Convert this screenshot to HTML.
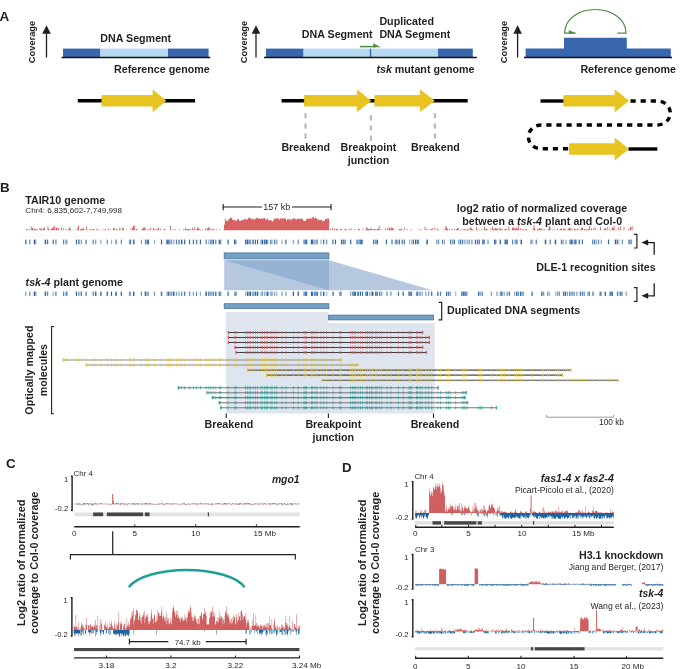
<!DOCTYPE html>
<html><head><meta charset="utf-8"><title>Figure</title>
<style>html,body{margin:0;padding:0;background:#fff;width:685px;height:669px;overflow:hidden}svg{display:block;will-change:transform}</style>
</head><body>
<svg width="685" height="669" viewBox="0 0 685 669" font-family='"Liberation Sans", sans-serif'>
<text x="-0.6" y="20.8" font-size="13.5" font-weight="bold" font-style="normal" text-anchor="start" fill="#231f20" >A</text>
<text x="0" y="191.6" font-size="13.4" font-weight="bold" font-style="normal" text-anchor="start" fill="#231f20" >B</text>
<text x="6" y="467.5" font-size="13.4" font-weight="bold" font-style="normal" text-anchor="start" fill="#231f20" >C</text>
<text x="342" y="471.6" font-size="13.3" font-weight="bold" font-style="normal" text-anchor="start" fill="#231f20" >D</text>
<line x1="46.5" y1="57.5" x2="46.5" y2="32" stroke="#231f20" stroke-width="1.3" />
<polygon points="46.5,25.2 42.2,33.8 50.8,33.8" fill="#231f20" />
<text transform="translate(35.1 42) rotate(-90)" font-size="9.3" font-weight="bold" text-anchor="middle" fill="#231f20">Coverage</text>
<line x1="256" y1="57.5" x2="256" y2="32" stroke="#231f20" stroke-width="1.3" />
<polygon points="256,25.2 251.7,33.8 260.3,33.8" fill="#231f20" />
<text transform="translate(247 42) rotate(-90)" font-size="9.3" font-weight="bold" text-anchor="middle" fill="#231f20">Coverage</text>
<line x1="517.6" y1="57.5" x2="517.6" y2="32" stroke="#231f20" stroke-width="1.3" />
<polygon points="517.6,25.2 513.3,33.8 521.9,33.8" fill="#231f20" />
<text transform="translate(506.8 42) rotate(-90)" font-size="9.3" font-weight="bold" text-anchor="middle" fill="#231f20">Coverage</text>
<rect x="63" y="48.6" width="37.4" height="8.6" fill="#3867ad" />
<rect x="100.4" y="48.6" width="67.6" height="8.6" fill="#b7d8f1" />
<rect x="168" y="48.6" width="40.6" height="8.6" fill="#3867ad" />
<line x1="61.5" y1="57.5" x2="210.2" y2="57.5" stroke="#111" stroke-width="1.3" />
<text x="100.3" y="42.2" font-size="10.7" font-weight="bold" font-style="normal" text-anchor="start" fill="#231f20" >DNA Segment</text>
<text x="114" y="73.2" font-size="10.7" font-weight="bold" font-style="normal" text-anchor="start" fill="#231f20" >Reference genome</text>
<rect x="265.9" y="48.6" width="37.7" height="8.6" fill="#3867ad" />
<rect x="303.6" y="48.6" width="134.3" height="8.6" fill="#b7d8f1" />
<rect x="437.9" y="48.6" width="34.9" height="8.6" fill="#3867ad" />
<rect x="369.9" y="48.6" width="1.3" height="8.6" fill="#3867ad" />
<line x1="264" y1="57.5" x2="476.8" y2="57.5" stroke="#111" stroke-width="1.3" />
<text x="301.8" y="38" font-size="10.7" font-weight="bold" font-style="normal" text-anchor="start" fill="#231f20" >DNA Segment</text>
<text x="379.4" y="24.5" font-size="10.7" font-weight="bold" font-style="normal" text-anchor="start" fill="#231f20" >Duplicated</text>
<text x="379.4" y="38" font-size="10.7" font-weight="bold" font-style="normal" text-anchor="start" fill="#231f20" >DNA Segment</text>
<text x="376.4" y="72.8" font-size="10.7" font-weight="bold" fill="#231f20"><tspan font-style="italic">tsk</tspan> mutant genome</text>
<line x1="360" y1="46.6" x2="376" y2="46.6" stroke="#4f8a3f" stroke-width="1.5" />
<polygon points="373.2,43.3 380.8,47.3 373.2,47.3" fill="#4f8a3f" />
<path d="M525.6 57.2 V48.5 H564 V37.7 H626.8 V48.5 H670.8 V57.2 Z" fill="#3867ad" stroke="none" stroke-width="1" />
<line x1="524" y1="57.5" x2="672" y2="57.5" stroke="#111" stroke-width="1.3" />
<text x="580.4" y="72.8" font-size="10.7" font-weight="bold" font-style="normal" text-anchor="start" fill="#231f20" >Reference genome</text>
<path d="M575.5 33.2 H564.6 C564.6 18 580 9.5 595.3 9.5 C610.6 9.5 626 18 626 33.2 H617.3" fill="none" stroke="#4f8a3f" stroke-width="1.2" />
<polygon points="568.8,30 576.2,33.6 568.8,33.6" fill="#4f8a3f" />
<line x1="77.8" y1="100.8" x2="195" y2="100.8" stroke="#000" stroke-width="3.4" />
<polygon points="101.9,95.5 153,95.5 153,90.1 165.8,100.8 153,111.5 153,106.1 101.9,106.1" fill="#e9c31f" stroke="#e9c31f" stroke-width="0.8" stroke-linejoin="round"/>
<line x1="281.6" y1="100.8" x2="467.7" y2="100.8" stroke="#000" stroke-width="3.4" />
<polygon points="304.3,95.5 357.4,95.5 357.4,90.1 370.8,100.8 357.4,111.5 357.4,106.1 304.3,106.1" fill="#e9c31f" stroke="#e9c31f" stroke-width="0.8" stroke-linejoin="round"/>
<polygon points="374.8,95.5 420.2,95.5 420.2,90.1 434.3,100.8 420.2,111.5 420.2,106.1 374.8,106.1" fill="#e9c31f" stroke="#e9c31f" stroke-width="0.8" stroke-linejoin="round"/>
<rect x="304.4" y="113.1" width="2.2" height="5.2" fill="#b9b9b9" />
<rect x="304.4" y="123.4" width="2.2" height="5.2" fill="#b9b9b9" />
<rect x="304.4" y="133.4" width="2.2" height="5.2" fill="#b9b9b9" />
<rect x="369.8" y="115.3" width="2.2" height="5.2" fill="#b9b9b9" />
<rect x="369.8" y="125.3" width="2.2" height="5.2" fill="#b9b9b9" />
<rect x="369.8" y="135.6" width="2.2" height="5.2" fill="#b9b9b9" />
<rect x="433.8" y="113.1" width="2.2" height="5.2" fill="#b9b9b9" />
<rect x="433.8" y="123.4" width="2.2" height="5.2" fill="#b9b9b9" />
<rect x="433.8" y="133.4" width="2.2" height="5.2" fill="#b9b9b9" />
<text x="281.4" y="150.8" font-size="10.7" font-weight="bold" font-style="normal" text-anchor="start" fill="#231f20" >Breakend</text>
<text x="340.6" y="150.8" font-size="10.7" font-weight="bold" font-style="normal" text-anchor="start" fill="#231f20" >Breakpoint</text>
<text x="347.7" y="163.5" font-size="10.7" font-weight="bold" font-style="normal" text-anchor="start" fill="#231f20" >junction</text>
<text x="411" y="150.8" font-size="10.7" font-weight="bold" font-style="normal" text-anchor="start" fill="#231f20" >Breakend</text>
<line x1="540.5" y1="101" x2="564" y2="101" stroke="#000" stroke-width="3.4" />
<polygon points="563.8,95.5 615.1,95.5 615.1,90.1 628.6,100.8 615.1,111.5 615.1,106.1 563.8,106.1" fill="#e9c31f" stroke="#e9c31f" stroke-width="0.8" stroke-linejoin="round"/>
<path d="M627.5 101 H657.5 A12.8 12 0 0 1 657.5 125 H541 A12.6 11.9 0 0 0 541 148.8 H569.5" fill="none" stroke="#000" stroke-width="3.4" stroke-dasharray="5.2 4.9" stroke-dashoffset="-3"/>
<polygon points="569.4,143.7 615,143.7 615,138.3 628.6,149 615,159.7 615,154.3 569.4,154.3" fill="#e9c31f" stroke="#e9c31f" stroke-width="0.8" stroke-linejoin="round"/>
<line x1="628.5" y1="149" x2="657.3" y2="149" stroke="#000" stroke-width="3.4" />
<text x="25.2" y="204" font-size="10.7" font-weight="bold" font-style="normal" text-anchor="start" fill="#231f20" >TAIR10 genome</text>
<text x="25.3" y="212.5" font-size="8.1" font-weight="normal" font-style="normal" text-anchor="start" fill="#231f20" >Chr4: 6,835,602-7,749,998</text>
<line x1="222.7" y1="207" x2="262" y2="207" stroke="#231f20" stroke-width="1.1" />
<line x1="292" y1="207" x2="331.5" y2="207" stroke="#231f20" stroke-width="1.1" />
<line x1="223.2" y1="204" x2="223.2" y2="210.3" stroke="#231f20" stroke-width="1.1" />
<line x1="331" y1="204" x2="331" y2="210.3" stroke="#231f20" stroke-width="1.1" />
<text x="276.8" y="210.2" font-size="9" font-weight="normal" font-style="normal" text-anchor="middle" fill="#231f20" >157 kb</text>
<text x="542" y="211.8" font-size="10.7" font-weight="bold" font-style="normal" text-anchor="middle" fill="#231f20" >log2 ratio of normalized coverage</text>
<text x="542.2" y="224.8" font-size="10.7" font-weight="bold" text-anchor="middle" fill="#231f20">between a <tspan font-style="italic">tsk-4</tspan> plant and Col-0</text>
<path d="M25 230.2 L25 230.2 L25.9 230.2 L25.9 229.29 L26.8 229.29 L26.8 229.01 L27.7 229.01 L27.7 230.2 L28.6 230.2 L28.6 230.2 L29.5 230.2 L29.5 228.39 L30.4 228.39 L30.4 230.2 L31.3 230.2 L31.3 226.26 L32.2 226.26 L32.2 228.04 L33.1 228.04 L33.1 229.53 L34 229.53 L34 228.75 L34.9 228.75 L34.9 228.88 L35.8 228.88 L35.8 229.63 L36.7 229.63 L36.7 229.05 L37.6 229.05 L37.6 230.2 L38.5 230.2 L38.5 230.2 L39.4 230.2 L39.4 228.04 L40.3 228.04 L40.3 228.73 L41.2 228.73 L41.2 228.69 L42.1 228.69 L42.1 230.2 L43 230.2 L43 228.09 L43.9 228.09 L43.9 227.39 L44.8 227.39 L44.8 230.2 L45.7 230.2 L45.7 230.2 L46.6 230.2 L46.6 230.2 L47.5 230.2 L47.5 226.33 L48.4 226.33 L48.4 229.37 L49.3 229.37 L49.3 229.28 L50.2 229.28 L50.2 230.2 L51.1 230.2 L51.1 229.06 L52 229.06 L52 227.71 L52.9 227.71 L52.9 227.43 L53.8 227.43 L53.8 225.86 L54.7 225.86 L54.7 230.2 L55.6 230.2 L55.6 227.26 L56.5 227.26 L56.5 227.89 L57.4 227.89 L57.4 229.47 L58.3 229.47 L58.3 227.88 L59.2 227.88 L59.2 230.2 L60.1 230.2 L60.1 230.2 L61 230.2 L61 227.22 L61.9 227.22 L61.9 230.2 L62.8 230.2 L62.8 228.14 L63.7 228.14 L63.7 230.2 L64.6 230.2 L64.6 230.2 L65.5 230.2 L65.5 228.74 L66.4 228.74 L66.4 230.2 L67.3 230.2 L67.3 229.65 L68.2 229.65 L68.2 229.34 L69.1 229.34 L69.1 227.23 L70 227.23 L70 228.6 L70.9 228.6 L70.9 230.2 L71.8 230.2 L71.8 230.2 L72.7 230.2 L72.7 229.67 L73.6 229.67 L73.6 230.2 L74.5 230.2 L74.5 230.2 L75.4 230.2 L75.4 229.53 L76.3 229.53 L76.3 230.2 L77.2 230.2 L77.2 228.3 L78.1 228.3 L78.1 225.41 L79 225.41 L79 230.2 L79.9 230.2 L79.9 229.13 L80.8 229.13 L80.8 229.04 L81.7 229.04 L81.7 229.02 L82.6 229.02 L82.6 227.99 L83.5 227.99 L83.5 228.91 L84.4 228.91 L84.4 230.2 L85.3 230.2 L85.3 230.2 L86.2 230.2 L86.2 226.16 L87.1 226.16 L87.1 229.69 L88 229.69 L88 230.2 L88.9 230.2 L88.9 229.68 L89.8 229.68 L89.8 229 L90.7 229 L90.7 230.2 L91.6 230.2 L91.6 229.19 L92.5 229.19 L92.5 229.31 L93.4 229.31 L93.4 228.89 L94.3 228.89 L94.3 230.2 L95.2 230.2 L95.2 230.2 L96.1 230.2 L96.1 228.64 L97 228.64 L97 230.2 L97.9 230.2 L97.9 229.05 L98.8 229.05 L98.8 230.2 L99.7 230.2 L99.7 230.2 L100.6 230.2 L100.6 230.2 L101.5 230.2 L101.5 230.2 L102.4 230.2 L102.4 229.37 L103.3 229.37 L103.3 230.2 L104.2 230.2 L104.2 229.67 L105.1 229.67 L105.1 228.89 L106 228.89 L106 230.2 L106.9 230.2 L106.9 230.2 L107.8 230.2 L107.8 228.42 L108.7 228.42 L108.7 230.2 L109.6 230.2 L109.6 228.93 L110.5 228.93 L110.5 230.2 L111.4 230.2 L111.4 230.2 L112.3 230.2 L112.3 230.2 L113.2 230.2 L113.2 228.1 L114.1 228.1 L114.1 228.53 L115 228.53 L115 230.2 L115.9 230.2 L115.9 228.73 L116.8 228.73 L116.8 229.45 L117.7 229.45 L117.7 230.2 L118.6 230.2 L118.6 229.49 L119.5 229.49 L119.5 227.46 L120.4 227.46 L120.4 230.2 L121.3 230.2 L121.3 230.2 L122.2 230.2 L122.2 227.77 L123.1 227.77 L123.1 228.25 L124 228.25 L124 230.2 L124.9 230.2 L124.9 230.2 L125.8 230.2 L125.8 229.4 L126.7 229.4 L126.7 230.2 L127.6 230.2 L127.6 230.2 L128.5 230.2 L128.5 230.2 L129.4 230.2 L129.4 230.2 L130.3 230.2 L130.3 228.55 L131.2 228.55 L131.2 230.2 L132.1 230.2 L132.1 227.39 L133 227.39 L133 226.33 L133.9 226.33 L133.9 225.35 L134.8 225.35 L134.8 230.2 L135.7 230.2 L135.7 228.78 L136.6 228.78 L136.6 229.13 L137.5 229.13 L137.5 230.2 L138.4 230.2 L138.4 230.2 L139.3 230.2 L139.3 230.2 L140.2 230.2 L140.2 230.2 L141.1 230.2 L141.1 229.38 L142 229.38 L142 228.73 L142.9 228.73 L142.9 227.69 L143.8 227.69 L143.8 227.37 L144.7 227.37 L144.7 227.88 L145.6 227.88 L145.6 230.2 L146.5 230.2 L146.5 229.51 L147.4 229.51 L147.4 230.2 L148.3 230.2 L148.3 229.12 L149.2 229.12 L149.2 230.2 L150.1 230.2 L150.1 227.82 L151 227.82 L151 230.2 L151.9 230.2 L151.9 230.2 L152.8 230.2 L152.8 228.04 L153.7 228.04 L153.7 229.31 L154.6 229.31 L154.6 230.2 L155.5 230.2 L155.5 228.8 L156.4 228.8 L156.4 230.2 L157.3 230.2 L157.3 228.69 L158.2 228.69 L158.2 227.48 L159.1 227.48 L159.1 230.2 L160 230.2 L160 228.75 L160.9 228.75 L160.9 230.2 L161.8 230.2 L161.8 230.2 L162.7 230.2 L162.7 230.2 L163.6 230.2 L163.6 229.23 L164.5 229.23 L164.5 228.85 L165.4 228.85 L165.4 230.2 L166.3 230.2 L166.3 230.2 L167.2 230.2 L167.2 230.2 L168.1 230.2 L168.1 230.2 L169 230.2 L169 230.2 L169.9 230.2 L169.9 225.49 L170.8 225.49 L170.8 230.2 L171.7 230.2 L171.7 229.35 L172.6 229.35 L172.6 230.2 L173.5 230.2 L173.5 230.2 L174.4 230.2 L174.4 229.05 L175.3 229.05 L175.3 230.2 L176.2 230.2 L176.2 230.2 L177.1 230.2 L177.1 230.2 L178 230.2 L178 230.2 L178.9 230.2 L178.9 228.91 L179.8 228.91 L179.8 230.2 L180.7 230.2 L180.7 230.2 L181.6 230.2 L181.6 230.2 L182.5 230.2 L182.5 230.2 L183.4 230.2 L183.4 228.84 L184.3 228.84 L184.3 230.2 L185.2 230.2 L185.2 227.8 L186.1 227.8 L186.1 229.29 L187 229.29 L187 228.93 L187.9 228.93 L187.9 228.94 L188.8 228.94 L188.8 229.43 L189.7 229.43 L189.7 228.94 L190.6 228.94 L190.6 230.2 L191.5 230.2 L191.5 229.23 L192.4 229.23 L192.4 227.3 L193.3 227.3 L193.3 230.2 L194.2 230.2 L194.2 227.53 L195.1 227.53 L195.1 230.2 L196 230.2 L196 229.56 L196.9 229.56 L196.9 227.74 L197.8 227.74 L197.8 227.53 L198.7 227.53 L198.7 228.89 L199.6 228.89 L199.6 229.59 L200.5 229.59 L200.5 229.69 L201.4 229.69 L201.4 230.2 L202.3 230.2 L202.3 229.65 L203.2 229.65 L203.2 230.2 L204.1 230.2 L204.1 230.2 L205 230.2 L205 228.51 L205.9 228.51 L205.9 230.2 L206.8 230.2 L206.8 228.61 L207.7 228.61 L207.7 227.72 L208.6 227.72 L208.6 227.28 L209.5 227.28 L209.5 228.82 L210.4 228.82 L210.4 230.2 L211.3 230.2 L211.3 229.14 L212.2 229.14 L212.2 229.58 L213.1 229.58 L213.1 228.67 L214 228.67 L214 230.2 L214.9 230.2 L214.9 230.2 L215.8 230.2 L215.8 228.79 L216.7 228.79 L216.7 230.2 L217.6 230.2 L217.6 230.2 L218.5 230.2 L218.5 230.2 L219.4 230.2 L219.4 228.87 L220.3 228.87 L220.3 230.2 L221.2 230.2 L221.2 230.2 L222.1 230.2 L222.1 230.2 L223 230.2 L223 230.2 L223.9 230.2 L223.9 224.66 L224.8 224.66 L224.8 218.81 L225.7 218.81 L225.7 221.17 L226.6 221.17 L226.6 220.23 L227.5 220.23 L227.5 220.9 L228.4 220.9 L228.4 219.3 L229.3 219.3 L229.3 218.38 L230.2 218.38 L230.2 217.41 L231.1 217.41 L231.1 217.91 L232 217.91 L232 219.59 L232.9 219.59 L232.9 220.28 L233.8 220.28 L233.8 219.79 L234.7 219.79 L234.7 220.57 L235.6 220.57 L235.6 221.33 L236.5 221.33 L236.5 220.08 L237.4 220.08 L237.4 219.25 L238.3 219.25 L238.3 219.09 L239.2 219.09 L239.2 220.94 L240.1 220.94 L240.1 221.03 L241 221.03 L241 220.24 L241.9 220.24 L241.9 219.77 L242.8 219.77 L242.8 219.94 L243.7 219.94 L243.7 219.55 L244.6 219.55 L244.6 218.67 L245.5 218.67 L245.5 219.38 L246.4 219.38 L246.4 219.54 L247.3 219.54 L247.3 219.09 L248.2 219.09 L248.2 217.64 L249.1 217.64 L249.1 217.4 L250 217.4 L250 218.17 L250.9 218.17 L250.9 218.67 L251.8 218.67 L251.8 219.6 L252.7 219.6 L252.7 218.57 L253.6 218.57 L253.6 219.59 L254.5 219.59 L254.5 219.34 L255.4 219.34 L255.4 218.51 L256.3 218.51 L256.3 217.63 L257.2 217.63 L257.2 217.95 L258.1 217.95 L258.1 218.69 L259 218.69 L259 218.37 L259.9 218.37 L259.9 219.04 L260.8 219.04 L260.8 218.35 L261.7 218.35 L261.7 218.45 L262.6 218.45 L262.6 219.08 L263.5 219.08 L263.5 217.96 L264.4 217.96 L264.4 218.35 L265.3 218.35 L265.3 219.34 L266.2 219.34 L266.2 219.7 L267.1 219.7 L267.1 218.51 L268 218.51 L268 220.03 L268.9 220.03 L268.9 220.48 L269.8 220.48 L269.8 220.16 L270.7 220.16 L270.7 219.94 L271.6 219.94 L271.6 221.19 L272.5 221.19 L272.5 221.39 L273.4 221.39 L273.4 219.52 L274.3 219.52 L274.3 218.27 L275.2 218.27 L275.2 218.73 L276.1 218.73 L276.1 218.67 L277 218.67 L277 218.09 L277.9 218.09 L277.9 218.64 L278.8 218.64 L278.8 220 L279.7 220 L279.7 217.85 L280.6 217.85 L280.6 218.67 L281.5 218.67 L281.5 218.69 L282.4 218.69 L282.4 218.17 L283.3 218.17 L283.3 218.45 L284.2 218.45 L284.2 218.02 L285.1 218.02 L285.1 218.82 L286 218.82 L286 220.48 L286.9 220.48 L286.9 219.27 L287.8 219.27 L287.8 219.48 L288.7 219.48 L288.7 218.7 L289.6 218.7 L289.6 219.31 L290.5 219.31 L290.5 220.37 L291.4 220.37 L291.4 219.08 L292.3 219.08 L292.3 218.64 L293.2 218.64 L293.2 218.5 L294.1 218.5 L294.1 218.25 L295 218.25 L295 219.1 L295.9 219.1 L295.9 219.7 L296.8 219.7 L296.8 218.43 L297.7 218.43 L297.7 218.63 L298.6 218.63 L298.6 218.79 L299.5 218.79 L299.5 219.27 L300.4 219.27 L300.4 218.27 L301.3 218.27 L301.3 219.08 L302.2 219.08 L302.2 218.92 L303.1 218.92 L303.1 220.76 L304 220.76 L304 221.09 L304.9 221.09 L304.9 221.03 L305.8 221.03 L305.8 219.44 L306.7 219.44 L306.7 218.67 L307.6 218.67 L307.6 218.24 L308.5 218.24 L308.5 218.68 L309.4 218.68 L309.4 219.1 L310.3 219.1 L310.3 217.52 L311.2 217.52 L311.2 219.28 L312.1 219.28 L312.1 217.37 L313 217.37 L313 216.74 L313.9 216.74 L313.9 218.63 L314.8 218.63 L314.8 217.62 L315.7 217.62 L315.7 218.06 L316.6 218.06 L316.6 219.09 L317.5 219.09 L317.5 219.55 L318.4 219.55 L318.4 220.4 L319.3 220.4 L319.3 219.52 L320.2 219.52 L320.2 219.88 L321.1 219.88 L321.1 219.39 L322 219.39 L322 221.4 L322.9 221.4 L322.9 220.87 L323.8 220.87 L323.8 221.01 L324.7 221.01 L324.7 219.35 L325.6 219.35 L325.6 218.46 L326.5 218.46 L326.5 219.43 L327.4 219.43 L327.4 218.06 L328.3 218.06 L328.3 218.85 L329.2 218.85 L329.2 230.2 L330.1 230.2 L330.1 229.01 L331 229.01 L331 230.2 L331.9 230.2 L331.9 227.75 L332.8 227.75 L332.8 230.2 L333.7 230.2 L333.7 228.57 L334.6 228.57 L334.6 230.2 L335.5 230.2 L335.5 229.04 L336.4 229.04 L336.4 228.99 L337.3 228.99 L337.3 229.36 L338.2 229.36 L338.2 230.2 L339.1 230.2 L339.1 230.2 L340 230.2 L340 228.87 L340.9 228.87 L340.9 228.89 L341.8 228.89 L341.8 230.2 L342.7 230.2 L342.7 230.2 L343.6 230.2 L343.6 230.2 L344.5 230.2 L344.5 228.73 L345.4 228.73 L345.4 229.43 L346.3 229.43 L346.3 229.31 L347.2 229.31 L347.2 230.2 L348.1 230.2 L348.1 230.2 L349 230.2 L349 228.85 L349.9 228.85 L349.9 230.2 L350.8 230.2 L350.8 228.62 L351.7 228.62 L351.7 230.2 L352.6 230.2 L352.6 230.2 L353.5 230.2 L353.5 230.2 L354.4 230.2 L354.4 228.9 L355.3 228.9 L355.3 230.2 L356.2 230.2 L356.2 230.2 L357.1 230.2 L357.1 230.2 L358 230.2 L358 228.8 L358.9 228.8 L358.9 229.05 L359.8 229.05 L359.8 230.2 L360.7 230.2 L360.7 230.2 L361.6 230.2 L361.6 230.2 L362.5 230.2 L362.5 229.07 L363.4 229.07 L363.4 230.2 L364.3 230.2 L364.3 230.2 L365.2 230.2 L365.2 229.67 L366.1 229.67 L366.1 227.37 L367 227.37 L367 228.19 L367.9 228.19 L367.9 229.06 L368.8 229.06 L368.8 228.63 L369.7 228.63 L369.7 229.37 L370.6 229.37 L370.6 228.03 L371.5 228.03 L371.5 228.9 L372.4 228.9 L372.4 230.2 L373.3 230.2 L373.3 228.97 L374.2 228.97 L374.2 229.12 L375.1 229.12 L375.1 229.49 L376 229.49 L376 229.66 L376.9 229.66 L376.9 228.99 L377.8 228.99 L377.8 229.08 L378.7 229.08 L378.7 225.42 L379.6 225.42 L379.6 230.2 L380.5 230.2 L380.5 229.01 L381.4 229.01 L381.4 230.2 L382.3 230.2 L382.3 230.2 L383.2 230.2 L383.2 230.2 L384.1 230.2 L384.1 230.2 L385 230.2 L385 228.68 L385.9 228.68 L385.9 230.2 L386.8 230.2 L386.8 227.69 L387.7 227.69 L387.7 230.2 L388.6 230.2 L388.6 227.84 L389.5 227.84 L389.5 227.65 L390.4 227.65 L390.4 229.32 L391.3 229.32 L391.3 227.31 L392.2 227.31 L392.2 228.1 L393.1 228.1 L393.1 229.17 L394 229.17 L394 230.2 L394.9 230.2 L394.9 230.2 L395.8 230.2 L395.8 230.2 L396.7 230.2 L396.7 230.2 L397.6 230.2 L397.6 230.2 L398.5 230.2 L398.5 228.93 L399.4 228.93 L399.4 229.24 L400.3 229.24 L400.3 229.36 L401.2 229.36 L401.2 228.87 L402.1 228.87 L402.1 230.2 L403 230.2 L403 230.2 L403.9 230.2 L403.9 227.65 L404.8 227.65 L404.8 230.2 L405.7 230.2 L405.7 230.2 L406.6 230.2 L406.6 229.04 L407.5 229.04 L407.5 230.2 L408.4 230.2 L408.4 230.2 L409.3 230.2 L409.3 230.2 L410.2 230.2 L410.2 229.54 L411.1 229.54 L411.1 229.49 L412 229.49 L412 230.2 L412.9 230.2 L412.9 230.2 L413.8 230.2 L413.8 230.2 L414.7 230.2 L414.7 230.2 L415.6 230.2 L415.6 230.2 L416.5 230.2 L416.5 230.2 L417.4 230.2 L417.4 230.2 L418.3 230.2 L418.3 229.63 L419.2 229.63 L419.2 230.2 L420.1 230.2 L420.1 229.25 L421 229.25 L421 229.64 L421.9 229.64 L421.9 230.2 L422.8 230.2 L422.8 230.2 L423.7 230.2 L423.7 230.2 L424.6 230.2 L424.6 226.76 L425.5 226.76 L425.5 230.2 L426.4 230.2 L426.4 229.52 L427.3 229.52 L427.3 229.32 L428.2 229.32 L428.2 230.2 L429.1 230.2 L429.1 230.2 L430 230.2 L430 229.4 L430.9 229.4 L430.9 229.19 L431.8 229.19 L431.8 228.32 L432.7 228.32 L432.7 230.2 L433.6 230.2 L433.6 230.2 L434.5 230.2 L434.5 227.79 L435.4 227.79 L435.4 230.2 L436.3 230.2 L436.3 230.2 L437.2 230.2 L437.2 228.63 L438.1 228.63 L438.1 229.7 L439 229.7 L439 230.2 L439.9 230.2 L439.9 230.2 L440.8 230.2 L440.8 230.2 L441.7 230.2 L441.7 230.2 L442.6 230.2 L442.6 230.2 L443.5 230.2 L443.5 228.71 L444.4 228.71 L444.4 230.2 L445.3 230.2 L445.3 226.25 L446.2 226.25 L446.2 227.33 L447.1 227.33 L447.1 228.75 L448 228.75 L448 230.2 L448.9 230.2 L448.9 228.66 L449.8 228.66 L449.8 230.2 L450.7 230.2 L450.7 230.2 L451.6 230.2 L451.6 228.62 L452.5 228.62 L452.5 230.2 L453.4 230.2 L453.4 230.2 L454.3 230.2 L454.3 228.68 L455.2 228.68 L455.2 230.2 L456.1 230.2 L456.1 228.89 L457 228.89 L457 227.91 L457.9 227.91 L457.9 228.22 L458.8 228.22 L458.8 230.2 L459.7 230.2 L459.7 230.2 L460.6 230.2 L460.6 229.17 L461.5 229.17 L461.5 230.2 L462.4 230.2 L462.4 230.2 L463.3 230.2 L463.3 229.03 L464.2 229.03 L464.2 229.27 L465.1 229.27 L465.1 229.53 L466 229.53 L466 229.67 L466.9 229.67 L466.9 228.87 L467.8 228.87 L467.8 229.59 L468.7 229.59 L468.7 230.2 L469.6 230.2 L469.6 227.77 L470.5 227.77 L470.5 227.4 L471.4 227.4 L471.4 228.71 L472.3 228.71 L472.3 229.33 L473.2 229.33 L473.2 230.2 L474.1 230.2 L474.1 230.2 L475 230.2 L475 230.2 L475.9 230.2 L475.9 226.99 L476.8 226.99 L476.8 229.58 L477.7 229.58 L477.7 230.2 L478.6 230.2 L478.6 229.44 L479.5 229.44 L479.5 230.2 L480.4 230.2 L480.4 230.2 L481.3 230.2 L481.3 229.06 L482.2 229.06 L482.2 230.2 L483.1 230.2 L483.1 230.2 L484 230.2 L484 226.76 L484.9 226.76 L484.9 229.24 L485.8 229.24 L485.8 229.04 L486.7 229.04 L486.7 229.11 L487.6 229.11 L487.6 230.2 L488.5 230.2 L488.5 230.2 L489.4 230.2 L489.4 230.2 L490.3 230.2 L490.3 228.62 L491.2 228.62 L491.2 230.2 L492.1 230.2 L492.1 226.8 L493 226.8 L493 228.66 L493.9 228.66 L493.9 229.45 L494.8 229.45 L494.8 227.82 L495.7 227.82 L495.7 228.86 L496.6 228.86 L496.6 228.25 L497.5 228.25 L497.5 229.21 L498.4 229.21 L498.4 230.2 L499.3 230.2 L499.3 227.85 L500.2 227.85 L500.2 228.47 L501.1 228.47 L501.1 229.19 L502 229.19 L502 229.62 L502.9 229.62 L502.9 230.2 L503.8 230.2 L503.8 229.62 L504.7 229.62 L504.7 228.89 L505.6 228.89 L505.6 228.99 L506.5 228.99 L506.5 229.46 L507.4 229.46 L507.4 230.2 L508.3 230.2 L508.3 226.53 L509.2 226.53 L509.2 229.61 L510.1 229.61 L510.1 230.2 L511 230.2 L511 230.2 L511.9 230.2 L511.9 227.64 L512.8 227.64 L512.8 227.22 L513.7 227.22 L513.7 228.68 L514.6 228.68 L514.6 229.24 L515.5 229.24 L515.5 227.36 L516.4 227.36 L516.4 228.03 L517.3 228.03 L517.3 229.25 L518.2 229.25 L518.2 225.36 L519.1 225.36 L519.1 230.2 L520 230.2 L520 228.5 L520.9 228.5 L520.9 230.2 L521.8 230.2 L521.8 229.38 L522.7 229.38 L522.7 229 L523.6 229 L523.6 230.2 L524.5 230.2 L524.5 229.4 L525.4 229.4 L525.4 229.32 L526.3 229.32 L526.3 228.88 L527.2 228.88 L527.2 230.2 L528.1 230.2 L528.1 230.2 L529 230.2 L529 230.2 L529.9 230.2 L529.9 230.2 L530.8 230.2 L530.8 230.2 L531.7 230.2 L531.7 230.2 L532.6 230.2 L532.6 228.93 L533.5 228.93 L533.5 225.24 L534.4 225.24 L534.4 228.2 L535.3 228.2 L535.3 230.2 L536.2 230.2 L536.2 230.2 L537.1 230.2 L537.1 229.12 L538 229.12 L538 229.3 L538.9 229.3 L538.9 228.34 L539.8 228.34 L539.8 228.72 L540.7 228.72 L540.7 228.32 L541.6 228.32 L541.6 230.2 L542.5 230.2 L542.5 228.78 L543.4 228.78 L543.4 230.2 L544.3 230.2 L544.3 229.11 L545.2 229.11 L545.2 230.2 L546.1 230.2 L546.1 230.2 L547 230.2 L547 230.2 L547.9 230.2 L547.9 229.19 L548.8 229.19 L548.8 225.63 L549.7 225.63 L549.7 227.13 L550.6 227.13 L550.6 230.2 L551.5 230.2 L551.5 230.2 L552.4 230.2 L552.4 229.33 L553.3 229.33 L553.3 230.2 L554.2 230.2 L554.2 229.6 L555.1 229.6 L555.1 230.2 L556 230.2 L556 230.2 L556.9 230.2 L556.9 228.13 L557.8 228.13 L557.8 230.2 L558.7 230.2 L558.7 230.2 L559.6 230.2 L559.6 229.01 L560.5 229.01 L560.5 228.7 L561.4 228.7 L561.4 228.4 L562.3 228.4 L562.3 230.2 L563.2 230.2 L563.2 228.83 L564.1 228.83 L564.1 228.79 L565 228.79 L565 229.39 L565.9 229.39 L565.9 230.2 L566.8 230.2 L566.8 230.2 L567.7 230.2 L567.7 228.71 L568.6 228.71 L568.6 228.05 L569.5 228.05 L569.5 228.68 L570.4 228.68 L570.4 227.84 L571.3 227.84 L571.3 230.2 L572.2 230.2 L572.2 229.51 L573.1 229.51 L573.1 230.2 L574 230.2 L574 228.61 L574.9 228.61 L574.9 229.25 L575.8 229.25 L575.8 230.2 L576.7 230.2 L576.7 228.82 L577.6 228.82 L577.6 228.64 L578.5 228.64 L578.5 230.2 L579.4 230.2 L579.4 230.2 L580.3 230.2 L580.3 229.25 L581.2 229.25 L581.2 227.48 L582.1 227.48 L582.1 227.82 L583 227.82 L583 230.2 L583.9 230.2 L583.9 229.1 L584.8 229.1 L584.8 229.39 L585.7 229.39 L585.7 228.7 L586.6 228.7 L586.6 230.2 L587.5 230.2 L587.5 229.29 L588.4 229.29 L588.4 228.71 L589.3 228.71 L589.3 225.91 L590.2 225.91 L590.2 230.2 L591.1 230.2 L591.1 228.51 L592 228.51 L592 230.2 L592.9 230.2 L592.9 228.29 L593.8 228.29 L593.8 230.2 L594.7 230.2 L594.7 227.29 L595.6 227.29 L595.6 230.2 L596.5 230.2 L596.5 230.2 L597.4 230.2 L597.4 230.2 L598.3 230.2 L598.3 230.2 L599.2 230.2 L599.2 230.2 L600.1 230.2 L600.1 227.04 L601 227.04 L601 230.2 L601.9 230.2 L601.9 230.2 L602.8 230.2 L602.8 230.2 L603.7 230.2 L603.7 228.88 L604.6 228.88 L604.6 227.79 L605.5 227.79 L605.5 228.79 L606.4 228.79 L606.4 230.2 L607.3 230.2 L607.3 227.06 L608.2 227.06 L608.2 230.2 L609.1 230.2 L609.1 229.41 L610 229.41 L610 229.65 L610.9 229.65 L610.9 230.2 L611.8 230.2 L611.8 226.91 L612.7 226.91 L612.7 228.52 L613.6 228.52 L613.6 225.85 L614.5 225.85 L614.5 229.54 L615.4 229.54 L615.4 230.2 L616.3 230.2 L616.3 229.51 L617.2 229.51 L617.2 230.2 L618.1 230.2 L618.1 227.4 L619 227.4 L619 230.2 L619.9 230.2 L619.9 226.13 L620.8 226.13 L620.8 230.2 L621.7 230.2 L621.7 230.2 L622.6 230.2 L622.6 230.2 L623.5 230.2 L623.5 226.64 L624.4 226.64 L624.4 230.2 L625.3 230.2 L625.3 230.2 L626.2 230.2 L626.2 230.2 L627.1 230.2 L627.1 230.2 L628 230.2 L628 228.68 L628.9 228.68 L628.9 230.2 L629.8 230.2 L629.8 227.2 L630.7 227.2 L630.7 226.71 L631.6 226.71 L631.6 230.2 L632.5 230.2 L632.5 226.23 L633.4 226.23 L633 230.2 Z" fill="#d86262" stroke="none" stroke-width="1" />
<rect x="25.05" y="239.6" width="1.5" height="4.7" fill="#2a66a3" opacity="0.8"/>
<rect x="29.2" y="239.6" width="1.2" height="4.7" fill="#2a66a3" opacity="0.8"/>
<rect x="33.75" y="239.6" width="1.5" height="4.7" fill="#2a66a3" opacity="1"/>
<rect x="35.2" y="239.6" width="1.2" height="4.7" fill="#2a66a3" opacity="0.5"/>
<rect x="44.65" y="239.6" width="1.5" height="4.7" fill="#2a66a3" opacity="1"/>
<rect x="47" y="239.6" width="1.2" height="4.7" fill="#2a66a3" opacity="0.9"/>
<rect x="52.65" y="239.6" width="1.1" height="4.7" fill="#2a66a3" opacity="1"/>
<rect x="55.15" y="239.6" width="1.5" height="4.7" fill="#2a66a3" opacity="0.65"/>
<rect x="63" y="239.6" width="1.2" height="4.7" fill="#2a66a3" opacity="0.8"/>
<rect x="65.35" y="239.6" width="1.1" height="4.7" fill="#2a66a3" opacity="0.65"/>
<rect x="66.35" y="239.6" width="1.1" height="4.7" fill="#2a66a3" opacity="0.65"/>
<rect x="75.85" y="239.6" width="1.1" height="4.7" fill="#2a66a3" opacity="1"/>
<rect x="78.3" y="239.6" width="1.2" height="4.7" fill="#2a66a3" opacity="1"/>
<rect x="80.75" y="239.6" width="1.1" height="4.7" fill="#2a66a3" opacity="0.65"/>
<rect x="85.45" y="239.6" width="1.3" height="4.7" fill="#2a66a3" opacity="0.8"/>
<rect x="92.6" y="239.6" width="1.2" height="4.7" fill="#2a66a3" opacity="0.8"/>
<rect x="95.1" y="239.6" width="1.2" height="4.7" fill="#2a66a3" opacity="0.65"/>
<rect x="100.25" y="239.6" width="1.3" height="4.7" fill="#2a66a3" opacity="0.5"/>
<rect x="106.75" y="239.6" width="1.1" height="4.7" fill="#2a66a3" opacity="0.8"/>
<rect x="110.95" y="239.6" width="1.1" height="4.7" fill="#2a66a3" opacity="0.5"/>
<rect x="115.45" y="239.6" width="1.3" height="4.7" fill="#2a66a3" opacity="0.8"/>
<rect x="120.75" y="239.6" width="1.1" height="4.7" fill="#2a66a3" opacity="0.8"/>
<rect x="128.85" y="239.6" width="1.3" height="4.7" fill="#2a66a3" opacity="0.5"/>
<rect x="129.9" y="239.6" width="1.2" height="4.7" fill="#2a66a3" opacity="0.9"/>
<rect x="132.85" y="239.6" width="1.3" height="4.7" fill="#2a66a3" opacity="0.65"/>
<rect x="133.35" y="239.6" width="1.1" height="4.7" fill="#2a66a3" opacity="1"/>
<rect x="140.85" y="239.6" width="1.1" height="4.7" fill="#2a66a3" opacity="0.65"/>
<rect x="144.85" y="239.6" width="1.1" height="4.7" fill="#2a66a3" opacity="0.8"/>
<rect x="146.45" y="239.6" width="1.5" height="4.7" fill="#2a66a3" opacity="0.9"/>
<rect x="147.85" y="239.6" width="1.1" height="4.7" fill="#2a66a3" opacity="1"/>
<rect x="153.95" y="239.6" width="1.1" height="4.7" fill="#2a66a3" opacity="0.5"/>
<rect x="160.9" y="239.6" width="1.2" height="4.7" fill="#2a66a3" opacity="1"/>
<rect x="166.35" y="239.6" width="1.5" height="4.7" fill="#2a66a3" opacity="1"/>
<rect x="167.75" y="239.6" width="1.5" height="4.7" fill="#2a66a3" opacity="0.8"/>
<rect x="169.45" y="239.6" width="1.1" height="4.7" fill="#2a66a3" opacity="0.8"/>
<rect x="171.1" y="239.6" width="1.2" height="4.7" fill="#2a66a3" opacity="0.65"/>
<rect x="173.15" y="239.6" width="1.3" height="4.7" fill="#2a66a3" opacity="0.5"/>
<rect x="175.85" y="239.6" width="1.1" height="4.7" fill="#2a66a3" opacity="0.9"/>
<rect x="178.35" y="239.6" width="1.3" height="4.7" fill="#2a66a3" opacity="0.9"/>
<rect x="180.95" y="239.6" width="1.5" height="4.7" fill="#2a66a3" opacity="1"/>
<rect x="184.1" y="239.6" width="1.2" height="4.7" fill="#2a66a3" opacity="1"/>
<rect x="189.05" y="239.6" width="1.1" height="4.7" fill="#2a66a3" opacity="1"/>
<rect x="192.85" y="239.6" width="1.1" height="4.7" fill="#2a66a3" opacity="1"/>
<rect x="195.85" y="239.6" width="1.5" height="4.7" fill="#2a66a3" opacity="0.8"/>
<rect x="199.8" y="239.6" width="1.2" height="4.7" fill="#2a66a3" opacity="1"/>
<rect x="205.6" y="239.6" width="1.2" height="4.7" fill="#2a66a3" opacity="0.8"/>
<rect x="208.2" y="239.6" width="1.2" height="4.7" fill="#2a66a3" opacity="0.5"/>
<rect x="210.15" y="239.6" width="1.5" height="4.7" fill="#2a66a3" opacity="0.8"/>
<rect x="212.45" y="239.6" width="1.5" height="4.7" fill="#2a66a3" opacity="1"/>
<rect x="215.2" y="239.6" width="1.2" height="4.7" fill="#2a66a3" opacity="0.8"/>
<rect x="218.65" y="239.6" width="1.3" height="4.7" fill="#2a66a3" opacity="1"/>
<rect x="220.05" y="239.6" width="1.3" height="4.7" fill="#2a66a3" opacity="0.65"/>
<rect x="227.5" y="239.6" width="1.2" height="4.7" fill="#2a66a3" opacity="1"/>
<rect x="234.05" y="239.6" width="1.5" height="4.7" fill="#2a66a3" opacity="1"/>
<rect x="235.45" y="239.6" width="1.1" height="4.7" fill="#2a66a3" opacity="0.65"/>
<rect x="245" y="239.6" width="1.2" height="4.7" fill="#2a66a3" opacity="1"/>
<rect x="246.65" y="239.6" width="1.5" height="4.7" fill="#2a66a3" opacity="1"/>
<rect x="248.55" y="239.6" width="1.1" height="4.7" fill="#2a66a3" opacity="0.9"/>
<rect x="249.85" y="239.6" width="1.3" height="4.7" fill="#2a66a3" opacity="0.65"/>
<rect x="252.35" y="239.6" width="1.5" height="4.7" fill="#2a66a3" opacity="0.9"/>
<rect x="254.85" y="239.6" width="1.1" height="4.7" fill="#2a66a3" opacity="1"/>
<rect x="256.9" y="239.6" width="1.2" height="4.7" fill="#2a66a3" opacity="1"/>
<rect x="260.4" y="239.6" width="1.2" height="4.7" fill="#2a66a3" opacity="0.65"/>
<rect x="261.75" y="239.6" width="1.3" height="4.7" fill="#2a66a3" opacity="1"/>
<rect x="263.75" y="239.6" width="1.5" height="4.7" fill="#2a66a3" opacity="0.9"/>
<rect x="265.55" y="239.6" width="1.5" height="4.7" fill="#2a66a3" opacity="1"/>
<rect x="267.1" y="239.6" width="1.2" height="4.7" fill="#2a66a3" opacity="0.65"/>
<rect x="270.1" y="239.6" width="1.2" height="4.7" fill="#2a66a3" opacity="0.8"/>
<rect x="271.5" y="239.6" width="1.2" height="4.7" fill="#2a66a3" opacity="0.5"/>
<rect x="274.1" y="239.6" width="1.2" height="4.7" fill="#2a66a3" opacity="0.9"/>
<rect x="276.2" y="239.6" width="1.2" height="4.7" fill="#2a66a3" opacity="0.65"/>
<rect x="281.4" y="239.6" width="1.2" height="4.7" fill="#2a66a3" opacity="0.5"/>
<rect x="285.3" y="239.6" width="1.2" height="4.7" fill="#2a66a3" opacity="1"/>
<rect x="292.65" y="239.6" width="1.5" height="4.7" fill="#2a66a3" opacity="0.5"/>
<rect x="297.65" y="239.6" width="1.1" height="4.7" fill="#2a66a3" opacity="0.8"/>
<rect x="303.45" y="239.6" width="1.1" height="4.7" fill="#2a66a3" opacity="0.8"/>
<rect x="304.65" y="239.6" width="1.1" height="4.7" fill="#2a66a3" opacity="1"/>
<rect x="305.95" y="239.6" width="1.3" height="4.7" fill="#2a66a3" opacity="1"/>
<rect x="310.75" y="239.6" width="1.5" height="4.7" fill="#2a66a3" opacity="1"/>
<rect x="311.95" y="239.6" width="1.5" height="4.7" fill="#2a66a3" opacity="0.9"/>
<rect x="314.25" y="239.6" width="1.5" height="4.7" fill="#2a66a3" opacity="0.65"/>
<rect x="316.5" y="239.6" width="1.2" height="4.7" fill="#2a66a3" opacity="0.9"/>
<rect x="320.35" y="239.6" width="1.1" height="4.7" fill="#2a66a3" opacity="0.5"/>
<rect x="323.1" y="239.6" width="1.2" height="4.7" fill="#2a66a3" opacity="1"/>
<rect x="326.15" y="239.6" width="1.1" height="4.7" fill="#2a66a3" opacity="0.8"/>
<rect x="332.3" y="239.6" width="1.2" height="4.7" fill="#2a66a3" opacity="0.9"/>
<rect x="334.95" y="239.6" width="1.1" height="4.7" fill="#2a66a3" opacity="1"/>
<rect x="340.95" y="239.6" width="1.3" height="4.7" fill="#2a66a3" opacity="1"/>
<rect x="342.65" y="239.6" width="1.5" height="4.7" fill="#2a66a3" opacity="0.8"/>
<rect x="344.55" y="239.6" width="1.1" height="4.7" fill="#2a66a3" opacity="1"/>
<rect x="350.1" y="239.6" width="1.2" height="4.7" fill="#2a66a3" opacity="1"/>
<rect x="356.35" y="239.6" width="1.3" height="4.7" fill="#2a66a3" opacity="0.9"/>
<rect x="358.2" y="239.6" width="1.2" height="4.7" fill="#2a66a3" opacity="0.65"/>
<rect x="359.55" y="239.6" width="1.3" height="4.7" fill="#2a66a3" opacity="1"/>
<rect x="361.15" y="239.6" width="1.5" height="4.7" fill="#2a66a3" opacity="1"/>
<rect x="373.1" y="239.6" width="1.2" height="4.7" fill="#2a66a3" opacity="0.9"/>
<rect x="374.85" y="239.6" width="1.1" height="4.7" fill="#2a66a3" opacity="0.65"/>
<rect x="376.45" y="239.6" width="1.5" height="4.7" fill="#2a66a3" opacity="1"/>
<rect x="385.75" y="239.6" width="1.3" height="4.7" fill="#2a66a3" opacity="0.9"/>
<rect x="391.45" y="239.6" width="1.1" height="4.7" fill="#2a66a3" opacity="1"/>
<rect x="394.65" y="239.6" width="1.1" height="4.7" fill="#2a66a3" opacity="0.65"/>
<rect x="395.85" y="239.6" width="1.1" height="4.7" fill="#2a66a3" opacity="0.8"/>
<rect x="397.05" y="239.6" width="1.3" height="4.7" fill="#2a66a3" opacity="0.5"/>
<rect x="398.8" y="239.6" width="1.2" height="4.7" fill="#2a66a3" opacity="0.9"/>
<rect x="401.65" y="239.6" width="1.1" height="4.7" fill="#2a66a3" opacity="1"/>
<rect x="403.65" y="239.6" width="1.3" height="4.7" fill="#2a66a3" opacity="0.8"/>
<rect x="409.05" y="239.6" width="1.1" height="4.7" fill="#2a66a3" opacity="0.5"/>
<rect x="411.1" y="239.6" width="1.2" height="4.7" fill="#2a66a3" opacity="0.5"/>
<rect x="412.75" y="239.6" width="1.3" height="4.7" fill="#2a66a3" opacity="0.9"/>
<rect x="414.95" y="239.6" width="1.5" height="4.7" fill="#2a66a3" opacity="1"/>
<rect x="417.25" y="239.6" width="1.5" height="4.7" fill="#2a66a3" opacity="1"/>
<rect x="426.35" y="239.6" width="1.5" height="4.7" fill="#2a66a3" opacity="1"/>
<rect x="436.15" y="239.6" width="1.1" height="4.7" fill="#2a66a3" opacity="0.65"/>
<rect x="437.75" y="239.6" width="1.5" height="4.7" fill="#2a66a3" opacity="0.65"/>
<rect x="441.95" y="239.6" width="1.1" height="4.7" fill="#2a66a3" opacity="0.8"/>
<rect x="443.75" y="239.6" width="1.1" height="4.7" fill="#2a66a3" opacity="0.65"/>
<rect x="450.15" y="239.6" width="1.1" height="4.7" fill="#2a66a3" opacity="1"/>
<rect x="451.95" y="239.6" width="1.1" height="4.7" fill="#2a66a3" opacity="0.5"/>
<rect x="453.45" y="239.6" width="1.5" height="4.7" fill="#2a66a3" opacity="0.9"/>
<rect x="457.95" y="239.6" width="1.3" height="4.7" fill="#2a66a3" opacity="0.5"/>
<rect x="459.65" y="239.6" width="1.5" height="4.7" fill="#2a66a3" opacity="0.8"/>
<rect x="461.75" y="239.6" width="1.5" height="4.7" fill="#2a66a3" opacity="0.8"/>
<rect x="464.25" y="239.6" width="1.1" height="4.7" fill="#2a66a3" opacity="0.65"/>
<rect x="466.45" y="239.6" width="1.1" height="4.7" fill="#2a66a3" opacity="0.65"/>
<rect x="468.55" y="239.6" width="1.1" height="4.7" fill="#2a66a3" opacity="0.9"/>
<rect x="471.35" y="239.6" width="1.1" height="4.7" fill="#2a66a3" opacity="0.8"/>
<rect x="474.85" y="239.6" width="1.1" height="4.7" fill="#2a66a3" opacity="1"/>
<rect x="476.75" y="239.6" width="1.5" height="4.7" fill="#2a66a3" opacity="0.8"/>
<rect x="478.75" y="239.6" width="1.1" height="4.7" fill="#2a66a3" opacity="0.9"/>
<rect x="482.15" y="239.6" width="1.3" height="4.7" fill="#2a66a3" opacity="0.9"/>
<rect x="483.6" y="239.6" width="1.2" height="4.7" fill="#2a66a3" opacity="1"/>
<rect x="487.4" y="239.6" width="1.2" height="4.7" fill="#2a66a3" opacity="0.65"/>
<rect x="493.95" y="239.6" width="1.5" height="4.7" fill="#2a66a3" opacity="0.9"/>
<rect x="495.3" y="239.6" width="1.2" height="4.7" fill="#2a66a3" opacity="0.8"/>
<rect x="499.55" y="239.6" width="1.5" height="4.7" fill="#2a66a3" opacity="0.9"/>
<rect x="504.05" y="239.6" width="1.3" height="4.7" fill="#2a66a3" opacity="0.5"/>
<rect x="505.15" y="239.6" width="1.5" height="4.7" fill="#2a66a3" opacity="1"/>
<rect x="506.7" y="239.6" width="1.2" height="4.7" fill="#2a66a3" opacity="1"/>
<rect x="512" y="239.6" width="1.2" height="4.7" fill="#2a66a3" opacity="0.8"/>
<rect x="514.55" y="239.6" width="1.3" height="4.7" fill="#2a66a3" opacity="0.65"/>
<rect x="516.3" y="239.6" width="1.2" height="4.7" fill="#2a66a3" opacity="1"/>
<rect x="520.55" y="239.6" width="1.5" height="4.7" fill="#2a66a3" opacity="1"/>
<rect x="530.45" y="239.6" width="1.1" height="4.7" fill="#2a66a3" opacity="0.9"/>
<rect x="532.15" y="239.6" width="1.1" height="4.7" fill="#2a66a3" opacity="0.5"/>
<rect x="535.6" y="239.6" width="1.2" height="4.7" fill="#2a66a3" opacity="0.9"/>
<rect x="544.75" y="239.6" width="1.5" height="4.7" fill="#2a66a3" opacity="1"/>
<rect x="549.55" y="239.6" width="1.3" height="4.7" fill="#2a66a3" opacity="0.8"/>
<rect x="554.75" y="239.6" width="1.5" height="4.7" fill="#2a66a3" opacity="1"/>
<rect x="560.85" y="239.6" width="1.5" height="4.7" fill="#2a66a3" opacity="0.8"/>
<rect x="562.75" y="239.6" width="1.3" height="4.7" fill="#2a66a3" opacity="0.5"/>
<rect x="565.25" y="239.6" width="1.5" height="4.7" fill="#2a66a3" opacity="0.5"/>
<rect x="569.45" y="239.6" width="1.1" height="4.7" fill="#2a66a3" opacity="0.9"/>
<rect x="570.55" y="239.6" width="1.3" height="4.7" fill="#2a66a3" opacity="1"/>
<rect x="571.65" y="239.6" width="1.1" height="4.7" fill="#2a66a3" opacity="0.65"/>
<rect x="572.35" y="239.6" width="1.3" height="4.7" fill="#2a66a3" opacity="0.5"/>
<rect x="574.15" y="239.6" width="1.3" height="4.7" fill="#2a66a3" opacity="0.65"/>
<rect x="574.75" y="239.6" width="1.1" height="4.7" fill="#2a66a3" opacity="0.9"/>
<rect x="575.9" y="239.6" width="1.2" height="4.7" fill="#2a66a3" opacity="0.5"/>
<rect x="578.55" y="239.6" width="1.5" height="4.7" fill="#2a66a3" opacity="0.8"/>
<rect x="581.75" y="239.6" width="1.1" height="4.7" fill="#2a66a3" opacity="1"/>
<rect x="592.2" y="239.6" width="1.2" height="4.7" fill="#2a66a3" opacity="0.9"/>
<rect x="594.25" y="239.6" width="1.1" height="4.7" fill="#2a66a3" opacity="1"/>
<rect x="596.05" y="239.6" width="1.1" height="4.7" fill="#2a66a3" opacity="0.5"/>
<rect x="598.05" y="239.6" width="1.1" height="4.7" fill="#2a66a3" opacity="0.8"/>
<rect x="600.65" y="239.6" width="1.3" height="4.7" fill="#2a66a3" opacity="0.5"/>
<rect x="607.9" y="239.6" width="1.2" height="4.7" fill="#2a66a3" opacity="1"/>
<rect x="614.75" y="239.6" width="1.5" height="4.7" fill="#2a66a3" opacity="1"/>
<rect x="616.7" y="239.6" width="1.2" height="4.7" fill="#2a66a3" opacity="0.9"/>
<rect x="618.45" y="239.6" width="1.1" height="4.7" fill="#2a66a3" opacity="0.5"/>
<rect x="621.75" y="239.6" width="1.1" height="4.7" fill="#2a66a3" opacity="0.8"/>
<rect x="628.4" y="239.6" width="1.2" height="4.7" fill="#2a66a3" opacity="1"/>
<rect x="630.35" y="239.6" width="1.3" height="4.7" fill="#2a66a3" opacity="0.9"/>
<rect x="25.2" y="291.6" width="1.2" height="4.3" fill="#2a66a3" opacity="0.65"/>
<rect x="29.2" y="291.6" width="1.2" height="4.3" fill="#2a66a3" opacity="0.8"/>
<rect x="33.75" y="291.6" width="1.5" height="4.3" fill="#2a66a3" opacity="1"/>
<rect x="35.05" y="291.6" width="1.5" height="4.3" fill="#2a66a3" opacity="0.5"/>
<rect x="44.65" y="291.6" width="1.5" height="4.3" fill="#2a66a3" opacity="1"/>
<rect x="47" y="291.6" width="1.2" height="4.3" fill="#2a66a3" opacity="0.8"/>
<rect x="52.65" y="291.6" width="1.1" height="4.3" fill="#2a66a3" opacity="0.5"/>
<rect x="55.25" y="291.6" width="1.3" height="4.3" fill="#2a66a3" opacity="0.8"/>
<rect x="62.95" y="291.6" width="1.3" height="4.3" fill="#2a66a3" opacity="0.8"/>
<rect x="65.3" y="291.6" width="1.2" height="4.3" fill="#2a66a3" opacity="0.5"/>
<rect x="66.35" y="291.6" width="1.1" height="4.3" fill="#2a66a3" opacity="1"/>
<rect x="75.8" y="291.6" width="1.2" height="4.3" fill="#2a66a3" opacity="1"/>
<rect x="78.35" y="291.6" width="1.1" height="4.3" fill="#2a66a3" opacity="0.8"/>
<rect x="80.65" y="291.6" width="1.3" height="4.3" fill="#2a66a3" opacity="0.9"/>
<rect x="85.55" y="291.6" width="1.1" height="4.3" fill="#2a66a3" opacity="0.9"/>
<rect x="92.65" y="291.6" width="1.1" height="4.3" fill="#2a66a3" opacity="0.9"/>
<rect x="94.95" y="291.6" width="1.5" height="4.3" fill="#2a66a3" opacity="1"/>
<rect x="100.15" y="291.6" width="1.5" height="4.3" fill="#2a66a3" opacity="0.9"/>
<rect x="106.55" y="291.6" width="1.5" height="4.3" fill="#2a66a3" opacity="0.9"/>
<rect x="110.9" y="291.6" width="1.2" height="4.3" fill="#2a66a3" opacity="1"/>
<rect x="115.35" y="291.6" width="1.5" height="4.3" fill="#2a66a3" opacity="1"/>
<rect x="120.7" y="291.6" width="1.2" height="4.3" fill="#2a66a3" opacity="1"/>
<rect x="128.85" y="291.6" width="1.3" height="4.3" fill="#2a66a3" opacity="0.65"/>
<rect x="129.9" y="291.6" width="1.2" height="4.3" fill="#2a66a3" opacity="0.5"/>
<rect x="132.9" y="291.6" width="1.2" height="4.3" fill="#2a66a3" opacity="0.8"/>
<rect x="133.15" y="291.6" width="1.5" height="4.3" fill="#2a66a3" opacity="0.65"/>
<rect x="140.85" y="291.6" width="1.1" height="4.3" fill="#2a66a3" opacity="0.8"/>
<rect x="144.65" y="291.6" width="1.5" height="4.3" fill="#2a66a3" opacity="1"/>
<rect x="146.55" y="291.6" width="1.3" height="4.3" fill="#2a66a3" opacity="0.65"/>
<rect x="147.8" y="291.6" width="1.2" height="4.3" fill="#2a66a3" opacity="0.5"/>
<rect x="153.85" y="291.6" width="1.3" height="4.3" fill="#2a66a3" opacity="0.65"/>
<rect x="160.75" y="291.6" width="1.5" height="4.3" fill="#2a66a3" opacity="0.9"/>
<rect x="166.5" y="291.6" width="1.2" height="4.3" fill="#2a66a3" opacity="0.65"/>
<rect x="167.9" y="291.6" width="1.2" height="4.3" fill="#2a66a3" opacity="0.9"/>
<rect x="169.35" y="291.6" width="1.3" height="4.3" fill="#2a66a3" opacity="0.65"/>
<rect x="170.95" y="291.6" width="1.5" height="4.3" fill="#2a66a3" opacity="0.65"/>
<rect x="173.05" y="291.6" width="1.5" height="4.3" fill="#2a66a3" opacity="1"/>
<rect x="175.85" y="291.6" width="1.1" height="4.3" fill="#2a66a3" opacity="0.65"/>
<rect x="178.45" y="291.6" width="1.1" height="4.3" fill="#2a66a3" opacity="0.65"/>
<rect x="180.95" y="291.6" width="1.5" height="4.3" fill="#2a66a3" opacity="0.65"/>
<rect x="184.15" y="291.6" width="1.1" height="4.3" fill="#2a66a3" opacity="1"/>
<rect x="188.85" y="291.6" width="1.5" height="4.3" fill="#2a66a3" opacity="0.65"/>
<rect x="192.85" y="291.6" width="1.1" height="4.3" fill="#2a66a3" opacity="0.65"/>
<rect x="196.05" y="291.6" width="1.1" height="4.3" fill="#2a66a3" opacity="0.8"/>
<rect x="199.8" y="291.6" width="1.2" height="4.3" fill="#2a66a3" opacity="0.5"/>
<rect x="205.45" y="291.6" width="1.5" height="4.3" fill="#2a66a3" opacity="1"/>
<rect x="208.05" y="291.6" width="1.5" height="4.3" fill="#2a66a3" opacity="0.8"/>
<rect x="210.3" y="291.6" width="1.2" height="4.3" fill="#2a66a3" opacity="0.9"/>
<rect x="212.45" y="291.6" width="1.5" height="4.3" fill="#2a66a3" opacity="0.8"/>
<rect x="215.15" y="291.6" width="1.3" height="4.3" fill="#2a66a3" opacity="1"/>
<rect x="218.55" y="291.6" width="1.5" height="4.3" fill="#2a66a3" opacity="0.8"/>
<rect x="220.05" y="291.6" width="1.3" height="4.3" fill="#2a66a3" opacity="0.65"/>
<rect x="227.5" y="291.6" width="1.2" height="4.3" fill="#2a66a3" opacity="1"/>
<rect x="234.25" y="291.6" width="1.1" height="4.3" fill="#2a66a3" opacity="0.8"/>
<rect x="235.4" y="291.6" width="1.2" height="4.3" fill="#2a66a3" opacity="0.9"/>
<rect x="245.05" y="291.6" width="1.1" height="4.3" fill="#2a66a3" opacity="0.5"/>
<rect x="246.8" y="291.6" width="1.2" height="4.3" fill="#2a66a3" opacity="1"/>
<rect x="248.5" y="291.6" width="1.2" height="4.3" fill="#2a66a3" opacity="1"/>
<rect x="249.85" y="291.6" width="1.3" height="4.3" fill="#2a66a3" opacity="1"/>
<rect x="252.45" y="291.6" width="1.3" height="4.3" fill="#2a66a3" opacity="0.9"/>
<rect x="254.65" y="291.6" width="1.5" height="4.3" fill="#2a66a3" opacity="1"/>
<rect x="256.75" y="291.6" width="1.5" height="4.3" fill="#2a66a3" opacity="1"/>
<rect x="260.45" y="291.6" width="1.1" height="4.3" fill="#2a66a3" opacity="0.5"/>
<rect x="261.75" y="291.6" width="1.3" height="4.3" fill="#2a66a3" opacity="0.65"/>
<rect x="263.9" y="291.6" width="1.2" height="4.3" fill="#2a66a3" opacity="0.5"/>
<rect x="265.55" y="291.6" width="1.5" height="4.3" fill="#2a66a3" opacity="0.5"/>
<rect x="266.95" y="291.6" width="1.5" height="4.3" fill="#2a66a3" opacity="1"/>
<rect x="269.95" y="291.6" width="1.5" height="4.3" fill="#2a66a3" opacity="0.5"/>
<rect x="271.5" y="291.6" width="1.2" height="4.3" fill="#2a66a3" opacity="0.65"/>
<rect x="274.1" y="291.6" width="1.2" height="4.3" fill="#2a66a3" opacity="0.65"/>
<rect x="276.2" y="291.6" width="1.2" height="4.3" fill="#2a66a3" opacity="0.5"/>
<rect x="281.4" y="291.6" width="1.2" height="4.3" fill="#2a66a3" opacity="0.65"/>
<rect x="285.3" y="291.6" width="1.2" height="4.3" fill="#2a66a3" opacity="0.65"/>
<rect x="292.75" y="291.6" width="1.3" height="4.3" fill="#2a66a3" opacity="1"/>
<rect x="297.55" y="291.6" width="1.3" height="4.3" fill="#2a66a3" opacity="1"/>
<rect x="303.35" y="291.6" width="1.3" height="4.3" fill="#2a66a3" opacity="0.65"/>
<rect x="304.6" y="291.6" width="1.2" height="4.3" fill="#2a66a3" opacity="1"/>
<rect x="306.05" y="291.6" width="1.1" height="4.3" fill="#2a66a3" opacity="1"/>
<rect x="310.9" y="291.6" width="1.2" height="4.3" fill="#2a66a3" opacity="1"/>
<rect x="312.15" y="291.6" width="1.1" height="4.3" fill="#2a66a3" opacity="1"/>
<rect x="314.25" y="291.6" width="1.5" height="4.3" fill="#2a66a3" opacity="0.9"/>
<rect x="316.35" y="291.6" width="1.5" height="4.3" fill="#2a66a3" opacity="1"/>
<rect x="320.3" y="291.6" width="1.2" height="4.3" fill="#2a66a3" opacity="0.8"/>
<rect x="322.95" y="291.6" width="1.5" height="4.3" fill="#2a66a3" opacity="1"/>
<rect x="326.15" y="291.6" width="1.1" height="4.3" fill="#2a66a3" opacity="0.5"/>
<rect x="332.5" y="291.6" width="1.2" height="4.3" fill="#2a66a3" opacity="1"/>
<rect x="339.15" y="291.6" width="1.3" height="4.3" fill="#2a66a3" opacity="0.65"/>
<rect x="340.45" y="291.6" width="1.1" height="4.3" fill="#2a66a3" opacity="0.9"/>
<rect x="349.95" y="291.6" width="1.3" height="4.3" fill="#2a66a3" opacity="0.5"/>
<rect x="351.8" y="291.6" width="1.2" height="4.3" fill="#2a66a3" opacity="0.65"/>
<rect x="353.35" y="291.6" width="1.5" height="4.3" fill="#2a66a3" opacity="1"/>
<rect x="354.95" y="291.6" width="1.1" height="4.3" fill="#2a66a3" opacity="1"/>
<rect x="357.35" y="291.6" width="1.5" height="4.3" fill="#2a66a3" opacity="1"/>
<rect x="359.8" y="291.6" width="1.2" height="4.3" fill="#2a66a3" opacity="1"/>
<rect x="361.95" y="291.6" width="1.1" height="4.3" fill="#2a66a3" opacity="1"/>
<rect x="365.4" y="291.6" width="1.2" height="4.3" fill="#2a66a3" opacity="1"/>
<rect x="366.75" y="291.6" width="1.3" height="4.3" fill="#2a66a3" opacity="1"/>
<rect x="368.95" y="291.6" width="1.1" height="4.3" fill="#2a66a3" opacity="0.5"/>
<rect x="370.75" y="291.6" width="1.1" height="4.3" fill="#2a66a3" opacity="0.65"/>
<rect x="371.95" y="291.6" width="1.5" height="4.3" fill="#2a66a3" opacity="1"/>
<rect x="375.15" y="291.6" width="1.1" height="4.3" fill="#2a66a3" opacity="1"/>
<rect x="376.35" y="291.6" width="1.5" height="4.3" fill="#2a66a3" opacity="0.9"/>
<rect x="378.95" y="291.6" width="1.5" height="4.3" fill="#2a66a3" opacity="0.8"/>
<rect x="381.15" y="291.6" width="1.3" height="4.3" fill="#2a66a3" opacity="0.65"/>
<rect x="386.4" y="291.6" width="1.2" height="4.3" fill="#2a66a3" opacity="0.8"/>
<rect x="390.25" y="291.6" width="1.3" height="4.3" fill="#2a66a3" opacity="0.65"/>
<rect x="397.85" y="291.6" width="1.1" height="4.3" fill="#2a66a3" opacity="1"/>
<rect x="402.6" y="291.6" width="1.2" height="4.3" fill="#2a66a3" opacity="1"/>
<rect x="408.25" y="291.6" width="1.5" height="4.3" fill="#2a66a3" opacity="0.8"/>
<rect x="409.55" y="291.6" width="1.3" height="4.3" fill="#2a66a3" opacity="0.9"/>
<rect x="411" y="291.6" width="1.2" height="4.3" fill="#2a66a3" opacity="0.8"/>
<rect x="415.9" y="291.6" width="1.2" height="4.3" fill="#2a66a3" opacity="0.65"/>
<rect x="417.15" y="291.6" width="1.1" height="4.3" fill="#2a66a3" opacity="1"/>
<rect x="419.45" y="291.6" width="1.1" height="4.3" fill="#2a66a3" opacity="0.9"/>
<rect x="421.35" y="291.6" width="1.5" height="4.3" fill="#2a66a3" opacity="0.5"/>
<rect x="425.3" y="291.6" width="1.2" height="4.3" fill="#2a66a3" opacity="0.65"/>
<rect x="428.05" y="291.6" width="1.3" height="4.3" fill="#2a66a3" opacity="0.65"/>
<rect x="431.05" y="291.6" width="1.3" height="4.3" fill="#2a66a3" opacity="0.9"/>
<rect x="437.3" y="291.6" width="1.2" height="4.3" fill="#2a66a3" opacity="1"/>
<rect x="439.9" y="291.6" width="1.2" height="4.3" fill="#2a66a3" opacity="0.8"/>
<rect x="445.95" y="291.6" width="1.3" height="4.3" fill="#2a66a3" opacity="0.9"/>
<rect x="447.8" y="291.6" width="1.2" height="4.3" fill="#2a66a3" opacity="0.8"/>
<rect x="449.5" y="291.6" width="1.2" height="4.3" fill="#2a66a3" opacity="0.8"/>
<rect x="455.1" y="291.6" width="1.2" height="4.3" fill="#2a66a3" opacity="0.5"/>
<rect x="461.35" y="291.6" width="1.3" height="4.3" fill="#2a66a3" opacity="1"/>
<rect x="463.05" y="291.6" width="1.5" height="4.3" fill="#2a66a3" opacity="0.9"/>
<rect x="464.65" y="291.6" width="1.1" height="4.3" fill="#2a66a3" opacity="1"/>
<rect x="466.35" y="291.6" width="1.1" height="4.3" fill="#2a66a3" opacity="0.9"/>
<rect x="478.05" y="291.6" width="1.3" height="4.3" fill="#2a66a3" opacity="1"/>
<rect x="479.75" y="291.6" width="1.3" height="4.3" fill="#2a66a3" opacity="0.5"/>
<rect x="481.6" y="291.6" width="1.2" height="4.3" fill="#2a66a3" opacity="0.9"/>
<rect x="490.65" y="291.6" width="1.5" height="4.3" fill="#2a66a3" opacity="0.5"/>
<rect x="496.4" y="291.6" width="1.2" height="4.3" fill="#2a66a3" opacity="0.65"/>
<rect x="499.65" y="291.6" width="1.1" height="4.3" fill="#2a66a3" opacity="0.65"/>
<rect x="500.65" y="291.6" width="1.5" height="4.3" fill="#2a66a3" opacity="0.8"/>
<rect x="502.1" y="291.6" width="1.2" height="4.3" fill="#2a66a3" opacity="0.5"/>
<rect x="503.85" y="291.6" width="1.1" height="4.3" fill="#2a66a3" opacity="0.5"/>
<rect x="506.65" y="291.6" width="1.1" height="4.3" fill="#2a66a3" opacity="0.8"/>
<rect x="508.75" y="291.6" width="1.1" height="4.3" fill="#2a66a3" opacity="1"/>
<rect x="514" y="291.6" width="1.2" height="4.3" fill="#2a66a3" opacity="0.5"/>
<rect x="515.95" y="291.6" width="1.5" height="4.3" fill="#2a66a3" opacity="0.9"/>
<rect x="517.85" y="291.6" width="1.1" height="4.3" fill="#2a66a3" opacity="0.8"/>
<rect x="519.95" y="291.6" width="1.5" height="4.3" fill="#2a66a3" opacity="1"/>
<rect x="522.45" y="291.6" width="1.1" height="4.3" fill="#2a66a3" opacity="1"/>
<rect x="531.45" y="291.6" width="1.3" height="4.3" fill="#2a66a3" opacity="0.9"/>
<rect x="541.05" y="291.6" width="1.3" height="4.3" fill="#2a66a3" opacity="0.9"/>
<rect x="542.75" y="291.6" width="1.5" height="4.3" fill="#2a66a3" opacity="0.65"/>
<rect x="546.95" y="291.6" width="1.1" height="4.3" fill="#2a66a3" opacity="0.65"/>
<rect x="548.55" y="291.6" width="1.5" height="4.3" fill="#2a66a3" opacity="0.5"/>
<rect x="555.15" y="291.6" width="1.1" height="4.3" fill="#2a66a3" opacity="0.5"/>
<rect x="556.95" y="291.6" width="1.1" height="4.3" fill="#2a66a3" opacity="0.65"/>
<rect x="558.6" y="291.6" width="1.2" height="4.3" fill="#2a66a3" opacity="0.8"/>
<rect x="562.85" y="291.6" width="1.5" height="4.3" fill="#2a66a3" opacity="0.8"/>
<rect x="564.65" y="291.6" width="1.5" height="4.3" fill="#2a66a3" opacity="1"/>
<rect x="566.95" y="291.6" width="1.1" height="4.3" fill="#2a66a3" opacity="0.65"/>
<rect x="569.05" y="291.6" width="1.5" height="4.3" fill="#2a66a3" opacity="0.8"/>
<rect x="571.35" y="291.6" width="1.3" height="4.3" fill="#2a66a3" opacity="0.8"/>
<rect x="573.35" y="291.6" width="1.5" height="4.3" fill="#2a66a3" opacity="0.65"/>
<rect x="576.25" y="291.6" width="1.3" height="4.3" fill="#2a66a3" opacity="0.65"/>
<rect x="579.75" y="291.6" width="1.3" height="4.3" fill="#2a66a3" opacity="0.9"/>
<rect x="581.85" y="291.6" width="1.3" height="4.3" fill="#2a66a3" opacity="0.8"/>
<rect x="583.65" y="291.6" width="1.3" height="4.3" fill="#2a66a3" opacity="0.65"/>
<rect x="587.15" y="291.6" width="1.3" height="4.3" fill="#2a66a3" opacity="0.5"/>
<rect x="588.65" y="291.6" width="1.1" height="4.3" fill="#2a66a3" opacity="1"/>
<rect x="592.45" y="291.6" width="1.1" height="4.3" fill="#2a66a3" opacity="1"/>
<rect x="599.1" y="291.6" width="1.2" height="4.3" fill="#2a66a3" opacity="0.5"/>
<rect x="600.15" y="291.6" width="1.5" height="4.3" fill="#2a66a3" opacity="0.8"/>
<rect x="604.65" y="291.6" width="1.3" height="4.3" fill="#2a66a3" opacity="1"/>
<rect x="608.95" y="291.6" width="1.5" height="4.3" fill="#2a66a3" opacity="0.5"/>
<rect x="610.25" y="291.6" width="1.3" height="4.3" fill="#2a66a3" opacity="1"/>
<rect x="611.7" y="291.6" width="1.2" height="4.3" fill="#2a66a3" opacity="1"/>
<rect x="616.85" y="291.6" width="1.5" height="4.3" fill="#2a66a3" opacity="0.8"/>
<rect x="619.6" y="291.6" width="1.2" height="4.3" fill="#2a66a3" opacity="0.9"/>
<rect x="621.35" y="291.6" width="1.1" height="4.3" fill="#2a66a3" opacity="1"/>
<rect x="625.55" y="291.6" width="1.5" height="4.3" fill="#2a66a3" opacity="0.5"/>
<path d="M634 234.3 H636.9 V248 H634" fill="none" stroke="#231f20" stroke-width="1.2" />
<path d="M634 287.7 H636.9 V301.3 H634" fill="none" stroke="#231f20" stroke-width="1.2" />
<path d="M654.2 254.8 V242.6 H646" fill="none" stroke="#231f20" stroke-width="1.3" />
<polygon points="641.4,242.6 648.2,239.6 648.2,245.6" fill="#231f20" />
<path d="M654.2 283.3 V295.8 H646" fill="none" stroke="#231f20" stroke-width="1.3" />
<polygon points="641.4,295.8 648.2,292.8 648.2,298.8" fill="#231f20" />
<text x="655.6" y="270.8" font-size="10.7" font-weight="bold" font-style="normal" text-anchor="end" fill="#231f20" >DLE-1 recognition sites</text>
<text x="25.6" y="285.6" font-size="10.7" font-weight="bold" fill="#231f20"><tspan font-style="italic">tsk-4</tspan> plant genome</text>
<rect x="224.2" y="252.9" width="104.7" height="6" fill="#74a0c7" stroke="#4f7298" stroke-width="0.8"/>
<polygon points="224.2,260.2 329,260.2 329,290.2 224.2,290.2" fill="#b5c8df" />
<polygon points="329,260.2 432.5,290.2 329,290.2" fill="#b5c8df" />
<polygon points="224.2,260.2 329,260.2 329,290.2" fill="#96b3d3" />
<polygon points="225.8,312 328.3,312 328.3,323 434.6,323 434.6,413.6 225.8,413.6" fill="#dee5ef" />
<rect x="224.2" y="303.7" width="104.7" height="4.9" fill="#74a0c7" stroke="#4f7298" stroke-width="0.8"/>
<rect x="328.6" y="315.1" width="105" height="4.8" fill="#74a0c7" stroke="#4f7298" stroke-width="0.8"/>
<path d="M438.6 302.3 H441.7 V319.8 H438.6" fill="none" stroke="#231f20" stroke-width="1.2" />
<text x="447" y="313.9" font-size="10.7" font-weight="bold" font-style="normal" text-anchor="start" fill="#231f20" >Duplicated DNA segments</text>
<text transform="translate(32.8 370.1) rotate(-90)" font-size="10.7" font-weight="bold" text-anchor="middle" fill="#231f20">Optically mapped</text>
<text transform="translate(47.4 370.1) rotate(-90)" font-size="10.7" font-weight="bold" text-anchor="middle" fill="#231f20">molecules</text>
<path d="M54 326.5 H51.6 V413.7 H54" fill="none" stroke="#231f20" stroke-width="1.1" />
<line x1="228.5" y1="332.5" x2="422.9" y2="332.5" stroke="#3d3d3d" stroke-width="1.05" />
<rect x="227.6" y="330.95" width="1" height="3.1" fill="#d05f60" opacity="0.72"/>
<rect x="234.3" y="330.95" width="1" height="3.1" fill="#d05f60" opacity="0.72"/>
<rect x="235.5" y="330.95" width="1" height="3.1" fill="#d05f60" opacity="0.72"/>
<rect x="245.1" y="330.95" width="1" height="3.1" fill="#d05f60" opacity="0.72"/>
<rect x="246.9" y="330.95" width="1" height="3.1" fill="#d05f60" opacity="0.72"/>
<rect x="248.6" y="330.95" width="1" height="3.1" fill="#d05f60" opacity="0.72"/>
<rect x="250" y="330.95" width="1" height="3.1" fill="#d05f60" opacity="0.72"/>
<rect x="252.6" y="330.95" width="1" height="3.1" fill="#d05f60" opacity="0.72"/>
<rect x="254.9" y="330.95" width="1" height="3.1" fill="#d05f60" opacity="0.72"/>
<rect x="257" y="330.95" width="1" height="3.1" fill="#d05f60" opacity="0.72"/>
<rect x="260.5" y="330.95" width="1" height="3.1" fill="#d05f60" opacity="0.72"/>
<rect x="261.9" y="330.95" width="1" height="3.1" fill="#d05f60" opacity="0.72"/>
<rect x="264" y="330.95" width="1" height="3.1" fill="#d05f60" opacity="0.72"/>
<rect x="265.8" y="330.95" width="1" height="3.1" fill="#d05f60" opacity="0.72"/>
<rect x="267.2" y="330.95" width="1" height="3.1" fill="#d05f60" opacity="0.72"/>
<rect x="270.2" y="330.95" width="1" height="3.1" fill="#d05f60" opacity="0.72"/>
<rect x="271.6" y="330.95" width="1" height="3.1" fill="#d05f60" opacity="0.72"/>
<rect x="274.2" y="330.95" width="1" height="3.1" fill="#d05f60" opacity="0.72"/>
<rect x="276.3" y="330.95" width="1" height="3.1" fill="#d05f60" opacity="0.72"/>
<rect x="281.5" y="330.95" width="1" height="3.1" fill="#d05f60" opacity="0.72"/>
<rect x="285.4" y="330.95" width="1" height="3.1" fill="#d05f60" opacity="0.72"/>
<rect x="292.9" y="330.95" width="1" height="3.1" fill="#d05f60" opacity="0.72"/>
<rect x="297.7" y="330.95" width="1" height="3.1" fill="#d05f60" opacity="0.72"/>
<rect x="303.5" y="330.95" width="1" height="3.1" fill="#d05f60" opacity="0.72"/>
<rect x="304.7" y="330.95" width="1" height="3.1" fill="#d05f60" opacity="0.72"/>
<rect x="306.1" y="330.95" width="1" height="3.1" fill="#d05f60" opacity="0.72"/>
<rect x="311" y="330.95" width="1" height="3.1" fill="#d05f60" opacity="0.72"/>
<rect x="312.2" y="330.95" width="1" height="3.1" fill="#d05f60" opacity="0.72"/>
<rect x="314.5" y="330.95" width="1" height="3.1" fill="#d05f60" opacity="0.72"/>
<rect x="316.6" y="330.95" width="1" height="3.1" fill="#d05f60" opacity="0.72"/>
<rect x="320.4" y="330.95" width="1" height="3.1" fill="#d05f60" opacity="0.72"/>
<rect x="323.2" y="330.95" width="1" height="3.1" fill="#d05f60" opacity="0.72"/>
<rect x="326.2" y="330.95" width="1" height="3.1" fill="#d05f60" opacity="0.72"/>
<rect x="332.6" y="330.95" width="1" height="3.1" fill="#d05f60" opacity="0.72"/>
<rect x="339.3" y="330.95" width="1" height="3.1" fill="#d05f60" opacity="0.72"/>
<rect x="340.5" y="330.95" width="1" height="3.1" fill="#d05f60" opacity="0.72"/>
<rect x="350.1" y="330.95" width="1" height="3.1" fill="#d05f60" opacity="0.72"/>
<rect x="351.9" y="330.95" width="1" height="3.1" fill="#d05f60" opacity="0.72"/>
<rect x="353.6" y="330.95" width="1" height="3.1" fill="#d05f60" opacity="0.72"/>
<rect x="355" y="330.95" width="1" height="3.1" fill="#d05f60" opacity="0.72"/>
<rect x="357.6" y="330.95" width="1" height="3.1" fill="#d05f60" opacity="0.72"/>
<rect x="359.9" y="330.95" width="1" height="3.1" fill="#d05f60" opacity="0.72"/>
<rect x="362" y="330.95" width="1" height="3.1" fill="#d05f60" opacity="0.72"/>
<rect x="365.5" y="330.95" width="1" height="3.1" fill="#d05f60" opacity="0.72"/>
<rect x="366.9" y="330.95" width="1" height="3.1" fill="#d05f60" opacity="0.72"/>
<rect x="369" y="330.95" width="1" height="3.1" fill="#d05f60" opacity="0.72"/>
<rect x="370.8" y="330.95" width="1" height="3.1" fill="#d05f60" opacity="0.72"/>
<rect x="372.2" y="330.95" width="1" height="3.1" fill="#d05f60" opacity="0.72"/>
<rect x="375.2" y="330.95" width="1" height="3.1" fill="#d05f60" opacity="0.72"/>
<rect x="376.6" y="330.95" width="1" height="3.1" fill="#d05f60" opacity="0.72"/>
<rect x="379.2" y="330.95" width="1" height="3.1" fill="#d05f60" opacity="0.72"/>
<rect x="381.3" y="330.95" width="1" height="3.1" fill="#d05f60" opacity="0.72"/>
<rect x="386.5" y="330.95" width="1" height="3.1" fill="#d05f60" opacity="0.72"/>
<rect x="390.4" y="330.95" width="1" height="3.1" fill="#d05f60" opacity="0.72"/>
<rect x="397.9" y="330.95" width="1" height="3.1" fill="#d05f60" opacity="0.72"/>
<rect x="402.7" y="330.95" width="1" height="3.1" fill="#d05f60" opacity="0.72"/>
<rect x="408.5" y="330.95" width="1" height="3.1" fill="#d05f60" opacity="0.72"/>
<rect x="409.7" y="330.95" width="1" height="3.1" fill="#d05f60" opacity="0.72"/>
<rect x="411.1" y="330.95" width="1" height="3.1" fill="#d05f60" opacity="0.72"/>
<rect x="416" y="330.95" width="1" height="3.1" fill="#d05f60" opacity="0.72"/>
<rect x="417.2" y="330.95" width="1" height="3.1" fill="#d05f60" opacity="0.72"/>
<rect x="419.5" y="330.95" width="1" height="3.1" fill="#d05f60" opacity="0.72"/>
<rect x="421.6" y="330.95" width="1" height="3.1" fill="#d05f60" opacity="0.72"/>
<rect x="228" y="330.9" width="1" height="3.2" fill="#d05f60" />
<rect x="422.4" y="330.9" width="1" height="3.2" fill="#d05f60" />
<line x1="228.5" y1="337.4" x2="429.5" y2="337.4" stroke="#3d3d3d" stroke-width="1.05" />
<rect x="227.6" y="335.85" width="1" height="3.1" fill="#d05f60" opacity="0.72"/>
<rect x="234.3" y="335.85" width="1" height="3.1" fill="#d05f60" opacity="0.72"/>
<rect x="235.5" y="335.85" width="1" height="3.1" fill="#d05f60" opacity="0.72"/>
<rect x="245.1" y="335.85" width="1" height="3.1" fill="#d05f60" opacity="0.72"/>
<rect x="246.9" y="335.85" width="1" height="3.1" fill="#d05f60" opacity="0.72"/>
<rect x="248.6" y="335.85" width="1" height="3.1" fill="#d05f60" opacity="0.72"/>
<rect x="250" y="335.85" width="1" height="3.1" fill="#d05f60" opacity="0.72"/>
<rect x="252.6" y="335.85" width="1" height="3.1" fill="#d05f60" opacity="0.72"/>
<rect x="254.9" y="335.85" width="1" height="3.1" fill="#d05f60" opacity="0.72"/>
<rect x="257" y="335.85" width="1" height="3.1" fill="#d05f60" opacity="0.72"/>
<rect x="260.5" y="335.85" width="1" height="3.1" fill="#d05f60" opacity="0.72"/>
<rect x="261.9" y="335.85" width="1" height="3.1" fill="#d05f60" opacity="0.72"/>
<rect x="264" y="335.85" width="1" height="3.1" fill="#d05f60" opacity="0.72"/>
<rect x="265.8" y="335.85" width="1" height="3.1" fill="#d05f60" opacity="0.72"/>
<rect x="267.2" y="335.85" width="1" height="3.1" fill="#d05f60" opacity="0.72"/>
<rect x="270.2" y="335.85" width="1" height="3.1" fill="#d05f60" opacity="0.72"/>
<rect x="271.6" y="335.85" width="1" height="3.1" fill="#d05f60" opacity="0.72"/>
<rect x="274.2" y="335.85" width="1" height="3.1" fill="#d05f60" opacity="0.72"/>
<rect x="276.3" y="335.85" width="1" height="3.1" fill="#d05f60" opacity="0.72"/>
<rect x="281.5" y="335.85" width="1" height="3.1" fill="#d05f60" opacity="0.72"/>
<rect x="285.4" y="335.85" width="1" height="3.1" fill="#d05f60" opacity="0.72"/>
<rect x="292.9" y="335.85" width="1" height="3.1" fill="#d05f60" opacity="0.72"/>
<rect x="297.7" y="335.85" width="1" height="3.1" fill="#d05f60" opacity="0.72"/>
<rect x="303.5" y="335.85" width="1" height="3.1" fill="#d05f60" opacity="0.72"/>
<rect x="304.7" y="335.85" width="1" height="3.1" fill="#d05f60" opacity="0.72"/>
<rect x="306.1" y="335.85" width="1" height="3.1" fill="#d05f60" opacity="0.72"/>
<rect x="311" y="335.85" width="1" height="3.1" fill="#d05f60" opacity="0.72"/>
<rect x="312.2" y="335.85" width="1" height="3.1" fill="#d05f60" opacity="0.72"/>
<rect x="314.5" y="335.85" width="1" height="3.1" fill="#d05f60" opacity="0.72"/>
<rect x="316.6" y="335.85" width="1" height="3.1" fill="#d05f60" opacity="0.72"/>
<rect x="320.4" y="335.85" width="1" height="3.1" fill="#d05f60" opacity="0.72"/>
<rect x="323.2" y="335.85" width="1" height="3.1" fill="#d05f60" opacity="0.72"/>
<rect x="326.2" y="335.85" width="1" height="3.1" fill="#d05f60" opacity="0.72"/>
<rect x="332.6" y="335.85" width="1" height="3.1" fill="#d05f60" opacity="0.72"/>
<rect x="339.3" y="335.85" width="1" height="3.1" fill="#d05f60" opacity="0.72"/>
<rect x="340.5" y="335.85" width="1" height="3.1" fill="#d05f60" opacity="0.72"/>
<rect x="350.1" y="335.85" width="1" height="3.1" fill="#d05f60" opacity="0.72"/>
<rect x="351.9" y="335.85" width="1" height="3.1" fill="#d05f60" opacity="0.72"/>
<rect x="353.6" y="335.85" width="1" height="3.1" fill="#d05f60" opacity="0.72"/>
<rect x="355" y="335.85" width="1" height="3.1" fill="#d05f60" opacity="0.72"/>
<rect x="357.6" y="335.85" width="1" height="3.1" fill="#d05f60" opacity="0.72"/>
<rect x="359.9" y="335.85" width="1" height="3.1" fill="#d05f60" opacity="0.72"/>
<rect x="362" y="335.85" width="1" height="3.1" fill="#d05f60" opacity="0.72"/>
<rect x="365.5" y="335.85" width="1" height="3.1" fill="#d05f60" opacity="0.72"/>
<rect x="366.9" y="335.85" width="1" height="3.1" fill="#d05f60" opacity="0.72"/>
<rect x="369" y="335.85" width="1" height="3.1" fill="#d05f60" opacity="0.72"/>
<rect x="370.8" y="335.85" width="1" height="3.1" fill="#d05f60" opacity="0.72"/>
<rect x="372.2" y="335.85" width="1" height="3.1" fill="#d05f60" opacity="0.72"/>
<rect x="375.2" y="335.85" width="1" height="3.1" fill="#d05f60" opacity="0.72"/>
<rect x="376.6" y="335.85" width="1" height="3.1" fill="#d05f60" opacity="0.72"/>
<rect x="379.2" y="335.85" width="1" height="3.1" fill="#d05f60" opacity="0.72"/>
<rect x="381.3" y="335.85" width="1" height="3.1" fill="#d05f60" opacity="0.72"/>
<rect x="386.5" y="335.85" width="1" height="3.1" fill="#d05f60" opacity="0.72"/>
<rect x="390.4" y="335.85" width="1" height="3.1" fill="#d05f60" opacity="0.72"/>
<rect x="397.9" y="335.85" width="1" height="3.1" fill="#d05f60" opacity="0.72"/>
<rect x="402.7" y="335.85" width="1" height="3.1" fill="#d05f60" opacity="0.72"/>
<rect x="408.5" y="335.85" width="1" height="3.1" fill="#d05f60" opacity="0.72"/>
<rect x="409.7" y="335.85" width="1" height="3.1" fill="#d05f60" opacity="0.72"/>
<rect x="411.1" y="335.85" width="1" height="3.1" fill="#d05f60" opacity="0.72"/>
<rect x="416" y="335.85" width="1" height="3.1" fill="#d05f60" opacity="0.72"/>
<rect x="417.2" y="335.85" width="1" height="3.1" fill="#d05f60" opacity="0.72"/>
<rect x="419.5" y="335.85" width="1" height="3.1" fill="#d05f60" opacity="0.72"/>
<rect x="421.6" y="335.85" width="1" height="3.1" fill="#d05f60" opacity="0.72"/>
<rect x="425.4" y="335.85" width="1" height="3.1" fill="#d05f60" opacity="0.72"/>
<rect x="428.2" y="335.85" width="1" height="3.1" fill="#d05f60" opacity="0.72"/>
<rect x="228" y="335.8" width="1" height="3.2" fill="#d05f60" />
<rect x="429" y="335.8" width="1" height="3.2" fill="#d05f60" />
<line x1="228.5" y1="342.4" x2="429.5" y2="342.4" stroke="#3d3d3d" stroke-width="1.05" />
<rect x="227.6" y="340.85" width="1" height="3.1" fill="#d05f60" opacity="0.72"/>
<rect x="234.3" y="340.85" width="1" height="3.1" fill="#d05f60" opacity="0.72"/>
<rect x="235.5" y="340.85" width="1" height="3.1" fill="#d05f60" opacity="0.72"/>
<rect x="245.1" y="340.85" width="1" height="3.1" fill="#d05f60" opacity="0.72"/>
<rect x="246.9" y="340.85" width="1" height="3.1" fill="#d05f60" opacity="0.72"/>
<rect x="248.6" y="340.85" width="1" height="3.1" fill="#d05f60" opacity="0.72"/>
<rect x="250" y="340.85" width="1" height="3.1" fill="#d05f60" opacity="0.72"/>
<rect x="252.6" y="340.85" width="1" height="3.1" fill="#d05f60" opacity="0.72"/>
<rect x="254.9" y="340.85" width="1" height="3.1" fill="#d05f60" opacity="0.72"/>
<rect x="257" y="340.85" width="1" height="3.1" fill="#d05f60" opacity="0.72"/>
<rect x="260.5" y="340.85" width="1" height="3.1" fill="#d05f60" opacity="0.72"/>
<rect x="261.9" y="340.85" width="1" height="3.1" fill="#d05f60" opacity="0.72"/>
<rect x="264" y="340.85" width="1" height="3.1" fill="#d05f60" opacity="0.72"/>
<rect x="265.8" y="340.85" width="1" height="3.1" fill="#d05f60" opacity="0.72"/>
<rect x="267.2" y="340.85" width="1" height="3.1" fill="#d05f60" opacity="0.72"/>
<rect x="270.2" y="340.85" width="1" height="3.1" fill="#d05f60" opacity="0.72"/>
<rect x="271.6" y="340.85" width="1" height="3.1" fill="#d05f60" opacity="0.72"/>
<rect x="274.2" y="340.85" width="1" height="3.1" fill="#d05f60" opacity="0.72"/>
<rect x="276.3" y="340.85" width="1" height="3.1" fill="#d05f60" opacity="0.72"/>
<rect x="281.5" y="340.85" width="1" height="3.1" fill="#d05f60" opacity="0.72"/>
<rect x="285.4" y="340.85" width="1" height="3.1" fill="#d05f60" opacity="0.72"/>
<rect x="292.9" y="340.85" width="1" height="3.1" fill="#d05f60" opacity="0.72"/>
<rect x="297.7" y="340.85" width="1" height="3.1" fill="#d05f60" opacity="0.72"/>
<rect x="303.5" y="340.85" width="1" height="3.1" fill="#d05f60" opacity="0.72"/>
<rect x="304.7" y="340.85" width="1" height="3.1" fill="#d05f60" opacity="0.72"/>
<rect x="306.1" y="340.85" width="1" height="3.1" fill="#d05f60" opacity="0.72"/>
<rect x="311" y="340.85" width="1" height="3.1" fill="#d05f60" opacity="0.72"/>
<rect x="312.2" y="340.85" width="1" height="3.1" fill="#d05f60" opacity="0.72"/>
<rect x="314.5" y="340.85" width="1" height="3.1" fill="#d05f60" opacity="0.72"/>
<rect x="316.6" y="340.85" width="1" height="3.1" fill="#d05f60" opacity="0.72"/>
<rect x="320.4" y="340.85" width="1" height="3.1" fill="#d05f60" opacity="0.72"/>
<rect x="323.2" y="340.85" width="1" height="3.1" fill="#d05f60" opacity="0.72"/>
<rect x="326.2" y="340.85" width="1" height="3.1" fill="#d05f60" opacity="0.72"/>
<rect x="332.6" y="340.85" width="1" height="3.1" fill="#d05f60" opacity="0.72"/>
<rect x="339.3" y="340.85" width="1" height="3.1" fill="#d05f60" opacity="0.72"/>
<rect x="340.5" y="340.85" width="1" height="3.1" fill="#d05f60" opacity="0.72"/>
<rect x="350.1" y="340.85" width="1" height="3.1" fill="#d05f60" opacity="0.72"/>
<rect x="351.9" y="340.85" width="1" height="3.1" fill="#d05f60" opacity="0.72"/>
<rect x="353.6" y="340.85" width="1" height="3.1" fill="#d05f60" opacity="0.72"/>
<rect x="355" y="340.85" width="1" height="3.1" fill="#d05f60" opacity="0.72"/>
<rect x="357.6" y="340.85" width="1" height="3.1" fill="#d05f60" opacity="0.72"/>
<rect x="359.9" y="340.85" width="1" height="3.1" fill="#d05f60" opacity="0.72"/>
<rect x="362" y="340.85" width="1" height="3.1" fill="#d05f60" opacity="0.72"/>
<rect x="365.5" y="340.85" width="1" height="3.1" fill="#d05f60" opacity="0.72"/>
<rect x="366.9" y="340.85" width="1" height="3.1" fill="#d05f60" opacity="0.72"/>
<rect x="369" y="340.85" width="1" height="3.1" fill="#d05f60" opacity="0.72"/>
<rect x="370.8" y="340.85" width="1" height="3.1" fill="#d05f60" opacity="0.72"/>
<rect x="372.2" y="340.85" width="1" height="3.1" fill="#d05f60" opacity="0.72"/>
<rect x="375.2" y="340.85" width="1" height="3.1" fill="#d05f60" opacity="0.72"/>
<rect x="376.6" y="340.85" width="1" height="3.1" fill="#d05f60" opacity="0.72"/>
<rect x="379.2" y="340.85" width="1" height="3.1" fill="#d05f60" opacity="0.72"/>
<rect x="381.3" y="340.85" width="1" height="3.1" fill="#d05f60" opacity="0.72"/>
<rect x="386.5" y="340.85" width="1" height="3.1" fill="#d05f60" opacity="0.72"/>
<rect x="390.4" y="340.85" width="1" height="3.1" fill="#d05f60" opacity="0.72"/>
<rect x="397.9" y="340.85" width="1" height="3.1" fill="#d05f60" opacity="0.72"/>
<rect x="402.7" y="340.85" width="1" height="3.1" fill="#d05f60" opacity="0.72"/>
<rect x="408.5" y="340.85" width="1" height="3.1" fill="#d05f60" opacity="0.72"/>
<rect x="409.7" y="340.85" width="1" height="3.1" fill="#d05f60" opacity="0.72"/>
<rect x="411.1" y="340.85" width="1" height="3.1" fill="#d05f60" opacity="0.72"/>
<rect x="416" y="340.85" width="1" height="3.1" fill="#d05f60" opacity="0.72"/>
<rect x="417.2" y="340.85" width="1" height="3.1" fill="#d05f60" opacity="0.72"/>
<rect x="419.5" y="340.85" width="1" height="3.1" fill="#d05f60" opacity="0.72"/>
<rect x="421.6" y="340.85" width="1" height="3.1" fill="#d05f60" opacity="0.72"/>
<rect x="425.4" y="340.85" width="1" height="3.1" fill="#d05f60" opacity="0.72"/>
<rect x="428.2" y="340.85" width="1" height="3.1" fill="#d05f60" opacity="0.72"/>
<rect x="228" y="340.8" width="1" height="3.2" fill="#d05f60" />
<rect x="429" y="340.8" width="1" height="3.2" fill="#d05f60" />
<line x1="235" y1="347.4" x2="422.9" y2="347.4" stroke="#3d3d3d" stroke-width="1.05" />
<rect x="234.3" y="345.85" width="1" height="3.1" fill="#d05f60" opacity="0.72"/>
<rect x="235.5" y="345.85" width="1" height="3.1" fill="#d05f60" opacity="0.72"/>
<rect x="245.1" y="345.85" width="1" height="3.1" fill="#d05f60" opacity="0.72"/>
<rect x="246.9" y="345.85" width="1" height="3.1" fill="#d05f60" opacity="0.72"/>
<rect x="248.6" y="345.85" width="1" height="3.1" fill="#d05f60" opacity="0.72"/>
<rect x="250" y="345.85" width="1" height="3.1" fill="#d05f60" opacity="0.72"/>
<rect x="252.6" y="345.85" width="1" height="3.1" fill="#d05f60" opacity="0.72"/>
<rect x="254.9" y="345.85" width="1" height="3.1" fill="#d05f60" opacity="0.72"/>
<rect x="257" y="345.85" width="1" height="3.1" fill="#d05f60" opacity="0.72"/>
<rect x="260.5" y="345.85" width="1" height="3.1" fill="#d05f60" opacity="0.72"/>
<rect x="261.9" y="345.85" width="1" height="3.1" fill="#d05f60" opacity="0.72"/>
<rect x="264" y="345.85" width="1" height="3.1" fill="#d05f60" opacity="0.72"/>
<rect x="265.8" y="345.85" width="1" height="3.1" fill="#d05f60" opacity="0.72"/>
<rect x="267.2" y="345.85" width="1" height="3.1" fill="#d05f60" opacity="0.72"/>
<rect x="270.2" y="345.85" width="1" height="3.1" fill="#d05f60" opacity="0.72"/>
<rect x="271.6" y="345.85" width="1" height="3.1" fill="#d05f60" opacity="0.72"/>
<rect x="274.2" y="345.85" width="1" height="3.1" fill="#d05f60" opacity="0.72"/>
<rect x="276.3" y="345.85" width="1" height="3.1" fill="#d05f60" opacity="0.72"/>
<rect x="281.5" y="345.85" width="1" height="3.1" fill="#d05f60" opacity="0.72"/>
<rect x="285.4" y="345.85" width="1" height="3.1" fill="#d05f60" opacity="0.72"/>
<rect x="292.9" y="345.85" width="1" height="3.1" fill="#d05f60" opacity="0.72"/>
<rect x="297.7" y="345.85" width="1" height="3.1" fill="#d05f60" opacity="0.72"/>
<rect x="303.5" y="345.85" width="1" height="3.1" fill="#d05f60" opacity="0.72"/>
<rect x="304.7" y="345.85" width="1" height="3.1" fill="#d05f60" opacity="0.72"/>
<rect x="306.1" y="345.85" width="1" height="3.1" fill="#d05f60" opacity="0.72"/>
<rect x="311" y="345.85" width="1" height="3.1" fill="#d05f60" opacity="0.72"/>
<rect x="312.2" y="345.85" width="1" height="3.1" fill="#d05f60" opacity="0.72"/>
<rect x="314.5" y="345.85" width="1" height="3.1" fill="#d05f60" opacity="0.72"/>
<rect x="316.6" y="345.85" width="1" height="3.1" fill="#d05f60" opacity="0.72"/>
<rect x="320.4" y="345.85" width="1" height="3.1" fill="#d05f60" opacity="0.72"/>
<rect x="323.2" y="345.85" width="1" height="3.1" fill="#d05f60" opacity="0.72"/>
<rect x="326.2" y="345.85" width="1" height="3.1" fill="#d05f60" opacity="0.72"/>
<rect x="332.6" y="345.85" width="1" height="3.1" fill="#d05f60" opacity="0.72"/>
<rect x="339.3" y="345.85" width="1" height="3.1" fill="#d05f60" opacity="0.72"/>
<rect x="340.5" y="345.85" width="1" height="3.1" fill="#d05f60" opacity="0.72"/>
<rect x="350.1" y="345.85" width="1" height="3.1" fill="#d05f60" opacity="0.72"/>
<rect x="351.9" y="345.85" width="1" height="3.1" fill="#d05f60" opacity="0.72"/>
<rect x="353.6" y="345.85" width="1" height="3.1" fill="#d05f60" opacity="0.72"/>
<rect x="355" y="345.85" width="1" height="3.1" fill="#d05f60" opacity="0.72"/>
<rect x="357.6" y="345.85" width="1" height="3.1" fill="#d05f60" opacity="0.72"/>
<rect x="359.9" y="345.85" width="1" height="3.1" fill="#d05f60" opacity="0.72"/>
<rect x="362" y="345.85" width="1" height="3.1" fill="#d05f60" opacity="0.72"/>
<rect x="365.5" y="345.85" width="1" height="3.1" fill="#d05f60" opacity="0.72"/>
<rect x="366.9" y="345.85" width="1" height="3.1" fill="#d05f60" opacity="0.72"/>
<rect x="369" y="345.85" width="1" height="3.1" fill="#d05f60" opacity="0.72"/>
<rect x="370.8" y="345.85" width="1" height="3.1" fill="#d05f60" opacity="0.72"/>
<rect x="372.2" y="345.85" width="1" height="3.1" fill="#d05f60" opacity="0.72"/>
<rect x="375.2" y="345.85" width="1" height="3.1" fill="#d05f60" opacity="0.72"/>
<rect x="376.6" y="345.85" width="1" height="3.1" fill="#d05f60" opacity="0.72"/>
<rect x="379.2" y="345.85" width="1" height="3.1" fill="#d05f60" opacity="0.72"/>
<rect x="381.3" y="345.85" width="1" height="3.1" fill="#d05f60" opacity="0.72"/>
<rect x="386.5" y="345.85" width="1" height="3.1" fill="#d05f60" opacity="0.72"/>
<rect x="390.4" y="345.85" width="1" height="3.1" fill="#d05f60" opacity="0.72"/>
<rect x="397.9" y="345.85" width="1" height="3.1" fill="#d05f60" opacity="0.72"/>
<rect x="402.7" y="345.85" width="1" height="3.1" fill="#d05f60" opacity="0.72"/>
<rect x="408.5" y="345.85" width="1" height="3.1" fill="#d05f60" opacity="0.72"/>
<rect x="409.7" y="345.85" width="1" height="3.1" fill="#d05f60" opacity="0.72"/>
<rect x="411.1" y="345.85" width="1" height="3.1" fill="#d05f60" opacity="0.72"/>
<rect x="416" y="345.85" width="1" height="3.1" fill="#d05f60" opacity="0.72"/>
<rect x="417.2" y="345.85" width="1" height="3.1" fill="#d05f60" opacity="0.72"/>
<rect x="419.5" y="345.85" width="1" height="3.1" fill="#d05f60" opacity="0.72"/>
<rect x="421.6" y="345.85" width="1" height="3.1" fill="#d05f60" opacity="0.72"/>
<rect x="234.5" y="345.8" width="1" height="3.2" fill="#d05f60" />
<rect x="422.4" y="345.8" width="1" height="3.2" fill="#d05f60" />
<line x1="236" y1="352.5" x2="426.6" y2="352.5" stroke="#3d3d3d" stroke-width="1.05" />
<rect x="235.5" y="350.95" width="1" height="3.1" fill="#d05f60" opacity="0.72"/>
<rect x="245.1" y="350.95" width="1" height="3.1" fill="#d05f60" opacity="0.72"/>
<rect x="246.9" y="350.95" width="1" height="3.1" fill="#d05f60" opacity="0.72"/>
<rect x="248.6" y="350.95" width="1" height="3.1" fill="#d05f60" opacity="0.72"/>
<rect x="250" y="350.95" width="1" height="3.1" fill="#d05f60" opacity="0.72"/>
<rect x="252.6" y="350.95" width="1" height="3.1" fill="#d05f60" opacity="0.72"/>
<rect x="254.9" y="350.95" width="1" height="3.1" fill="#d05f60" opacity="0.72"/>
<rect x="257" y="350.95" width="1" height="3.1" fill="#d05f60" opacity="0.72"/>
<rect x="260.5" y="350.95" width="1" height="3.1" fill="#d05f60" opacity="0.72"/>
<rect x="261.9" y="350.95" width="1" height="3.1" fill="#d05f60" opacity="0.72"/>
<rect x="264" y="350.95" width="1" height="3.1" fill="#d05f60" opacity="0.72"/>
<rect x="265.8" y="350.95" width="1" height="3.1" fill="#d05f60" opacity="0.72"/>
<rect x="267.2" y="350.95" width="1" height="3.1" fill="#d05f60" opacity="0.72"/>
<rect x="270.2" y="350.95" width="1" height="3.1" fill="#d05f60" opacity="0.72"/>
<rect x="271.6" y="350.95" width="1" height="3.1" fill="#d05f60" opacity="0.72"/>
<rect x="274.2" y="350.95" width="1" height="3.1" fill="#d05f60" opacity="0.72"/>
<rect x="276.3" y="350.95" width="1" height="3.1" fill="#d05f60" opacity="0.72"/>
<rect x="281.5" y="350.95" width="1" height="3.1" fill="#d05f60" opacity="0.72"/>
<rect x="285.4" y="350.95" width="1" height="3.1" fill="#d05f60" opacity="0.72"/>
<rect x="292.9" y="350.95" width="1" height="3.1" fill="#d05f60" opacity="0.72"/>
<rect x="297.7" y="350.95" width="1" height="3.1" fill="#d05f60" opacity="0.72"/>
<rect x="303.5" y="350.95" width="1" height="3.1" fill="#d05f60" opacity="0.72"/>
<rect x="304.7" y="350.95" width="1" height="3.1" fill="#d05f60" opacity="0.72"/>
<rect x="306.1" y="350.95" width="1" height="3.1" fill="#d05f60" opacity="0.72"/>
<rect x="311" y="350.95" width="1" height="3.1" fill="#d05f60" opacity="0.72"/>
<rect x="312.2" y="350.95" width="1" height="3.1" fill="#d05f60" opacity="0.72"/>
<rect x="314.5" y="350.95" width="1" height="3.1" fill="#d05f60" opacity="0.72"/>
<rect x="316.6" y="350.95" width="1" height="3.1" fill="#d05f60" opacity="0.72"/>
<rect x="320.4" y="350.95" width="1" height="3.1" fill="#d05f60" opacity="0.72"/>
<rect x="323.2" y="350.95" width="1" height="3.1" fill="#d05f60" opacity="0.72"/>
<rect x="326.2" y="350.95" width="1" height="3.1" fill="#d05f60" opacity="0.72"/>
<rect x="332.6" y="350.95" width="1" height="3.1" fill="#d05f60" opacity="0.72"/>
<rect x="339.3" y="350.95" width="1" height="3.1" fill="#d05f60" opacity="0.72"/>
<rect x="340.5" y="350.95" width="1" height="3.1" fill="#d05f60" opacity="0.72"/>
<rect x="350.1" y="350.95" width="1" height="3.1" fill="#d05f60" opacity="0.72"/>
<rect x="351.9" y="350.95" width="1" height="3.1" fill="#d05f60" opacity="0.72"/>
<rect x="353.6" y="350.95" width="1" height="3.1" fill="#d05f60" opacity="0.72"/>
<rect x="355" y="350.95" width="1" height="3.1" fill="#d05f60" opacity="0.72"/>
<rect x="357.6" y="350.95" width="1" height="3.1" fill="#d05f60" opacity="0.72"/>
<rect x="359.9" y="350.95" width="1" height="3.1" fill="#d05f60" opacity="0.72"/>
<rect x="362" y="350.95" width="1" height="3.1" fill="#d05f60" opacity="0.72"/>
<rect x="365.5" y="350.95" width="1" height="3.1" fill="#d05f60" opacity="0.72"/>
<rect x="366.9" y="350.95" width="1" height="3.1" fill="#d05f60" opacity="0.72"/>
<rect x="369" y="350.95" width="1" height="3.1" fill="#d05f60" opacity="0.72"/>
<rect x="370.8" y="350.95" width="1" height="3.1" fill="#d05f60" opacity="0.72"/>
<rect x="372.2" y="350.95" width="1" height="3.1" fill="#d05f60" opacity="0.72"/>
<rect x="375.2" y="350.95" width="1" height="3.1" fill="#d05f60" opacity="0.72"/>
<rect x="376.6" y="350.95" width="1" height="3.1" fill="#d05f60" opacity="0.72"/>
<rect x="379.2" y="350.95" width="1" height="3.1" fill="#d05f60" opacity="0.72"/>
<rect x="381.3" y="350.95" width="1" height="3.1" fill="#d05f60" opacity="0.72"/>
<rect x="386.5" y="350.95" width="1" height="3.1" fill="#d05f60" opacity="0.72"/>
<rect x="390.4" y="350.95" width="1" height="3.1" fill="#d05f60" opacity="0.72"/>
<rect x="397.9" y="350.95" width="1" height="3.1" fill="#d05f60" opacity="0.72"/>
<rect x="402.7" y="350.95" width="1" height="3.1" fill="#d05f60" opacity="0.72"/>
<rect x="408.5" y="350.95" width="1" height="3.1" fill="#d05f60" opacity="0.72"/>
<rect x="409.7" y="350.95" width="1" height="3.1" fill="#d05f60" opacity="0.72"/>
<rect x="411.1" y="350.95" width="1" height="3.1" fill="#d05f60" opacity="0.72"/>
<rect x="416" y="350.95" width="1" height="3.1" fill="#d05f60" opacity="0.72"/>
<rect x="417.2" y="350.95" width="1" height="3.1" fill="#d05f60" opacity="0.72"/>
<rect x="419.5" y="350.95" width="1" height="3.1" fill="#d05f60" opacity="0.72"/>
<rect x="421.6" y="350.95" width="1" height="3.1" fill="#d05f60" opacity="0.72"/>
<rect x="425.4" y="350.95" width="1" height="3.1" fill="#d05f60" opacity="0.72"/>
<rect x="235.5" y="350.9" width="1" height="3.2" fill="#d05f60" />
<rect x="426.1" y="350.9" width="1" height="3.2" fill="#d05f60" />
<line x1="63.1" y1="359.9" x2="341" y2="359.9" stroke="#8a8a8a" stroke-width="1.05" />
<rect x="63.1" y="358.35" width="1" height="3.1" fill="#e9c31f" opacity="0.72"/>
<rect x="65.4" y="358.35" width="1" height="3.1" fill="#e9c31f" opacity="0.72"/>
<rect x="66.4" y="358.35" width="1" height="3.1" fill="#e9c31f" opacity="0.72"/>
<rect x="75.9" y="358.35" width="1" height="3.1" fill="#e9c31f" opacity="0.72"/>
<rect x="78.4" y="358.35" width="1" height="3.1" fill="#e9c31f" opacity="0.72"/>
<rect x="80.8" y="358.35" width="1" height="3.1" fill="#e9c31f" opacity="0.72"/>
<rect x="85.6" y="358.35" width="1" height="3.1" fill="#e9c31f" opacity="0.72"/>
<rect x="92.7" y="358.35" width="1" height="3.1" fill="#e9c31f" opacity="0.72"/>
<rect x="95.2" y="358.35" width="1" height="3.1" fill="#e9c31f" opacity="0.72"/>
<rect x="100.4" y="358.35" width="1" height="3.1" fill="#e9c31f" opacity="0.72"/>
<rect x="106.8" y="358.35" width="1" height="3.1" fill="#e9c31f" opacity="0.72"/>
<rect x="111" y="358.35" width="1" height="3.1" fill="#e9c31f" opacity="0.72"/>
<rect x="115.6" y="358.35" width="1" height="3.1" fill="#e9c31f" opacity="0.72"/>
<rect x="120.8" y="358.35" width="1" height="3.1" fill="#e9c31f" opacity="0.72"/>
<rect x="129" y="358.35" width="1" height="3.1" fill="#e9c31f" opacity="0.72"/>
<rect x="130" y="358.35" width="1" height="3.1" fill="#e9c31f" opacity="0.72"/>
<rect x="133" y="358.35" width="1" height="3.1" fill="#e9c31f" opacity="0.72"/>
<rect x="133.4" y="358.35" width="1" height="3.1" fill="#e9c31f" opacity="0.72"/>
<rect x="140.9" y="358.35" width="1" height="3.1" fill="#e9c31f" opacity="0.72"/>
<rect x="144.9" y="358.35" width="1" height="3.1" fill="#e9c31f" opacity="0.72"/>
<rect x="146.7" y="358.35" width="1" height="3.1" fill="#e9c31f" opacity="0.72"/>
<rect x="147.9" y="358.35" width="1" height="3.1" fill="#e9c31f" opacity="0.72"/>
<rect x="154" y="358.35" width="1" height="3.1" fill="#e9c31f" opacity="0.72"/>
<rect x="161" y="358.35" width="1" height="3.1" fill="#e9c31f" opacity="0.72"/>
<rect x="166.6" y="358.35" width="1" height="3.1" fill="#e9c31f" opacity="0.72"/>
<rect x="168" y="358.35" width="1" height="3.1" fill="#e9c31f" opacity="0.72"/>
<rect x="169.5" y="358.35" width="1" height="3.1" fill="#e9c31f" opacity="0.72"/>
<rect x="171.2" y="358.35" width="1" height="3.1" fill="#e9c31f" opacity="0.72"/>
<rect x="173.3" y="358.35" width="1" height="3.1" fill="#e9c31f" opacity="0.72"/>
<rect x="175.9" y="358.35" width="1" height="3.1" fill="#e9c31f" opacity="0.72"/>
<rect x="178.5" y="358.35" width="1" height="3.1" fill="#e9c31f" opacity="0.72"/>
<rect x="181.2" y="358.35" width="1" height="3.1" fill="#e9c31f" opacity="0.72"/>
<rect x="184.2" y="358.35" width="1" height="3.1" fill="#e9c31f" opacity="0.72"/>
<rect x="189.1" y="358.35" width="1" height="3.1" fill="#e9c31f" opacity="0.72"/>
<rect x="192.9" y="358.35" width="1" height="3.1" fill="#e9c31f" opacity="0.72"/>
<rect x="196.1" y="358.35" width="1" height="3.1" fill="#e9c31f" opacity="0.72"/>
<rect x="199.9" y="358.35" width="1" height="3.1" fill="#e9c31f" opacity="0.72"/>
<rect x="205.7" y="358.35" width="1" height="3.1" fill="#e9c31f" opacity="0.72"/>
<rect x="208.3" y="358.35" width="1" height="3.1" fill="#e9c31f" opacity="0.72"/>
<rect x="210.4" y="358.35" width="1" height="3.1" fill="#e9c31f" opacity="0.72"/>
<rect x="212.7" y="358.35" width="1" height="3.1" fill="#e9c31f" opacity="0.72"/>
<rect x="215.3" y="358.35" width="1" height="3.1" fill="#e9c31f" opacity="0.72"/>
<rect x="218.8" y="358.35" width="1" height="3.1" fill="#e9c31f" opacity="0.72"/>
<rect x="220.2" y="358.35" width="1" height="3.1" fill="#e9c31f" opacity="0.72"/>
<rect x="227.6" y="358.35" width="1" height="3.1" fill="#e9c31f" opacity="0.72"/>
<rect x="234.3" y="358.35" width="1" height="3.1" fill="#e9c31f" opacity="0.72"/>
<rect x="235.5" y="358.35" width="1" height="3.1" fill="#e9c31f" opacity="0.72"/>
<rect x="245.1" y="358.35" width="1" height="3.1" fill="#e9c31f" opacity="0.72"/>
<rect x="246.9" y="358.35" width="1" height="3.1" fill="#e9c31f" opacity="0.72"/>
<rect x="248.6" y="358.35" width="1" height="3.1" fill="#e9c31f" opacity="0.72"/>
<rect x="250" y="358.35" width="1" height="3.1" fill="#e9c31f" opacity="0.72"/>
<rect x="252.6" y="358.35" width="1" height="3.1" fill="#e9c31f" opacity="0.72"/>
<rect x="254.9" y="358.35" width="1" height="3.1" fill="#e9c31f" opacity="0.72"/>
<rect x="257" y="358.35" width="1" height="3.1" fill="#e9c31f" opacity="0.72"/>
<rect x="260.5" y="358.35" width="1" height="3.1" fill="#e9c31f" opacity="0.72"/>
<rect x="261.9" y="358.35" width="1" height="3.1" fill="#e9c31f" opacity="0.72"/>
<rect x="264" y="358.35" width="1" height="3.1" fill="#e9c31f" opacity="0.72"/>
<rect x="265.8" y="358.35" width="1" height="3.1" fill="#e9c31f" opacity="0.72"/>
<rect x="267.2" y="358.35" width="1" height="3.1" fill="#e9c31f" opacity="0.72"/>
<rect x="270.2" y="358.35" width="1" height="3.1" fill="#e9c31f" opacity="0.72"/>
<rect x="271.6" y="358.35" width="1" height="3.1" fill="#e9c31f" opacity="0.72"/>
<rect x="274.2" y="358.35" width="1" height="3.1" fill="#e9c31f" opacity="0.72"/>
<rect x="276.3" y="358.35" width="1" height="3.1" fill="#e9c31f" opacity="0.72"/>
<rect x="281.5" y="358.35" width="1" height="3.1" fill="#e9c31f" opacity="0.72"/>
<rect x="285.4" y="358.35" width="1" height="3.1" fill="#e9c31f" opacity="0.72"/>
<rect x="292.9" y="358.35" width="1" height="3.1" fill="#e9c31f" opacity="0.72"/>
<rect x="297.7" y="358.35" width="1" height="3.1" fill="#e9c31f" opacity="0.72"/>
<rect x="303.5" y="358.35" width="1" height="3.1" fill="#e9c31f" opacity="0.72"/>
<rect x="304.7" y="358.35" width="1" height="3.1" fill="#e9c31f" opacity="0.72"/>
<rect x="306.1" y="358.35" width="1" height="3.1" fill="#e9c31f" opacity="0.72"/>
<rect x="311" y="358.35" width="1" height="3.1" fill="#e9c31f" opacity="0.72"/>
<rect x="312.2" y="358.35" width="1" height="3.1" fill="#e9c31f" opacity="0.72"/>
<rect x="314.5" y="358.35" width="1" height="3.1" fill="#e9c31f" opacity="0.72"/>
<rect x="316.6" y="358.35" width="1" height="3.1" fill="#e9c31f" opacity="0.72"/>
<rect x="320.4" y="358.35" width="1" height="3.1" fill="#e9c31f" opacity="0.72"/>
<rect x="323.2" y="358.35" width="1" height="3.1" fill="#e9c31f" opacity="0.72"/>
<rect x="326.2" y="358.35" width="1" height="3.1" fill="#e9c31f" opacity="0.72"/>
<rect x="332.6" y="358.35" width="1" height="3.1" fill="#e9c31f" opacity="0.72"/>
<rect x="339.3" y="358.35" width="1" height="3.1" fill="#e9c31f" opacity="0.72"/>
<rect x="340.5" y="358.35" width="1" height="3.1" fill="#e9c31f" opacity="0.72"/>
<rect x="62.6" y="358.3" width="1" height="3.2" fill="#e9c31f" />
<rect x="340.5" y="358.3" width="1" height="3.2" fill="#e9c31f" />
<line x1="86.3" y1="365" x2="357.6" y2="365" stroke="#8a8a8a" stroke-width="1.05" />
<rect x="85.6" y="363.45" width="1" height="3.1" fill="#e9c31f" opacity="0.72"/>
<rect x="92.7" y="363.45" width="1" height="3.1" fill="#e9c31f" opacity="0.72"/>
<rect x="95.2" y="363.45" width="1" height="3.1" fill="#e9c31f" opacity="0.72"/>
<rect x="100.4" y="363.45" width="1" height="3.1" fill="#e9c31f" opacity="0.72"/>
<rect x="106.8" y="363.45" width="1" height="3.1" fill="#e9c31f" opacity="0.72"/>
<rect x="111" y="363.45" width="1" height="3.1" fill="#e9c31f" opacity="0.72"/>
<rect x="115.6" y="363.45" width="1" height="3.1" fill="#e9c31f" opacity="0.72"/>
<rect x="120.8" y="363.45" width="1" height="3.1" fill="#e9c31f" opacity="0.72"/>
<rect x="129" y="363.45" width="1" height="3.1" fill="#e9c31f" opacity="0.72"/>
<rect x="130" y="363.45" width="1" height="3.1" fill="#e9c31f" opacity="0.72"/>
<rect x="133" y="363.45" width="1" height="3.1" fill="#e9c31f" opacity="0.72"/>
<rect x="133.4" y="363.45" width="1" height="3.1" fill="#e9c31f" opacity="0.72"/>
<rect x="140.9" y="363.45" width="1" height="3.1" fill="#e9c31f" opacity="0.72"/>
<rect x="144.9" y="363.45" width="1" height="3.1" fill="#e9c31f" opacity="0.72"/>
<rect x="146.7" y="363.45" width="1" height="3.1" fill="#e9c31f" opacity="0.72"/>
<rect x="147.9" y="363.45" width="1" height="3.1" fill="#e9c31f" opacity="0.72"/>
<rect x="154" y="363.45" width="1" height="3.1" fill="#e9c31f" opacity="0.72"/>
<rect x="161" y="363.45" width="1" height="3.1" fill="#e9c31f" opacity="0.72"/>
<rect x="166.6" y="363.45" width="1" height="3.1" fill="#e9c31f" opacity="0.72"/>
<rect x="168" y="363.45" width="1" height="3.1" fill="#e9c31f" opacity="0.72"/>
<rect x="169.5" y="363.45" width="1" height="3.1" fill="#e9c31f" opacity="0.72"/>
<rect x="171.2" y="363.45" width="1" height="3.1" fill="#e9c31f" opacity="0.72"/>
<rect x="173.3" y="363.45" width="1" height="3.1" fill="#e9c31f" opacity="0.72"/>
<rect x="175.9" y="363.45" width="1" height="3.1" fill="#e9c31f" opacity="0.72"/>
<rect x="178.5" y="363.45" width="1" height="3.1" fill="#e9c31f" opacity="0.72"/>
<rect x="181.2" y="363.45" width="1" height="3.1" fill="#e9c31f" opacity="0.72"/>
<rect x="184.2" y="363.45" width="1" height="3.1" fill="#e9c31f" opacity="0.72"/>
<rect x="189.1" y="363.45" width="1" height="3.1" fill="#e9c31f" opacity="0.72"/>
<rect x="192.9" y="363.45" width="1" height="3.1" fill="#e9c31f" opacity="0.72"/>
<rect x="196.1" y="363.45" width="1" height="3.1" fill="#e9c31f" opacity="0.72"/>
<rect x="199.9" y="363.45" width="1" height="3.1" fill="#e9c31f" opacity="0.72"/>
<rect x="205.7" y="363.45" width="1" height="3.1" fill="#e9c31f" opacity="0.72"/>
<rect x="208.3" y="363.45" width="1" height="3.1" fill="#e9c31f" opacity="0.72"/>
<rect x="210.4" y="363.45" width="1" height="3.1" fill="#e9c31f" opacity="0.72"/>
<rect x="212.7" y="363.45" width="1" height="3.1" fill="#e9c31f" opacity="0.72"/>
<rect x="215.3" y="363.45" width="1" height="3.1" fill="#e9c31f" opacity="0.72"/>
<rect x="218.8" y="363.45" width="1" height="3.1" fill="#e9c31f" opacity="0.72"/>
<rect x="220.2" y="363.45" width="1" height="3.1" fill="#e9c31f" opacity="0.72"/>
<rect x="227.6" y="363.45" width="1" height="3.1" fill="#e9c31f" opacity="0.72"/>
<rect x="234.3" y="363.45" width="1" height="3.1" fill="#e9c31f" opacity="0.72"/>
<rect x="235.5" y="363.45" width="1" height="3.1" fill="#e9c31f" opacity="0.72"/>
<rect x="245.1" y="363.45" width="1" height="3.1" fill="#e9c31f" opacity="0.72"/>
<rect x="246.9" y="363.45" width="1" height="3.1" fill="#e9c31f" opacity="0.72"/>
<rect x="248.6" y="363.45" width="1" height="3.1" fill="#e9c31f" opacity="0.72"/>
<rect x="250" y="363.45" width="1" height="3.1" fill="#e9c31f" opacity="0.72"/>
<rect x="252.6" y="363.45" width="1" height="3.1" fill="#e9c31f" opacity="0.72"/>
<rect x="254.9" y="363.45" width="1" height="3.1" fill="#e9c31f" opacity="0.72"/>
<rect x="257" y="363.45" width="1" height="3.1" fill="#e9c31f" opacity="0.72"/>
<rect x="260.5" y="363.45" width="1" height="3.1" fill="#e9c31f" opacity="0.72"/>
<rect x="261.9" y="363.45" width="1" height="3.1" fill="#e9c31f" opacity="0.72"/>
<rect x="264" y="363.45" width="1" height="3.1" fill="#e9c31f" opacity="0.72"/>
<rect x="265.8" y="363.45" width="1" height="3.1" fill="#e9c31f" opacity="0.72"/>
<rect x="267.2" y="363.45" width="1" height="3.1" fill="#e9c31f" opacity="0.72"/>
<rect x="270.2" y="363.45" width="1" height="3.1" fill="#e9c31f" opacity="0.72"/>
<rect x="271.6" y="363.45" width="1" height="3.1" fill="#e9c31f" opacity="0.72"/>
<rect x="274.2" y="363.45" width="1" height="3.1" fill="#e9c31f" opacity="0.72"/>
<rect x="276.3" y="363.45" width="1" height="3.1" fill="#e9c31f" opacity="0.72"/>
<rect x="281.5" y="363.45" width="1" height="3.1" fill="#e9c31f" opacity="0.72"/>
<rect x="285.4" y="363.45" width="1" height="3.1" fill="#e9c31f" opacity="0.72"/>
<rect x="292.9" y="363.45" width="1" height="3.1" fill="#e9c31f" opacity="0.72"/>
<rect x="297.7" y="363.45" width="1" height="3.1" fill="#e9c31f" opacity="0.72"/>
<rect x="303.5" y="363.45" width="1" height="3.1" fill="#e9c31f" opacity="0.72"/>
<rect x="304.7" y="363.45" width="1" height="3.1" fill="#e9c31f" opacity="0.72"/>
<rect x="306.1" y="363.45" width="1" height="3.1" fill="#e9c31f" opacity="0.72"/>
<rect x="311" y="363.45" width="1" height="3.1" fill="#e9c31f" opacity="0.72"/>
<rect x="312.2" y="363.45" width="1" height="3.1" fill="#e9c31f" opacity="0.72"/>
<rect x="314.5" y="363.45" width="1" height="3.1" fill="#e9c31f" opacity="0.72"/>
<rect x="316.6" y="363.45" width="1" height="3.1" fill="#e9c31f" opacity="0.72"/>
<rect x="320.4" y="363.45" width="1" height="3.1" fill="#e9c31f" opacity="0.72"/>
<rect x="323.2" y="363.45" width="1" height="3.1" fill="#e9c31f" opacity="0.72"/>
<rect x="326.2" y="363.45" width="1" height="3.1" fill="#e9c31f" opacity="0.72"/>
<rect x="332.6" y="363.45" width="1" height="3.1" fill="#e9c31f" opacity="0.72"/>
<rect x="339.3" y="363.45" width="1" height="3.1" fill="#e9c31f" opacity="0.72"/>
<rect x="340.5" y="363.45" width="1" height="3.1" fill="#e9c31f" opacity="0.72"/>
<rect x="350.1" y="363.45" width="1" height="3.1" fill="#e9c31f" opacity="0.72"/>
<rect x="351.9" y="363.45" width="1" height="3.1" fill="#e9c31f" opacity="0.72"/>
<rect x="353.6" y="363.45" width="1" height="3.1" fill="#e9c31f" opacity="0.72"/>
<rect x="355" y="363.45" width="1" height="3.1" fill="#e9c31f" opacity="0.72"/>
<rect x="357.6" y="363.45" width="1" height="3.1" fill="#e9c31f" opacity="0.72"/>
<rect x="85.8" y="363.4" width="1" height="3.2" fill="#e9c31f" />
<rect x="357.1" y="363.4" width="1" height="3.2" fill="#e9c31f" />
<line x1="247.5" y1="370.1" x2="571" y2="370.1" stroke="#4a4a4a" stroke-width="1.05" />
<rect x="246.9" y="368.55" width="1" height="3.1" fill="#e9c31f" opacity="0.72"/>
<rect x="248.6" y="368.55" width="1" height="3.1" fill="#e9c31f" opacity="0.72"/>
<rect x="250" y="368.55" width="1" height="3.1" fill="#e9c31f" opacity="0.72"/>
<rect x="252.6" y="368.55" width="1" height="3.1" fill="#e9c31f" opacity="0.72"/>
<rect x="254.9" y="368.55" width="1" height="3.1" fill="#e9c31f" opacity="0.72"/>
<rect x="257" y="368.55" width="1" height="3.1" fill="#e9c31f" opacity="0.72"/>
<rect x="260.5" y="368.55" width="1" height="3.1" fill="#e9c31f" opacity="0.72"/>
<rect x="261.9" y="368.55" width="1" height="3.1" fill="#e9c31f" opacity="0.72"/>
<rect x="264" y="368.55" width="1" height="3.1" fill="#e9c31f" opacity="0.72"/>
<rect x="265.8" y="368.55" width="1" height="3.1" fill="#e9c31f" opacity="0.72"/>
<rect x="267.2" y="368.55" width="1" height="3.1" fill="#e9c31f" opacity="0.72"/>
<rect x="270.2" y="368.55" width="1" height="3.1" fill="#e9c31f" opacity="0.72"/>
<rect x="271.6" y="368.55" width="1" height="3.1" fill="#e9c31f" opacity="0.72"/>
<rect x="274.2" y="368.55" width="1" height="3.1" fill="#e9c31f" opacity="0.72"/>
<rect x="276.3" y="368.55" width="1" height="3.1" fill="#e9c31f" opacity="0.72"/>
<rect x="281.5" y="368.55" width="1" height="3.1" fill="#e9c31f" opacity="0.72"/>
<rect x="285.4" y="368.55" width="1" height="3.1" fill="#e9c31f" opacity="0.72"/>
<rect x="292.9" y="368.55" width="1" height="3.1" fill="#e9c31f" opacity="0.72"/>
<rect x="297.7" y="368.55" width="1" height="3.1" fill="#e9c31f" opacity="0.72"/>
<rect x="303.5" y="368.55" width="1" height="3.1" fill="#e9c31f" opacity="0.72"/>
<rect x="304.7" y="368.55" width="1" height="3.1" fill="#e9c31f" opacity="0.72"/>
<rect x="306.1" y="368.55" width="1" height="3.1" fill="#e9c31f" opacity="0.72"/>
<rect x="311" y="368.55" width="1" height="3.1" fill="#e9c31f" opacity="0.72"/>
<rect x="312.2" y="368.55" width="1" height="3.1" fill="#e9c31f" opacity="0.72"/>
<rect x="314.5" y="368.55" width="1" height="3.1" fill="#e9c31f" opacity="0.72"/>
<rect x="316.6" y="368.55" width="1" height="3.1" fill="#e9c31f" opacity="0.72"/>
<rect x="320.4" y="368.55" width="1" height="3.1" fill="#e9c31f" opacity="0.72"/>
<rect x="323.2" y="368.55" width="1" height="3.1" fill="#e9c31f" opacity="0.72"/>
<rect x="326.2" y="368.55" width="1" height="3.1" fill="#e9c31f" opacity="0.72"/>
<rect x="332.6" y="368.55" width="1" height="3.1" fill="#e9c31f" opacity="0.72"/>
<rect x="339.3" y="368.55" width="1" height="3.1" fill="#e9c31f" opacity="0.72"/>
<rect x="340.5" y="368.55" width="1" height="3.1" fill="#e9c31f" opacity="0.72"/>
<rect x="350.1" y="368.55" width="1" height="3.1" fill="#e9c31f" opacity="0.72"/>
<rect x="351.9" y="368.55" width="1" height="3.1" fill="#e9c31f" opacity="0.72"/>
<rect x="353.6" y="368.55" width="1" height="3.1" fill="#e9c31f" opacity="0.72"/>
<rect x="355" y="368.55" width="1" height="3.1" fill="#e9c31f" opacity="0.72"/>
<rect x="357.6" y="368.55" width="1" height="3.1" fill="#e9c31f" opacity="0.72"/>
<rect x="359.9" y="368.55" width="1" height="3.1" fill="#e9c31f" opacity="0.72"/>
<rect x="362" y="368.55" width="1" height="3.1" fill="#e9c31f" opacity="0.72"/>
<rect x="365.5" y="368.55" width="1" height="3.1" fill="#e9c31f" opacity="0.72"/>
<rect x="366.9" y="368.55" width="1" height="3.1" fill="#e9c31f" opacity="0.72"/>
<rect x="369" y="368.55" width="1" height="3.1" fill="#e9c31f" opacity="0.72"/>
<rect x="370.8" y="368.55" width="1" height="3.1" fill="#e9c31f" opacity="0.72"/>
<rect x="372.2" y="368.55" width="1" height="3.1" fill="#e9c31f" opacity="0.72"/>
<rect x="375.2" y="368.55" width="1" height="3.1" fill="#e9c31f" opacity="0.72"/>
<rect x="376.6" y="368.55" width="1" height="3.1" fill="#e9c31f" opacity="0.72"/>
<rect x="379.2" y="368.55" width="1" height="3.1" fill="#e9c31f" opacity="0.72"/>
<rect x="381.3" y="368.55" width="1" height="3.1" fill="#e9c31f" opacity="0.72"/>
<rect x="386.5" y="368.55" width="1" height="3.1" fill="#e9c31f" opacity="0.72"/>
<rect x="390.4" y="368.55" width="1" height="3.1" fill="#e9c31f" opacity="0.72"/>
<rect x="397.9" y="368.55" width="1" height="3.1" fill="#e9c31f" opacity="0.72"/>
<rect x="402.7" y="368.55" width="1" height="3.1" fill="#e9c31f" opacity="0.72"/>
<rect x="408.5" y="368.55" width="1" height="3.1" fill="#e9c31f" opacity="0.72"/>
<rect x="409.7" y="368.55" width="1" height="3.1" fill="#e9c31f" opacity="0.72"/>
<rect x="411.1" y="368.55" width="1" height="3.1" fill="#e9c31f" opacity="0.72"/>
<rect x="416" y="368.55" width="1" height="3.1" fill="#e9c31f" opacity="0.72"/>
<rect x="417.2" y="368.55" width="1" height="3.1" fill="#e9c31f" opacity="0.72"/>
<rect x="419.5" y="368.55" width="1" height="3.1" fill="#e9c31f" opacity="0.72"/>
<rect x="421.6" y="368.55" width="1" height="3.1" fill="#e9c31f" opacity="0.72"/>
<rect x="425.4" y="368.55" width="1" height="3.1" fill="#e9c31f" opacity="0.72"/>
<rect x="428.2" y="368.55" width="1" height="3.1" fill="#e9c31f" opacity="0.72"/>
<rect x="431.2" y="368.55" width="1" height="3.1" fill="#e9c31f" opacity="0.72"/>
<rect x="437.4" y="368.55" width="1" height="3.1" fill="#e9c31f" opacity="0.72"/>
<rect x="440" y="368.55" width="1" height="3.1" fill="#e9c31f" opacity="0.72"/>
<rect x="446.1" y="368.55" width="1" height="3.1" fill="#e9c31f" opacity="0.72"/>
<rect x="447.9" y="368.55" width="1" height="3.1" fill="#e9c31f" opacity="0.72"/>
<rect x="449.6" y="368.55" width="1" height="3.1" fill="#e9c31f" opacity="0.72"/>
<rect x="455.2" y="368.55" width="1" height="3.1" fill="#e9c31f" opacity="0.72"/>
<rect x="461.5" y="368.55" width="1" height="3.1" fill="#e9c31f" opacity="0.72"/>
<rect x="463.3" y="368.55" width="1" height="3.1" fill="#e9c31f" opacity="0.72"/>
<rect x="464.7" y="368.55" width="1" height="3.1" fill="#e9c31f" opacity="0.72"/>
<rect x="466.4" y="368.55" width="1" height="3.1" fill="#e9c31f" opacity="0.72"/>
<rect x="478.2" y="368.55" width="1" height="3.1" fill="#e9c31f" opacity="0.72"/>
<rect x="479.9" y="368.55" width="1" height="3.1" fill="#e9c31f" opacity="0.72"/>
<rect x="481.7" y="368.55" width="1" height="3.1" fill="#e9c31f" opacity="0.72"/>
<rect x="490.9" y="368.55" width="1" height="3.1" fill="#e9c31f" opacity="0.72"/>
<rect x="496.5" y="368.55" width="1" height="3.1" fill="#e9c31f" opacity="0.72"/>
<rect x="499.7" y="368.55" width="1" height="3.1" fill="#e9c31f" opacity="0.72"/>
<rect x="500.9" y="368.55" width="1" height="3.1" fill="#e9c31f" opacity="0.72"/>
<rect x="502.2" y="368.55" width="1" height="3.1" fill="#e9c31f" opacity="0.72"/>
<rect x="503.9" y="368.55" width="1" height="3.1" fill="#e9c31f" opacity="0.72"/>
<rect x="506.7" y="368.55" width="1" height="3.1" fill="#e9c31f" opacity="0.72"/>
<rect x="508.8" y="368.55" width="1" height="3.1" fill="#e9c31f" opacity="0.72"/>
<rect x="514.1" y="368.55" width="1" height="3.1" fill="#e9c31f" opacity="0.72"/>
<rect x="516.2" y="368.55" width="1" height="3.1" fill="#e9c31f" opacity="0.72"/>
<rect x="517.9" y="368.55" width="1" height="3.1" fill="#e9c31f" opacity="0.72"/>
<rect x="520.2" y="368.55" width="1" height="3.1" fill="#e9c31f" opacity="0.72"/>
<rect x="522.5" y="368.55" width="1" height="3.1" fill="#e9c31f" opacity="0.72"/>
<rect x="531.6" y="368.55" width="1" height="3.1" fill="#e9c31f" opacity="0.72"/>
<rect x="541.2" y="368.55" width="1" height="3.1" fill="#e9c31f" opacity="0.72"/>
<rect x="543" y="368.55" width="1" height="3.1" fill="#e9c31f" opacity="0.72"/>
<rect x="547" y="368.55" width="1" height="3.1" fill="#e9c31f" opacity="0.72"/>
<rect x="548.8" y="368.55" width="1" height="3.1" fill="#e9c31f" opacity="0.72"/>
<rect x="555.2" y="368.55" width="1" height="3.1" fill="#e9c31f" opacity="0.72"/>
<rect x="557" y="368.55" width="1" height="3.1" fill="#e9c31f" opacity="0.72"/>
<rect x="558.7" y="368.55" width="1" height="3.1" fill="#e9c31f" opacity="0.72"/>
<rect x="563.1" y="368.55" width="1" height="3.1" fill="#e9c31f" opacity="0.72"/>
<rect x="564.9" y="368.55" width="1" height="3.1" fill="#e9c31f" opacity="0.72"/>
<rect x="567" y="368.55" width="1" height="3.1" fill="#e9c31f" opacity="0.72"/>
<rect x="569.3" y="368.55" width="1" height="3.1" fill="#e9c31f" opacity="0.72"/>
<rect x="247" y="368.5" width="1" height="3.2" fill="#e9c31f" />
<rect x="570.5" y="368.5" width="1" height="3.2" fill="#e9c31f" />
<line x1="266.5" y1="375.1" x2="562.5" y2="375.1" stroke="#4a4a4a" stroke-width="1.05" />
<rect x="265.8" y="373.55" width="1" height="3.1" fill="#e9c31f" opacity="0.72"/>
<rect x="267.2" y="373.55" width="1" height="3.1" fill="#e9c31f" opacity="0.72"/>
<rect x="270.2" y="373.55" width="1" height="3.1" fill="#e9c31f" opacity="0.72"/>
<rect x="271.6" y="373.55" width="1" height="3.1" fill="#e9c31f" opacity="0.72"/>
<rect x="274.2" y="373.55" width="1" height="3.1" fill="#e9c31f" opacity="0.72"/>
<rect x="276.3" y="373.55" width="1" height="3.1" fill="#e9c31f" opacity="0.72"/>
<rect x="281.5" y="373.55" width="1" height="3.1" fill="#e9c31f" opacity="0.72"/>
<rect x="285.4" y="373.55" width="1" height="3.1" fill="#e9c31f" opacity="0.72"/>
<rect x="292.9" y="373.55" width="1" height="3.1" fill="#e9c31f" opacity="0.72"/>
<rect x="297.7" y="373.55" width="1" height="3.1" fill="#e9c31f" opacity="0.72"/>
<rect x="303.5" y="373.55" width="1" height="3.1" fill="#e9c31f" opacity="0.72"/>
<rect x="304.7" y="373.55" width="1" height="3.1" fill="#e9c31f" opacity="0.72"/>
<rect x="306.1" y="373.55" width="1" height="3.1" fill="#e9c31f" opacity="0.72"/>
<rect x="311" y="373.55" width="1" height="3.1" fill="#e9c31f" opacity="0.72"/>
<rect x="312.2" y="373.55" width="1" height="3.1" fill="#e9c31f" opacity="0.72"/>
<rect x="314.5" y="373.55" width="1" height="3.1" fill="#e9c31f" opacity="0.72"/>
<rect x="316.6" y="373.55" width="1" height="3.1" fill="#e9c31f" opacity="0.72"/>
<rect x="320.4" y="373.55" width="1" height="3.1" fill="#e9c31f" opacity="0.72"/>
<rect x="323.2" y="373.55" width="1" height="3.1" fill="#e9c31f" opacity="0.72"/>
<rect x="326.2" y="373.55" width="1" height="3.1" fill="#e9c31f" opacity="0.72"/>
<rect x="332.6" y="373.55" width="1" height="3.1" fill="#e9c31f" opacity="0.72"/>
<rect x="339.3" y="373.55" width="1" height="3.1" fill="#e9c31f" opacity="0.72"/>
<rect x="340.5" y="373.55" width="1" height="3.1" fill="#e9c31f" opacity="0.72"/>
<rect x="350.1" y="373.55" width="1" height="3.1" fill="#e9c31f" opacity="0.72"/>
<rect x="351.9" y="373.55" width="1" height="3.1" fill="#e9c31f" opacity="0.72"/>
<rect x="353.6" y="373.55" width="1" height="3.1" fill="#e9c31f" opacity="0.72"/>
<rect x="355" y="373.55" width="1" height="3.1" fill="#e9c31f" opacity="0.72"/>
<rect x="357.6" y="373.55" width="1" height="3.1" fill="#e9c31f" opacity="0.72"/>
<rect x="359.9" y="373.55" width="1" height="3.1" fill="#e9c31f" opacity="0.72"/>
<rect x="362" y="373.55" width="1" height="3.1" fill="#e9c31f" opacity="0.72"/>
<rect x="365.5" y="373.55" width="1" height="3.1" fill="#e9c31f" opacity="0.72"/>
<rect x="366.9" y="373.55" width="1" height="3.1" fill="#e9c31f" opacity="0.72"/>
<rect x="369" y="373.55" width="1" height="3.1" fill="#e9c31f" opacity="0.72"/>
<rect x="370.8" y="373.55" width="1" height="3.1" fill="#e9c31f" opacity="0.72"/>
<rect x="372.2" y="373.55" width="1" height="3.1" fill="#e9c31f" opacity="0.72"/>
<rect x="375.2" y="373.55" width="1" height="3.1" fill="#e9c31f" opacity="0.72"/>
<rect x="376.6" y="373.55" width="1" height="3.1" fill="#e9c31f" opacity="0.72"/>
<rect x="379.2" y="373.55" width="1" height="3.1" fill="#e9c31f" opacity="0.72"/>
<rect x="381.3" y="373.55" width="1" height="3.1" fill="#e9c31f" opacity="0.72"/>
<rect x="386.5" y="373.55" width="1" height="3.1" fill="#e9c31f" opacity="0.72"/>
<rect x="390.4" y="373.55" width="1" height="3.1" fill="#e9c31f" opacity="0.72"/>
<rect x="397.9" y="373.55" width="1" height="3.1" fill="#e9c31f" opacity="0.72"/>
<rect x="402.7" y="373.55" width="1" height="3.1" fill="#e9c31f" opacity="0.72"/>
<rect x="408.5" y="373.55" width="1" height="3.1" fill="#e9c31f" opacity="0.72"/>
<rect x="409.7" y="373.55" width="1" height="3.1" fill="#e9c31f" opacity="0.72"/>
<rect x="411.1" y="373.55" width="1" height="3.1" fill="#e9c31f" opacity="0.72"/>
<rect x="416" y="373.55" width="1" height="3.1" fill="#e9c31f" opacity="0.72"/>
<rect x="417.2" y="373.55" width="1" height="3.1" fill="#e9c31f" opacity="0.72"/>
<rect x="419.5" y="373.55" width="1" height="3.1" fill="#e9c31f" opacity="0.72"/>
<rect x="421.6" y="373.55" width="1" height="3.1" fill="#e9c31f" opacity="0.72"/>
<rect x="425.4" y="373.55" width="1" height="3.1" fill="#e9c31f" opacity="0.72"/>
<rect x="428.2" y="373.55" width="1" height="3.1" fill="#e9c31f" opacity="0.72"/>
<rect x="431.2" y="373.55" width="1" height="3.1" fill="#e9c31f" opacity="0.72"/>
<rect x="437.4" y="373.55" width="1" height="3.1" fill="#e9c31f" opacity="0.72"/>
<rect x="440" y="373.55" width="1" height="3.1" fill="#e9c31f" opacity="0.72"/>
<rect x="446.1" y="373.55" width="1" height="3.1" fill="#e9c31f" opacity="0.72"/>
<rect x="447.9" y="373.55" width="1" height="3.1" fill="#e9c31f" opacity="0.72"/>
<rect x="449.6" y="373.55" width="1" height="3.1" fill="#e9c31f" opacity="0.72"/>
<rect x="455.2" y="373.55" width="1" height="3.1" fill="#e9c31f" opacity="0.72"/>
<rect x="461.5" y="373.55" width="1" height="3.1" fill="#e9c31f" opacity="0.72"/>
<rect x="463.3" y="373.55" width="1" height="3.1" fill="#e9c31f" opacity="0.72"/>
<rect x="464.7" y="373.55" width="1" height="3.1" fill="#e9c31f" opacity="0.72"/>
<rect x="466.4" y="373.55" width="1" height="3.1" fill="#e9c31f" opacity="0.72"/>
<rect x="478.2" y="373.55" width="1" height="3.1" fill="#e9c31f" opacity="0.72"/>
<rect x="479.9" y="373.55" width="1" height="3.1" fill="#e9c31f" opacity="0.72"/>
<rect x="481.7" y="373.55" width="1" height="3.1" fill="#e9c31f" opacity="0.72"/>
<rect x="490.9" y="373.55" width="1" height="3.1" fill="#e9c31f" opacity="0.72"/>
<rect x="496.5" y="373.55" width="1" height="3.1" fill="#e9c31f" opacity="0.72"/>
<rect x="499.7" y="373.55" width="1" height="3.1" fill="#e9c31f" opacity="0.72"/>
<rect x="500.9" y="373.55" width="1" height="3.1" fill="#e9c31f" opacity="0.72"/>
<rect x="502.2" y="373.55" width="1" height="3.1" fill="#e9c31f" opacity="0.72"/>
<rect x="503.9" y="373.55" width="1" height="3.1" fill="#e9c31f" opacity="0.72"/>
<rect x="506.7" y="373.55" width="1" height="3.1" fill="#e9c31f" opacity="0.72"/>
<rect x="508.8" y="373.55" width="1" height="3.1" fill="#e9c31f" opacity="0.72"/>
<rect x="514.1" y="373.55" width="1" height="3.1" fill="#e9c31f" opacity="0.72"/>
<rect x="516.2" y="373.55" width="1" height="3.1" fill="#e9c31f" opacity="0.72"/>
<rect x="517.9" y="373.55" width="1" height="3.1" fill="#e9c31f" opacity="0.72"/>
<rect x="520.2" y="373.55" width="1" height="3.1" fill="#e9c31f" opacity="0.72"/>
<rect x="522.5" y="373.55" width="1" height="3.1" fill="#e9c31f" opacity="0.72"/>
<rect x="531.6" y="373.55" width="1" height="3.1" fill="#e9c31f" opacity="0.72"/>
<rect x="541.2" y="373.55" width="1" height="3.1" fill="#e9c31f" opacity="0.72"/>
<rect x="543" y="373.55" width="1" height="3.1" fill="#e9c31f" opacity="0.72"/>
<rect x="547" y="373.55" width="1" height="3.1" fill="#e9c31f" opacity="0.72"/>
<rect x="548.8" y="373.55" width="1" height="3.1" fill="#e9c31f" opacity="0.72"/>
<rect x="555.2" y="373.55" width="1" height="3.1" fill="#e9c31f" opacity="0.72"/>
<rect x="557" y="373.55" width="1" height="3.1" fill="#e9c31f" opacity="0.72"/>
<rect x="558.7" y="373.55" width="1" height="3.1" fill="#e9c31f" opacity="0.72"/>
<rect x="266" y="373.5" width="1" height="3.2" fill="#e9c31f" />
<rect x="562" y="373.5" width="1" height="3.2" fill="#e9c31f" />
<line x1="322" y1="380.3" x2="618" y2="380.3" stroke="#4a4a4a" stroke-width="1.05" />
<rect x="323.2" y="378.75" width="1" height="3.1" fill="#e9c31f" opacity="0.72"/>
<rect x="326.2" y="378.75" width="1" height="3.1" fill="#e9c31f" opacity="0.72"/>
<rect x="332.6" y="378.75" width="1" height="3.1" fill="#e9c31f" opacity="0.72"/>
<rect x="339.3" y="378.75" width="1" height="3.1" fill="#e9c31f" opacity="0.72"/>
<rect x="340.5" y="378.75" width="1" height="3.1" fill="#e9c31f" opacity="0.72"/>
<rect x="350.1" y="378.75" width="1" height="3.1" fill="#e9c31f" opacity="0.72"/>
<rect x="351.9" y="378.75" width="1" height="3.1" fill="#e9c31f" opacity="0.72"/>
<rect x="353.6" y="378.75" width="1" height="3.1" fill="#e9c31f" opacity="0.72"/>
<rect x="355" y="378.75" width="1" height="3.1" fill="#e9c31f" opacity="0.72"/>
<rect x="357.6" y="378.75" width="1" height="3.1" fill="#e9c31f" opacity="0.72"/>
<rect x="359.9" y="378.75" width="1" height="3.1" fill="#e9c31f" opacity="0.72"/>
<rect x="362" y="378.75" width="1" height="3.1" fill="#e9c31f" opacity="0.72"/>
<rect x="365.5" y="378.75" width="1" height="3.1" fill="#e9c31f" opacity="0.72"/>
<rect x="366.9" y="378.75" width="1" height="3.1" fill="#e9c31f" opacity="0.72"/>
<rect x="369" y="378.75" width="1" height="3.1" fill="#e9c31f" opacity="0.72"/>
<rect x="370.8" y="378.75" width="1" height="3.1" fill="#e9c31f" opacity="0.72"/>
<rect x="372.2" y="378.75" width="1" height="3.1" fill="#e9c31f" opacity="0.72"/>
<rect x="375.2" y="378.75" width="1" height="3.1" fill="#e9c31f" opacity="0.72"/>
<rect x="376.6" y="378.75" width="1" height="3.1" fill="#e9c31f" opacity="0.72"/>
<rect x="379.2" y="378.75" width="1" height="3.1" fill="#e9c31f" opacity="0.72"/>
<rect x="381.3" y="378.75" width="1" height="3.1" fill="#e9c31f" opacity="0.72"/>
<rect x="386.5" y="378.75" width="1" height="3.1" fill="#e9c31f" opacity="0.72"/>
<rect x="390.4" y="378.75" width="1" height="3.1" fill="#e9c31f" opacity="0.72"/>
<rect x="397.9" y="378.75" width="1" height="3.1" fill="#e9c31f" opacity="0.72"/>
<rect x="402.7" y="378.75" width="1" height="3.1" fill="#e9c31f" opacity="0.72"/>
<rect x="408.5" y="378.75" width="1" height="3.1" fill="#e9c31f" opacity="0.72"/>
<rect x="409.7" y="378.75" width="1" height="3.1" fill="#e9c31f" opacity="0.72"/>
<rect x="411.1" y="378.75" width="1" height="3.1" fill="#e9c31f" opacity="0.72"/>
<rect x="416" y="378.75" width="1" height="3.1" fill="#e9c31f" opacity="0.72"/>
<rect x="417.2" y="378.75" width="1" height="3.1" fill="#e9c31f" opacity="0.72"/>
<rect x="419.5" y="378.75" width="1" height="3.1" fill="#e9c31f" opacity="0.72"/>
<rect x="421.6" y="378.75" width="1" height="3.1" fill="#e9c31f" opacity="0.72"/>
<rect x="425.4" y="378.75" width="1" height="3.1" fill="#e9c31f" opacity="0.72"/>
<rect x="428.2" y="378.75" width="1" height="3.1" fill="#e9c31f" opacity="0.72"/>
<rect x="431.2" y="378.75" width="1" height="3.1" fill="#e9c31f" opacity="0.72"/>
<rect x="437.4" y="378.75" width="1" height="3.1" fill="#e9c31f" opacity="0.72"/>
<rect x="440" y="378.75" width="1" height="3.1" fill="#e9c31f" opacity="0.72"/>
<rect x="446.1" y="378.75" width="1" height="3.1" fill="#e9c31f" opacity="0.72"/>
<rect x="447.9" y="378.75" width="1" height="3.1" fill="#e9c31f" opacity="0.72"/>
<rect x="449.6" y="378.75" width="1" height="3.1" fill="#e9c31f" opacity="0.72"/>
<rect x="455.2" y="378.75" width="1" height="3.1" fill="#e9c31f" opacity="0.72"/>
<rect x="461.5" y="378.75" width="1" height="3.1" fill="#e9c31f" opacity="0.72"/>
<rect x="463.3" y="378.75" width="1" height="3.1" fill="#e9c31f" opacity="0.72"/>
<rect x="464.7" y="378.75" width="1" height="3.1" fill="#e9c31f" opacity="0.72"/>
<rect x="466.4" y="378.75" width="1" height="3.1" fill="#e9c31f" opacity="0.72"/>
<rect x="478.2" y="378.75" width="1" height="3.1" fill="#e9c31f" opacity="0.72"/>
<rect x="479.9" y="378.75" width="1" height="3.1" fill="#e9c31f" opacity="0.72"/>
<rect x="481.7" y="378.75" width="1" height="3.1" fill="#e9c31f" opacity="0.72"/>
<rect x="490.9" y="378.75" width="1" height="3.1" fill="#e9c31f" opacity="0.72"/>
<rect x="496.5" y="378.75" width="1" height="3.1" fill="#e9c31f" opacity="0.72"/>
<rect x="499.7" y="378.75" width="1" height="3.1" fill="#e9c31f" opacity="0.72"/>
<rect x="500.9" y="378.75" width="1" height="3.1" fill="#e9c31f" opacity="0.72"/>
<rect x="502.2" y="378.75" width="1" height="3.1" fill="#e9c31f" opacity="0.72"/>
<rect x="503.9" y="378.75" width="1" height="3.1" fill="#e9c31f" opacity="0.72"/>
<rect x="506.7" y="378.75" width="1" height="3.1" fill="#e9c31f" opacity="0.72"/>
<rect x="508.8" y="378.75" width="1" height="3.1" fill="#e9c31f" opacity="0.72"/>
<rect x="514.1" y="378.75" width="1" height="3.1" fill="#e9c31f" opacity="0.72"/>
<rect x="516.2" y="378.75" width="1" height="3.1" fill="#e9c31f" opacity="0.72"/>
<rect x="517.9" y="378.75" width="1" height="3.1" fill="#e9c31f" opacity="0.72"/>
<rect x="520.2" y="378.75" width="1" height="3.1" fill="#e9c31f" opacity="0.72"/>
<rect x="522.5" y="378.75" width="1" height="3.1" fill="#e9c31f" opacity="0.72"/>
<rect x="531.6" y="378.75" width="1" height="3.1" fill="#e9c31f" opacity="0.72"/>
<rect x="541.2" y="378.75" width="1" height="3.1" fill="#e9c31f" opacity="0.72"/>
<rect x="543" y="378.75" width="1" height="3.1" fill="#e9c31f" opacity="0.72"/>
<rect x="547" y="378.75" width="1" height="3.1" fill="#e9c31f" opacity="0.72"/>
<rect x="548.8" y="378.75" width="1" height="3.1" fill="#e9c31f" opacity="0.72"/>
<rect x="555.2" y="378.75" width="1" height="3.1" fill="#e9c31f" opacity="0.72"/>
<rect x="557" y="378.75" width="1" height="3.1" fill="#e9c31f" opacity="0.72"/>
<rect x="558.7" y="378.75" width="1" height="3.1" fill="#e9c31f" opacity="0.72"/>
<rect x="563.1" y="378.75" width="1" height="3.1" fill="#e9c31f" opacity="0.72"/>
<rect x="564.9" y="378.75" width="1" height="3.1" fill="#e9c31f" opacity="0.72"/>
<rect x="567" y="378.75" width="1" height="3.1" fill="#e9c31f" opacity="0.72"/>
<rect x="569.3" y="378.75" width="1" height="3.1" fill="#e9c31f" opacity="0.72"/>
<rect x="571.5" y="378.75" width="1" height="3.1" fill="#e9c31f" opacity="0.72"/>
<rect x="573.6" y="378.75" width="1" height="3.1" fill="#e9c31f" opacity="0.72"/>
<rect x="576.4" y="378.75" width="1" height="3.1" fill="#e9c31f" opacity="0.72"/>
<rect x="579.9" y="378.75" width="1" height="3.1" fill="#e9c31f" opacity="0.72"/>
<rect x="582" y="378.75" width="1" height="3.1" fill="#e9c31f" opacity="0.72"/>
<rect x="583.8" y="378.75" width="1" height="3.1" fill="#e9c31f" opacity="0.72"/>
<rect x="587.3" y="378.75" width="1" height="3.1" fill="#e9c31f" opacity="0.72"/>
<rect x="588.7" y="378.75" width="1" height="3.1" fill="#e9c31f" opacity="0.72"/>
<rect x="592.5" y="378.75" width="1" height="3.1" fill="#e9c31f" opacity="0.72"/>
<rect x="599.2" y="378.75" width="1" height="3.1" fill="#e9c31f" opacity="0.72"/>
<rect x="600.4" y="378.75" width="1" height="3.1" fill="#e9c31f" opacity="0.72"/>
<rect x="604.8" y="378.75" width="1" height="3.1" fill="#e9c31f" opacity="0.72"/>
<rect x="609.2" y="378.75" width="1" height="3.1" fill="#e9c31f" opacity="0.72"/>
<rect x="610.4" y="378.75" width="1" height="3.1" fill="#e9c31f" opacity="0.72"/>
<rect x="611.8" y="378.75" width="1" height="3.1" fill="#e9c31f" opacity="0.72"/>
<rect x="617.1" y="378.75" width="1" height="3.1" fill="#e9c31f" opacity="0.72"/>
<rect x="321.5" y="378.7" width="1" height="3.2" fill="#e9c31f" />
<rect x="617.5" y="378.7" width="1" height="3.2" fill="#e9c31f" />
<line x1="178.2" y1="387.8" x2="438" y2="387.8" stroke="#7a7a7a" stroke-width="1.05" />
<rect x="178.5" y="386.25" width="1" height="3.1" fill="#1e9e95" opacity="0.72"/>
<rect x="181.2" y="386.25" width="1" height="3.1" fill="#1e9e95" opacity="0.72"/>
<rect x="184.2" y="386.25" width="1" height="3.1" fill="#1e9e95" opacity="0.72"/>
<rect x="189.1" y="386.25" width="1" height="3.1" fill="#1e9e95" opacity="0.72"/>
<rect x="192.9" y="386.25" width="1" height="3.1" fill="#1e9e95" opacity="0.72"/>
<rect x="196.1" y="386.25" width="1" height="3.1" fill="#1e9e95" opacity="0.72"/>
<rect x="199.9" y="386.25" width="1" height="3.1" fill="#1e9e95" opacity="0.72"/>
<rect x="205.7" y="386.25" width="1" height="3.1" fill="#1e9e95" opacity="0.72"/>
<rect x="208.3" y="386.25" width="1" height="3.1" fill="#1e9e95" opacity="0.72"/>
<rect x="210.4" y="386.25" width="1" height="3.1" fill="#1e9e95" opacity="0.72"/>
<rect x="212.7" y="386.25" width="1" height="3.1" fill="#1e9e95" opacity="0.72"/>
<rect x="215.3" y="386.25" width="1" height="3.1" fill="#1e9e95" opacity="0.72"/>
<rect x="218.8" y="386.25" width="1" height="3.1" fill="#1e9e95" opacity="0.72"/>
<rect x="220.2" y="386.25" width="1" height="3.1" fill="#1e9e95" opacity="0.72"/>
<rect x="227.6" y="386.25" width="1" height="3.1" fill="#1e9e95" opacity="0.72"/>
<rect x="234.3" y="386.25" width="1" height="3.1" fill="#1e9e95" opacity="0.72"/>
<rect x="235.5" y="386.25" width="1" height="3.1" fill="#1e9e95" opacity="0.72"/>
<rect x="245.1" y="386.25" width="1" height="3.1" fill="#1e9e95" opacity="0.72"/>
<rect x="246.9" y="386.25" width="1" height="3.1" fill="#1e9e95" opacity="0.72"/>
<rect x="248.6" y="386.25" width="1" height="3.1" fill="#1e9e95" opacity="0.72"/>
<rect x="250" y="386.25" width="1" height="3.1" fill="#1e9e95" opacity="0.72"/>
<rect x="252.6" y="386.25" width="1" height="3.1" fill="#1e9e95" opacity="0.72"/>
<rect x="254.9" y="386.25" width="1" height="3.1" fill="#1e9e95" opacity="0.72"/>
<rect x="257" y="386.25" width="1" height="3.1" fill="#1e9e95" opacity="0.72"/>
<rect x="260.5" y="386.25" width="1" height="3.1" fill="#1e9e95" opacity="0.72"/>
<rect x="261.9" y="386.25" width="1" height="3.1" fill="#1e9e95" opacity="0.72"/>
<rect x="264" y="386.25" width="1" height="3.1" fill="#1e9e95" opacity="0.72"/>
<rect x="265.8" y="386.25" width="1" height="3.1" fill="#1e9e95" opacity="0.72"/>
<rect x="267.2" y="386.25" width="1" height="3.1" fill="#1e9e95" opacity="0.72"/>
<rect x="270.2" y="386.25" width="1" height="3.1" fill="#1e9e95" opacity="0.72"/>
<rect x="271.6" y="386.25" width="1" height="3.1" fill="#1e9e95" opacity="0.72"/>
<rect x="274.2" y="386.25" width="1" height="3.1" fill="#1e9e95" opacity="0.72"/>
<rect x="276.3" y="386.25" width="1" height="3.1" fill="#1e9e95" opacity="0.72"/>
<rect x="281.5" y="386.25" width="1" height="3.1" fill="#1e9e95" opacity="0.72"/>
<rect x="285.4" y="386.25" width="1" height="3.1" fill="#1e9e95" opacity="0.72"/>
<rect x="292.9" y="386.25" width="1" height="3.1" fill="#1e9e95" opacity="0.72"/>
<rect x="297.7" y="386.25" width="1" height="3.1" fill="#1e9e95" opacity="0.72"/>
<rect x="303.5" y="386.25" width="1" height="3.1" fill="#1e9e95" opacity="0.72"/>
<rect x="304.7" y="386.25" width="1" height="3.1" fill="#1e9e95" opacity="0.72"/>
<rect x="306.1" y="386.25" width="1" height="3.1" fill="#1e9e95" opacity="0.72"/>
<rect x="311" y="386.25" width="1" height="3.1" fill="#1e9e95" opacity="0.72"/>
<rect x="312.2" y="386.25" width="1" height="3.1" fill="#1e9e95" opacity="0.72"/>
<rect x="314.5" y="386.25" width="1" height="3.1" fill="#1e9e95" opacity="0.72"/>
<rect x="316.6" y="386.25" width="1" height="3.1" fill="#1e9e95" opacity="0.72"/>
<rect x="320.4" y="386.25" width="1" height="3.1" fill="#1e9e95" opacity="0.72"/>
<rect x="323.2" y="386.25" width="1" height="3.1" fill="#1e9e95" opacity="0.72"/>
<rect x="326.2" y="386.25" width="1" height="3.1" fill="#1e9e95" opacity="0.72"/>
<rect x="332.6" y="386.25" width="1" height="3.1" fill="#1e9e95" opacity="0.72"/>
<rect x="339.3" y="386.25" width="1" height="3.1" fill="#1e9e95" opacity="0.72"/>
<rect x="340.5" y="386.25" width="1" height="3.1" fill="#1e9e95" opacity="0.72"/>
<rect x="350.1" y="386.25" width="1" height="3.1" fill="#1e9e95" opacity="0.72"/>
<rect x="351.9" y="386.25" width="1" height="3.1" fill="#1e9e95" opacity="0.72"/>
<rect x="353.6" y="386.25" width="1" height="3.1" fill="#1e9e95" opacity="0.72"/>
<rect x="355" y="386.25" width="1" height="3.1" fill="#1e9e95" opacity="0.72"/>
<rect x="357.6" y="386.25" width="1" height="3.1" fill="#1e9e95" opacity="0.72"/>
<rect x="359.9" y="386.25" width="1" height="3.1" fill="#1e9e95" opacity="0.72"/>
<rect x="362" y="386.25" width="1" height="3.1" fill="#1e9e95" opacity="0.72"/>
<rect x="365.5" y="386.25" width="1" height="3.1" fill="#1e9e95" opacity="0.72"/>
<rect x="366.9" y="386.25" width="1" height="3.1" fill="#1e9e95" opacity="0.72"/>
<rect x="369" y="386.25" width="1" height="3.1" fill="#1e9e95" opacity="0.72"/>
<rect x="370.8" y="386.25" width="1" height="3.1" fill="#1e9e95" opacity="0.72"/>
<rect x="372.2" y="386.25" width="1" height="3.1" fill="#1e9e95" opacity="0.72"/>
<rect x="375.2" y="386.25" width="1" height="3.1" fill="#1e9e95" opacity="0.72"/>
<rect x="376.6" y="386.25" width="1" height="3.1" fill="#1e9e95" opacity="0.72"/>
<rect x="379.2" y="386.25" width="1" height="3.1" fill="#1e9e95" opacity="0.72"/>
<rect x="381.3" y="386.25" width="1" height="3.1" fill="#1e9e95" opacity="0.72"/>
<rect x="386.5" y="386.25" width="1" height="3.1" fill="#1e9e95" opacity="0.72"/>
<rect x="390.4" y="386.25" width="1" height="3.1" fill="#1e9e95" opacity="0.72"/>
<rect x="397.9" y="386.25" width="1" height="3.1" fill="#1e9e95" opacity="0.72"/>
<rect x="402.7" y="386.25" width="1" height="3.1" fill="#1e9e95" opacity="0.72"/>
<rect x="408.5" y="386.25" width="1" height="3.1" fill="#1e9e95" opacity="0.72"/>
<rect x="409.7" y="386.25" width="1" height="3.1" fill="#1e9e95" opacity="0.72"/>
<rect x="411.1" y="386.25" width="1" height="3.1" fill="#1e9e95" opacity="0.72"/>
<rect x="416" y="386.25" width="1" height="3.1" fill="#1e9e95" opacity="0.72"/>
<rect x="417.2" y="386.25" width="1" height="3.1" fill="#1e9e95" opacity="0.72"/>
<rect x="419.5" y="386.25" width="1" height="3.1" fill="#1e9e95" opacity="0.72"/>
<rect x="421.6" y="386.25" width="1" height="3.1" fill="#1e9e95" opacity="0.72"/>
<rect x="425.4" y="386.25" width="1" height="3.1" fill="#1e9e95" opacity="0.72"/>
<rect x="428.2" y="386.25" width="1" height="3.1" fill="#1e9e95" opacity="0.72"/>
<rect x="431.2" y="386.25" width="1" height="3.1" fill="#1e9e95" opacity="0.72"/>
<rect x="437.4" y="386.25" width="1" height="3.1" fill="#1e9e95" opacity="0.72"/>
<rect x="177.7" y="386.2" width="1" height="3.2" fill="#1e9e95" />
<rect x="437.5" y="386.2" width="1" height="3.2" fill="#1e9e95" />
<line x1="206.9" y1="392.7" x2="466.3" y2="392.7" stroke="#7a7a7a" stroke-width="1.05" />
<rect x="208.3" y="391.15" width="1" height="3.1" fill="#1e9e95" opacity="0.72"/>
<rect x="210.4" y="391.15" width="1" height="3.1" fill="#1e9e95" opacity="0.72"/>
<rect x="212.7" y="391.15" width="1" height="3.1" fill="#1e9e95" opacity="0.72"/>
<rect x="215.3" y="391.15" width="1" height="3.1" fill="#1e9e95" opacity="0.72"/>
<rect x="218.8" y="391.15" width="1" height="3.1" fill="#1e9e95" opacity="0.72"/>
<rect x="220.2" y="391.15" width="1" height="3.1" fill="#1e9e95" opacity="0.72"/>
<rect x="227.6" y="391.15" width="1" height="3.1" fill="#1e9e95" opacity="0.72"/>
<rect x="234.3" y="391.15" width="1" height="3.1" fill="#1e9e95" opacity="0.72"/>
<rect x="235.5" y="391.15" width="1" height="3.1" fill="#1e9e95" opacity="0.72"/>
<rect x="245.1" y="391.15" width="1" height="3.1" fill="#1e9e95" opacity="0.72"/>
<rect x="246.9" y="391.15" width="1" height="3.1" fill="#1e9e95" opacity="0.72"/>
<rect x="248.6" y="391.15" width="1" height="3.1" fill="#1e9e95" opacity="0.72"/>
<rect x="250" y="391.15" width="1" height="3.1" fill="#1e9e95" opacity="0.72"/>
<rect x="252.6" y="391.15" width="1" height="3.1" fill="#1e9e95" opacity="0.72"/>
<rect x="254.9" y="391.15" width="1" height="3.1" fill="#1e9e95" opacity="0.72"/>
<rect x="257" y="391.15" width="1" height="3.1" fill="#1e9e95" opacity="0.72"/>
<rect x="260.5" y="391.15" width="1" height="3.1" fill="#1e9e95" opacity="0.72"/>
<rect x="261.9" y="391.15" width="1" height="3.1" fill="#1e9e95" opacity="0.72"/>
<rect x="264" y="391.15" width="1" height="3.1" fill="#1e9e95" opacity="0.72"/>
<rect x="265.8" y="391.15" width="1" height="3.1" fill="#1e9e95" opacity="0.72"/>
<rect x="267.2" y="391.15" width="1" height="3.1" fill="#1e9e95" opacity="0.72"/>
<rect x="270.2" y="391.15" width="1" height="3.1" fill="#1e9e95" opacity="0.72"/>
<rect x="271.6" y="391.15" width="1" height="3.1" fill="#1e9e95" opacity="0.72"/>
<rect x="274.2" y="391.15" width="1" height="3.1" fill="#1e9e95" opacity="0.72"/>
<rect x="276.3" y="391.15" width="1" height="3.1" fill="#1e9e95" opacity="0.72"/>
<rect x="281.5" y="391.15" width="1" height="3.1" fill="#1e9e95" opacity="0.72"/>
<rect x="285.4" y="391.15" width="1" height="3.1" fill="#1e9e95" opacity="0.72"/>
<rect x="292.9" y="391.15" width="1" height="3.1" fill="#1e9e95" opacity="0.72"/>
<rect x="297.7" y="391.15" width="1" height="3.1" fill="#1e9e95" opacity="0.72"/>
<rect x="303.5" y="391.15" width="1" height="3.1" fill="#1e9e95" opacity="0.72"/>
<rect x="304.7" y="391.15" width="1" height="3.1" fill="#1e9e95" opacity="0.72"/>
<rect x="306.1" y="391.15" width="1" height="3.1" fill="#1e9e95" opacity="0.72"/>
<rect x="311" y="391.15" width="1" height="3.1" fill="#1e9e95" opacity="0.72"/>
<rect x="312.2" y="391.15" width="1" height="3.1" fill="#1e9e95" opacity="0.72"/>
<rect x="314.5" y="391.15" width="1" height="3.1" fill="#1e9e95" opacity="0.72"/>
<rect x="316.6" y="391.15" width="1" height="3.1" fill="#1e9e95" opacity="0.72"/>
<rect x="320.4" y="391.15" width="1" height="3.1" fill="#1e9e95" opacity="0.72"/>
<rect x="323.2" y="391.15" width="1" height="3.1" fill="#1e9e95" opacity="0.72"/>
<rect x="326.2" y="391.15" width="1" height="3.1" fill="#1e9e95" opacity="0.72"/>
<rect x="332.6" y="391.15" width="1" height="3.1" fill="#1e9e95" opacity="0.72"/>
<rect x="339.3" y="391.15" width="1" height="3.1" fill="#1e9e95" opacity="0.72"/>
<rect x="340.5" y="391.15" width="1" height="3.1" fill="#1e9e95" opacity="0.72"/>
<rect x="350.1" y="391.15" width="1" height="3.1" fill="#1e9e95" opacity="0.72"/>
<rect x="351.9" y="391.15" width="1" height="3.1" fill="#1e9e95" opacity="0.72"/>
<rect x="353.6" y="391.15" width="1" height="3.1" fill="#1e9e95" opacity="0.72"/>
<rect x="355" y="391.15" width="1" height="3.1" fill="#1e9e95" opacity="0.72"/>
<rect x="357.6" y="391.15" width="1" height="3.1" fill="#1e9e95" opacity="0.72"/>
<rect x="359.9" y="391.15" width="1" height="3.1" fill="#1e9e95" opacity="0.72"/>
<rect x="362" y="391.15" width="1" height="3.1" fill="#1e9e95" opacity="0.72"/>
<rect x="365.5" y="391.15" width="1" height="3.1" fill="#1e9e95" opacity="0.72"/>
<rect x="366.9" y="391.15" width="1" height="3.1" fill="#1e9e95" opacity="0.72"/>
<rect x="369" y="391.15" width="1" height="3.1" fill="#1e9e95" opacity="0.72"/>
<rect x="370.8" y="391.15" width="1" height="3.1" fill="#1e9e95" opacity="0.72"/>
<rect x="372.2" y="391.15" width="1" height="3.1" fill="#1e9e95" opacity="0.72"/>
<rect x="375.2" y="391.15" width="1" height="3.1" fill="#1e9e95" opacity="0.72"/>
<rect x="376.6" y="391.15" width="1" height="3.1" fill="#1e9e95" opacity="0.72"/>
<rect x="379.2" y="391.15" width="1" height="3.1" fill="#1e9e95" opacity="0.72"/>
<rect x="381.3" y="391.15" width="1" height="3.1" fill="#1e9e95" opacity="0.72"/>
<rect x="386.5" y="391.15" width="1" height="3.1" fill="#1e9e95" opacity="0.72"/>
<rect x="390.4" y="391.15" width="1" height="3.1" fill="#1e9e95" opacity="0.72"/>
<rect x="397.9" y="391.15" width="1" height="3.1" fill="#1e9e95" opacity="0.72"/>
<rect x="402.7" y="391.15" width="1" height="3.1" fill="#1e9e95" opacity="0.72"/>
<rect x="408.5" y="391.15" width="1" height="3.1" fill="#1e9e95" opacity="0.72"/>
<rect x="409.7" y="391.15" width="1" height="3.1" fill="#1e9e95" opacity="0.72"/>
<rect x="411.1" y="391.15" width="1" height="3.1" fill="#1e9e95" opacity="0.72"/>
<rect x="416" y="391.15" width="1" height="3.1" fill="#1e9e95" opacity="0.72"/>
<rect x="417.2" y="391.15" width="1" height="3.1" fill="#1e9e95" opacity="0.72"/>
<rect x="419.5" y="391.15" width="1" height="3.1" fill="#1e9e95" opacity="0.72"/>
<rect x="421.6" y="391.15" width="1" height="3.1" fill="#1e9e95" opacity="0.72"/>
<rect x="425.4" y="391.15" width="1" height="3.1" fill="#1e9e95" opacity="0.72"/>
<rect x="428.2" y="391.15" width="1" height="3.1" fill="#1e9e95" opacity="0.72"/>
<rect x="431.2" y="391.15" width="1" height="3.1" fill="#1e9e95" opacity="0.72"/>
<rect x="437.4" y="391.15" width="1" height="3.1" fill="#1e9e95" opacity="0.72"/>
<rect x="440" y="391.15" width="1" height="3.1" fill="#1e9e95" opacity="0.72"/>
<rect x="446.1" y="391.15" width="1" height="3.1" fill="#1e9e95" opacity="0.72"/>
<rect x="447.9" y="391.15" width="1" height="3.1" fill="#1e9e95" opacity="0.72"/>
<rect x="449.6" y="391.15" width="1" height="3.1" fill="#1e9e95" opacity="0.72"/>
<rect x="455.2" y="391.15" width="1" height="3.1" fill="#1e9e95" opacity="0.72"/>
<rect x="461.5" y="391.15" width="1" height="3.1" fill="#1e9e95" opacity="0.72"/>
<rect x="463.3" y="391.15" width="1" height="3.1" fill="#1e9e95" opacity="0.72"/>
<rect x="464.7" y="391.15" width="1" height="3.1" fill="#1e9e95" opacity="0.72"/>
<rect x="206.4" y="391.1" width="1" height="3.2" fill="#1e9e95" />
<rect x="465.8" y="391.1" width="1" height="3.2" fill="#1e9e95" />
<line x1="212.3" y1="397.6" x2="464.8" y2="397.6" stroke="#7a7a7a" stroke-width="1.05" />
<rect x="212.7" y="396.05" width="1" height="3.1" fill="#1e9e95" opacity="0.72"/>
<rect x="215.3" y="396.05" width="1" height="3.1" fill="#1e9e95" opacity="0.72"/>
<rect x="218.8" y="396.05" width="1" height="3.1" fill="#1e9e95" opacity="0.72"/>
<rect x="220.2" y="396.05" width="1" height="3.1" fill="#1e9e95" opacity="0.72"/>
<rect x="227.6" y="396.05" width="1" height="3.1" fill="#1e9e95" opacity="0.72"/>
<rect x="234.3" y="396.05" width="1" height="3.1" fill="#1e9e95" opacity="0.72"/>
<rect x="235.5" y="396.05" width="1" height="3.1" fill="#1e9e95" opacity="0.72"/>
<rect x="245.1" y="396.05" width="1" height="3.1" fill="#1e9e95" opacity="0.72"/>
<rect x="246.9" y="396.05" width="1" height="3.1" fill="#1e9e95" opacity="0.72"/>
<rect x="248.6" y="396.05" width="1" height="3.1" fill="#1e9e95" opacity="0.72"/>
<rect x="250" y="396.05" width="1" height="3.1" fill="#1e9e95" opacity="0.72"/>
<rect x="252.6" y="396.05" width="1" height="3.1" fill="#1e9e95" opacity="0.72"/>
<rect x="254.9" y="396.05" width="1" height="3.1" fill="#1e9e95" opacity="0.72"/>
<rect x="257" y="396.05" width="1" height="3.1" fill="#1e9e95" opacity="0.72"/>
<rect x="260.5" y="396.05" width="1" height="3.1" fill="#1e9e95" opacity="0.72"/>
<rect x="261.9" y="396.05" width="1" height="3.1" fill="#1e9e95" opacity="0.72"/>
<rect x="264" y="396.05" width="1" height="3.1" fill="#1e9e95" opacity="0.72"/>
<rect x="265.8" y="396.05" width="1" height="3.1" fill="#1e9e95" opacity="0.72"/>
<rect x="267.2" y="396.05" width="1" height="3.1" fill="#1e9e95" opacity="0.72"/>
<rect x="270.2" y="396.05" width="1" height="3.1" fill="#1e9e95" opacity="0.72"/>
<rect x="271.6" y="396.05" width="1" height="3.1" fill="#1e9e95" opacity="0.72"/>
<rect x="274.2" y="396.05" width="1" height="3.1" fill="#1e9e95" opacity="0.72"/>
<rect x="276.3" y="396.05" width="1" height="3.1" fill="#1e9e95" opacity="0.72"/>
<rect x="281.5" y="396.05" width="1" height="3.1" fill="#1e9e95" opacity="0.72"/>
<rect x="285.4" y="396.05" width="1" height="3.1" fill="#1e9e95" opacity="0.72"/>
<rect x="292.9" y="396.05" width="1" height="3.1" fill="#1e9e95" opacity="0.72"/>
<rect x="297.7" y="396.05" width="1" height="3.1" fill="#1e9e95" opacity="0.72"/>
<rect x="303.5" y="396.05" width="1" height="3.1" fill="#1e9e95" opacity="0.72"/>
<rect x="304.7" y="396.05" width="1" height="3.1" fill="#1e9e95" opacity="0.72"/>
<rect x="306.1" y="396.05" width="1" height="3.1" fill="#1e9e95" opacity="0.72"/>
<rect x="311" y="396.05" width="1" height="3.1" fill="#1e9e95" opacity="0.72"/>
<rect x="312.2" y="396.05" width="1" height="3.1" fill="#1e9e95" opacity="0.72"/>
<rect x="314.5" y="396.05" width="1" height="3.1" fill="#1e9e95" opacity="0.72"/>
<rect x="316.6" y="396.05" width="1" height="3.1" fill="#1e9e95" opacity="0.72"/>
<rect x="320.4" y="396.05" width="1" height="3.1" fill="#1e9e95" opacity="0.72"/>
<rect x="323.2" y="396.05" width="1" height="3.1" fill="#1e9e95" opacity="0.72"/>
<rect x="326.2" y="396.05" width="1" height="3.1" fill="#1e9e95" opacity="0.72"/>
<rect x="332.6" y="396.05" width="1" height="3.1" fill="#1e9e95" opacity="0.72"/>
<rect x="339.3" y="396.05" width="1" height="3.1" fill="#1e9e95" opacity="0.72"/>
<rect x="340.5" y="396.05" width="1" height="3.1" fill="#1e9e95" opacity="0.72"/>
<rect x="350.1" y="396.05" width="1" height="3.1" fill="#1e9e95" opacity="0.72"/>
<rect x="351.9" y="396.05" width="1" height="3.1" fill="#1e9e95" opacity="0.72"/>
<rect x="353.6" y="396.05" width="1" height="3.1" fill="#1e9e95" opacity="0.72"/>
<rect x="355" y="396.05" width="1" height="3.1" fill="#1e9e95" opacity="0.72"/>
<rect x="357.6" y="396.05" width="1" height="3.1" fill="#1e9e95" opacity="0.72"/>
<rect x="359.9" y="396.05" width="1" height="3.1" fill="#1e9e95" opacity="0.72"/>
<rect x="362" y="396.05" width="1" height="3.1" fill="#1e9e95" opacity="0.72"/>
<rect x="365.5" y="396.05" width="1" height="3.1" fill="#1e9e95" opacity="0.72"/>
<rect x="366.9" y="396.05" width="1" height="3.1" fill="#1e9e95" opacity="0.72"/>
<rect x="369" y="396.05" width="1" height="3.1" fill="#1e9e95" opacity="0.72"/>
<rect x="370.8" y="396.05" width="1" height="3.1" fill="#1e9e95" opacity="0.72"/>
<rect x="372.2" y="396.05" width="1" height="3.1" fill="#1e9e95" opacity="0.72"/>
<rect x="375.2" y="396.05" width="1" height="3.1" fill="#1e9e95" opacity="0.72"/>
<rect x="376.6" y="396.05" width="1" height="3.1" fill="#1e9e95" opacity="0.72"/>
<rect x="379.2" y="396.05" width="1" height="3.1" fill="#1e9e95" opacity="0.72"/>
<rect x="381.3" y="396.05" width="1" height="3.1" fill="#1e9e95" opacity="0.72"/>
<rect x="386.5" y="396.05" width="1" height="3.1" fill="#1e9e95" opacity="0.72"/>
<rect x="390.4" y="396.05" width="1" height="3.1" fill="#1e9e95" opacity="0.72"/>
<rect x="397.9" y="396.05" width="1" height="3.1" fill="#1e9e95" opacity="0.72"/>
<rect x="402.7" y="396.05" width="1" height="3.1" fill="#1e9e95" opacity="0.72"/>
<rect x="408.5" y="396.05" width="1" height="3.1" fill="#1e9e95" opacity="0.72"/>
<rect x="409.7" y="396.05" width="1" height="3.1" fill="#1e9e95" opacity="0.72"/>
<rect x="411.1" y="396.05" width="1" height="3.1" fill="#1e9e95" opacity="0.72"/>
<rect x="416" y="396.05" width="1" height="3.1" fill="#1e9e95" opacity="0.72"/>
<rect x="417.2" y="396.05" width="1" height="3.1" fill="#1e9e95" opacity="0.72"/>
<rect x="419.5" y="396.05" width="1" height="3.1" fill="#1e9e95" opacity="0.72"/>
<rect x="421.6" y="396.05" width="1" height="3.1" fill="#1e9e95" opacity="0.72"/>
<rect x="425.4" y="396.05" width="1" height="3.1" fill="#1e9e95" opacity="0.72"/>
<rect x="428.2" y="396.05" width="1" height="3.1" fill="#1e9e95" opacity="0.72"/>
<rect x="431.2" y="396.05" width="1" height="3.1" fill="#1e9e95" opacity="0.72"/>
<rect x="437.4" y="396.05" width="1" height="3.1" fill="#1e9e95" opacity="0.72"/>
<rect x="440" y="396.05" width="1" height="3.1" fill="#1e9e95" opacity="0.72"/>
<rect x="446.1" y="396.05" width="1" height="3.1" fill="#1e9e95" opacity="0.72"/>
<rect x="447.9" y="396.05" width="1" height="3.1" fill="#1e9e95" opacity="0.72"/>
<rect x="449.6" y="396.05" width="1" height="3.1" fill="#1e9e95" opacity="0.72"/>
<rect x="455.2" y="396.05" width="1" height="3.1" fill="#1e9e95" opacity="0.72"/>
<rect x="461.5" y="396.05" width="1" height="3.1" fill="#1e9e95" opacity="0.72"/>
<rect x="463.3" y="396.05" width="1" height="3.1" fill="#1e9e95" opacity="0.72"/>
<rect x="464.7" y="396.05" width="1" height="3.1" fill="#1e9e95" opacity="0.72"/>
<rect x="211.8" y="396" width="1" height="3.2" fill="#1e9e95" />
<rect x="464.3" y="396" width="1" height="3.2" fill="#1e9e95" />
<line x1="219.3" y1="402.7" x2="467.7" y2="402.7" stroke="#7a7a7a" stroke-width="1.05" />
<rect x="218.8" y="401.15" width="1" height="3.1" fill="#1e9e95" opacity="0.72"/>
<rect x="220.2" y="401.15" width="1" height="3.1" fill="#1e9e95" opacity="0.72"/>
<rect x="227.6" y="401.15" width="1" height="3.1" fill="#1e9e95" opacity="0.72"/>
<rect x="234.3" y="401.15" width="1" height="3.1" fill="#1e9e95" opacity="0.72"/>
<rect x="235.5" y="401.15" width="1" height="3.1" fill="#1e9e95" opacity="0.72"/>
<rect x="245.1" y="401.15" width="1" height="3.1" fill="#1e9e95" opacity="0.72"/>
<rect x="246.9" y="401.15" width="1" height="3.1" fill="#1e9e95" opacity="0.72"/>
<rect x="248.6" y="401.15" width="1" height="3.1" fill="#1e9e95" opacity="0.72"/>
<rect x="250" y="401.15" width="1" height="3.1" fill="#1e9e95" opacity="0.72"/>
<rect x="252.6" y="401.15" width="1" height="3.1" fill="#1e9e95" opacity="0.72"/>
<rect x="254.9" y="401.15" width="1" height="3.1" fill="#1e9e95" opacity="0.72"/>
<rect x="257" y="401.15" width="1" height="3.1" fill="#1e9e95" opacity="0.72"/>
<rect x="260.5" y="401.15" width="1" height="3.1" fill="#1e9e95" opacity="0.72"/>
<rect x="261.9" y="401.15" width="1" height="3.1" fill="#1e9e95" opacity="0.72"/>
<rect x="264" y="401.15" width="1" height="3.1" fill="#1e9e95" opacity="0.72"/>
<rect x="265.8" y="401.15" width="1" height="3.1" fill="#1e9e95" opacity="0.72"/>
<rect x="267.2" y="401.15" width="1" height="3.1" fill="#1e9e95" opacity="0.72"/>
<rect x="270.2" y="401.15" width="1" height="3.1" fill="#1e9e95" opacity="0.72"/>
<rect x="271.6" y="401.15" width="1" height="3.1" fill="#1e9e95" opacity="0.72"/>
<rect x="274.2" y="401.15" width="1" height="3.1" fill="#1e9e95" opacity="0.72"/>
<rect x="276.3" y="401.15" width="1" height="3.1" fill="#1e9e95" opacity="0.72"/>
<rect x="281.5" y="401.15" width="1" height="3.1" fill="#1e9e95" opacity="0.72"/>
<rect x="285.4" y="401.15" width="1" height="3.1" fill="#1e9e95" opacity="0.72"/>
<rect x="292.9" y="401.15" width="1" height="3.1" fill="#1e9e95" opacity="0.72"/>
<rect x="297.7" y="401.15" width="1" height="3.1" fill="#1e9e95" opacity="0.72"/>
<rect x="303.5" y="401.15" width="1" height="3.1" fill="#1e9e95" opacity="0.72"/>
<rect x="304.7" y="401.15" width="1" height="3.1" fill="#1e9e95" opacity="0.72"/>
<rect x="306.1" y="401.15" width="1" height="3.1" fill="#1e9e95" opacity="0.72"/>
<rect x="311" y="401.15" width="1" height="3.1" fill="#1e9e95" opacity="0.72"/>
<rect x="312.2" y="401.15" width="1" height="3.1" fill="#1e9e95" opacity="0.72"/>
<rect x="314.5" y="401.15" width="1" height="3.1" fill="#1e9e95" opacity="0.72"/>
<rect x="316.6" y="401.15" width="1" height="3.1" fill="#1e9e95" opacity="0.72"/>
<rect x="320.4" y="401.15" width="1" height="3.1" fill="#1e9e95" opacity="0.72"/>
<rect x="323.2" y="401.15" width="1" height="3.1" fill="#1e9e95" opacity="0.72"/>
<rect x="326.2" y="401.15" width="1" height="3.1" fill="#1e9e95" opacity="0.72"/>
<rect x="332.6" y="401.15" width="1" height="3.1" fill="#1e9e95" opacity="0.72"/>
<rect x="339.3" y="401.15" width="1" height="3.1" fill="#1e9e95" opacity="0.72"/>
<rect x="340.5" y="401.15" width="1" height="3.1" fill="#1e9e95" opacity="0.72"/>
<rect x="350.1" y="401.15" width="1" height="3.1" fill="#1e9e95" opacity="0.72"/>
<rect x="351.9" y="401.15" width="1" height="3.1" fill="#1e9e95" opacity="0.72"/>
<rect x="353.6" y="401.15" width="1" height="3.1" fill="#1e9e95" opacity="0.72"/>
<rect x="355" y="401.15" width="1" height="3.1" fill="#1e9e95" opacity="0.72"/>
<rect x="357.6" y="401.15" width="1" height="3.1" fill="#1e9e95" opacity="0.72"/>
<rect x="359.9" y="401.15" width="1" height="3.1" fill="#1e9e95" opacity="0.72"/>
<rect x="362" y="401.15" width="1" height="3.1" fill="#1e9e95" opacity="0.72"/>
<rect x="365.5" y="401.15" width="1" height="3.1" fill="#1e9e95" opacity="0.72"/>
<rect x="366.9" y="401.15" width="1" height="3.1" fill="#1e9e95" opacity="0.72"/>
<rect x="369" y="401.15" width="1" height="3.1" fill="#1e9e95" opacity="0.72"/>
<rect x="370.8" y="401.15" width="1" height="3.1" fill="#1e9e95" opacity="0.72"/>
<rect x="372.2" y="401.15" width="1" height="3.1" fill="#1e9e95" opacity="0.72"/>
<rect x="375.2" y="401.15" width="1" height="3.1" fill="#1e9e95" opacity="0.72"/>
<rect x="376.6" y="401.15" width="1" height="3.1" fill="#1e9e95" opacity="0.72"/>
<rect x="379.2" y="401.15" width="1" height="3.1" fill="#1e9e95" opacity="0.72"/>
<rect x="381.3" y="401.15" width="1" height="3.1" fill="#1e9e95" opacity="0.72"/>
<rect x="386.5" y="401.15" width="1" height="3.1" fill="#1e9e95" opacity="0.72"/>
<rect x="390.4" y="401.15" width="1" height="3.1" fill="#1e9e95" opacity="0.72"/>
<rect x="397.9" y="401.15" width="1" height="3.1" fill="#1e9e95" opacity="0.72"/>
<rect x="402.7" y="401.15" width="1" height="3.1" fill="#1e9e95" opacity="0.72"/>
<rect x="408.5" y="401.15" width="1" height="3.1" fill="#1e9e95" opacity="0.72"/>
<rect x="409.7" y="401.15" width="1" height="3.1" fill="#1e9e95" opacity="0.72"/>
<rect x="411.1" y="401.15" width="1" height="3.1" fill="#1e9e95" opacity="0.72"/>
<rect x="416" y="401.15" width="1" height="3.1" fill="#1e9e95" opacity="0.72"/>
<rect x="417.2" y="401.15" width="1" height="3.1" fill="#1e9e95" opacity="0.72"/>
<rect x="419.5" y="401.15" width="1" height="3.1" fill="#1e9e95" opacity="0.72"/>
<rect x="421.6" y="401.15" width="1" height="3.1" fill="#1e9e95" opacity="0.72"/>
<rect x="425.4" y="401.15" width="1" height="3.1" fill="#1e9e95" opacity="0.72"/>
<rect x="428.2" y="401.15" width="1" height="3.1" fill="#1e9e95" opacity="0.72"/>
<rect x="431.2" y="401.15" width="1" height="3.1" fill="#1e9e95" opacity="0.72"/>
<rect x="437.4" y="401.15" width="1" height="3.1" fill="#1e9e95" opacity="0.72"/>
<rect x="440" y="401.15" width="1" height="3.1" fill="#1e9e95" opacity="0.72"/>
<rect x="446.1" y="401.15" width="1" height="3.1" fill="#1e9e95" opacity="0.72"/>
<rect x="447.9" y="401.15" width="1" height="3.1" fill="#1e9e95" opacity="0.72"/>
<rect x="449.6" y="401.15" width="1" height="3.1" fill="#1e9e95" opacity="0.72"/>
<rect x="455.2" y="401.15" width="1" height="3.1" fill="#1e9e95" opacity="0.72"/>
<rect x="461.5" y="401.15" width="1" height="3.1" fill="#1e9e95" opacity="0.72"/>
<rect x="463.3" y="401.15" width="1" height="3.1" fill="#1e9e95" opacity="0.72"/>
<rect x="464.7" y="401.15" width="1" height="3.1" fill="#1e9e95" opacity="0.72"/>
<rect x="466.4" y="401.15" width="1" height="3.1" fill="#1e9e95" opacity="0.72"/>
<rect x="218.8" y="401.1" width="1" height="3.2" fill="#1e9e95" />
<rect x="467.2" y="401.1" width="1" height="3.2" fill="#1e9e95" />
<line x1="221" y1="407.8" x2="496.4" y2="407.8" stroke="#7a7a7a" stroke-width="1.05" />
<rect x="220.2" y="406.25" width="1" height="3.1" fill="#1e9e95" opacity="0.72"/>
<rect x="227.6" y="406.25" width="1" height="3.1" fill="#1e9e95" opacity="0.72"/>
<rect x="234.3" y="406.25" width="1" height="3.1" fill="#1e9e95" opacity="0.72"/>
<rect x="235.5" y="406.25" width="1" height="3.1" fill="#1e9e95" opacity="0.72"/>
<rect x="245.1" y="406.25" width="1" height="3.1" fill="#1e9e95" opacity="0.72"/>
<rect x="246.9" y="406.25" width="1" height="3.1" fill="#1e9e95" opacity="0.72"/>
<rect x="248.6" y="406.25" width="1" height="3.1" fill="#1e9e95" opacity="0.72"/>
<rect x="250" y="406.25" width="1" height="3.1" fill="#1e9e95" opacity="0.72"/>
<rect x="252.6" y="406.25" width="1" height="3.1" fill="#1e9e95" opacity="0.72"/>
<rect x="254.9" y="406.25" width="1" height="3.1" fill="#1e9e95" opacity="0.72"/>
<rect x="257" y="406.25" width="1" height="3.1" fill="#1e9e95" opacity="0.72"/>
<rect x="260.5" y="406.25" width="1" height="3.1" fill="#1e9e95" opacity="0.72"/>
<rect x="261.9" y="406.25" width="1" height="3.1" fill="#1e9e95" opacity="0.72"/>
<rect x="264" y="406.25" width="1" height="3.1" fill="#1e9e95" opacity="0.72"/>
<rect x="265.8" y="406.25" width="1" height="3.1" fill="#1e9e95" opacity="0.72"/>
<rect x="267.2" y="406.25" width="1" height="3.1" fill="#1e9e95" opacity="0.72"/>
<rect x="270.2" y="406.25" width="1" height="3.1" fill="#1e9e95" opacity="0.72"/>
<rect x="271.6" y="406.25" width="1" height="3.1" fill="#1e9e95" opacity="0.72"/>
<rect x="274.2" y="406.25" width="1" height="3.1" fill="#1e9e95" opacity="0.72"/>
<rect x="276.3" y="406.25" width="1" height="3.1" fill="#1e9e95" opacity="0.72"/>
<rect x="281.5" y="406.25" width="1" height="3.1" fill="#1e9e95" opacity="0.72"/>
<rect x="285.4" y="406.25" width="1" height="3.1" fill="#1e9e95" opacity="0.72"/>
<rect x="292.9" y="406.25" width="1" height="3.1" fill="#1e9e95" opacity="0.72"/>
<rect x="297.7" y="406.25" width="1" height="3.1" fill="#1e9e95" opacity="0.72"/>
<rect x="303.5" y="406.25" width="1" height="3.1" fill="#1e9e95" opacity="0.72"/>
<rect x="304.7" y="406.25" width="1" height="3.1" fill="#1e9e95" opacity="0.72"/>
<rect x="306.1" y="406.25" width="1" height="3.1" fill="#1e9e95" opacity="0.72"/>
<rect x="311" y="406.25" width="1" height="3.1" fill="#1e9e95" opacity="0.72"/>
<rect x="312.2" y="406.25" width="1" height="3.1" fill="#1e9e95" opacity="0.72"/>
<rect x="314.5" y="406.25" width="1" height="3.1" fill="#1e9e95" opacity="0.72"/>
<rect x="316.6" y="406.25" width="1" height="3.1" fill="#1e9e95" opacity="0.72"/>
<rect x="320.4" y="406.25" width="1" height="3.1" fill="#1e9e95" opacity="0.72"/>
<rect x="323.2" y="406.25" width="1" height="3.1" fill="#1e9e95" opacity="0.72"/>
<rect x="326.2" y="406.25" width="1" height="3.1" fill="#1e9e95" opacity="0.72"/>
<rect x="332.6" y="406.25" width="1" height="3.1" fill="#1e9e95" opacity="0.72"/>
<rect x="339.3" y="406.25" width="1" height="3.1" fill="#1e9e95" opacity="0.72"/>
<rect x="340.5" y="406.25" width="1" height="3.1" fill="#1e9e95" opacity="0.72"/>
<rect x="350.1" y="406.25" width="1" height="3.1" fill="#1e9e95" opacity="0.72"/>
<rect x="351.9" y="406.25" width="1" height="3.1" fill="#1e9e95" opacity="0.72"/>
<rect x="353.6" y="406.25" width="1" height="3.1" fill="#1e9e95" opacity="0.72"/>
<rect x="355" y="406.25" width="1" height="3.1" fill="#1e9e95" opacity="0.72"/>
<rect x="357.6" y="406.25" width="1" height="3.1" fill="#1e9e95" opacity="0.72"/>
<rect x="359.9" y="406.25" width="1" height="3.1" fill="#1e9e95" opacity="0.72"/>
<rect x="362" y="406.25" width="1" height="3.1" fill="#1e9e95" opacity="0.72"/>
<rect x="365.5" y="406.25" width="1" height="3.1" fill="#1e9e95" opacity="0.72"/>
<rect x="366.9" y="406.25" width="1" height="3.1" fill="#1e9e95" opacity="0.72"/>
<rect x="369" y="406.25" width="1" height="3.1" fill="#1e9e95" opacity="0.72"/>
<rect x="370.8" y="406.25" width="1" height="3.1" fill="#1e9e95" opacity="0.72"/>
<rect x="372.2" y="406.25" width="1" height="3.1" fill="#1e9e95" opacity="0.72"/>
<rect x="375.2" y="406.25" width="1" height="3.1" fill="#1e9e95" opacity="0.72"/>
<rect x="376.6" y="406.25" width="1" height="3.1" fill="#1e9e95" opacity="0.72"/>
<rect x="379.2" y="406.25" width="1" height="3.1" fill="#1e9e95" opacity="0.72"/>
<rect x="381.3" y="406.25" width="1" height="3.1" fill="#1e9e95" opacity="0.72"/>
<rect x="386.5" y="406.25" width="1" height="3.1" fill="#1e9e95" opacity="0.72"/>
<rect x="390.4" y="406.25" width="1" height="3.1" fill="#1e9e95" opacity="0.72"/>
<rect x="397.9" y="406.25" width="1" height="3.1" fill="#1e9e95" opacity="0.72"/>
<rect x="402.7" y="406.25" width="1" height="3.1" fill="#1e9e95" opacity="0.72"/>
<rect x="408.5" y="406.25" width="1" height="3.1" fill="#1e9e95" opacity="0.72"/>
<rect x="409.7" y="406.25" width="1" height="3.1" fill="#1e9e95" opacity="0.72"/>
<rect x="411.1" y="406.25" width="1" height="3.1" fill="#1e9e95" opacity="0.72"/>
<rect x="416" y="406.25" width="1" height="3.1" fill="#1e9e95" opacity="0.72"/>
<rect x="417.2" y="406.25" width="1" height="3.1" fill="#1e9e95" opacity="0.72"/>
<rect x="419.5" y="406.25" width="1" height="3.1" fill="#1e9e95" opacity="0.72"/>
<rect x="421.6" y="406.25" width="1" height="3.1" fill="#1e9e95" opacity="0.72"/>
<rect x="425.4" y="406.25" width="1" height="3.1" fill="#1e9e95" opacity="0.72"/>
<rect x="428.2" y="406.25" width="1" height="3.1" fill="#1e9e95" opacity="0.72"/>
<rect x="431.2" y="406.25" width="1" height="3.1" fill="#1e9e95" opacity="0.72"/>
<rect x="437.4" y="406.25" width="1" height="3.1" fill="#1e9e95" opacity="0.72"/>
<rect x="440" y="406.25" width="1" height="3.1" fill="#1e9e95" opacity="0.72"/>
<rect x="446.1" y="406.25" width="1" height="3.1" fill="#1e9e95" opacity="0.72"/>
<rect x="447.9" y="406.25" width="1" height="3.1" fill="#1e9e95" opacity="0.72"/>
<rect x="449.6" y="406.25" width="1" height="3.1" fill="#1e9e95" opacity="0.72"/>
<rect x="455.2" y="406.25" width="1" height="3.1" fill="#1e9e95" opacity="0.72"/>
<rect x="461.5" y="406.25" width="1" height="3.1" fill="#1e9e95" opacity="0.72"/>
<rect x="463.3" y="406.25" width="1" height="3.1" fill="#1e9e95" opacity="0.72"/>
<rect x="464.7" y="406.25" width="1" height="3.1" fill="#1e9e95" opacity="0.72"/>
<rect x="466.4" y="406.25" width="1" height="3.1" fill="#1e9e95" opacity="0.72"/>
<rect x="478.2" y="406.25" width="1" height="3.1" fill="#1e9e95" opacity="0.72"/>
<rect x="479.9" y="406.25" width="1" height="3.1" fill="#1e9e95" opacity="0.72"/>
<rect x="481.7" y="406.25" width="1" height="3.1" fill="#1e9e95" opacity="0.72"/>
<rect x="490.9" y="406.25" width="1" height="3.1" fill="#1e9e95" opacity="0.72"/>
<rect x="220.5" y="406.2" width="1" height="3.2" fill="#1e9e95" />
<rect x="495.9" y="406.2" width="1" height="3.2" fill="#1e9e95" />
<line x1="226.2" y1="413.6" x2="226.2" y2="418" stroke="#231f20" stroke-width="1.1" />
<line x1="328.4" y1="413.6" x2="328.4" y2="418" stroke="#231f20" stroke-width="1.1" />
<line x1="433.5" y1="413.6" x2="433.5" y2="418" stroke="#231f20" stroke-width="1.1" />
<text x="228.9" y="428" font-size="10.7" font-weight="bold" font-style="normal" text-anchor="middle" fill="#231f20" >Breakend</text>
<text x="333.3" y="428.2" font-size="10.7" font-weight="bold" font-style="normal" text-anchor="middle" fill="#231f20" >Breakpoint</text>
<text x="333.3" y="440.9" font-size="10.7" font-weight="bold" font-style="normal" text-anchor="middle" fill="#231f20" >junction</text>
<text x="435" y="428.2" font-size="10.7" font-weight="bold" font-style="normal" text-anchor="middle" fill="#231f20" >Breakend</text>
<path d="M546.6 415 V417.2 H613.7 V415" fill="none" stroke="#9a9a9a" stroke-width="1" />
<text x="611.5" y="424.8" font-size="8.3" font-weight="normal" font-style="normal" text-anchor="middle" fill="#231f20" >100 kb</text>
<text transform="translate(24.8 562.8) rotate(-90)" font-size="10.9" font-weight="bold" text-anchor="middle" fill="#231f20">Log2 ratio of normalized</text>
<text transform="translate(37.8 562.8) rotate(-90)" font-size="10.9" font-weight="bold" text-anchor="middle" fill="#231f20">coverage to Col-0 coverage</text>
<text transform="translate(365.5 562.8) rotate(-90)" font-size="10.9" font-weight="bold" text-anchor="middle" fill="#231f20">Log2 ratio of normalized</text>
<text transform="translate(378.5 562.8) rotate(-90)" font-size="10.9" font-weight="bold" text-anchor="middle" fill="#231f20">coverage to Col-0 coverage</text>
<path d="M70.9 476.2 H72.1 V510.2 H70.9" fill="none" stroke="#231f20" stroke-width="1.4" />
<text x="68.2" y="481.8" font-size="7.6" font-weight="normal" font-style="normal" text-anchor="end" fill="#231f20" >1</text>
<text x="68.2" y="510.8" font-size="7.6" font-weight="normal" font-style="normal" text-anchor="end" fill="#231f20" >-0.2</text>
<text x="73.6" y="475.9" font-size="7.9" font-weight="normal" font-style="normal" text-anchor="start" fill="#231f20" >Chr 4</text>
<text x="299.6" y="482.8" font-size="10.4" font-weight="bold" font-style="italic" text-anchor="end" fill="#231f20" >mgo1</text>
<path d="M74.2 504.2 L74.2 504.2 L74.75 504.2 L74.75 504.2 L75.3 504.2 L75.3 504.2 L75.85 504.2 L75.85 504.2 L76.4 504.2 L76.4 504.2 L76.95 504.2 L76.95 505 L77.5 505 L77.5 504.2 L78.05 504.2 L78.05 504.2 L78.6 504.2 L78.6 505.08 L79.15 505.08 L79.15 504.64 L79.7 504.64 L79.7 504.2 L80.25 504.2 L80.25 504.2 L80.8 504.2 L80.8 505.44 L81.35 505.44 L81.35 504.2 L81.9 504.2 L81.9 504.56 L82.45 504.56 L82.45 505.15 L83 505.15 L83 504.2 L83.55 504.2 L83.55 504.2 L84.1 504.2 L84.1 505.22 L84.65 505.22 L84.65 504.2 L85.2 504.2 L85.2 504.6 L85.75 504.6 L85.75 504.2 L86.3 504.2 L86.3 504.2 L86.85 504.2 L86.85 504.2 L87.4 504.2 L87.4 504.2 L87.95 504.2 L87.95 505.44 L88.5 505.44 L88.5 504.2 L89.05 504.2 L89.05 504.2 L89.6 504.2 L89.6 504.49 L90.15 504.49 L90.15 504.2 L90.7 504.2 L90.7 504.2 L91.25 504.2 L91.25 505.05 L91.8 505.05 L91.8 505.41 L92.35 505.41 L92.35 505.2 L92.9 505.2 L92.9 504.2 L93.45 504.2 L93.45 505.33 L94 505.33 L94 504.2 L94.55 504.2 L94.55 504.2 L95.1 504.2 L95.1 504.2 L95.65 504.2 L95.65 504.81 L96.2 504.81 L96.2 504.2 L96.75 504.2 L96.75 504.7 L97.3 504.7 L97.3 504.2 L97.85 504.2 L97.85 504.2 L98.4 504.2 L98.4 504.2 L98.95 504.2 L98.95 504.2 L99.5 504.2 L99.5 504.2 L100.05 504.2 L100.05 504.2 L100.6 504.2 L100.6 504.2 L101.15 504.2 L101.15 504.2 L101.7 504.2 L101.7 504.2 L102.25 504.2 L102.25 504.2 L102.8 504.2 L102.8 504.2 L103.35 504.2 L103.35 504.2 L103.9 504.2 L103.9 504.2 L104.45 504.2 L104.45 504.2 L105 504.2 L105 504.2 L105.55 504.2 L105.55 504.2 L106.1 504.2 L106.1 504.2 L106.65 504.2 L106.65 504.2 L107.2 504.2 L107.2 504.2 L107.75 504.2 L107.75 505.26 L108.3 505.26 L108.3 504.2 L108.85 504.2 L108.85 504.2 L109.4 504.2 L109.4 504.2 L109.95 504.2 L109.95 504.2 L110.5 504.2 L110.5 505.15 L111.05 505.15 L111.05 504.46 L111.6 504.46 L111.6 504.44 L112.15 504.44 L112.15 504.2 L112.7 504.2 L112.7 504.2 L113.25 504.2 L113.25 504.2 L113.8 504.2 L113.8 504.2 L114.35 504.2 L114.35 504.85 L114.9 504.85 L114.9 504.2 L115.45 504.2 L115.45 504.2 L116 504.2 L116 504.2 L116.55 504.2 L116.55 504.2 L117.1 504.2 L117.1 504.2 L117.65 504.2 L117.65 504.2 L118.2 504.2 L118.2 504.2 L118.75 504.2 L118.75 504.2 L119.3 504.2 L119.3 504.52 L119.85 504.52 L119.85 505.09 L120.4 505.09 L120.4 504.72 L120.95 504.72 L120.95 504.2 L121.5 504.2 L121.5 504.2 L122.05 504.2 L122.05 504.2 L122.6 504.2 L122.6 504.2 L123.15 504.2 L123.15 505.08 L123.7 505.08 L123.7 504.2 L124.25 504.2 L124.25 504.2 L124.8 504.2 L124.8 504.2 L125.35 504.2 L125.35 505.49 L125.9 505.49 L125.9 504.2 L126.45 504.2 L126.45 504.2 L127 504.2 L127 505.24 L127.55 505.24 L127.55 504.2 L128.1 504.2 L128.1 504.2 L128.65 504.2 L128.65 504.2 L129.2 504.2 L129.2 504.2 L129.75 504.2 L129.75 504.2 L130.3 504.2 L130.3 504.2 L130.85 504.2 L130.85 504.2 L131.4 504.2 L131.4 504.2 L131.95 504.2 L131.95 504.2 L132.5 504.2 L132.5 504.73 L133.05 504.73 L133.05 504.2 L133.6 504.2 L133.6 504.2 L134.15 504.2 L134.15 504.93 L134.7 504.93 L134.7 505.04 L135.25 505.04 L135.25 504.2 L135.8 504.2 L135.8 504.2 L136.35 504.2 L136.35 504.2 L136.9 504.2 L136.9 504.2 L137.45 504.2 L137.45 505.11 L138 505.11 L138 504.72 L138.55 504.72 L138.55 504.2 L139.1 504.2 L139.1 504.52 L139.65 504.52 L139.65 504.2 L140.2 504.2 L140.2 504.2 L140.75 504.2 L140.75 504.2 L141.3 504.2 L141.3 504.2 L141.85 504.2 L141.85 504.2 L142.4 504.2 L142.4 505.09 L142.95 505.09 L142.95 504.2 L143.5 504.2 L143.5 504.2 L144.05 504.2 L144.05 504.2 L144.6 504.2 L144.6 504.81 L145.15 504.81 L145.15 504.2 L145.7 504.2 L145.7 504.54 L146.25 504.54 L146.25 504.2 L146.8 504.2 L146.8 505.2 L147.35 505.2 L147.35 504.2 L147.9 504.2 L147.9 504.2 L148.45 504.2 L148.45 504.2 L149 504.2 L149 504.2 L149.55 504.2 L149.55 504.2 L150.1 504.2 L150.1 505.31 L150.65 505.31 L150.65 504.2 L151.2 504.2 L151.2 504.2 L151.75 504.2 L151.75 504.2 L152.3 504.2 L152.3 504.62 L152.85 504.62 L152.85 504.2 L153.4 504.2 L153.4 504.92 L153.95 504.92 L153.95 504.2 L154.5 504.2 L154.5 504.57 L155.05 504.57 L155.05 504.68 L155.6 504.68 L155.6 504.93 L156.15 504.93 L156.15 504.2 L156.7 504.2 L156.7 504.2 L157.25 504.2 L157.25 504.2 L157.8 504.2 L157.8 505.14 L158.35 505.14 L158.35 504.2 L158.9 504.2 L158.9 504.65 L159.45 504.65 L159.45 504.2 L160 504.2 L160 504.2 L160.55 504.2 L160.55 504.2 L161.1 504.2 L161.1 504.2 L161.65 504.2 L161.65 504.2 L162.2 504.2 L162.2 504.47 L162.75 504.47 L162.75 504.2 L163.3 504.2 L163.3 504.2 L163.85 504.2 L163.85 505.39 L164.4 505.39 L164.4 504.67 L164.95 504.67 L164.95 504.2 L165.5 504.2 L165.5 504.44 L166.05 504.44 L166.05 504.2 L166.6 504.2 L166.6 504.2 L167.15 504.2 L167.15 504.2 L167.7 504.2 L167.7 504.42 L168.25 504.42 L168.25 504.2 L168.8 504.2 L168.8 504.2 L169.35 504.2 L169.35 504.2 L169.9 504.2 L169.9 504.53 L170.45 504.53 L170.45 504.2 L171 504.2 L171 504.67 L171.55 504.67 L171.55 504.47 L172.1 504.47 L172.1 504.2 L172.65 504.2 L172.65 504.2 L173.2 504.2 L173.2 504.2 L173.75 504.2 L173.75 504.2 L174.3 504.2 L174.3 504.2 L174.85 504.2 L174.85 504.2 L175.4 504.2 L175.4 504.2 L175.95 504.2 L175.95 504.2 L176.5 504.2 L176.5 504.2 L177.05 504.2 L177.05 504.69 L177.6 504.69 L177.6 504.2 L178.15 504.2 L178.15 504.54 L178.7 504.54 L178.7 504.2 L179.25 504.2 L179.25 504.87 L179.8 504.87 L179.8 504.2 L180.35 504.2 L180.35 504.2 L180.9 504.2 L180.9 505.18 L181.45 505.18 L181.45 504.2 L182 504.2 L182 504.2 L182.55 504.2 L182.55 504.2 L183.1 504.2 L183.1 504.2 L183.65 504.2 L183.65 504.2 L184.2 504.2 L184.2 504.2 L184.75 504.2 L184.75 505.03 L185.3 505.03 L185.3 504.2 L185.85 504.2 L185.85 505.02 L186.4 505.02 L186.4 504.79 L186.95 504.79 L186.95 504.2 L187.5 504.2 L187.5 504.2 L188.05 504.2 L188.05 504.2 L188.6 504.2 L188.6 504.51 L189.15 504.51 L189.15 505.28 L189.7 505.28 L189.7 504.2 L190.25 504.2 L190.25 504.2 L190.8 504.2 L190.8 504.2 L191.35 504.2 L191.35 504.2 L191.9 504.2 L191.9 504.2 L192.45 504.2 L192.45 504.2 L193 504.2 L193 504.2 L193.55 504.2 L193.55 504.2 L194.1 504.2 L194.1 504.2 L194.65 504.2 L194.65 504.2 L195.2 504.2 L195.2 504.2 L195.75 504.2 L195.75 504.79 L196.3 504.79 L196.3 504.2 L196.85 504.2 L196.85 504.2 L197.4 504.2 L197.4 505.23 L197.95 505.23 L197.95 504.2 L198.5 504.2 L198.5 504.2 L199.05 504.2 L199.05 504.2 L199.6 504.2 L199.6 504.2 L200.15 504.2 L200.15 504.2 L200.7 504.2 L200.7 504.2 L201.25 504.2 L201.25 504.2 L201.8 504.2 L201.8 504.2 L202.35 504.2 L202.35 504.2 L202.9 504.2 L202.9 504.2 L203.45 504.2 L203.45 504.74 L204 504.74 L204 504.2 L204.55 504.2 L204.55 504.2 L205.1 504.2 L205.1 504.2 L205.65 504.2 L205.65 504.2 L206.2 504.2 L206.2 504.2 L206.75 504.2 L206.75 504.2 L207.3 504.2 L207.3 504.2 L207.85 504.2 L207.85 504.43 L208.4 504.43 L208.4 504.61 L208.95 504.61 L208.95 504.2 L209.5 504.2 L209.5 504.93 L210.05 504.93 L210.05 504.2 L210.6 504.2 L210.6 504.2 L211.15 504.2 L211.15 505.17 L211.7 505.17 L211.7 504.57 L212.25 504.57 L212.25 505.23 L212.8 505.23 L212.8 504.2 L213.35 504.2 L213.35 504.2 L213.9 504.2 L213.9 504.2 L214.45 504.2 L214.45 504.51 L215 504.51 L215 504.2 L215.55 504.2 L215.55 504.2 L216.1 504.2 L216.1 504.2 L216.65 504.2 L216.65 504.2 L217.2 504.2 L217.2 504.2 L217.75 504.2 L217.75 504.2 L218.3 504.2 L218.3 504.2 L218.85 504.2 L218.85 504.2 L219.4 504.2 L219.4 504.2 L219.95 504.2 L219.95 504.2 L220.5 504.2 L220.5 504.2 L221.05 504.2 L221.05 504.2 L221.6 504.2 L221.6 504.2 L222.15 504.2 L222.15 505.13 L222.7 505.13 L222.7 504.2 L223.25 504.2 L223.25 504.2 L223.8 504.2 L223.8 504.79 L224.35 504.79 L224.35 504.2 L224.9 504.2 L224.9 504.2 L225.45 504.2 L225.45 504.64 L226 504.64 L226 504.71 L226.55 504.71 L226.55 504.2 L227.1 504.2 L227.1 504.2 L227.65 504.2 L227.65 504.2 L228.2 504.2 L228.2 504.2 L228.75 504.2 L228.75 504.2 L229.3 504.2 L229.3 504.2 L229.85 504.2 L229.85 504.2 L230.4 504.2 L230.4 504.2 L230.95 504.2 L230.95 505.26 L231.5 505.26 L231.5 504.2 L232.05 504.2 L232.05 504.2 L232.6 504.2 L232.6 504.2 L233.15 504.2 L233.15 504.2 L233.7 504.2 L233.7 504.2 L234.25 504.2 L234.25 504.42 L234.8 504.42 L234.8 504.2 L235.35 504.2 L235.35 504.2 L235.9 504.2 L235.9 504.6 L236.45 504.6 L236.45 504.2 L237 504.2 L237 504.97 L237.55 504.97 L237.55 504.52 L238.1 504.52 L238.1 504.2 L238.65 504.2 L238.65 505.03 L239.2 505.03 L239.2 504.93 L239.75 504.93 L239.75 504.2 L240.3 504.2 L240.3 504.2 L240.85 504.2 L240.85 504.82 L241.4 504.82 L241.4 504.2 L241.95 504.2 L241.95 504.2 L242.5 504.2 L242.5 504.2 L243.05 504.2 L243.05 504.2 L243.6 504.2 L243.6 504.2 L244.15 504.2 L244.15 504.89 L244.7 504.89 L244.7 504.2 L245.25 504.2 L245.25 504.2 L245.8 504.2 L245.8 504.2 L246.35 504.2 L246.35 504.2 L246.9 504.2 L246.9 504.2 L247.45 504.2 L247.45 504.2 L248 504.2 L248 504.2 L248.55 504.2 L248.55 504.2 L249.1 504.2 L249.1 504.69 L249.65 504.69 L249.65 504.55 L250.2 504.55 L250.2 504.2 L250.75 504.2 L250.75 504.2 L251.3 504.2 L251.3 505.05 L251.85 505.05 L251.85 504.2 L252.4 504.2 L252.4 505.44 L252.95 505.44 L252.95 504.47 L253.5 504.47 L253.5 504.2 L254.05 504.2 L254.05 505.11 L254.6 505.11 L254.6 504.2 L255.15 504.2 L255.15 504.2 L255.7 504.2 L255.7 504.2 L256.25 504.2 L256.25 504.2 L256.8 504.2 L256.8 504.5 L257.35 504.5 L257.35 504.2 L257.9 504.2 L257.9 504.55 L258.45 504.55 L258.45 504.2 L259 504.2 L259 504.69 L259.55 504.69 L259.55 504.2 L260.1 504.2 L260.1 504.2 L260.65 504.2 L260.65 504.2 L261.2 504.2 L261.2 504.2 L261.75 504.2 L261.75 504.2 L262.3 504.2 L262.3 504.2 L262.85 504.2 L262.85 505.25 L263.4 505.25 L263.4 504.2 L263.95 504.2 L263.95 504.2 L264.5 504.2 L264.5 504.2 L265.05 504.2 L265.05 504.2 L265.6 504.2 L265.6 504.2 L266.15 504.2 L266.15 504.73 L266.7 504.73 L266.7 504.2 L267.25 504.2 L267.25 504.2 L267.8 504.2 L267.8 504.43 L268.35 504.43 L268.35 504.2 L268.9 504.2 L268.9 504.2 L269.45 504.2 L269.45 504.2 L270 504.2 L270 505.49 L270.55 505.49 L270.55 504.2 L271.1 504.2 L271.1 504.2 L271.65 504.2 L271.65 504.2 L272.2 504.2 L272.2 504.2 L272.75 504.2 L272.75 504.2 L273.3 504.2 L273.3 504.2 L273.85 504.2 L273.85 504.2 L274.4 504.2 L274.4 504.2 L274.95 504.2 L274.95 504.2 L275.5 504.2 L275.5 504.2 L276.05 504.2 L276.05 504.2 L276.6 504.2 L276.6 505.5 L277.15 505.5 L277.15 504.2 L277.7 504.2 L277.7 504.2 L278.25 504.2 L278.25 505.04 L278.8 505.04 L278.8 504.2 L279.35 504.2 L279.35 504.2 L279.9 504.2 L279.9 504.2 L280.45 504.2 L280.45 504.2 L281 504.2 L281 504.2 L281.55 504.2 L281.55 504.2 L282.1 504.2 L282.1 505.12 L282.65 505.12 L282.65 505.44 L283.2 505.44 L283.2 504.2 L283.75 504.2 L283.75 504.2 L284.3 504.2 L284.3 504.2 L284.85 504.2 L284.85 504.2 L285.4 504.2 L285.4 504.94 L285.95 504.94 L285.95 504.2 L286.5 504.2 L286.5 504.99 L287.05 504.99 L287.05 504.2 L287.6 504.2 L287.6 505.31 L288.15 505.31 L288.15 504.7 L288.7 504.7 L288.7 504.2 L289.25 504.2 L289.25 504.2 L289.8 504.2 L289.8 504.2 L290.35 504.2 L290.35 504.2 L290.9 504.2 L290.9 504.69 L291.45 504.69 L291.45 505.24 L292 505.24 L292 504.2 L292.55 504.2 L292.55 505.27 L293.1 505.27 L293.1 504.2 L293.65 504.2 L293.65 504.2 L294.2 504.2 L294.2 504.2 L294.75 504.2 L294.75 504.2 L295.3 504.2 L295.3 504.2 L295.85 504.2 L295.85 504.64 L296.4 504.64 L296.4 504.2 L296.95 504.2 L296.95 504.2 L297.5 504.2 L297.5 504.2 L298.05 504.2 L298.05 504.2 L298.6 504.2 L298.6 504.2 L299.15 504.2 L299.15 504.2 L299.7 504.2 L299.7 504.2 Z" fill="#1c65a0" stroke="none" stroke-width="1" />
<path d="M74.2 504.2 L74.2 503.65 L74.75 503.65 L74.75 503.65 L75.3 503.65 L75.3 503.65 L75.85 503.65 L75.85 503.23 L76.4 503.23 L76.4 503.65 L76.95 503.65 L76.95 503.23 L77.5 503.23 L77.5 503.45 L78.05 503.45 L78.05 503.65 L78.6 503.65 L78.6 503.9 L79.15 503.9 L79.15 502.87 L79.7 502.87 L79.7 503.65 L80.25 503.65 L80.25 503.65 L80.8 503.65 L80.8 503.65 L81.35 503.65 L81.35 503.65 L81.9 503.65 L81.9 503.9 L82.45 503.9 L82.45 503.9 L83 503.9 L83 502.91 L83.55 502.91 L83.55 503.22 L84.1 503.22 L84.1 502.77 L84.65 502.77 L84.65 502.94 L85.2 502.94 L85.2 503.64 L85.75 503.64 L85.75 502.97 L86.3 502.97 L86.3 503.65 L86.85 503.65 L86.85 503.18 L87.4 503.18 L87.4 502.98 L87.95 502.98 L87.95 503.9 L88.5 503.9 L88.5 503.1 L89.05 503.1 L89.05 502.82 L89.6 502.82 L89.6 503.9 L90.15 503.9 L90.15 503.65 L90.7 503.65 L90.7 503.61 L91.25 503.61 L91.25 503.28 L91.8 503.28 L91.8 503.9 L92.35 503.9 L92.35 502.9 L92.9 502.9 L92.9 503.65 L93.45 503.65 L93.45 503.9 L94 503.9 L94 502.75 L94.55 502.75 L94.55 503.65 L95.1 503.65 L95.1 502.99 L95.65 502.99 L95.65 503.29 L96.2 503.29 L96.2 503.65 L96.75 503.65 L96.75 503.35 L97.3 503.35 L97.3 503.65 L97.85 503.65 L97.85 503.65 L98.4 503.65 L98.4 503.65 L98.95 503.65 L98.95 503.65 L99.5 503.65 L99.5 503.65 L100.05 503.65 L100.05 502.96 L100.6 502.96 L100.6 502.8 L101.15 502.8 L101.15 503.64 L101.7 503.64 L101.7 503.05 L102.25 503.05 L102.25 503.65 L102.8 503.65 L102.8 503.65 L103.35 503.65 L103.35 503.65 L103.9 503.65 L103.9 503.65 L104.45 503.65 L104.45 503.65 L105 503.65 L105 503.65 L105.55 503.65 L105.55 503.65 L106.1 503.65 L106.1 503.5 L106.65 503.5 L106.65 503.65 L107.2 503.65 L107.2 503.65 L107.75 503.65 L107.75 503.65 L108.3 503.65 L108.3 503.65 L108.85 503.65 L108.85 503.65 L109.4 503.65 L109.4 503.65 L109.95 503.65 L109.95 503.51 L110.5 503.51 L110.5 503.65 L111.05 503.65 L111.05 503.9 L111.6 503.9 L111.6 503.9 L112.15 503.9 L112.15 494 L112.7 494 L112.7 494 L113.25 494 L113.25 500.7 L113.8 500.7 L113.8 503.1 L114.35 503.1 L114.35 503.9 L114.9 503.9 L114.9 503.55 L115.45 503.55 L115.45 503.62 L116 503.62 L116 503.16 L116.55 503.16 L116.55 502.79 L117.1 502.79 L117.1 502.92 L117.65 502.92 L117.65 503.52 L118.2 503.52 L118.2 502.79 L118.75 502.79 L118.75 503.65 L119.3 503.65 L119.3 503.65 L119.85 503.65 L119.85 503.65 L120.4 503.65 L120.4 503.26 L120.95 503.26 L120.95 502.78 L121.5 502.78 L121.5 503.42 L122.05 503.42 L122.05 503.28 L122.6 503.28 L122.6 503.65 L123.15 503.65 L123.15 503.9 L123.7 503.9 L123.7 502.95 L124.25 502.95 L124.25 503.17 L124.8 503.17 L124.8 503.65 L125.35 503.65 L125.35 503.9 L125.9 503.9 L125.9 503.65 L126.45 503.65 L126.45 503.65 L127 503.65 L127 503.9 L127.55 503.9 L127.55 503.35 L128.1 503.35 L128.1 503.23 L128.65 503.23 L128.65 503.65 L129.2 503.65 L129.2 503.42 L129.75 503.42 L129.75 503.65 L130.3 503.65 L130.3 503.64 L130.85 503.64 L130.85 503.13 L131.4 503.13 L131.4 503.65 L131.95 503.65 L131.95 503.65 L132.5 503.65 L132.5 502.88 L133.05 502.88 L133.05 502.9 L133.6 502.9 L133.6 503.39 L134.15 503.39 L134.15 503.65 L134.7 503.65 L134.7 503.35 L135.25 503.35 L135.25 503.44 L135.8 503.44 L135.8 503.65 L136.35 503.65 L136.35 503 L136.9 503 L136.9 503.65 L137.45 503.65 L137.45 502.89 L138 502.89 L138 503.65 L138.55 503.65 L138.55 503.1 L139.1 503.1 L139.1 503.9 L139.65 503.9 L139.65 503.6 L140.2 503.6 L140.2 503.65 L140.75 503.65 L140.75 503.26 L141.3 503.26 L141.3 503.65 L141.85 503.65 L141.85 503.65 L142.4 503.65 L142.4 503.02 L142.95 503.02 L142.95 503.65 L143.5 503.65 L143.5 503.65 L144.05 503.65 L144.05 503.42 L144.6 503.42 L144.6 503.53 L145.15 503.53 L145.15 503.01 L145.7 503.01 L145.7 503.05 L146.25 503.05 L146.25 502.86 L146.8 502.86 L146.8 503.9 L147.35 503.9 L147.35 502.79 L147.9 502.79 L147.9 503.55 L148.45 503.55 L148.45 503.65 L149 503.65 L149 503.09 L149.55 503.09 L149.55 503.35 L150.1 503.35 L150.1 503.3 L150.65 503.3 L150.65 503.65 L151.2 503.65 L151.2 503.65 L151.75 503.65 L151.75 503.13 L152.3 503.13 L152.3 503.9 L152.85 503.9 L152.85 503.65 L153.4 503.65 L153.4 503.65 L153.95 503.65 L153.95 503.65 L154.5 503.65 L154.5 503.9 L155.05 503.9 L155.05 503.9 L155.6 503.9 L155.6 503.9 L156.15 503.9 L156.15 503.65 L156.7 503.65 L156.7 503.65 L157.25 503.65 L157.25 503.65 L157.8 503.65 L157.8 503.9 L158.35 503.9 L158.35 503.65 L158.9 503.65 L158.9 503.9 L159.45 503.9 L159.45 502.77 L160 502.77 L160 503.23 L160.55 503.23 L160.55 503.65 L161.1 503.65 L161.1 503.43 L161.65 503.43 L161.65 503.65 L162.2 503.65 L162.2 502.77 L162.75 502.77 L162.75 503.61 L163.3 503.61 L163.3 503.65 L163.85 503.65 L163.85 503.9 L164.4 503.9 L164.4 503.9 L164.95 503.9 L164.95 503.6 L165.5 503.6 L165.5 503.37 L166.05 503.37 L166.05 503.19 L166.6 503.19 L166.6 503.57 L167.15 503.57 L167.15 503.16 L167.7 503.16 L167.7 502.88 L168.25 502.88 L168.25 503.14 L168.8 503.14 L168.8 503.65 L169.35 503.65 L169.35 503.65 L169.9 503.65 L169.9 503.9 L170.45 503.9 L170.45 502.95 L171 502.95 L171 503.9 L171.55 503.9 L171.55 503.13 L172.1 503.13 L172.1 503.47 L172.65 503.47 L172.65 503.56 L173.2 503.56 L173.2 502.97 L173.75 502.97 L173.75 503.65 L174.3 503.65 L174.3 503.65 L174.85 503.65 L174.85 502.91 L175.4 502.91 L175.4 503.65 L175.95 503.65 L175.95 503.65 L176.5 503.65 L176.5 503.65 L177.05 503.65 L177.05 503.59 L177.6 503.59 L177.6 503.59 L178.15 503.59 L178.15 503.9 L178.7 503.9 L178.7 503.65 L179.25 503.65 L179.25 503.9 L179.8 503.9 L179.8 503.64 L180.35 503.64 L180.35 503.65 L180.9 503.65 L180.9 503.9 L181.45 503.9 L181.45 503.65 L182 503.65 L182 503.36 L182.55 503.36 L182.55 503.26 L183.1 503.26 L183.1 503.65 L183.65 503.65 L183.65 502.78 L184.2 502.78 L184.2 502.92 L184.75 502.92 L184.75 503.9 L185.3 503.9 L185.3 503.65 L185.85 503.65 L185.85 503.9 L186.4 503.9 L186.4 503.9 L186.95 503.9 L186.95 503.65 L187.5 503.65 L187.5 503.65 L188.05 503.65 L188.05 503.52 L188.6 503.52 L188.6 503.62 L189.15 503.62 L189.15 503.9 L189.7 503.9 L189.7 503.65 L190.25 503.65 L190.25 503.65 L190.8 503.65 L190.8 503.64 L191.35 503.64 L191.35 503.48 L191.9 503.48 L191.9 503.63 L192.45 503.63 L192.45 503.22 L193 503.22 L193 502.77 L193.55 502.77 L193.55 503.65 L194.1 503.65 L194.1 503.65 L194.65 503.65 L194.65 503.65 L195.2 503.65 L195.2 503.04 L195.75 503.04 L195.75 503.58 L196.3 503.58 L196.3 503.65 L196.85 503.65 L196.85 502.81 L197.4 502.81 L197.4 503.65 L197.95 503.65 L197.95 503.65 L198.5 503.65 L198.5 503.65 L199.05 503.65 L199.05 503.65 L199.6 503.65 L199.6 503.18 L200.15 503.18 L200.15 502.77 L200.7 502.77 L200.7 503.65 L201.25 503.65 L201.25 503.06 L201.8 503.06 L201.8 503.65 L202.35 503.65 L202.35 503.55 L202.9 503.55 L202.9 503.01 L203.45 503.01 L203.45 503.9 L204 503.9 L204 503.65 L204.55 503.65 L204.55 503.08 L205.1 503.08 L205.1 503.59 L205.65 503.59 L205.65 503.65 L206.2 503.65 L206.2 503.65 L206.75 503.65 L206.75 503.17 L207.3 503.17 L207.3 503.4 L207.85 503.4 L207.85 503.9 L208.4 503.9 L208.4 503.11 L208.95 503.11 L208.95 503.65 L209.5 503.65 L209.5 503.65 L210.05 503.65 L210.05 503.65 L210.6 503.65 L210.6 503.65 L211.15 503.65 L211.15 503.65 L211.7 503.65 L211.7 503.9 L212.25 503.9 L212.25 503.1 L212.8 503.1 L212.8 503.65 L213.35 503.65 L213.35 503.65 L213.9 503.65 L213.9 503.65 L214.45 503.65 L214.45 503.9 L215 503.9 L215 503.31 L215.55 503.31 L215.55 503.65 L216.1 503.65 L216.1 503.29 L216.65 503.29 L216.65 503.54 L217.2 503.54 L217.2 503.03 L217.75 503.03 L217.75 503.65 L218.3 503.65 L218.3 502.97 L218.85 502.97 L218.85 503.54 L219.4 503.54 L219.4 502.99 L219.95 502.99 L219.95 503.39 L220.5 503.39 L220.5 503.65 L221.05 503.65 L221.05 503.38 L221.6 503.38 L221.6 503.65 L222.15 503.65 L222.15 503.9 L222.7 503.9 L222.7 503.56 L223.25 503.56 L223.25 503.65 L223.8 503.65 L223.8 502.81 L224.35 502.81 L224.35 502.96 L224.9 502.96 L224.9 503.42 L225.45 503.42 L225.45 503.18 L226 503.18 L226 503.23 L226.55 503.23 L226.55 503.65 L227.1 503.65 L227.1 503.3 L227.65 503.3 L227.65 503.12 L228.2 503.12 L228.2 503.65 L228.75 503.65 L228.75 503.63 L229.3 503.63 L229.3 502.86 L229.85 502.86 L229.85 503.65 L230.4 503.65 L230.4 503.65 L230.95 503.65 L230.95 503.9 L231.5 503.9 L231.5 503.65 L232.05 503.65 L232.05 503.27 L232.6 503.27 L232.6 503.39 L233.15 503.39 L233.15 503.5 L233.7 503.5 L233.7 503.31 L234.25 503.31 L234.25 503.65 L234.8 503.65 L234.8 503.65 L235.35 503.65 L235.35 503.44 L235.9 503.44 L235.9 503.9 L236.45 503.9 L236.45 502.97 L237 502.97 L237 503.65 L237.55 503.65 L237.55 503.65 L238.1 503.65 L238.1 503.32 L238.65 503.32 L238.65 503.9 L239.2 503.9 L239.2 502.99 L239.75 502.99 L239.75 502.96 L240.3 502.96 L240.3 503.1 L240.85 503.1 L240.85 503.9 L241.4 503.9 L241.4 503.38 L241.95 503.38 L241.95 503.65 L242.5 503.65 L242.5 503.17 L243.05 503.17 L243.05 503.65 L243.6 503.65 L243.6 503.65 L244.15 503.65 L244.15 502.81 L244.7 502.81 L244.7 503.3 L245.25 503.3 L245.25 503.15 L245.8 503.15 L245.8 503.33 L246.35 503.33 L246.35 503.46 L246.9 503.46 L246.9 503.57 L247.45 503.57 L247.45 502.78 L248 502.78 L248 502.94 L248.55 502.94 L248.55 502.9 L249.1 502.9 L249.1 503.08 L249.65 503.08 L249.65 503.9 L250.2 503.9 L250.2 503.65 L250.75 503.65 L250.75 503.61 L251.3 503.61 L251.3 503.9 L251.85 503.9 L251.85 503.65 L252.4 503.65 L252.4 503.9 L252.95 503.9 L252.95 503.9 L253.5 503.9 L253.5 503.65 L254.05 503.65 L254.05 503.65 L254.6 503.65 L254.6 502.97 L255.15 502.97 L255.15 503.65 L255.7 503.65 L255.7 502.84 L256.25 502.84 L256.25 503.46 L256.8 503.46 L256.8 503.9 L257.35 503.9 L257.35 503.27 L257.9 503.27 L257.9 503.9 L258.45 503.9 L258.45 503.65 L259 503.65 L259 503.9 L259.55 503.9 L259.55 502.84 L260.1 502.84 L260.1 503.65 L260.65 503.65 L260.65 503.65 L261.2 503.65 L261.2 503.55 L261.75 503.55 L261.75 502.85 L262.3 502.85 L262.3 503.65 L262.85 503.65 L262.85 503.9 L263.4 503.9 L263.4 503.08 L263.95 503.08 L263.95 503.61 L264.5 503.61 L264.5 503.08 L265.05 503.08 L265.05 503.28 L265.6 503.28 L265.6 503.59 L266.15 503.59 L266.15 503.9 L266.7 503.9 L266.7 503.65 L267.25 503.65 L267.25 503.65 L267.8 503.65 L267.8 503.28 L268.35 503.28 L268.35 503.55 L268.9 503.55 L268.9 503.65 L269.45 503.65 L269.45 503.56 L270 503.56 L270 503.17 L270.55 503.17 L270.55 503.41 L271.1 503.41 L271.1 503.65 L271.65 503.65 L271.65 503.19 L272.2 503.19 L272.2 503.08 L272.75 503.08 L272.75 502.92 L273.3 502.92 L273.3 503.6 L273.85 503.6 L273.85 503.25 L274.4 503.25 L274.4 503.2 L274.95 503.2 L274.95 503.65 L275.5 503.65 L275.5 502.97 L276.05 502.97 L276.05 503.47 L276.6 503.47 L276.6 503.9 L277.15 503.9 L277.15 503.57 L277.7 503.57 L277.7 503.65 L278.25 503.65 L278.25 503.9 L278.8 503.9 L278.8 503.6 L279.35 503.6 L279.35 502.96 L279.9 502.96 L279.9 503.07 L280.45 503.07 L280.45 503.65 L281 503.65 L281 503.35 L281.55 503.35 L281.55 503.27 L282.1 503.27 L282.1 503.65 L282.65 503.65 L282.65 503.9 L283.2 503.9 L283.2 503.65 L283.75 503.65 L283.75 502.9 L284.3 502.9 L284.3 502.99 L284.85 502.99 L284.85 503.65 L285.4 503.65 L285.4 503.9 L285.95 503.9 L285.95 503.65 L286.5 503.65 L286.5 503.9 L287.05 503.9 L287.05 503.47 L287.6 503.47 L287.6 503.65 L288.15 503.65 L288.15 503.9 L288.7 503.9 L288.7 503.65 L289.25 503.65 L289.25 503.65 L289.8 503.65 L289.8 503.37 L290.35 503.37 L290.35 503.11 L290.9 503.11 L290.9 503.03 L291.45 503.03 L291.45 503.9 L292 503.9 L292 503.26 L292.55 503.26 L292.55 503.18 L293.1 503.18 L293.1 503.65 L293.65 503.65 L293.65 503.65 L294.2 503.65 L294.2 503.65 L294.75 503.65 L294.75 502.85 L295.3 502.85 L295.3 503.59 L295.85 503.59 L295.85 503.9 L296.4 503.9 L296.4 503.38 L296.95 503.38 L296.95 503.5 L297.5 503.5 L297.5 503.65 L298.05 503.65 L298.05 503.29 L298.6 503.29 L298.6 503.63 L299.15 503.63 L299.15 503.65 L299.7 503.65 L299.7 504.2 Z" fill="#d05f60" stroke="none" stroke-width="1" />
<rect x="74.2" y="512.5" width="225.5" height="3.7" fill="#e2e2e2" />
<rect x="93.1" y="512.5" width="10" height="3.7" fill="#474747" />
<rect x="106.9" y="512.5" width="36.2" height="3.7" fill="#474747" />
<rect x="144.8" y="512.5" width="4.8" height="3.7" fill="#474747" />
<rect x="207.8" y="512.3" width="1.2" height="4.1" fill="#474747" />
<line x1="74.2" y1="526.8" x2="299.8" y2="526.8" stroke="#231f20" stroke-width="1.4" />
<line x1="134.8" y1="526.8" x2="134.8" y2="524.4" stroke="#231f20" stroke-width="1" />
<line x1="195.7" y1="526.8" x2="195.7" y2="524.4" stroke="#231f20" stroke-width="1" />
<line x1="256.4" y1="526.8" x2="256.4" y2="524.4" stroke="#231f20" stroke-width="1" />
<text x="74.3" y="535.8" font-size="8.1" font-weight="normal" font-style="normal" text-anchor="middle" fill="#231f20" >0</text>
<text x="134.8" y="535.8" font-size="8.1" font-weight="normal" font-style="normal" text-anchor="middle" fill="#231f20" >5</text>
<text x="195.7" y="535.8" font-size="8.1" font-weight="normal" font-style="normal" text-anchor="middle" fill="#231f20" >10</text>
<text x="253.6" y="535.8" font-size="8.1" font-weight="normal" font-style="normal" text-anchor="start" fill="#231f20" >15 Mb</text>
<line x1="112.7" y1="531.2" x2="112.7" y2="554.7" stroke="#231f20" stroke-width="1.2" />
<path d="M70.4 559.4 V554.7 H295.3 V559.4" fill="none" stroke="#231f20" stroke-width="1.2" />
<path d="M128.9 587.2 A 60 23.5 0 0 1 244.6 587.2" fill="none" stroke="#1fa096" stroke-width="2.4" />
<path d="M70.7 597.8 H71.9 V636.1 H70.7" fill="none" stroke="#231f20" stroke-width="1.4" />
<text x="67.8" y="603.4" font-size="7.6" font-weight="normal" font-style="normal" text-anchor="end" fill="#231f20" >1</text>
<text x="67.8" y="636.7" font-size="7.6" font-weight="normal" font-style="normal" text-anchor="end" fill="#231f20" >-0.2</text>
<path d="M73.6 629.9 L73.6 633.4 L74.1 633.4 L74.1 635.18 L74.6 635.18 L74.6 633.4 L75.1 633.4 L75.1 633.41 L75.6 633.41 L75.6 636.23 L76.1 636.23 L76.1 633.4 L76.6 633.4 L76.6 633.4 L77.1 633.4 L77.1 633.4 L77.6 633.4 L77.6 633.4 L78.1 633.4 L78.1 633.4 L78.6 633.4 L78.6 636.4 L79.1 636.4 L79.1 633.4 L79.6 633.4 L79.6 633.4 L80.1 633.4 L80.1 629.9 L80.6 629.9 L80.6 636.05 L81.1 636.05 L81.1 635.36 L81.6 635.36 L81.6 631.86 L82.1 631.86 L82.1 629.9 L82.6 629.9 L82.6 633.49 L83.1 633.49 L83.1 635.35 L83.6 635.35 L83.6 629.9 L84.1 629.9 L84.1 629.9 L84.6 629.9 L84.6 629.9 L85.1 629.9 L85.1 633.73 L85.6 633.73 L85.6 633.74 L86.1 633.74 L86.1 630.05 L86.6 630.05 L86.6 629.9 L87.1 629.9 L87.1 629.9 L87.6 629.9 L87.6 629.9 L88.1 629.9 L88.1 631.75 L88.6 631.75 L88.6 632.21 L89.1 632.21 L89.1 633.1 L89.6 633.1 L89.6 635.52 L90.1 635.52 L90.1 632.02 L90.6 632.02 L90.6 632.87 L91.1 632.87 L91.1 629.9 L91.6 629.9 L91.6 633.65 L92.1 633.65 L92.1 629.9 L92.6 629.9 L92.6 633.55 L93.1 633.55 L93.1 633.12 L93.6 633.12 L93.6 629.9 L94.1 629.9 L94.1 629.9 L94.6 629.9 L94.6 630.75 L95.1 630.75 L95.1 636.4 L95.6 636.4 L95.6 629.9 L96.1 629.9 L96.1 632.16 L96.6 632.16 L96.6 634.67 L97.1 634.67 L97.1 631.76 L97.6 631.76 L97.6 629.9 L98.1 629.9 L98.1 629.9 L98.6 629.9 L98.6 629.9 L99.1 629.9 L99.1 629.9 L99.6 629.9 L99.6 631.38 L100.1 631.38 L100.1 633.13 L100.6 633.13 L100.6 636.02 L101.1 636.02 L101.1 632.94 L101.6 632.94 L101.6 629.9 L102.1 629.9 L102.1 631.31 L102.6 631.31 L102.6 631.91 L103.1 631.91 L103.1 634.28 L103.6 634.28 L103.6 634.54 L104.1 634.54 L104.1 629.9 L104.6 629.9 L104.6 629.9 L105.1 629.9 L105.1 629.9 L105.6 629.9 L105.6 629.9 L106.1 629.9 L106.1 632.75 L106.6 632.75 L106.6 633.98 L107.1 633.98 L107.1 629.9 L107.6 629.9 L107.6 629.9 L108.1 629.9 L108.1 633.66 L108.6 633.66 L108.6 629.9 L109.1 629.9 L109.1 630.18 L109.6 630.18 L109.6 635.09 L110.1 635.09 L110.1 629.9 L110.6 629.9 L110.6 634.56 L111.1 634.56 L111.1 629.9 L111.6 629.9 L111.6 629.9 L112.1 629.9 L112.1 629.9 L112.6 629.9 L112.6 629.9 L113.1 629.9 L113.1 633.42 L113.6 633.42 L113.6 634.65 L114.1 634.65 L114.1 634.52 L114.6 634.52 L114.6 633.4 L115.1 633.4 L115.1 634.12 L115.6 634.12 L115.6 635.12 L116.1 635.12 L116.1 633.83 L116.6 633.83 L116.6 635.45 L117.1 635.45 L117.1 633.99 L117.6 633.99 L117.6 633.4 L118.1 633.4 L118.1 634.87 L118.6 634.87 L118.6 633.81 L119.1 633.81 L119.1 636.4 L119.6 636.4 L119.6 636.4 L120.1 636.4 L120.1 633.4 L120.6 633.4 L120.6 633.4 L121.1 633.4 L121.1 635.97 L121.6 635.97 L121.6 633.4 L122.1 633.4 L122.1 633.4 L122.6 633.4 L122.6 635.18 L123.1 635.18 L123.1 636.4 L123.6 636.4 L123.6 635.92 L124.1 635.92 L124.1 633.4 L124.6 633.4 L124.6 635.38 L125.1 635.38 L125.1 636.4 L125.6 636.4 L125.6 636.31 L126.1 636.31 L126.1 633.4 L126.6 633.4 L126.6 634.9 L127.1 634.9 L127.1 635.25 L127.6 635.25 L127.6 635.09 L128.1 635.09 L128.1 635.25 L128.6 635.25 L128.6 636.4 L129.1 636.4 L129.1 633.4 L129.6 633.4 L129.6 629.9 L130.1 629.9 L130.1 629.9 L130.6 629.9 L130.6 629.9 L131.1 629.9 L131.1 629.9 L131.6 629.9 L131.6 629.9 L132.1 629.9 L132.1 629.9 L132.6 629.9 L132.6 629.9 L133.1 629.9 L133.1 629.9 L133.6 629.9 L133.6 634.72 L134.1 634.72 L134.1 629.9 L134.6 629.9 L134.6 629.9 L135.1 629.9 L135.1 629.9 L135.6 629.9 L135.6 629.9 L136.1 629.9 L136.1 629.9 L136.6 629.9 L136.6 629.9 L137.1 629.9 L137.1 629.9 L137.6 629.9 L137.6 629.9 L138.1 629.9 L138.1 629.9 L138.6 629.9 L138.6 629.9 L139.1 629.9 L139.1 629.9 L139.6 629.9 L139.6 629.9 L140.1 629.9 L140.1 629.9 L140.6 629.9 L140.6 629.9 L141.1 629.9 L141.1 629.9 L141.6 629.9 L141.6 629.9 L142.1 629.9 L142.1 629.9 L142.6 629.9 L142.6 629.9 L143.1 629.9 L143.1 629.9 L143.6 629.9 L143.6 629.9 L144.1 629.9 L144.1 629.9 L144.6 629.9 L144.6 629.9 L145.1 629.9 L145.1 629.9 L145.6 629.9 L145.6 629.9 L146.1 629.9 L146.1 629.9 L146.6 629.9 L146.6 629.9 L147.1 629.9 L147.1 629.9 L147.6 629.9 L147.6 629.9 L148.1 629.9 L148.1 629.9 L148.6 629.9 L148.6 629.9 L149.1 629.9 L149.1 629.9 L149.6 629.9 L149.6 629.9 L150.1 629.9 L150.1 629.9 L150.6 629.9 L150.6 629.9 L151.1 629.9 L151.1 629.9 L151.6 629.9 L151.6 629.9 L152.1 629.9 L152.1 629.9 L152.6 629.9 L152.6 629.9 L153.1 629.9 L153.1 629.9 L153.6 629.9 L153.6 629.9 L154.1 629.9 L154.1 629.9 L154.6 629.9 L154.6 629.9 L155.1 629.9 L155.1 629.9 L155.6 629.9 L155.6 629.9 L156.1 629.9 L156.1 634.58 L156.6 634.58 L156.6 629.9 L157.1 629.9 L157.1 629.9 L157.6 629.9 L157.6 629.9 L158.1 629.9 L158.1 629.9 L158.6 629.9 L158.6 629.9 L159.1 629.9 L159.1 629.9 L159.6 629.9 L159.6 629.9 L160.1 629.9 L160.1 629.9 L160.6 629.9 L160.6 629.9 L161.1 629.9 L161.1 629.9 L161.6 629.9 L161.6 629.9 L162.1 629.9 L162.1 629.9 L162.6 629.9 L162.6 629.9 L163.1 629.9 L163.1 629.9 L163.6 629.9 L163.6 629.9 L164.1 629.9 L164.1 629.9 L164.6 629.9 L164.6 629.9 L165.1 629.9 L165.1 629.9 L165.6 629.9 L165.6 629.9 L166.1 629.9 L166.1 629.9 L166.6 629.9 L166.6 629.9 L167.1 629.9 L167.1 629.9 L167.6 629.9 L167.6 629.9 L168.1 629.9 L168.1 629.9 L168.6 629.9 L168.6 629.9 L169.1 629.9 L169.1 629.9 L169.6 629.9 L169.6 629.9 L170.1 629.9 L170.1 629.9 L170.6 629.9 L170.6 629.9 L171.1 629.9 L171.1 629.9 L171.6 629.9 L171.6 629.9 L172.1 629.9 L172.1 629.9 L172.6 629.9 L172.6 629.9 L173.1 629.9 L173.1 629.9 L173.6 629.9 L173.6 629.9 L174.1 629.9 L174.1 629.9 L174.6 629.9 L174.6 629.9 L175.1 629.9 L175.1 629.9 L175.6 629.9 L175.6 629.9 L176.1 629.9 L176.1 629.9 L176.6 629.9 L176.6 629.9 L177.1 629.9 L177.1 629.9 L177.6 629.9 L177.6 629.9 L178.1 629.9 L178.1 629.9 L178.6 629.9 L178.6 629.9 L179.1 629.9 L179.1 629.9 L179.6 629.9 L179.6 629.9 L180.1 629.9 L180.1 629.9 L180.6 629.9 L180.6 629.9 L181.1 629.9 L181.1 629.9 L181.6 629.9 L181.6 629.9 L182.1 629.9 L182.1 629.9 L182.6 629.9 L182.6 629.9 L183.1 629.9 L183.1 629.9 L183.6 629.9 L183.6 629.9 L184.1 629.9 L184.1 629.9 L184.6 629.9 L184.6 629.9 L185.1 629.9 L185.1 629.9 L185.6 629.9 L185.6 629.9 L186.1 629.9 L186.1 629.9 L186.6 629.9 L186.6 629.9 L187.1 629.9 L187.1 629.9 L187.6 629.9 L187.6 629.9 L188.1 629.9 L188.1 629.9 L188.6 629.9 L188.6 629.9 L189.1 629.9 L189.1 629.9 L189.6 629.9 L189.6 629.9 L190.1 629.9 L190.1 629.9 L190.6 629.9 L190.6 629.9 L191.1 629.9 L191.1 629.9 L191.6 629.9 L191.6 629.9 L192.1 629.9 L192.1 629.9 L192.6 629.9 L192.6 629.9 L193.1 629.9 L193.1 629.9 L193.6 629.9 L193.6 629.9 L194.1 629.9 L194.1 629.9 L194.6 629.9 L194.6 629.9 L195.1 629.9 L195.1 629.9 L195.6 629.9 L195.6 629.9 L196.1 629.9 L196.1 629.9 L196.6 629.9 L196.6 629.9 L197.1 629.9 L197.1 629.9 L197.6 629.9 L197.6 629.9 L198.1 629.9 L198.1 629.9 L198.6 629.9 L198.6 629.9 L199.1 629.9 L199.1 629.9 L199.6 629.9 L199.6 629.9 L200.1 629.9 L200.1 629.9 L200.6 629.9 L200.6 629.9 L201.1 629.9 L201.1 629.9 L201.6 629.9 L201.6 629.9 L202.1 629.9 L202.1 629.9 L202.6 629.9 L202.6 629.9 L203.1 629.9 L203.1 629.9 L203.6 629.9 L203.6 629.9 L204.1 629.9 L204.1 631.38 L204.6 631.38 L204.6 629.9 L205.1 629.9 L205.1 629.9 L205.6 629.9 L205.6 629.9 L206.1 629.9 L206.1 629.9 L206.6 629.9 L206.6 629.9 L207.1 629.9 L207.1 629.9 L207.6 629.9 L207.6 629.9 L208.1 629.9 L208.1 629.9 L208.6 629.9 L208.6 629.9 L209.1 629.9 L209.1 629.9 L209.6 629.9 L209.6 629.9 L210.1 629.9 L210.1 629.9 L210.6 629.9 L210.6 629.9 L211.1 629.9 L211.1 629.9 L211.6 629.9 L211.6 629.9 L212.1 629.9 L212.1 629.9 L212.6 629.9 L212.6 629.9 L213.1 629.9 L213.1 629.9 L213.6 629.9 L213.6 629.9 L214.1 629.9 L214.1 629.9 L214.6 629.9 L214.6 629.9 L215.1 629.9 L215.1 629.9 L215.6 629.9 L215.6 629.9 L216.1 629.9 L216.1 634.39 L216.6 634.39 L216.6 629.9 L217.1 629.9 L217.1 629.9 L217.6 629.9 L217.6 629.9 L218.1 629.9 L218.1 629.9 L218.6 629.9 L218.6 629.9 L219.1 629.9 L219.1 629.9 L219.6 629.9 L219.6 629.9 L220.1 629.9 L220.1 629.9 L220.6 629.9 L220.6 629.9 L221.1 629.9 L221.1 629.9 L221.6 629.9 L221.6 629.9 L222.1 629.9 L222.1 629.9 L222.6 629.9 L222.6 629.9 L223.1 629.9 L223.1 629.9 L223.6 629.9 L223.6 629.9 L224.1 629.9 L224.1 629.9 L224.6 629.9 L224.6 629.9 L225.1 629.9 L225.1 629.9 L225.6 629.9 L225.6 629.9 L226.1 629.9 L226.1 629.9 L226.6 629.9 L226.6 629.9 L227.1 629.9 L227.1 629.9 L227.6 629.9 L227.6 629.9 L228.1 629.9 L228.1 629.9 L228.6 629.9 L228.6 629.9 L229.1 629.9 L229.1 629.9 L229.6 629.9 L229.6 629.9 L230.1 629.9 L230.1 629.9 L230.6 629.9 L230.6 629.9 L231.1 629.9 L231.1 629.9 L231.6 629.9 L231.6 629.9 L232.1 629.9 L232.1 629.9 L232.6 629.9 L232.6 629.9 L233.1 629.9 L233.1 629.9 L233.6 629.9 L233.6 629.9 L234.1 629.9 L234.1 629.9 L234.6 629.9 L234.6 629.9 L235.1 629.9 L235.1 629.9 L235.6 629.9 L235.6 629.9 L236.1 629.9 L236.1 629.9 L236.6 629.9 L236.6 629.9 L237.1 629.9 L237.1 629.9 L237.6 629.9 L237.6 629.9 L238.1 629.9 L238.1 629.9 L238.6 629.9 L238.6 629.9 L239.1 629.9 L239.1 629.9 L239.6 629.9 L239.6 629.9 L240.1 629.9 L240.1 629.9 L240.6 629.9 L240.6 629.9 L241.1 629.9 L241.1 629.9 L241.6 629.9 L241.6 629.9 L242.1 629.9 L242.1 629.9 L242.6 629.9 L242.6 629.9 L243.1 629.9 L243.1 629.9 L243.6 629.9 L243.6 629.9 L244.1 629.9 L244.1 629.9 L244.6 629.9 L244.6 629.9 L245.1 629.9 L245.1 629.9 L245.6 629.9 L245.6 634.03 L246.1 634.03 L246.1 633.41 L246.6 633.41 L246.6 630.41 L247.1 630.41 L247.1 629.9 L247.6 629.9 L247.6 629.9 L248.1 629.9 L248.1 629.9 L248.6 629.9 L248.6 629.9 L249.1 629.9 L249.1 634.45 L249.6 634.45 L249.6 629.9 L250.1 629.9 L250.1 629.9 L250.6 629.9 L250.6 633.86 L251.1 633.86 L251.1 631.76 L251.6 631.76 L251.6 629.9 L252.1 629.9 L252.1 629.9 L252.6 629.9 L252.6 629.9 L253.1 629.9 L253.1 629.9 L253.6 629.9 L253.6 629.9 L254.1 629.9 L254.1 632.81 L254.6 632.81 L254.6 629.9 L255.1 629.9 L255.1 629.9 L255.6 629.9 L255.6 631.07 L256.1 631.07 L256.1 631.27 L256.6 631.27 L256.6 631.14 L257.1 631.14 L257.1 629.9 L257.6 629.9 L257.6 634.17 L258.1 634.17 L258.1 629.9 L258.6 629.9 L258.6 629.9 L259.1 629.9 L259.1 633.79 L259.6 633.79 L259.6 633.25 L260.1 633.25 L260.1 634.2 L260.6 634.2 L260.6 632.82 L261.1 632.82 L261.1 635.53 L261.6 635.53 L261.6 632.45 L262.1 632.45 L262.1 634.14 L262.6 634.14 L262.6 631.61 L263.1 631.61 L263.1 629.9 L263.6 629.9 L263.6 632.33 L264.1 632.33 L264.1 630.53 L264.6 630.53 L264.6 629.9 L265.1 629.9 L265.1 629.9 L265.6 629.9 L265.6 635.06 L266.1 635.06 L266.1 632.95 L266.6 632.95 L266.6 636.4 L267.1 636.4 L267.1 634.23 L267.6 634.23 L267.6 629.9 L268.1 629.9 L268.1 629.9 L268.6 629.9 L268.6 629.9 L269.1 629.9 L269.1 634.58 L269.6 634.58 L269.6 630.83 L270.1 630.83 L270.1 632.7 L270.6 632.7 L270.6 629.9 L271.1 629.9 L271.1 634.49 L271.6 634.49 L271.6 629.9 L272.1 629.9 L272.1 629.9 L272.6 629.9 L272.6 634.05 L273.1 634.05 L273.1 629.9 L273.6 629.9 L273.6 632.4 L274.1 632.4 L274.1 633.1 L274.6 633.1 L274.6 629.9 L275.1 629.9 L275.1 629.9 L275.6 629.9 L275.6 631.48 L276.1 631.48 L276.1 635.71 L276.6 635.71 L276.6 634.96 L277.1 634.96 L277.1 634.03 L277.6 634.03 L277.6 629.9 L278.1 629.9 L278.1 629.9 L278.6 629.9 L278.6 629.9 L279.1 629.9 L279.1 632.48 L279.6 632.48 L279.6 629.9 L280.1 629.9 L280.1 632.2 L280.6 632.2 L280.6 631.59 L281.1 631.59 L281.1 631.92 L281.6 631.92 L281.6 635.1 L282.1 635.1 L282.1 634.84 L282.6 634.84 L282.6 629.9 L283.1 629.9 L283.1 629.9 L283.6 629.9 L283.6 631 L284.1 631 L284.1 631.42 L284.6 631.42 L284.6 634.81 L285.1 634.81 L285.1 629.9 L285.6 629.9 L285.6 634.6 L286.1 634.6 L286.1 629.9 L286.6 629.9 L286.6 634 L287.1 634 L287.1 633.99 L287.6 633.99 L287.6 636.26 L288.1 636.26 L288.1 631.48 L288.6 631.48 L288.6 629.9 L289.1 629.9 L289.1 629.9 L289.6 629.9 L289.6 630.2 L290.1 630.2 L290.1 630.16 L290.6 630.16 L290.6 634.86 L291.1 634.86 L291.1 631.49 L291.6 631.49 L291.6 629.9 L292.1 629.9 L292.1 629.9 L292.6 629.9 L292.6 632.04 L293.1 632.04 L293.1 631.39 L293.6 631.39 L293.6 630.43 L294.1 630.43 L294.1 629.91 L294.6 629.91 L294.6 629.9 L295.1 629.9 L295.1 629.9 L295.6 629.9 L295.6 632.02 L296.1 632.02 L296.1 634.73 L296.6 634.73 L296.6 631.37 L297.1 631.37 L297.1 629.9 L297.6 629.9 L297.6 629.9 L298.1 629.9 L298.1 634.67 L298.6 634.67 L298.6 633.69 L299.1 633.69 L299.1 629.9 L299.6 629.9 L299.6 633.95 L300 633.95 L300 629.9 Z" fill="#1c65a0" stroke="none" stroke-width="1" />
<path d="M73.6 629.9 L73.6 626.6 L74.1 626.6 L74.1 625.86 L74.6 625.86 L74.6 626.99 L75.1 626.99 L75.1 628.23 L75.6 628.23 L75.6 615.03 L76.1 615.03 L76.1 626.61 L76.6 626.61 L76.6 626.8 L77.1 626.8 L77.1 629.65 L77.6 629.65 L77.6 626.98 L78.1 626.98 L78.1 621.88 L78.6 621.88 L78.6 629.43 L79.1 629.43 L79.1 629.3 L79.6 629.3 L79.6 629.9 L80.1 629.9 L80.1 629.39 L80.6 629.39 L80.6 626.87 L81.1 626.87 L81.1 622.5 L81.6 622.5 L81.6 624.91 L82.1 624.91 L82.1 627.09 L82.6 627.09 L82.6 624.02 L83.1 624.02 L83.1 625.76 L83.6 625.76 L83.6 628.45 L84.1 628.45 L84.1 627.99 L84.6 627.99 L84.6 629.9 L85.1 629.9 L85.1 629.9 L85.6 629.9 L85.6 624.51 L86.1 624.51 L86.1 618.08 L86.6 618.08 L86.6 624.92 L87.1 624.92 L87.1 629.9 L87.6 629.9 L87.6 629.47 L88.1 629.47 L88.1 625.8 L88.6 625.8 L88.6 624.94 L89.1 624.94 L89.1 625.66 L89.6 625.66 L89.6 629.9 L90.1 629.9 L90.1 624.19 L90.6 624.19 L90.6 624.85 L91.1 624.85 L91.1 627.55 L91.6 627.55 L91.6 627.11 L92.1 627.11 L92.1 626.09 L92.6 626.09 L92.6 625.63 L93.1 625.63 L93.1 626.65 L93.6 626.65 L93.6 627.96 L94.1 627.96 L94.1 626.16 L94.6 626.16 L94.6 624.46 L95.1 624.46 L95.1 619.95 L95.6 619.95 L95.6 627.39 L96.1 627.39 L96.1 625.53 L96.6 625.53 L96.6 624.7 L97.1 624.7 L97.1 628.67 L97.6 628.67 L97.6 616.01 L98.1 616.01 L98.1 629.9 L98.6 629.9 L98.6 629.9 L99.1 629.9 L99.1 629.9 L99.6 629.9 L99.6 625.21 L100.1 625.21 L100.1 619.18 L100.6 619.18 L100.6 629.9 L101.1 629.9 L101.1 623.57 L101.6 623.57 L101.6 622.68 L102.1 622.68 L102.1 629.9 L102.6 629.9 L102.6 629.78 L103.1 629.78 L103.1 629.9 L103.6 629.9 L103.6 629.9 L104.1 629.9 L104.1 625.27 L104.6 625.27 L104.6 624.33 L105.1 624.33 L105.1 621.95 L105.6 621.95 L105.6 626.21 L106.1 626.21 L106.1 626.2 L106.6 626.2 L106.6 628.01 L107.1 628.01 L107.1 623.86 L107.6 623.86 L107.6 628.9 L108.1 628.9 L108.1 628.68 L108.6 628.68 L108.6 627.79 L109.1 627.79 L109.1 626.94 L109.6 626.94 L109.6 621.76 L110.1 621.76 L110.1 627.23 L110.6 627.23 L110.6 623.81 L111.1 623.81 L111.1 620.71 L111.6 620.71 L111.6 624.58 L112.1 624.58 L112.1 626.04 L112.6 626.04 L112.6 627.88 L113.1 627.88 L113.1 628.83 L113.6 628.83 L113.6 628.41 L114.1 628.41 L114.1 621.27 L114.6 621.27 L114.6 624.75 L115.1 624.75 L115.1 629.19 L115.6 629.19 L115.6 627.31 L116.1 627.31 L116.1 623.59 L116.6 623.59 L116.6 629.9 L117.1 629.9 L117.1 625.35 L117.6 625.35 L117.6 625.16 L118.1 625.16 L118.1 622.27 L118.6 622.27 L118.6 612.35 L119.1 612.35 L119.1 629.9 L119.6 629.9 L119.6 628.82 L120.1 628.82 L120.1 622.36 L120.6 622.36 L120.6 624.32 L121.1 624.32 L121.1 624.41 L121.6 624.41 L121.6 621.43 L122.1 621.43 L122.1 629.9 L122.6 629.9 L122.6 629.9 L123.1 629.9 L123.1 627.21 L123.6 627.21 L123.6 624.73 L124.1 624.73 L124.1 624.35 L124.6 624.35 L124.6 623.27 L125.1 623.27 L125.1 628.02 L125.6 628.02 L125.6 629.9 L126.1 629.9 L126.1 627.84 L126.6 627.84 L126.6 618.45 L127.1 618.45 L127.1 624.86 L127.6 624.86 L127.6 626.35 L128.1 626.35 L128.1 622.35 L128.6 622.35 L128.6 625.44 L129.1 625.44 L129.1 626.9 L129.6 626.9 L129.6 624.4 L130.1 624.4 L130.1 617.88 L130.6 617.88 L130.6 619.83 L131.1 619.83 L131.1 617.48 L131.6 617.48 L131.6 612.85 L132.1 612.85 L132.1 615.43 L132.6 615.43 L132.6 610.44 L133.1 610.44 L133.1 608.34 L133.6 608.34 L133.6 624.4 L134.1 624.4 L134.1 620.7 L134.6 620.7 L134.6 619.13 L135.1 619.13 L135.1 614.95 L135.6 614.95 L135.6 614.81 L136.1 614.81 L136.1 609.7 L136.6 609.7 L136.6 609.75 L137.1 609.75 L137.1 610.52 L137.6 610.52 L137.6 612.45 L138.1 612.45 L138.1 620.01 L138.6 620.01 L138.6 619.35 L139.1 619.35 L139.1 616.23 L139.6 616.23 L139.6 613.35 L140.1 613.35 L140.1 621.09 L140.6 621.09 L140.6 616.68 L141.1 616.68 L141.1 623.46 L141.6 623.46 L141.6 617.8 L142.1 617.8 L142.1 615.31 L142.6 615.31 L142.6 616.73 L143.1 616.73 L143.1 612.54 L143.6 612.54 L143.6 615.34 L144.1 615.34 L144.1 611.09 L144.6 611.09 L144.6 622.99 L145.1 622.99 L145.1 618.18 L145.6 618.18 L145.6 617.57 L146.1 617.57 L146.1 616.17 L146.6 616.17 L146.6 614.92 L147.1 614.92 L147.1 613.91 L147.6 613.91 L147.6 616.96 L148.1 616.96 L148.1 621.04 L148.6 621.04 L148.6 624.35 L149.1 624.35 L149.1 623.58 L149.6 623.58 L149.6 621.19 L150.1 621.19 L150.1 621.44 L150.6 621.44 L150.6 616.47 L151.1 616.47 L151.1 609.78 L151.6 609.78 L151.6 613.4 L152.1 613.4 L152.1 618.47 L152.6 618.47 L152.6 619.33 L153.1 619.33 L153.1 623.49 L153.6 623.49 L153.6 617.05 L154.1 617.05 L154.1 614.93 L154.6 614.93 L154.6 614.8 L155.1 614.8 L155.1 622.38 L155.6 622.38 L155.6 621.15 L156.1 621.15 L156.1 622.1 L156.6 622.1 L156.6 616.58 L157.1 616.58 L157.1 620 L157.6 620 L157.6 609.51 L158.1 609.51 L158.1 612.97 L158.6 612.97 L158.6 612.74 L159.1 612.74 L159.1 615.95 L159.6 615.95 L159.6 613.61 L160.1 613.61 L160.1 615.92 L160.6 615.92 L160.6 615.17 L161.1 615.17 L161.1 611.6 L161.6 611.6 L161.6 606.8 L162.1 606.8 L162.1 618.44 L162.6 618.44 L162.6 616.28 L163.1 616.28 L163.1 616.7 L163.6 616.7 L163.6 613.98 L164.1 613.98 L164.1 620.28 L164.6 620.28 L164.6 618 L165.1 618 L165.1 621.32 L165.6 621.32 L165.6 616.67 L166.1 616.67 L166.1 612.6 L166.6 612.6 L166.6 624.37 L167.1 624.37 L167.1 620.28 L167.6 620.28 L167.6 617.82 L168.1 617.82 L168.1 618.23 L168.6 618.23 L168.6 623.57 L169.1 623.57 L169.1 624.4 L169.6 624.4 L169.6 622.26 L170.1 622.26 L170.1 617.93 L170.6 617.93 L170.6 622.9 L171.1 622.9 L171.1 624.01 L171.6 624.01 L171.6 619.38 L172.1 619.38 L172.1 612.1 L172.6 612.1 L172.6 608.33 L173.1 608.33 L173.1 605.4 L173.6 605.4 L173.6 607.91 L174.1 607.91 L174.1 610.7 L174.6 610.7 L174.6 611.66 L175.1 611.66 L175.1 617.1 L175.6 617.1 L175.6 614.36 L176.1 614.36 L176.1 614.19 L176.6 614.19 L176.6 610.26 L177.1 610.26 L177.1 618.04 L177.6 618.04 L177.6 610.84 L178.1 610.84 L178.1 616.51 L178.6 616.51 L178.6 617.26 L179.1 617.26 L179.1 618.74 L179.6 618.74 L179.6 618.76 L180.1 618.76 L180.1 622.05 L180.6 622.05 L180.6 618.51 L181.1 618.51 L181.1 618.54 L181.6 618.54 L181.6 616.64 L182.1 616.64 L182.1 617.52 L182.6 617.52 L182.6 619.77 L183.1 619.77 L183.1 620.53 L183.6 620.53 L183.6 621.33 L184.1 621.33 L184.1 620.12 L184.6 620.12 L184.6 614.48 L185.1 614.48 L185.1 616.91 L185.6 616.91 L185.6 619.1 L186.1 619.1 L186.1 621.41 L186.6 621.41 L186.6 618.27 L187.1 618.27 L187.1 617.37 L187.6 617.37 L187.6 613.09 L188.1 613.09 L188.1 610.04 L188.6 610.04 L188.6 613.85 L189.1 613.85 L189.1 610.2 L189.6 610.2 L189.6 611.92 L190.1 611.92 L190.1 605.4 L190.6 605.4 L190.6 608.06 L191.1 608.06 L191.1 616.83 L191.6 616.83 L191.6 612.47 L192.1 612.47 L192.1 617.07 L192.6 617.07 L192.6 620.78 L193.1 620.78 L193.1 617.9 L193.6 617.9 L193.6 620.68 L194.1 620.68 L194.1 614.61 L194.6 614.61 L194.6 617.2 L195.1 617.2 L195.1 615.91 L195.6 615.91 L195.6 618.15 L196.1 618.15 L196.1 620.32 L196.6 620.32 L196.6 622.99 L197.1 622.99 L197.1 624 L197.6 624 L197.6 619 L198.1 619 L198.1 618.29 L198.6 618.29 L198.6 624.4 L199.1 624.4 L199.1 623.6 L199.6 623.6 L199.6 616.12 L200.1 616.12 L200.1 615.36 L200.6 615.36 L200.6 616.23 L201.1 616.23 L201.1 611.56 L201.6 611.56 L201.6 613.31 L202.1 613.31 L202.1 619.5 L202.6 619.5 L202.6 618.58 L203.1 618.58 L203.1 613.99 L203.6 613.99 L203.6 613.91 L204.1 613.91 L204.1 608.35 L204.6 608.35 L204.6 614.09 L205.1 614.09 L205.1 613.59 L205.6 613.59 L205.6 610.93 L206.1 610.93 L206.1 615.79 L206.6 615.79 L206.6 624.4 L207.1 624.4 L207.1 624.3 L207.6 624.3 L207.6 624.4 L208.1 624.4 L208.1 624.4 L208.6 624.4 L208.6 624.04 L209.1 624.04 L209.1 617.01 L209.6 617.01 L209.6 618.18 L210.1 618.18 L210.1 611.58 L210.6 611.58 L210.6 614.23 L211.1 614.23 L211.1 612.34 L211.6 612.34 L211.6 610.81 L212.1 610.81 L212.1 606.48 L212.6 606.48 L212.6 616.45 L213.1 616.45 L213.1 611.6 L213.6 611.6 L213.6 616.15 L214.1 616.15 L214.1 616.74 L214.6 616.74 L214.6 612.49 L215.1 612.49 L215.1 624.4 L215.6 624.4 L215.6 624.4 L216.1 624.4 L216.1 620.99 L216.6 620.99 L216.6 621.05 L217.1 621.05 L217.1 622.74 L217.6 622.74 L217.6 617.51 L218.1 617.51 L218.1 622.05 L218.6 622.05 L218.6 617.43 L219.1 617.43 L219.1 618.14 L219.6 618.14 L219.6 611.25 L220.1 611.25 L220.1 616.19 L220.6 616.19 L220.6 619.44 L221.1 619.44 L221.1 615.69 L221.6 615.69 L221.6 617.77 L222.1 617.77 L222.1 617.53 L222.6 617.53 L222.6 624.4 L223.1 624.4 L223.1 620.14 L223.6 620.14 L223.6 618.66 L224.1 618.66 L224.1 623.13 L224.6 623.13 L224.6 616.26 L225.1 616.26 L225.1 610.86 L225.6 610.86 L225.6 613.3 L226.1 613.3 L226.1 606.41 L226.6 606.41 L226.6 613.37 L227.1 613.37 L227.1 614.18 L227.6 614.18 L227.6 616.32 L228.1 616.32 L228.1 616.86 L228.6 616.86 L228.6 613.78 L229.1 613.78 L229.1 619.32 L229.6 619.32 L229.6 623.62 L230.1 623.62 L230.1 622 L230.6 622 L230.6 619.55 L231.1 619.55 L231.1 618.53 L231.6 618.53 L231.6 624.13 L232.1 624.13 L232.1 622.39 L232.6 622.39 L232.6 617.26 L233.1 617.26 L233.1 620.57 L233.6 620.57 L233.6 615.28 L234.1 615.28 L234.1 616.4 L234.6 616.4 L234.6 617.19 L235.1 617.19 L235.1 623.41 L235.6 623.41 L235.6 624.4 L236.1 624.4 L236.1 617.17 L236.6 617.17 L236.6 613.96 L237.1 613.96 L237.1 622.35 L237.6 622.35 L237.6 620.3 L238.1 620.3 L238.1 619.93 L238.6 619.93 L238.6 612.54 L239.1 612.54 L239.1 616.3 L239.6 616.3 L239.6 616.59 L240.1 616.59 L240.1 620.4 L240.6 620.4 L240.6 611.57 L241.1 611.57 L241.1 610.88 L241.6 610.88 L241.6 609.8 L242.1 609.8 L242.1 614.18 L242.6 614.18 L242.6 619.72 L243.1 619.72 L243.1 617.52 L243.6 617.52 L243.6 616.22 L244.1 616.22 L244.1 615.63 L244.6 615.63 L244.6 616.62 L245.1 616.62 L245.1 619.57 L245.6 619.57 L245.6 613.05 L246.1 613.05 L246.1 626.35 L246.6 626.35 L246.6 623.12 L247.1 623.12 L247.1 620.11 L247.6 620.11 L247.6 622.8 L248.1 622.8 L248.1 619.82 L248.6 619.82 L248.6 622.94 L249.1 622.94 L249.1 629.9 L249.6 629.9 L249.6 626.76 L250.1 626.76 L250.1 628.16 L250.6 628.16 L250.6 629.9 L251.1 629.9 L251.1 629.9 L251.6 629.9 L251.6 625.7 L252.1 625.7 L252.1 625.9 L252.6 625.9 L252.6 619.74 L253.1 619.74 L253.1 613.23 L253.6 613.23 L253.6 625.86 L254.1 625.86 L254.1 625.88 L254.6 625.88 L254.6 624.39 L255.1 624.39 L255.1 625.16 L255.6 625.16 L255.6 614.73 L256.1 614.73 L256.1 623.08 L256.6 623.08 L256.6 626.63 L257.1 626.63 L257.1 626.02 L257.6 626.02 L257.6 624.85 L258.1 624.85 L258.1 625.22 L258.6 625.22 L258.6 626.28 L259.1 626.28 L259.1 626.92 L259.6 626.92 L259.6 628.4 L260.1 628.4 L260.1 626.04 L260.6 626.04 L260.6 624.37 L261.1 624.37 L261.1 624.82 L261.6 624.82 L261.6 626.25 L262.1 626.25 L262.1 629.08 L262.6 629.08 L262.6 626.19 L263.1 626.19 L263.1 626.69 L263.6 626.69 L263.6 624.85 L264.1 624.85 L264.1 626.41 L264.6 626.41 L264.6 624.54 L265.1 624.54 L265.1 625.15 L265.6 625.15 L265.6 628.03 L266.1 628.03 L266.1 626.94 L266.6 626.94 L266.6 623.36 L267.1 623.36 L267.1 623.13 L267.6 623.13 L267.6 629.79 L268.1 629.79 L268.1 622.94 L268.6 622.94 L268.6 627.69 L269.1 627.69 L269.1 617.03 L269.6 617.03 L269.6 624.92 L270.1 624.92 L270.1 624.87 L270.6 624.87 L270.6 625.89 L271.1 625.89 L271.1 628.75 L271.6 628.75 L271.6 619.26 L272.1 619.26 L272.1 629.34 L272.6 629.34 L272.6 629.9 L273.1 629.9 L273.1 629.64 L273.6 629.64 L273.6 624.3 L274.1 624.3 L274.1 620.96 L274.6 620.96 L274.6 618.42 L275.1 618.42 L275.1 627 L275.6 627 L275.6 628.25 L276.1 628.25 L276.1 629.72 L276.6 629.72 L276.6 626.09 L277.1 626.09 L277.1 625.37 L277.6 625.37 L277.6 629.13 L278.1 629.13 L278.1 629.9 L278.6 629.9 L278.6 626.72 L279.1 626.72 L279.1 627.1 L279.6 627.1 L279.6 629.9 L280.1 629.9 L280.1 629.33 L280.6 629.33 L280.6 627.4 L281.1 627.4 L281.1 624.26 L281.6 624.26 L281.6 628.34 L282.1 628.34 L282.1 624.53 L282.6 624.53 L282.6 626.92 L283.1 626.92 L283.1 628.66 L283.6 628.66 L283.6 625.77 L284.1 625.77 L284.1 627.81 L284.6 627.81 L284.6 628.89 L285.1 628.89 L285.1 622.89 L285.6 622.89 L285.6 615.64 L286.1 615.64 L286.1 625.16 L286.6 625.16 L286.6 622.55 L287.1 622.55 L287.1 624.38 L287.6 624.38 L287.6 626.74 L288.1 626.74 L288.1 628.9 L288.6 628.9 L288.6 625.68 L289.1 625.68 L289.1 626.63 L289.6 626.63 L289.6 616.2 L290.1 616.2 L290.1 628.23 L290.6 628.23 L290.6 628.17 L291.1 628.17 L291.1 629.37 L291.6 629.37 L291.6 629.9 L292.1 629.9 L292.1 621.06 L292.6 621.06 L292.6 629.22 L293.1 629.22 L293.1 629.9 L293.6 629.9 L293.6 629.9 L294.1 629.9 L294.1 623.92 L294.6 623.92 L294.6 623.76 L295.1 623.76 L295.1 627.23 L295.6 627.23 L295.6 626.68 L296.1 626.68 L296.1 614.13 L296.6 614.13 L296.6 628.9 L297.1 628.9 L297.1 629.15 L297.6 629.15 L297.6 628.64 L298.1 628.64 L298.1 625.88 L298.6 625.88 L298.6 628.43 L299.1 628.43 L299.1 627.52 L299.6 627.52 L299.6 625.01 L300 625.01 L300 629.9 Z" fill="#d05f60" stroke="none" stroke-width="1" />
<line x1="129.4" y1="641.6" x2="168.3" y2="641.6" stroke="#231f20" stroke-width="1.2" />
<line x1="205.8" y1="641.6" x2="246.1" y2="641.6" stroke="#231f20" stroke-width="1.2" />
<line x1="129.4" y1="638.8" x2="129.4" y2="644.4" stroke="#231f20" stroke-width="1.2" />
<line x1="246.1" y1="638.8" x2="246.1" y2="644.4" stroke="#231f20" stroke-width="1.2" />
<text x="187.6" y="644.5" font-size="7.9" font-weight="normal" font-style="normal" text-anchor="middle" fill="#231f20" >74.7 kb</text>
<rect x="74.1" y="648" width="225.3" height="3.1" fill="#474747" />
<line x1="74.1" y1="657.9" x2="300.1" y2="657.9" stroke="#231f20" stroke-width="1.4" />
<line x1="106.5" y1="657.9" x2="106.5" y2="655.5" stroke="#231f20" stroke-width="1" />
<line x1="170.9" y1="657.9" x2="170.9" y2="655.5" stroke="#231f20" stroke-width="1" />
<line x1="235.4" y1="657.9" x2="235.4" y2="655.5" stroke="#231f20" stroke-width="1" />
<line x1="299.5" y1="657.9" x2="299.5" y2="655.5" stroke="#231f20" stroke-width="1" />
<text x="106.5" y="668" font-size="8.1" font-weight="normal" font-style="normal" text-anchor="middle" fill="#231f20" >3.18</text>
<text x="170.9" y="668" font-size="8.1" font-weight="normal" font-style="normal" text-anchor="middle" fill="#231f20" >3.2</text>
<text x="235.4" y="668" font-size="8.1" font-weight="normal" font-style="normal" text-anchor="middle" fill="#231f20" >3.22</text>
<text x="292" y="668" font-size="8.1" font-weight="normal" font-style="normal" text-anchor="start" fill="#231f20" >3.24 Mb</text>
<path d="M411.6 481.8 H412.8 V519.1 H411.6" fill="none" stroke="#231f20" stroke-width="1.4" />
<text x="408.6" y="487.4" font-size="7.6" font-weight="normal" font-style="normal" text-anchor="end" fill="#231f20" >1</text>
<text x="408.6" y="519.7" font-size="7.6" font-weight="normal" font-style="normal" text-anchor="end" fill="#231f20" >-0.2</text>
<text x="414.4" y="478.5" font-size="7.9" font-weight="normal" font-style="normal" text-anchor="start" fill="#231f20" >Chr 4</text>
<text x="613.8" y="481.9" font-size="10.6" font-weight="bold" font-style="italic" text-anchor="end" fill="#231f20" >fas1-4 x fas2-4</text>
<text x="613.8" y="492.7" font-size="8.6" font-weight="normal" font-style="normal" text-anchor="end" fill="#231f20" >Picart-Picolo et al., (2020)</text>
<path d="M415.1 512.9 L415.1 516.8 L415.6 516.8 L415.6 518.39 L416.1 518.39 L416.1 518.35 L416.6 518.35 L416.6 518.5 L417.1 518.5 L417.1 516.32 L417.6 516.32 L417.6 515.66 L418.1 515.66 L418.1 514.95 L418.6 514.95 L418.6 514.87 L419.1 514.87 L419.1 517.93 L419.6 517.93 L419.6 517.56 L420.1 517.56 L420.1 515.63 L420.6 515.63 L420.6 515.14 L421.1 515.14 L421.1 518.01 L421.6 518.01 L421.6 515.41 L422.1 515.41 L422.1 515.54 L422.6 515.54 L422.6 517.1 L423.1 517.1 L423.1 518.5 L423.6 518.5 L423.6 518.5 L424.1 518.5 L424.1 516.71 L424.6 516.71 L424.6 514.79 L425.1 514.79 L425.1 514.48 L425.6 514.48 L425.6 516.67 L426.1 516.67 L426.1 517.01 L426.6 517.01 L426.6 518.5 L427.1 518.5 L427.1 518.5 L427.6 518.5 L427.6 518.5 L428.1 518.5 L428.1 515.83 L428.6 515.83 L428.6 514.81 L429.1 514.81 L429.1 512.9 L429.6 512.9 L429.6 512.9 L430.1 512.9 L430.1 512.9 L430.6 512.9 L430.6 512.9 L431.1 512.9 L431.1 512.9 L431.6 512.9 L431.6 512.9 L432.1 512.9 L432.1 512.9 L432.6 512.9 L432.6 512.9 L433.1 512.9 L433.1 512.9 L433.6 512.9 L433.6 512.9 L434.1 512.9 L434.1 512.9 L434.6 512.9 L434.6 512.9 L435.1 512.9 L435.1 512.9 L435.6 512.9 L435.6 512.9 L436.1 512.9 L436.1 512.9 L436.6 512.9 L436.6 512.9 L437.1 512.9 L437.1 512.9 L437.6 512.9 L437.6 512.9 L438.1 512.9 L438.1 512.9 L438.6 512.9 L438.6 512.9 L439.1 512.9 L439.1 512.9 L439.6 512.9 L439.6 512.9 L440.1 512.9 L440.1 512.9 L440.6 512.9 L440.6 512.9 L441.1 512.9 L441.1 512.9 L441.6 512.9 L441.6 512.9 L442.1 512.9 L442.1 512.9 L442.6 512.9 L442.6 512.9 L443.1 512.9 L443.1 512.9 L443.6 512.9 L443.6 512.9 L444.1 512.9 L444.1 512.9 L444.6 512.9 L444.6 512.9 L445.1 512.9 L445.1 513.83 L445.6 513.83 L445.6 512.9 L446.1 512.9 L446.1 512.9 L446.6 512.9 L446.6 513.56 L447.1 513.56 L447.1 512.9 L447.6 512.9 L447.6 512.9 L448.1 512.9 L448.1 512.9 L448.6 512.9 L448.6 512.9 L449.1 512.9 L449.1 512.9 L449.6 512.9 L449.6 512.9 L450.1 512.9 L450.1 512.9 L450.6 512.9 L450.6 512.9 L451.1 512.9 L451.1 515.41 L451.6 515.41 L451.6 512.9 L452.1 512.9 L452.1 514.04 L452.6 514.04 L452.6 512.9 L453.1 512.9 L453.1 514.25 L453.6 514.25 L453.6 512.9 L454.1 512.9 L454.1 512.9 L454.6 512.9 L454.6 512.9 L455.1 512.9 L455.1 512.9 L455.6 512.9 L455.6 512.9 L456.1 512.9 L456.1 512.9 L456.6 512.9 L456.6 512.9 L457.1 512.9 L457.1 512.9 L457.6 512.9 L457.6 512.9 L458.1 512.9 L458.1 512.9 L458.6 512.9 L458.6 512.9 L459.1 512.9 L459.1 512.9 L459.6 512.9 L459.6 512.9 L460.1 512.9 L460.1 512.9 L460.6 512.9 L460.6 512.9 L461.1 512.9 L461.1 513.63 L461.6 513.63 L461.6 515.57 L462.1 515.57 L462.1 514.75 L462.6 514.75 L462.6 512.9 L463.1 512.9 L463.1 513.86 L463.6 513.86 L463.6 512.9 L464.1 512.9 L464.1 515.18 L464.6 515.18 L464.6 512.9 L465.1 512.9 L465.1 514.56 L465.6 514.56 L465.6 512.9 L466.1 512.9 L466.1 512.9 L466.6 512.9 L466.6 512.9 L467.1 512.9 L467.1 514.37 L467.6 514.37 L467.6 512.9 L468.1 512.9 L468.1 512.9 L468.6 512.9 L468.6 512.9 L469.1 512.9 L469.1 512.9 L469.6 512.9 L469.6 512.9 L470.1 512.9 L470.1 512.9 L470.6 512.9 L470.6 512.9 L471.1 512.9 L471.1 515.44 L471.6 515.44 L471.6 512.9 L472.1 512.9 L472.1 512.9 L472.6 512.9 L472.6 513.58 L473.1 513.58 L473.1 512.9 L473.6 512.9 L473.6 512.9 L474.1 512.9 L474.1 512.9 L474.6 512.9 L474.6 512.9 L475.1 512.9 L475.1 512.9 L475.6 512.9 L475.6 512.9 L476.1 512.9 L476.1 512.9 L476.6 512.9 L476.6 515.24 L477.1 515.24 L477.1 516.05 L477.6 516.05 L477.6 512.9 L478.1 512.9 L478.1 514.38 L478.6 514.38 L478.6 517.21 L479.1 517.21 L479.1 512.9 L479.6 512.9 L479.6 512.9 L480.1 512.9 L480.1 512.9 L480.6 512.9 L480.6 512.9 L481.1 512.9 L481.1 513.29 L481.6 513.29 L481.6 514.6 L482.1 514.6 L482.1 512.9 L482.6 512.9 L482.6 512.9 L483.1 512.9 L483.1 513.7 L483.6 513.7 L483.6 515.57 L484.1 515.57 L484.1 516.26 L484.6 516.26 L484.6 512.9 L485.1 512.9 L485.1 515.13 L485.6 515.13 L485.6 512.9 L486.1 512.9 L486.1 515.88 L486.6 515.88 L486.6 512.9 L487.1 512.9 L487.1 517.6 L487.6 517.6 L487.6 514.91 L488.1 514.91 L488.1 512.9 L488.6 512.9 L488.6 512.9 L489.1 512.9 L489.1 514 L489.6 514 L489.6 513.37 L490.1 513.37 L490.1 514.18 L490.6 514.18 L490.6 512.9 L491.1 512.9 L491.1 513.39 L491.6 513.39 L491.6 512.9 L492.1 512.9 L492.1 512.9 L492.6 512.9 L492.6 512.9 L493.1 512.9 L493.1 515.38 L493.6 515.38 L493.6 513.36 L494.1 513.36 L494.1 512.9 L494.6 512.9 L494.6 512.9 L495.1 512.9 L495.1 514.8 L495.6 514.8 L495.6 513.1 L496.1 513.1 L496.1 515.44 L496.6 515.44 L496.6 512.9 L497.1 512.9 L497.1 517.06 L497.6 517.06 L497.6 514.11 L498.1 514.11 L498.1 512.97 L498.6 512.97 L498.6 512.9 L499.1 512.9 L499.1 512.9 L499.6 512.9 L499.6 516.34 L500.1 516.34 L500.1 515.3 L500.6 515.3 L500.6 515.3 L501.1 515.3 L501.1 515.4 L501.6 515.4 L501.6 515.61 L502.1 515.61 L502.1 518.36 L502.6 518.36 L502.6 517.36 L503.1 517.36 L503.1 515.3 L503.6 515.3 L503.6 518.39 L504.1 518.39 L504.1 518.38 L504.6 518.38 L504.6 517.35 L505.1 517.35 L505.1 518.8 L505.6 518.8 L505.6 518.8 L506.1 518.8 L506.1 518.8 L506.6 518.8 L506.6 516.89 L507.1 516.89 L507.1 517.12 L507.6 517.12 L507.6 518.8 L508.1 518.8 L508.1 518.71 L508.6 518.71 L508.6 517.39 L509.1 517.39 L509.1 515.51 L509.6 515.51 L509.6 517.38 L510.1 517.38 L510.1 517.57 L510.6 517.57 L510.6 518.7 L511.1 518.7 L511.1 518.65 L511.6 518.65 L511.6 518.8 L512.1 518.8 L512.1 517.84 L512.6 517.84 L512.6 517.99 L513.1 517.99 L513.1 516.94 L513.6 516.94 L513.6 517.67 L514.1 517.67 L514.1 517.96 L514.6 517.96 L514.6 518 L515.1 518 L515.1 516.52 L515.6 516.52 L515.6 517.63 L516.1 517.63 L516.1 517.22 L516.6 517.22 L516.6 515.94 L517.1 515.94 L517.1 516.93 L517.6 516.93 L517.6 518.03 L518.1 518.03 L518.1 516.89 L518.6 516.89 L518.6 518.8 L519.1 518.8 L519.1 518.31 L519.6 518.31 L519.6 518.8 L520.1 518.8 L520.1 518.66 L520.6 518.66 L520.6 515.42 L521.1 515.42 L521.1 515.3 L521.6 515.3 L521.6 516.99 L522.1 516.99 L522.1 516.62 L522.6 516.62 L522.6 516.37 L523.1 516.37 L523.1 517.68 L523.6 517.68 L523.6 517.85 L524.1 517.85 L524.1 517.79 L524.6 517.79 L524.6 516.2 L525.1 516.2 L525.1 518.75 L525.6 518.75 L525.6 515.3 L526.1 515.3 L526.1 517.84 L526.6 517.84 L526.6 516.75 L527.1 516.75 L527.1 518.18 L527.6 518.18 L527.6 517.61 L528.1 517.61 L528.1 517.76 L528.6 517.76 L528.6 518.8 L529.1 518.8 L529.1 517.02 L529.6 517.02 L529.6 515.3 L530.1 515.3 L530.1 515.52 L530.6 515.52 L530.6 512.9 L531.1 512.9 L531.1 512.9 L531.6 512.9 L531.6 515.3 L532.1 515.3 L532.1 515.3 L532.6 515.3 L532.6 515.56 L533.1 515.56 L533.1 517.32 L533.6 517.32 L533.6 516.42 L534.1 516.42 L534.1 517.41 L534.6 517.41 L534.6 515.3 L535.1 515.3 L535.1 517 L535.6 517 L535.6 516.87 L536.1 516.87 L536.1 518.37 L536.6 518.37 L536.6 518.8 L537.1 518.8 L537.1 518.8 L537.6 518.8 L537.6 518.8 L538.1 518.8 L538.1 516.6 L538.6 516.6 L538.6 516.2 L539.1 516.2 L539.1 518.8 L539.6 518.8 L539.6 515.68 L540.1 515.68 L540.1 516.43 L540.6 516.43 L540.6 517.63 L541.1 517.63 L541.1 518.63 L541.6 518.63 L541.6 516.97 L542.1 516.97 L542.1 517.21 L542.6 517.21 L542.6 517.98 L543.1 517.98 L543.1 518.8 L543.6 518.8 L543.6 517.97 L544.1 517.97 L544.1 517.18 L544.6 517.18 L544.6 518.8 L545.1 518.8 L545.1 518.8 L545.6 518.8 L545.6 517.16 L546.1 517.16 L546.1 517.72 L546.6 517.72 L546.6 517.29 L547.1 517.29 L547.1 517.41 L547.6 517.41 L547.6 515.3 L548.1 515.3 L548.1 516.97 L548.6 516.97 L548.6 517.12 L549.1 517.12 L549.1 515.59 L549.6 515.59 L549.6 516.72 L550.1 516.72 L550.1 515.93 L550.6 515.93 L550.6 516.04 L551.1 516.04 L551.1 516.52 L551.6 516.52 L551.6 518.8 L552.1 518.8 L552.1 518.8 L552.6 518.8 L552.6 516.56 L553.1 516.56 L553.1 518.68 L553.6 518.68 L553.6 517.29 L554.1 517.29 L554.1 518.8 L554.6 518.8 L554.6 518.78 L555.1 518.78 L555.1 518.8 L555.6 518.8 L555.6 518.8 L556.1 518.8 L556.1 517.37 L556.6 517.37 L556.6 516.61 L557.1 516.61 L557.1 517.37 L557.6 517.37 L557.6 517.72 L558.1 517.72 L558.1 518.8 L558.6 518.8 L558.6 518.8 L559.1 518.8 L559.1 518.79 L559.6 518.79 L559.6 518.8 L560.1 518.8 L560.1 518.8 L560.6 518.8 L560.6 518.7 L561.1 518.7 L561.1 516.51 L561.6 516.51 L561.6 517.28 L562.1 517.28 L562.1 518.23 L562.6 518.23 L562.6 517.37 L563.1 517.37 L563.1 516.44 L563.6 516.44 L563.6 517.13 L564.1 517.13 L564.1 518.79 L564.6 518.79 L564.6 518.8 L565.1 518.8 L565.1 517.01 L565.6 517.01 L565.6 518.49 L566.1 518.49 L566.1 517.46 L566.6 517.46 L566.6 516.82 L567.1 516.82 L567.1 518.8 L567.6 518.8 L567.6 518.48 L568.1 518.48 L568.1 517.91 L568.6 517.91 L568.6 517.47 L569.1 517.47 L569.1 515.3 L569.6 515.3 L569.6 517.35 L570.1 517.35 L570.1 518.8 L570.6 518.8 L570.6 515.3 L571.1 515.3 L571.1 515.3 L571.6 515.3 L571.6 515.39 L572.1 515.39 L572.1 518.11 L572.6 518.11 L572.6 518.05 L573.1 518.05 L573.1 518.27 L573.6 518.27 L573.6 516.53 L574.1 516.53 L574.1 515.75 L574.6 515.75 L574.6 517.35 L575.1 517.35 L575.1 515.58 L575.6 515.58 L575.6 518.42 L576.1 518.42 L576.1 518.56 L576.6 518.56 L576.6 517.52 L577.1 517.52 L577.1 516.33 L577.6 516.33 L577.6 518.8 L578.1 518.8 L578.1 517.75 L578.6 517.75 L578.6 515.3 L579.1 515.3 L579.1 515.43 L579.6 515.43 L579.6 515.3 L580.1 515.3 L580.1 517.38 L580.6 517.38 L580.6 515.8 L581.1 515.8 L581.1 516.73 L581.6 516.73 L581.6 517.67 L582.1 517.67 L582.1 518.8 L582.6 518.8 L582.6 515.85 L583.1 515.85 L583.1 517.66 L583.6 517.66 L583.6 516.76 L584.1 516.76 L584.1 516.92 L584.6 516.92 L584.6 515.3 L585.1 515.3 L585.1 516.44 L585.6 516.44 L585.6 517.32 L586.1 517.32 L586.1 517.72 L586.6 517.72 L586.6 518.24 L587.1 518.24 L587.1 516.55 L587.6 516.55 L587.6 515.3 L588.1 515.3 L588.1 517.41 L588.6 517.41 L588.6 515.53 L589.1 515.53 L589.1 518.8 L589.6 518.8 L589.6 517.7 L590.1 517.7 L590.1 515.3 L590.6 515.3 L590.6 517.61 L591.1 517.61 L591.1 517.2 L591.6 517.2 L591.6 516.31 L592.1 516.31 L592.1 516.32 L592.6 516.32 L592.6 516.6 L593.1 516.6 L593.1 515.3 L593.6 515.3 L593.6 518.06 L594.1 518.06 L594.1 518.8 L594.6 518.8 L594.6 517.95 L595.1 517.95 L595.1 516.52 L595.6 516.52 L595.6 517.48 L596.1 517.48 L596.1 518.8 L596.6 518.8 L596.6 518.38 L597.1 518.38 L597.1 517.33 L597.6 517.33 L597.6 517.82 L598.1 517.82 L598.1 515.86 L598.6 515.86 L598.6 518.01 L599.1 518.01 L599.1 518.8 L599.6 518.8 L599.6 518.8 L600.1 518.8 L600.1 518.8 L600.6 518.8 L600.6 518.57 L601.1 518.57 L601.1 515.97 L601.6 515.97 L601.6 518.8 L602.1 518.8 L602.1 518.8 L602.6 518.8 L602.6 516.61 L603.1 516.61 L603.1 516.78 L603.6 516.78 L603.6 518.25 L604.1 518.25 L604.1 518.29 L604.6 518.29 L604.6 516.21 L605.1 516.21 L605.1 515.6 L605.6 515.6 L605.6 515.3 L606.1 515.3 L606.1 517.14 L606.6 517.14 L606.6 518.45 L607.1 518.45 L607.1 518.76 L607.6 518.76 L607.6 517.41 L608.1 517.41 L608.1 517.77 L608.6 517.77 L608.6 516.83 L609.1 516.83 L609.1 518.69 L609.6 518.69 L609.6 517.85 L610.1 517.85 L610.1 517.1 L610.6 517.1 L610.6 518.8 L611.1 518.8 L611.1 517.84 L611.6 517.84 L611.6 517.1 L612.1 517.1 L612.1 515.98 L612.6 515.98 L612.6 516.91 L613.1 516.91 L613.1 518.8 L613.6 518.8 L613.6 516.49 L613.8 516.49 L613.8 512.9 Z" fill="#1c65a0" stroke="none" stroke-width="1" />
<path d="M415.1 512.9 L415.1 510.83 L415.6 510.83 L415.6 512.9 L416.1 512.9 L416.1 512.9 L416.6 512.9 L416.6 510.52 L417.1 510.52 L417.1 512.9 L417.6 512.9 L417.6 512.9 L418.1 512.9 L418.1 512.9 L418.6 512.9 L418.6 512.89 L419.1 512.89 L419.1 512.9 L419.6 512.9 L419.6 512.9 L420.1 512.9 L420.1 510.52 L420.6 510.52 L420.6 512.2 L421.1 512.2 L421.1 509.91 L421.6 509.91 L421.6 512.9 L422.1 512.9 L422.1 512.9 L422.6 512.9 L422.6 512.9 L423.1 512.9 L423.1 511.91 L423.6 511.91 L423.6 512.9 L424.1 512.9 L424.1 510.04 L424.6 510.04 L424.6 512.9 L425.1 512.9 L425.1 510.45 L425.6 510.45 L425.6 510.12 L426.1 510.12 L426.1 512.9 L426.6 512.9 L426.6 512.9 L427.1 512.9 L427.1 512.9 L427.6 512.9 L427.6 512.9 L428.1 512.9 L428.1 512.79 L428.6 512.79 L428.6 512.9 L429.1 512.9 L429.1 492.22 L429.6 492.22 L429.6 487.63 L430.1 487.63 L430.1 494.33 L430.6 494.33 L430.6 495.77 L431.1 495.77 L431.1 490.95 L431.6 490.95 L431.6 493.79 L432.1 493.79 L432.1 496.29 L432.6 496.29 L432.6 491.84 L433.1 491.84 L433.1 486.6 L433.6 486.6 L433.6 487.8 L434.1 487.8 L434.1 489.77 L434.6 489.77 L434.6 489.09 L435.1 489.09 L435.1 486.77 L435.6 486.77 L435.6 482.67 L436.1 482.67 L436.1 486.21 L436.6 486.21 L436.6 489.4 L437.1 489.4 L437.1 485.9 L437.6 485.9 L437.6 483.44 L438.1 483.44 L438.1 486.69 L438.6 486.69 L438.6 487.13 L439.1 487.13 L439.1 485.67 L439.6 485.67 L439.6 483.62 L440.1 483.62 L440.1 488.24 L440.6 488.24 L440.6 493.44 L441.1 493.44 L441.1 491.92 L441.6 491.92 L441.6 489.93 L442.1 489.93 L442.1 485.04 L442.6 485.04 L442.6 481.76 L443.1 481.76 L443.1 485.18 L443.6 485.18 L443.6 490.44 L444.1 490.44 L444.1 493.89 L444.6 493.89 L444.6 496.19 L445.1 496.19 L445.1 511.89 L445.6 511.89 L445.6 510.98 L446.1 510.98 L446.1 505.54 L446.6 505.54 L446.6 508.78 L447.1 508.78 L447.1 511.98 L447.6 511.98 L447.6 509.77 L448.1 509.77 L448.1 509.17 L448.6 509.17 L448.6 507.87 L449.1 507.87 L449.1 509.46 L449.6 509.46 L449.6 506.38 L450.1 506.38 L450.1 506.89 L450.6 506.89 L450.6 503.16 L451.1 503.16 L451.1 505.66 L451.6 505.66 L451.6 507.28 L452.1 507.28 L452.1 505.59 L452.6 505.59 L452.6 506 L453.1 506 L453.1 509.49 L453.6 509.49 L453.6 507.7 L454.1 507.7 L454.1 509.97 L454.6 509.97 L454.6 507.04 L455.1 507.04 L455.1 509.52 L455.6 509.52 L455.6 504.55 L456.1 504.55 L456.1 510.57 L456.6 510.57 L456.6 509.08 L457.1 509.08 L457.1 506.36 L457.6 506.36 L457.6 505.73 L458.1 505.73 L458.1 509.13 L458.6 509.13 L458.6 505.48 L459.1 505.48 L459.1 502.89 L459.6 502.89 L459.6 510.47 L460.1 510.47 L460.1 511.29 L460.6 511.29 L460.6 508.65 L461.1 508.65 L461.1 511.5 L461.6 511.5 L461.6 503.27 L462.1 503.27 L462.1 506.75 L462.6 506.75 L462.6 508.19 L463.1 508.19 L463.1 510.65 L463.6 510.65 L463.6 510.24 L464.1 510.24 L464.1 506.58 L464.6 506.58 L464.6 507.79 L465.1 507.79 L465.1 506.12 L465.6 506.12 L465.6 507.88 L466.1 507.88 L466.1 508.43 L466.6 508.43 L466.6 508.52 L467.1 508.52 L467.1 508.68 L467.6 508.68 L467.6 508.38 L468.1 508.38 L468.1 507.16 L468.6 507.16 L468.6 505.98 L469.1 505.98 L469.1 508.23 L469.6 508.23 L469.6 510.75 L470.1 510.75 L470.1 511.19 L470.6 511.19 L470.6 511.91 L471.1 511.91 L471.1 512.4 L471.6 512.4 L471.6 511.31 L472.1 511.31 L472.1 511.62 L472.6 511.62 L472.6 506.49 L473.1 506.49 L473.1 509.27 L473.6 509.27 L473.6 512.12 L474.1 512.12 L474.1 503.37 L474.6 503.37 L474.6 509.38 L475.1 509.38 L475.1 507.53 L475.6 507.53 L475.6 503.05 L476.1 503.05 L476.1 505.38 L476.6 505.38 L476.6 509.45 L477.1 509.45 L477.1 509.19 L477.6 509.19 L477.6 510.47 L478.1 510.47 L478.1 511.08 L478.6 511.08 L478.6 512.6 L479.1 512.6 L479.1 510.13 L479.6 510.13 L479.6 512.6 L480.1 512.6 L480.1 510.46 L480.6 510.46 L480.6 509.15 L481.1 509.15 L481.1 508.74 L481.6 508.74 L481.6 512.59 L482.1 512.59 L482.1 509.28 L482.6 509.28 L482.6 511.01 L483.1 511.01 L483.1 505.25 L483.6 505.25 L483.6 510.44 L484.1 510.44 L484.1 506.11 L484.6 506.11 L484.6 509.49 L485.1 509.49 L485.1 510.13 L485.6 510.13 L485.6 509.35 L486.1 509.35 L486.1 512.6 L486.6 512.6 L486.6 511.9 L487.1 511.9 L487.1 511.1 L487.6 511.1 L487.6 509.83 L488.1 509.83 L488.1 510.54 L488.6 510.54 L488.6 506.48 L489.1 506.48 L489.1 504.57 L489.6 504.57 L489.6 505.23 L490.1 505.23 L490.1 508.03 L490.6 508.03 L490.6 507.8 L491.1 507.8 L491.1 504.77 L491.6 504.77 L491.6 504.2 L492.1 504.2 L492.1 506.19 L492.6 506.19 L492.6 503.2 L493.1 503.2 L493.1 507.31 L493.6 507.31 L493.6 507.22 L494.1 507.22 L494.1 508.59 L494.6 508.59 L494.6 509.58 L495.1 509.58 L495.1 512.41 L495.6 512.41 L495.6 512.6 L496.1 512.6 L496.1 512.6 L496.6 512.6 L496.6 510.87 L497.1 510.87 L497.1 509.79 L497.6 509.79 L497.6 507.5 L498.1 507.5 L498.1 510.87 L498.6 510.87 L498.6 507.38 L499.1 507.38 L499.1 511.24 L499.6 511.24 L499.6 505.91 L500.1 505.91 L500.1 512.9 L500.6 512.9 L500.6 510.71 L501.1 510.71 L501.1 512.32 L501.6 512.32 L501.6 510.98 L502.1 510.98 L502.1 511.25 L502.6 511.25 L502.6 512.75 L503.1 512.75 L503.1 511.91 L503.6 511.91 L503.6 512.09 L504.1 512.09 L504.1 511.86 L504.6 511.86 L504.6 512.08 L505.1 512.08 L505.1 511.71 L505.6 511.71 L505.6 511.63 L506.1 511.63 L506.1 512.9 L506.6 512.9 L506.6 511.85 L507.1 511.85 L507.1 512.9 L507.6 512.9 L507.6 512.9 L508.1 512.9 L508.1 512.9 L508.6 512.9 L508.6 512.9 L509.1 512.9 L509.1 512.9 L509.6 512.9 L509.6 512.9 L510.1 512.9 L510.1 512.04 L510.6 512.04 L510.6 511.46 L511.1 511.46 L511.1 512.81 L511.6 512.81 L511.6 511.23 L512.1 511.23 L512.1 512.19 L512.6 512.19 L512.6 512.9 L513.1 512.9 L513.1 512.9 L513.6 512.9 L513.6 512.42 L514.1 512.42 L514.1 512.56 L514.6 512.56 L514.6 512.24 L515.1 512.24 L515.1 509.43 L515.6 509.43 L515.6 510.62 L516.1 510.62 L516.1 512 L516.6 512 L516.6 512.9 L517.1 512.9 L517.1 512.9 L517.6 512.9 L517.6 512.9 L518.1 512.9 L518.1 512.9 L518.6 512.9 L518.6 512.9 L519.1 512.9 L519.1 512.9 L519.6 512.9 L519.6 512.9 L520.1 512.9 L520.1 510.64 L520.6 510.64 L520.6 512.18 L521.1 512.18 L521.1 511.44 L521.6 511.44 L521.6 511.81 L522.1 511.81 L522.1 512.9 L522.6 512.9 L522.6 512.43 L523.1 512.43 L523.1 512.89 L523.6 512.89 L523.6 512.9 L524.1 512.9 L524.1 512.68 L524.6 512.68 L524.6 512.9 L525.1 512.9 L525.1 511.69 L525.6 511.69 L525.6 511.68 L526.1 511.68 L526.1 512.4 L526.6 512.4 L526.6 511.05 L527.1 511.05 L527.1 512.9 L527.6 512.9 L527.6 512.9 L528.1 512.9 L528.1 512.9 L528.6 512.9 L528.6 512.9 L529.1 512.9 L529.1 512.88 L529.6 512.88 L529.6 512.9 L530.1 512.9 L530.1 508.14 L530.6 508.14 L530.6 495.4 L531.1 495.4 L531.1 495.4 L531.6 495.4 L531.6 512.9 L532.1 512.9 L532.1 512.9 L532.6 512.9 L532.6 511.89 L533.1 511.89 L533.1 511.95 L533.6 511.95 L533.6 510.59 L534.1 510.59 L534.1 511.33 L534.6 511.33 L534.6 511.74 L535.1 511.74 L535.1 512.06 L535.6 512.06 L535.6 511.82 L536.1 511.82 L536.1 512.46 L536.6 512.46 L536.6 512.9 L537.1 512.9 L537.1 512.9 L537.6 512.9 L537.6 512.9 L538.1 512.9 L538.1 512.9 L538.6 512.9 L538.6 512.7 L539.1 512.7 L539.1 512.11 L539.6 512.11 L539.6 511.26 L540.1 511.26 L540.1 512.61 L540.6 512.61 L540.6 512.9 L541.1 512.9 L541.1 512.9 L541.6 512.9 L541.6 512.9 L542.1 512.9 L542.1 512.9 L542.6 512.9 L542.6 507.79 L543.1 507.79 L543.1 512.9 L543.6 512.9 L543.6 506.57 L544.1 506.57 L544.1 510.97 L544.6 510.97 L544.6 512.79 L545.1 512.79 L545.1 512.9 L545.6 512.9 L545.6 512.62 L546.1 512.62 L546.1 512.31 L546.6 512.31 L546.6 512.26 L547.1 512.26 L547.1 512.9 L547.6 512.9 L547.6 512.9 L548.1 512.9 L548.1 511.55 L548.6 511.55 L548.6 512.27 L549.1 512.27 L549.1 511.42 L549.6 511.42 L549.6 512.21 L550.1 512.21 L550.1 512.18 L550.6 512.18 L550.6 512.14 L551.1 512.14 L551.1 512.69 L551.6 512.69 L551.6 511.36 L552.1 511.36 L552.1 511.32 L552.6 511.32 L552.6 512.22 L553.1 512.22 L553.1 512.27 L553.6 512.27 L553.6 510.83 L554.1 510.83 L554.1 512.9 L554.6 512.9 L554.6 511.82 L555.1 511.82 L555.1 511.16 L555.6 511.16 L555.6 510.5 L556.1 510.5 L556.1 510.43 L556.6 510.43 L556.6 512.69 L557.1 512.69 L557.1 511.73 L557.6 511.73 L557.6 512.62 L558.1 512.62 L558.1 511.7 L558.6 511.7 L558.6 506.58 L559.1 506.58 L559.1 511.47 L559.6 511.47 L559.6 512.87 L560.1 512.87 L560.1 512.43 L560.6 512.43 L560.6 511.94 L561.1 511.94 L561.1 511.78 L561.6 511.78 L561.6 511.36 L562.1 511.36 L562.1 510.3 L562.6 510.3 L562.6 512.78 L563.1 512.78 L563.1 512.5 L563.6 512.5 L563.6 512.9 L564.1 512.9 L564.1 512.37 L564.6 512.37 L564.6 510.85 L565.1 510.85 L565.1 511.81 L565.6 511.81 L565.6 511.09 L566.1 511.09 L566.1 510.01 L566.6 510.01 L566.6 511.31 L567.1 511.31 L567.1 511.22 L567.6 511.22 L567.6 511.15 L568.1 511.15 L568.1 512.85 L568.6 512.85 L568.6 512.9 L569.1 512.9 L569.1 512.9 L569.6 512.9 L569.6 512.9 L570.1 512.9 L570.1 512.21 L570.6 512.21 L570.6 512.9 L571.1 512.9 L571.1 512.9 L571.6 512.9 L571.6 512.9 L572.1 512.9 L572.1 512.9 L572.6 512.9 L572.6 512.9 L573.1 512.9 L573.1 512.84 L573.6 512.84 L573.6 512.9 L574.1 512.9 L574.1 512.9 L574.6 512.9 L574.6 512.9 L575.1 512.9 L575.1 512.62 L575.6 512.62 L575.6 512.78 L576.1 512.78 L576.1 512.3 L576.6 512.3 L576.6 512.54 L577.1 512.54 L577.1 512.44 L577.6 512.44 L577.6 512.46 L578.1 512.46 L578.1 510.42 L578.6 510.42 L578.6 509.8 L579.1 509.8 L579.1 510.55 L579.6 510.55 L579.6 512.9 L580.1 512.9 L580.1 512.31 L580.6 512.31 L580.6 511.04 L581.1 511.04 L581.1 511.61 L581.6 511.61 L581.6 512.9 L582.1 512.9 L582.1 512.9 L582.6 512.9 L582.6 510.07 L583.1 510.07 L583.1 511.98 L583.6 511.98 L583.6 512.9 L584.1 512.9 L584.1 512.9 L584.6 512.9 L584.6 511.7 L585.1 511.7 L585.1 506.28 L585.6 506.28 L585.6 512.9 L586.1 512.9 L586.1 512.9 L586.6 512.9 L586.6 512.9 L587.1 512.9 L587.1 512.9 L587.6 512.9 L587.6 512.13 L588.1 512.13 L588.1 511.21 L588.6 511.21 L588.6 511.76 L589.1 511.76 L589.1 512.31 L589.6 512.31 L589.6 512.59 L590.1 512.59 L590.1 512.8 L590.6 512.8 L590.6 512.9 L591.1 512.9 L591.1 512.9 L591.6 512.9 L591.6 512.9 L592.1 512.9 L592.1 511.34 L592.6 511.34 L592.6 510.34 L593.1 510.34 L593.1 506.68 L593.6 506.68 L593.6 511.76 L594.1 511.76 L594.1 512.62 L594.6 512.62 L594.6 512.41 L595.1 512.41 L595.1 511.11 L595.6 511.11 L595.6 511.08 L596.1 511.08 L596.1 511.05 L596.6 511.05 L596.6 511.35 L597.1 511.35 L597.1 511.33 L597.6 511.33 L597.6 512.87 L598.1 512.87 L598.1 511.87 L598.6 511.87 L598.6 512.9 L599.1 512.9 L599.1 512.76 L599.6 512.76 L599.6 512.23 L600.1 512.23 L600.1 511.99 L600.6 511.99 L600.6 512.9 L601.1 512.9 L601.1 512.09 L601.6 512.09 L601.6 512.9 L602.1 512.9 L602.1 512.9 L602.6 512.9 L602.6 512.9 L603.1 512.9 L603.1 512.9 L603.6 512.9 L603.6 512.9 L604.1 512.9 L604.1 512.76 L604.6 512.76 L604.6 512.75 L605.1 512.75 L605.1 512.65 L605.6 512.65 L605.6 512.9 L606.1 512.9 L606.1 512.14 L606.6 512.14 L606.6 512.33 L607.1 512.33 L607.1 512.71 L607.6 512.71 L607.6 512.9 L608.1 512.9 L608.1 512.9 L608.6 512.9 L608.6 512.9 L609.1 512.9 L609.1 512.9 L609.6 512.9 L609.6 512.9 L610.1 512.9 L610.1 511.68 L610.6 511.68 L610.6 508.39 L611.1 508.39 L611.1 512.52 L611.6 512.52 L611.6 512.9 L612.1 512.9 L612.1 511.82 L612.6 511.82 L612.6 511.31 L613.1 511.31 L613.1 511.91 L613.6 511.91 L613.6 512.77 L613.8 512.77 L613.8 512.9 Z" fill="#d05f60" stroke="none" stroke-width="1" />
<rect x="415.1" y="521.2" width="198.7" height="3.4" fill="#e2e2e2" />
<rect x="432.5" y="521.2" width="8.5" height="3.4" fill="#474747" />
<rect x="444.2" y="521.2" width="32.2" height="3.4" fill="#474747" />
<rect x="477.7" y="521.2" width="4.2" height="3.4" fill="#474747" />
<rect x="533" y="521" width="1.2" height="3.8" fill="#474747" />
<line x1="415.1" y1="527.2" x2="613.8" y2="527.2" stroke="#231f20" stroke-width="1.4" />
<line x1="415.8" y1="527.2" x2="415.8" y2="524.8" stroke="#231f20" stroke-width="1" />
<line x1="441.9" y1="527.2" x2="441.9" y2="524.8" stroke="#231f20" stroke-width="1" />
<line x1="468.5" y1="527.2" x2="468.5" y2="524.8" stroke="#231f20" stroke-width="1" />
<line x1="495.1" y1="527.2" x2="495.1" y2="524.8" stroke="#231f20" stroke-width="1" />
<line x1="521.7" y1="527.2" x2="521.7" y2="524.8" stroke="#231f20" stroke-width="1" />
<line x1="548.3" y1="527.2" x2="548.3" y2="524.8" stroke="#231f20" stroke-width="1" />
<line x1="574.9" y1="527.2" x2="574.9" y2="524.8" stroke="#231f20" stroke-width="1" />
<line x1="601.5" y1="527.2" x2="601.5" y2="524.8" stroke="#231f20" stroke-width="1" />
<text x="415.3" y="536" font-size="8.1" font-weight="normal" font-style="normal" text-anchor="middle" fill="#231f20" >0</text>
<text x="468.4" y="536" font-size="8.1" font-weight="normal" font-style="normal" text-anchor="middle" fill="#231f20" >5</text>
<text x="522" y="536" font-size="8.1" font-weight="normal" font-style="normal" text-anchor="middle" fill="#231f20" >10</text>
<text x="572" y="536" font-size="8.1" font-weight="normal" font-style="normal" text-anchor="start" fill="#231f20" >15 Mb</text>
<path d="M411.6 554.5 H412.8 V589.1 H411.6" fill="none" stroke="#231f20" stroke-width="1.4" />
<text x="408.6" y="560.1" font-size="7.6" font-weight="normal" font-style="normal" text-anchor="end" fill="#231f20" >1</text>
<text x="408.6" y="589.7" font-size="7.6" font-weight="normal" font-style="normal" text-anchor="end" fill="#231f20" >-0.2</text>
<text x="415" y="552.1" font-size="7.9" font-weight="normal" font-style="normal" text-anchor="start" fill="#231f20" >Chr 3</text>
<text x="663.3" y="558.7" font-size="10.7" font-weight="bold" font-style="normal" text-anchor="end" fill="#231f20" >H3.1 knockdown</text>
<text x="663.3" y="569.9" font-size="8.6" font-weight="normal" font-style="normal" text-anchor="end" fill="#231f20" >Jiang and Berger, (2017)</text>
<path d="M415.1 584.2 L415.1 585.56 L415.6 585.56 L415.6 585.13 L416.1 585.13 L416.1 585.87 L416.6 585.87 L416.6 585.02 L417.1 585.02 L417.1 585.54 L417.6 585.54 L417.6 585.96 L418.1 585.96 L418.1 585.33 L418.6 585.33 L418.6 585.56 L419.1 585.56 L419.1 585.17 L419.6 585.17 L419.6 584.86 L420.1 584.86 L420.1 585.68 L420.6 585.68 L420.6 585.82 L421.1 585.82 L421.1 585.47 L421.6 585.47 L421.6 584.94 L422.1 584.94 L422.1 585.14 L422.6 585.14 L422.6 585.88 L423.1 585.88 L423.1 584.95 L423.6 584.95 L423.6 585.09 L424.1 585.09 L424.1 584.81 L424.6 584.81 L424.6 585.17 L425.1 585.17 L425.1 585.02 L425.6 585.02 L425.6 585.85 L426.1 585.85 L426.1 585.47 L426.6 585.47 L426.6 584.94 L427.1 584.94 L427.1 584.87 L427.6 584.87 L427.6 585.04 L428.1 585.04 L428.1 585.58 L428.6 585.58 L428.6 585.37 L429.1 585.37 L429.1 585.45 L429.6 585.45 L429.6 585.17 L430.1 585.17 L430.1 585.26 L430.6 585.26 L430.6 584.93 L431.1 584.93 L431.1 584.82 L431.6 584.82 L431.6 585.33 L432.1 585.33 L432.1 585.87 L432.6 585.87 L432.6 585 L433.1 585 L433.1 585.53 L433.6 585.53 L433.6 585.52 L434.1 585.52 L434.1 585.36 L434.6 585.36 L434.6 585.41 L435.1 585.41 L435.1 585.85 L435.6 585.85 L435.6 585.38 L436.1 585.38 L436.1 585.76 L436.6 585.76 L436.6 584.93 L437.1 584.93 L437.1 585.65 L437.6 585.65 L437.6 585.14 L438.1 585.14 L438.1 585.71 L438.6 585.71 L438.6 585.8 L439.1 585.8 L439.1 584.2 L439.6 584.2 L439.6 584.2 L440.1 584.2 L440.1 584.2 L440.6 584.2 L440.6 584.2 L441.1 584.2 L441.1 584.2 L441.6 584.2 L441.6 584.2 L442.1 584.2 L442.1 584.2 L442.6 584.2 L442.6 584.2 L443.1 584.2 L443.1 584.2 L443.6 584.2 L443.6 584.2 L444.1 584.2 L444.1 584.2 L444.6 584.2 L444.6 584.2 L445.1 584.2 L445.1 584.2 L445.6 584.2 L445.6 584.2 L446.1 584.2 L446.1 584.2 L446.6 584.2 L446.6 585.04 L447.1 585.04 L447.1 585.94 L447.6 585.94 L447.6 585.73 L448.1 585.73 L448.1 585.99 L448.6 585.99 L448.6 584.81 L449.1 584.81 L449.1 585.3 L449.6 585.3 L449.6 585.78 L450.1 585.78 L450.1 584.82 L450.6 584.82 L450.6 585.75 L451.1 585.75 L451.1 584.94 L451.6 584.94 L451.6 585.76 L452.1 585.76 L452.1 585.84 L452.6 585.84 L452.6 585.71 L453.1 585.71 L453.1 584.82 L453.6 584.82 L453.6 585.54 L454.1 585.54 L454.1 584.95 L454.6 584.95 L454.6 585.21 L455.1 585.21 L455.1 585.34 L455.6 585.34 L455.6 584.9 L456.1 584.9 L456.1 584.95 L456.6 584.95 L456.6 584.96 L457.1 584.96 L457.1 585.45 L457.6 585.45 L457.6 585.57 L458.1 585.57 L458.1 584.83 L458.6 584.83 L458.6 585.23 L459.1 585.23 L459.1 585.17 L459.6 585.17 L459.6 584.81 L460.1 584.81 L460.1 585.26 L460.6 585.26 L460.6 585.67 L461.1 585.67 L461.1 584.85 L461.6 584.85 L461.6 585.97 L462.1 585.97 L462.1 584.94 L462.6 584.94 L462.6 585.57 L463.1 585.57 L463.1 585.2 L463.6 585.2 L463.6 584.85 L464.1 584.85 L464.1 585.75 L464.6 585.75 L464.6 585.75 L465.1 585.75 L465.1 585.85 L465.6 585.85 L465.6 585.03 L466.1 585.03 L466.1 585.86 L466.6 585.86 L466.6 585.78 L467.1 585.78 L467.1 585.68 L467.6 585.68 L467.6 585.55 L468.1 585.55 L468.1 585.6 L468.6 585.6 L468.6 585.76 L469.1 585.76 L469.1 585.28 L469.6 585.28 L469.6 584.99 L470.1 584.99 L470.1 584.84 L470.6 584.84 L470.6 585.26 L471.1 585.26 L471.1 585.01 L471.6 585.01 L471.6 585.71 L472.1 585.71 L472.1 585.43 L472.6 585.43 L472.6 585.9 L473.1 585.9 L473.1 584.91 L473.6 584.91 L473.6 585.99 L474.1 585.99 L474.1 585.44 L474.6 585.44 L474.6 584.2 L475.1 584.2 L475.1 584.2 L475.6 584.2 L475.6 584.2 L476.1 584.2 L476.1 584.2 L476.6 584.2 L476.6 584.2 L477.1 584.2 L477.1 584.2 L477.6 584.2 L477.6 584.2 L478.1 584.2 L478.1 584.2 L478.6 584.2 L478.6 584.2 L479.1 584.2 L479.1 585.45 L479.6 585.45 L479.6 585.35 L480.1 585.35 L480.1 585.08 L480.6 585.08 L480.6 585.17 L481.1 585.17 L481.1 585.16 L481.6 585.16 L481.6 585.91 L482.1 585.91 L482.1 585.77 L482.6 585.77 L482.6 585.34 L483.1 585.34 L483.1 585.09 L483.6 585.09 L483.6 585.85 L484.1 585.85 L484.1 585.22 L484.6 585.22 L484.6 585.18 L485.1 585.18 L485.1 585.14 L485.6 585.14 L485.6 585.58 L486.1 585.58 L486.1 585.79 L486.6 585.79 L486.6 585.58 L487.1 585.58 L487.1 585.15 L487.6 585.15 L487.6 585.88 L488.1 585.88 L488.1 584.87 L488.6 584.87 L488.6 585.18 L489.1 585.18 L489.1 585.32 L489.6 585.32 L489.6 585.23 L490.1 585.23 L490.1 585.09 L490.6 585.09 L490.6 585.46 L491.1 585.46 L491.1 585.6 L491.6 585.6 L491.6 585.99 L492.1 585.99 L492.1 585.2 L492.6 585.2 L492.6 585.95 L493.1 585.95 L493.1 584.96 L493.6 584.96 L493.6 585.77 L494.1 585.77 L494.1 585.16 L494.6 585.16 L494.6 585.19 L495.1 585.19 L495.1 585.17 L495.6 585.17 L495.6 584.88 L496.1 584.88 L496.1 585.5 L496.6 585.5 L496.6 585.84 L497.1 585.84 L497.1 585.59 L497.6 585.59 L497.6 585 L498.1 585 L498.1 585.15 L498.6 585.15 L498.6 585.44 L499.1 585.44 L499.1 585.57 L499.6 585.57 L499.6 584.81 L500.1 584.81 L500.1 585.03 L500.6 585.03 L500.6 585.67 L501.1 585.67 L501.1 585.18 L501.6 585.18 L501.6 585.22 L502.1 585.22 L502.1 585.01 L502.6 585.01 L502.6 584.9 L503.1 584.9 L503.1 585.69 L503.6 585.69 L503.6 585.72 L504.1 585.72 L504.1 585.28 L504.6 585.28 L504.6 585.58 L505.1 585.58 L505.1 585.66 L505.6 585.66 L505.6 585.92 L506.1 585.92 L506.1 585.85 L506.6 585.85 L506.6 585.26 L507.1 585.26 L507.1 585.24 L507.6 585.24 L507.6 585.85 L508.1 585.85 L508.1 585.89 L508.6 585.89 L508.6 585.4 L509.1 585.4 L509.1 585.57 L509.6 585.57 L509.6 585.23 L510.1 585.23 L510.1 585.71 L510.6 585.71 L510.6 585.05 L511.1 585.05 L511.1 585.46 L511.6 585.46 L511.6 585.1 L512.1 585.1 L512.1 584.86 L512.6 584.86 L512.6 585.46 L513.1 585.46 L513.1 585.39 L513.6 585.39 L513.6 585.23 L514.1 585.23 L514.1 585.43 L514.6 585.43 L514.6 585.22 L515.1 585.22 L515.1 585.04 L515.6 585.04 L515.6 585.99 L516.1 585.99 L516.1 585.29 L516.6 585.29 L516.6 585.66 L517.1 585.66 L517.1 585.47 L517.6 585.47 L517.6 584.92 L518.1 584.92 L518.1 585.27 L518.6 585.27 L518.6 585.24 L519.1 585.24 L519.1 585.07 L519.6 585.07 L519.6 585 L520.1 585 L520.1 585.46 L520.6 585.46 L520.6 585.01 L521.1 585.01 L521.1 585.93 L521.6 585.93 L521.6 585.28 L522.1 585.28 L522.1 585.39 L522.6 585.39 L522.6 585.77 L523.1 585.77 L523.1 585.67 L523.6 585.67 L523.6 585.26 L524.1 585.26 L524.1 585.78 L524.6 585.78 L524.6 585.84 L525.1 585.84 L525.1 585.21 L525.6 585.21 L525.6 585.54 L526.1 585.54 L526.1 585.25 L526.6 585.25 L526.6 585.02 L527.1 585.02 L527.1 585.17 L527.6 585.17 L527.6 585.94 L528.1 585.94 L528.1 585.62 L528.6 585.62 L528.6 584.2 L529.1 584.2 L529.1 584.2 L529.6 584.2 L529.6 584.2 L530.1 584.2 L530.1 584.2 L530.6 584.2 L530.6 584.2 L531.1 584.2 L531.1 584.2 L531.6 584.2 L531.6 584.2 L532.1 584.2 L532.1 584.2 L532.6 584.2 L532.6 584.2 L533.1 584.2 L533.1 584.2 L533.6 584.2 L533.6 584.2 L534.1 584.2 L534.1 584.2 L534.6 584.2 L534.6 584.2 L535.1 584.2 L535.1 584.2 L535.6 584.2 L535.6 584.2 L536.1 584.2 L536.1 584.2 L536.6 584.2 L536.6 584.2 L537.1 584.2 L537.1 584.2 L537.6 584.2 L537.6 584.2 L538.1 584.2 L538.1 584.2 L538.6 584.2 L538.6 584.2 L539.1 584.2 L539.1 584.2 L539.6 584.2 L539.6 584.2 L540.1 584.2 L540.1 584.2 L540.6 584.2 L540.6 584.2 L541.1 584.2 L541.1 585.1 L541.6 585.1 L541.6 584.46 L542.1 584.46 L542.1 584.75 L542.6 584.75 L542.6 584.41 L543.1 584.41 L543.1 584.96 L543.6 584.96 L543.6 584.62 L544.1 584.62 L544.1 585.18 L544.6 585.18 L544.6 585.19 L545.1 585.19 L545.1 585 L545.6 585 L545.6 585.02 L546.1 585.02 L546.1 585.11 L546.6 585.11 L546.6 585.03 L547.1 585.03 L547.1 585 L547.6 585 L547.6 585.05 L548.1 585.05 L548.1 584.54 L548.6 584.54 L548.6 584.77 L549.1 584.77 L549.1 585.15 L549.6 585.15 L549.6 584.51 L550.1 584.51 L550.1 584.82 L550.6 584.82 L550.6 585.13 L551.1 585.13 L551.1 584.54 L551.6 584.54 L551.6 584.77 L552.1 584.77 L552.1 584.75 L552.6 584.75 L552.6 584.69 L553.1 584.69 L553.1 584.94 L553.6 584.94 L553.6 584.86 L554.1 584.86 L554.1 585.12 L554.6 585.12 L554.6 584.96 L555.1 584.96 L555.1 584.69 L555.6 584.69 L555.6 584.42 L556.1 584.42 L556.1 584.69 L556.6 584.69 L556.6 584.67 L557.1 584.67 L557.1 584.7 L557.6 584.7 L557.6 584.62 L558.1 584.62 L558.1 585.09 L558.6 585.09 L558.6 584.49 L559.1 584.49 L559.1 584.67 L559.6 584.67 L559.6 584.66 L560.1 584.66 L560.1 585.19 L560.6 585.19 L560.6 584.88 L561.1 584.88 L561.1 585.19 L561.6 585.19 L561.6 584.51 L562.1 584.51 L562.1 585.02 L562.6 585.02 L562.6 585.01 L563.1 585.01 L563.1 585.01 L563.6 585.01 L563.6 584.99 L564.1 584.99 L564.1 585.16 L564.6 585.16 L564.6 585.15 L565.1 585.15 L565.1 584.88 L565.6 584.88 L565.6 584.73 L566.1 584.73 L566.1 585.16 L566.6 585.16 L566.6 584.51 L567.1 584.51 L567.1 585.07 L567.6 585.07 L567.6 584.62 L568.1 584.62 L568.1 584.73 L568.6 584.73 L568.6 584.58 L569.1 584.58 L569.1 585.13 L569.6 585.13 L569.6 585.02 L570.1 585.02 L570.1 584.5 L570.6 584.5 L570.6 584.56 L571.1 584.56 L571.1 584.59 L571.6 584.59 L571.6 584.7 L572.1 584.7 L572.1 585.04 L572.6 585.04 L572.6 584.65 L573.1 584.65 L573.1 584.82 L573.6 584.82 L573.6 584.45 L574.1 584.45 L574.1 585.04 L574.6 585.04 L574.6 584.77 L575.1 584.77 L575.1 584.91 L575.6 584.91 L575.6 584.48 L576.1 584.48 L576.1 584.71 L576.6 584.71 L576.6 584.59 L577.1 584.59 L577.1 584.41 L577.6 584.41 L577.6 584.76 L578.1 584.76 L578.1 584.63 L578.6 584.63 L578.6 584.53 L579.1 584.53 L579.1 584.63 L579.6 584.63 L579.6 585.14 L580.1 585.14 L580.1 585.08 L580.6 585.08 L580.6 584.43 L581.1 584.43 L581.1 585.06 L581.6 585.06 L581.6 584.98 L582.1 584.98 L582.1 585.19 L582.6 585.19 L582.6 585.04 L583.1 585.04 L583.1 584.75 L583.6 584.75 L583.6 585.08 L584.1 585.08 L584.1 584.43 L584.6 584.43 L584.6 585.14 L585.1 585.14 L585.1 585.15 L585.6 585.15 L585.6 584.96 L586.1 584.96 L586.1 584.64 L586.6 584.64 L586.6 584.65 L587.1 584.65 L587.1 584.65 L587.6 584.65 L587.6 584.62 L588.1 584.62 L588.1 584.99 L588.6 584.99 L588.6 584.67 L589.1 584.67 L589.1 585.1 L589.6 585.1 L589.6 584.87 L590.1 584.87 L590.1 585.88 L590.6 585.88 L590.6 585.44 L591.1 585.44 L591.1 585.8 L591.6 585.8 L591.6 585.43 L592.1 585.43 L592.1 585.11 L592.6 585.11 L592.6 584.92 L593.1 584.92 L593.1 585.29 L593.6 585.29 L593.6 585.94 L594.1 585.94 L594.1 584.93 L594.6 584.93 L594.6 585.56 L595.1 585.56 L595.1 585.55 L595.6 585.55 L595.6 585.77 L596.1 585.77 L596.1 585.51 L596.6 585.51 L596.6 585.94 L597.1 585.94 L597.1 584.93 L597.6 584.93 L597.6 585.28 L598.1 585.28 L598.1 585.4 L598.6 585.4 L598.6 585.94 L599.1 585.94 L599.1 585.45 L599.6 585.45 L599.6 585.58 L600.1 585.58 L600.1 585.6 L600.6 585.6 L600.6 585.54 L601.1 585.54 L601.1 585.91 L601.6 585.91 L601.6 584.83 L602.1 584.83 L602.1 585 L602.6 585 L602.6 585.58 L603.1 585.58 L603.1 585.01 L603.6 585.01 L603.6 585.42 L604.1 585.42 L604.1 585.36 L604.6 585.36 L604.6 585.99 L605.1 585.99 L605.1 585.75 L605.6 585.75 L605.6 585.95 L606.1 585.95 L606.1 585.1 L606.6 585.1 L606.6 585.79 L607.1 585.79 L607.1 585.44 L607.6 585.44 L607.6 585.11 L608.1 585.11 L608.1 585.21 L608.6 585.21 L608.6 585.45 L609.1 585.45 L609.1 585.41 L609.6 585.41 L609.6 585.02 L610.1 585.02 L610.1 585.6 L610.6 585.6 L610.6 585.48 L611.1 585.48 L611.1 585.8 L611.6 585.8 L611.6 585.12 L612.1 585.12 L612.1 585.03 L612.6 585.03 L612.6 585.79 L613.1 585.79 L613.1 584.98 L613.6 584.98 L613.6 585.52 L614.1 585.52 L614.1 585.21 L614.6 585.21 L614.6 585.67 L615.1 585.67 L615.1 584.9 L615.6 584.9 L615.6 585.49 L616.1 585.49 L616.1 584.2 L616.6 584.2 L616.6 584.2 L617.1 584.2 L617.1 584.2 L617.6 584.2 L617.6 584.2 L618.1 584.2 L618.1 584.2 L618.6 584.2 L618.6 584.2 L619.1 584.2 L619.1 584.2 L619.6 584.2 L619.6 584.2 L620.1 584.2 L620.1 584.2 L620.6 584.2 L620.6 584.2 L621.1 584.2 L621.1 584.2 L621.6 584.2 L621.6 584.2 L622.1 584.2 L622.1 585.86 L622.6 585.86 L622.6 585.82 L623.1 585.82 L623.1 585.16 L623.6 585.16 L623.6 585.36 L624.1 585.36 L624.1 585.04 L624.6 585.04 L624.6 585.93 L625.1 585.93 L625.1 584.81 L625.6 584.81 L625.6 585.56 L626.1 585.56 L626.1 585.74 L626.6 585.74 L626.6 585.42 L627.1 585.42 L627.1 585.27 L627.6 585.27 L627.6 585.41 L628.1 585.41 L628.1 585.36 L628.6 585.36 L628.6 585.08 L629.1 585.08 L629.1 584.98 L629.6 584.98 L629.6 585.35 L630.1 585.35 L630.1 585.41 L630.6 585.41 L630.6 585.23 L631.1 585.23 L631.1 585.72 L631.6 585.72 L631.6 584.2 L632.1 584.2 L632.1 584.2 L632.6 584.2 L632.6 584.2 L633.1 584.2 L633.1 584.2 L633.6 584.2 L633.6 584.2 L634.1 584.2 L634.1 584.2 L634.6 584.2 L634.6 584.2 L635.1 584.2 L635.1 584.2 L635.6 584.2 L635.6 584.2 L636.1 584.2 L636.1 584.2 L636.6 584.2 L636.6 584.2 L637.1 584.2 L637.1 584.2 L637.6 584.2 L637.6 584.2 L638.1 584.2 L638.1 584.2 L638.6 584.2 L638.6 584.2 L639.1 584.2 L639.1 584.2 L639.6 584.2 L639.6 584.2 L640.1 584.2 L640.1 584.2 L640.6 584.2 L640.6 584.2 L641.1 584.2 L641.1 584.2 L641.6 584.2 L641.6 584.2 L642.1 584.2 L642.1 584.2 L642.6 584.2 L642.6 584.2 L643.1 584.2 L643.1 584.2 L643.6 584.2 L643.6 584.2 L644.1 584.2 L644.1 584.2 L644.6 584.2 L644.6 584.2 L645.1 584.2 L645.1 585.32 L645.6 585.32 L645.6 585.55 L646.1 585.55 L646.1 585.28 L646.6 585.28 L646.6 585.71 L647.1 585.71 L647.1 585.41 L647.6 585.41 L647.6 585.98 L648.1 585.98 L648.1 585.91 L648.6 585.91 L648.6 585.07 L649.1 585.07 L649.1 585.19 L649.6 585.19 L649.6 585.27 L650.1 585.27 L650.1 584.93 L650.6 584.93 L650.6 585.63 L651.1 585.63 L651.1 584.96 L651.6 584.96 L651.6 585.42 L652.1 585.42 L652.1 585.93 L652.6 585.93 L652.6 584.99 L653.1 584.99 L653.1 585.04 L653.6 585.04 L653.6 585.45 L654.1 585.45 L654.1 585.97 L654.6 585.97 L654.6 585.22 L655.1 585.22 L655.1 584.92 L655.6 584.92 L655.6 585.85 L656.1 585.85 L656.1 585.02 L656.6 585.02 L656.6 585.62 L657.1 585.62 L657.1 585.61 L657.6 585.61 L657.6 585.2 L658.1 585.2 L658.1 585.03 L658.6 585.03 L658.6 585.64 L659.1 585.64 L659.1 585.76 L659.6 585.76 L659.6 585.6 L660.1 585.6 L660.1 585.65 L660.6 585.65 L660.6 585.36 L661.1 585.36 L661.1 585.61 L661.6 585.61 L661.6 585.05 L662.1 585.05 L662.1 585.8 L662.6 585.8 L662.6 585.91 L663.1 585.91 L663.1 585.32 L663.3 585.32 L663.3 584.2 Z" fill="#1c65a0" stroke="none" stroke-width="1" />
<path d="M415.1 584.2 L415.1 584.2 L415.6 584.2 L415.6 584.2 L416.1 584.2 L416.1 584.2 L416.6 584.2 L416.6 584.2 L417.1 584.2 L417.1 584.2 L417.6 584.2 L417.6 584.2 L418.1 584.2 L418.1 584.2 L418.6 584.2 L418.6 584.2 L419.1 584.2 L419.1 584.2 L419.6 584.2 L419.6 584.2 L420.1 584.2 L420.1 584.2 L420.6 584.2 L420.6 584.2 L421.1 584.2 L421.1 584.2 L421.6 584.2 L421.6 584.2 L422.1 584.2 L422.1 583.42 L422.6 583.42 L422.6 584.2 L423.1 584.2 L423.1 584.2 L423.6 584.2 L423.6 584.2 L424.1 584.2 L424.1 584.2 L424.6 584.2 L424.6 584.2 L425.1 584.2 L425.1 584.2 L425.6 584.2 L425.6 584.17 L426.1 584.17 L426.1 584.2 L426.6 584.2 L426.6 584.08 L427.1 584.08 L427.1 584.2 L427.6 584.2 L427.6 584.2 L428.1 584.2 L428.1 584.2 L428.6 584.2 L428.6 584.2 L429.1 584.2 L429.1 584.2 L429.6 584.2 L429.6 584.2 L430.1 584.2 L430.1 583.82 L430.6 583.82 L430.6 584.2 L431.1 584.2 L431.1 584.2 L431.6 584.2 L431.6 584.2 L432.1 584.2 L432.1 584.2 L432.6 584.2 L432.6 584.2 L433.1 584.2 L433.1 584.2 L433.6 584.2 L433.6 584.13 L434.1 584.13 L434.1 584.2 L434.6 584.2 L434.6 584.2 L435.1 584.2 L435.1 584.2 L435.6 584.2 L435.6 584.2 L436.1 584.2 L436.1 583.88 L436.6 583.88 L436.6 584.2 L437.1 584.2 L437.1 584.2 L437.6 584.2 L437.6 584.2 L438.1 584.2 L438.1 584.2 L438.6 584.2 L438.6 584.2 L439.1 584.2 L439.1 569.31 L439.6 569.31 L439.6 568.7 L440.1 568.7 L440.1 568.52 L440.6 568.52 L440.6 568.61 L441.1 568.61 L441.1 568.8 L441.6 568.8 L441.6 569.06 L442.1 569.06 L442.1 569.18 L442.6 569.18 L442.6 568.64 L443.1 568.64 L443.1 569 L443.6 569 L443.6 568.85 L444.1 568.85 L444.1 569.64 L444.6 569.64 L444.6 569.85 L445.1 569.85 L445.1 569.57 L445.6 569.57 L445.6 569.07 L446.1 569.07 L446.1 584.2 L446.6 584.2 L446.6 584.2 L447.1 584.2 L447.1 584.2 L447.6 584.2 L447.6 583.46 L448.1 583.46 L448.1 584.2 L448.6 584.2 L448.6 584.2 L449.1 584.2 L449.1 584.2 L449.6 584.2 L449.6 584.2 L450.1 584.2 L450.1 584.17 L450.6 584.17 L450.6 584.2 L451.1 584.2 L451.1 584.2 L451.6 584.2 L451.6 584.2 L452.1 584.2 L452.1 584.2 L452.6 584.2 L452.6 584.2 L453.1 584.2 L453.1 584.2 L453.6 584.2 L453.6 583.51 L454.1 583.51 L454.1 584.2 L454.6 584.2 L454.6 584.2 L455.1 584.2 L455.1 584.2 L455.6 584.2 L455.6 584.2 L456.1 584.2 L456.1 584.2 L456.6 584.2 L456.6 583.87 L457.1 583.87 L457.1 584.2 L457.6 584.2 L457.6 584.2 L458.1 584.2 L458.1 584.2 L458.6 584.2 L458.6 583.93 L459.1 583.93 L459.1 584.2 L459.6 584.2 L459.6 584.2 L460.1 584.2 L460.1 584.2 L460.6 584.2 L460.6 584.2 L461.1 584.2 L461.1 584.2 L461.6 584.2 L461.6 584.2 L462.1 584.2 L462.1 584.2 L462.6 584.2 L462.6 584.2 L463.1 584.2 L463.1 584.2 L463.6 584.2 L463.6 584.2 L464.1 584.2 L464.1 584.2 L464.6 584.2 L464.6 584.2 L465.1 584.2 L465.1 584.2 L465.6 584.2 L465.6 583.7 L466.1 583.7 L466.1 584.2 L466.6 584.2 L466.6 584.2 L467.1 584.2 L467.1 584.2 L467.6 584.2 L467.6 584.2 L468.1 584.2 L468.1 584.2 L468.6 584.2 L468.6 584.2 L469.1 584.2 L469.1 584.2 L469.6 584.2 L469.6 583.59 L470.1 583.59 L470.1 584.2 L470.6 584.2 L470.6 584.2 L471.1 584.2 L471.1 584.2 L471.6 584.2 L471.6 584.2 L472.1 584.2 L472.1 584.09 L472.6 584.09 L472.6 584.2 L473.1 584.2 L473.1 584.2 L473.6 584.2 L473.6 584.2 L474.1 584.2 L474.1 584.2 L474.6 584.2 L474.6 568.83 L475.1 568.83 L475.1 568.52 L475.6 568.52 L475.6 568.21 L476.1 568.21 L476.1 567.91 L476.6 567.91 L476.6 568.66 L477.1 568.66 L477.1 568.64 L477.6 568.64 L477.6 568.93 L478.1 568.93 L478.1 584.2 L478.6 584.2 L478.6 584.2 L479.1 584.2 L479.1 584.2 L479.6 584.2 L479.6 584.2 L480.1 584.2 L480.1 584.2 L480.6 584.2 L480.6 584.2 L481.1 584.2 L481.1 584.2 L481.6 584.2 L481.6 584.2 L482.1 584.2 L482.1 584.2 L482.6 584.2 L482.6 584.2 L483.1 584.2 L483.1 584.2 L483.6 584.2 L483.6 584.2 L484.1 584.2 L484.1 584.2 L484.6 584.2 L484.6 584.18 L485.1 584.18 L485.1 584.2 L485.6 584.2 L485.6 584.2 L486.1 584.2 L486.1 584.2 L486.6 584.2 L486.6 584.2 L487.1 584.2 L487.1 584.2 L487.6 584.2 L487.6 583.57 L488.1 583.57 L488.1 583.63 L488.6 583.63 L488.6 584.2 L489.1 584.2 L489.1 584.2 L489.6 584.2 L489.6 584.2 L490.1 584.2 L490.1 584.2 L490.6 584.2 L490.6 584.19 L491.1 584.19 L491.1 584.2 L491.6 584.2 L491.6 584.2 L492.1 584.2 L492.1 583.85 L492.6 583.85 L492.6 584.2 L493.1 584.2 L493.1 584.2 L493.6 584.2 L493.6 584.2 L494.1 584.2 L494.1 584.2 L494.6 584.2 L494.6 584.2 L495.1 584.2 L495.1 584.2 L495.6 584.2 L495.6 584.2 L496.1 584.2 L496.1 584.2 L496.6 584.2 L496.6 584.2 L497.1 584.2 L497.1 584.2 L497.6 584.2 L497.6 584.2 L498.1 584.2 L498.1 584.2 L498.6 584.2 L498.6 584.2 L499.1 584.2 L499.1 584.2 L499.6 584.2 L499.6 584.2 L500.1 584.2 L500.1 584.2 L500.6 584.2 L500.6 584.2 L501.1 584.2 L501.1 584.2 L501.6 584.2 L501.6 584.2 L502.1 584.2 L502.1 584.2 L502.6 584.2 L502.6 584.2 L503.1 584.2 L503.1 584.2 L503.6 584.2 L503.6 584.2 L504.1 584.2 L504.1 584.2 L504.6 584.2 L504.6 584.2 L505.1 584.2 L505.1 584.2 L505.6 584.2 L505.6 584.2 L506.1 584.2 L506.1 584.2 L506.6 584.2 L506.6 584.2 L507.1 584.2 L507.1 584.2 L507.6 584.2 L507.6 584.2 L508.1 584.2 L508.1 584.2 L508.6 584.2 L508.6 584.2 L509.1 584.2 L509.1 584.2 L509.6 584.2 L509.6 584.2 L510.1 584.2 L510.1 584.2 L510.6 584.2 L510.6 584.2 L511.1 584.2 L511.1 584.11 L511.6 584.11 L511.6 584.2 L512.1 584.2 L512.1 584.2 L512.6 584.2 L512.6 584.2 L513.1 584.2 L513.1 584.2 L513.6 584.2 L513.6 584.2 L514.1 584.2 L514.1 584.2 L514.6 584.2 L514.6 584.04 L515.1 584.04 L515.1 584.2 L515.6 584.2 L515.6 584.2 L516.1 584.2 L516.1 584.2 L516.6 584.2 L516.6 584.2 L517.1 584.2 L517.1 584.2 L517.6 584.2 L517.6 584.2 L518.1 584.2 L518.1 584.2 L518.6 584.2 L518.6 584.2 L519.1 584.2 L519.1 584.2 L519.6 584.2 L519.6 583.93 L520.1 583.93 L520.1 583.47 L520.6 583.47 L520.6 583.78 L521.1 583.78 L521.1 584.2 L521.6 584.2 L521.6 584.2 L522.1 584.2 L522.1 584.2 L522.6 584.2 L522.6 583.88 L523.1 583.88 L523.1 584.2 L523.6 584.2 L523.6 584.2 L524.1 584.2 L524.1 584.2 L524.6 584.2 L524.6 584.2 L525.1 584.2 L525.1 584.2 L525.6 584.2 L525.6 584.2 L526.1 584.2 L526.1 583.95 L526.6 583.95 L526.6 584.2 L527.1 584.2 L527.1 584.2 L527.6 584.2 L527.6 583.56 L528.1 583.56 L528.1 584.2 L528.6 584.2 L528.6 582.83 L529.1 582.83 L529.1 582.56 L529.6 582.56 L529.6 582.67 L530.1 582.67 L530.1 581.72 L530.6 581.72 L530.6 581.88 L531.1 581.88 L531.1 581.36 L531.6 581.36 L531.6 581.68 L532.1 581.68 L532.1 581.49 L532.6 581.49 L532.6 581.25 L533.1 581.25 L533.1 581.83 L533.6 581.83 L533.6 582.55 L534.1 582.55 L534.1 582.67 L534.6 582.67 L534.6 581.29 L535.1 581.29 L535.1 581.36 L535.6 581.36 L535.6 581.71 L536.1 581.71 L536.1 581.1 L536.6 581.1 L536.6 581.38 L537.1 581.38 L537.1 582.19 L537.6 582.19 L537.6 582.63 L538.1 582.63 L538.1 582.15 L538.6 582.15 L538.6 581.17 L539.1 581.17 L539.1 581.22 L539.6 581.22 L539.6 582.99 L540.1 582.99 L540.1 582.99 L540.6 582.99 L540.6 582.11 L541.1 582.11 L541.1 584.2 L541.6 584.2 L541.6 584.2 L542.1 584.2 L542.1 583.2 L542.6 583.2 L542.6 583.04 L543.1 583.04 L543.1 583.11 L543.6 583.11 L543.6 584.2 L544.1 584.2 L544.1 584.2 L544.6 584.2 L544.6 583.51 L545.1 583.51 L545.1 583.2 L545.6 583.2 L545.6 583.01 L546.1 583.01 L546.1 583.01 L546.6 583.01 L546.6 583.87 L547.1 583.87 L547.1 584.2 L547.6 584.2 L547.6 583.47 L548.1 583.47 L548.1 584.2 L548.6 584.2 L548.6 583.49 L549.1 583.49 L549.1 584.2 L549.6 584.2 L549.6 583.34 L550.1 583.34 L550.1 584.2 L550.6 584.2 L550.6 584.2 L551.1 584.2 L551.1 584.2 L551.6 584.2 L551.6 583.2 L552.1 583.2 L552.1 584.2 L552.6 584.2 L552.6 583.24 L553.1 583.24 L553.1 583.54 L553.6 583.54 L553.6 583.48 L554.1 583.48 L554.1 584.2 L554.6 584.2 L554.6 583.03 L555.1 583.03 L555.1 583.39 L555.6 583.39 L555.6 584.2 L556.1 584.2 L556.1 584.2 L556.6 584.2 L556.6 583.82 L557.1 583.82 L557.1 583.15 L557.6 583.15 L557.6 584.2 L558.1 584.2 L558.1 583.04 L558.6 583.04 L558.6 584.2 L559.1 584.2 L559.1 583.27 L559.6 583.27 L559.6 583.82 L560.1 583.82 L560.1 583.3 L560.6 583.3 L560.6 583.19 L561.1 583.19 L561.1 584.2 L561.6 584.2 L561.6 584.2 L562.1 584.2 L562.1 584.2 L562.6 584.2 L562.6 583.87 L563.1 583.87 L563.1 584.2 L563.6 584.2 L563.6 584.2 L564.1 584.2 L564.1 583.05 L564.6 583.05 L564.6 583.19 L565.1 583.19 L565.1 583.6 L565.6 583.6 L565.6 584.2 L566.1 584.2 L566.1 584.2 L566.6 584.2 L566.6 583.08 L567.1 583.08 L567.1 584.2 L567.6 584.2 L567.6 583.64 L568.1 583.64 L568.1 583.55 L568.6 583.55 L568.6 583.36 L569.1 583.36 L569.1 583.48 L569.6 583.48 L569.6 583.74 L570.1 583.74 L570.1 584.2 L570.6 584.2 L570.6 584.2 L571.1 584.2 L571.1 584.2 L571.6 584.2 L571.6 584.2 L572.1 584.2 L572.1 584.2 L572.6 584.2 L572.6 584.2 L573.1 584.2 L573.1 583.38 L573.6 583.38 L573.6 584.2 L574.1 584.2 L574.1 583.9 L574.6 583.9 L574.6 583.22 L575.1 583.22 L575.1 584.2 L575.6 584.2 L575.6 584.2 L576.1 584.2 L576.1 584.2 L576.6 584.2 L576.6 583.13 L577.1 583.13 L577.1 584.2 L577.6 584.2 L577.6 583.48 L578.1 583.48 L578.1 584.2 L578.6 584.2 L578.6 584.2 L579.1 584.2 L579.1 584.2 L579.6 584.2 L579.6 584.2 L580.1 584.2 L580.1 584.2 L580.6 584.2 L580.6 583.03 L581.1 583.03 L581.1 584.2 L581.6 584.2 L581.6 584.2 L582.1 584.2 L582.1 584.2 L582.6 584.2 L582.6 583.08 L583.1 583.08 L583.1 583.48 L583.6 583.48 L583.6 583.13 L584.1 583.13 L584.1 584.2 L584.6 584.2 L584.6 584.2 L585.1 584.2 L585.1 584.2 L585.6 584.2 L585.6 584.2 L586.1 584.2 L586.1 584.2 L586.6 584.2 L586.6 584.2 L587.1 584.2 L587.1 583.6 L587.6 583.6 L587.6 583.76 L588.1 583.76 L588.1 583.88 L588.6 583.88 L588.6 584.2 L589.1 584.2 L589.1 584.2 L589.6 584.2 L589.6 583.38 L590.1 583.38 L590.1 584.2 L590.6 584.2 L590.6 584.2 L591.1 584.2 L591.1 584.2 L591.6 584.2 L591.6 583.5 L592.1 583.5 L592.1 584.2 L592.6 584.2 L592.6 584.2 L593.1 584.2 L593.1 584.2 L593.6 584.2 L593.6 584.2 L594.1 584.2 L594.1 584.2 L594.6 584.2 L594.6 584.2 L595.1 584.2 L595.1 584.2 L595.6 584.2 L595.6 584.2 L596.1 584.2 L596.1 584.2 L596.6 584.2 L596.6 584.2 L597.1 584.2 L597.1 584.2 L597.6 584.2 L597.6 584.2 L598.1 584.2 L598.1 584.2 L598.6 584.2 L598.6 584.2 L599.1 584.2 L599.1 584.2 L599.6 584.2 L599.6 583.96 L600.1 583.96 L600.1 584.2 L600.6 584.2 L600.6 584.2 L601.1 584.2 L601.1 584.2 L601.6 584.2 L601.6 584.2 L602.1 584.2 L602.1 584.2 L602.6 584.2 L602.6 584.2 L603.1 584.2 L603.1 584.2 L603.6 584.2 L603.6 584.2 L604.1 584.2 L604.1 584.2 L604.6 584.2 L604.6 584.2 L605.1 584.2 L605.1 583.88 L605.6 583.88 L605.6 584.2 L606.1 584.2 L606.1 584.2 L606.6 584.2 L606.6 584.2 L607.1 584.2 L607.1 584.2 L607.6 584.2 L607.6 583.64 L608.1 583.64 L608.1 584.2 L608.6 584.2 L608.6 584.2 L609.1 584.2 L609.1 584.2 L609.6 584.2 L609.6 584.2 L610.1 584.2 L610.1 584.2 L610.6 584.2 L610.6 584.2 L611.1 584.2 L611.1 584.2 L611.6 584.2 L611.6 584.2 L612.1 584.2 L612.1 584.2 L612.6 584.2 L612.6 584.2 L613.1 584.2 L613.1 584.2 L613.6 584.2 L613.6 584.2 L614.1 584.2 L614.1 583.92 L614.6 583.92 L614.6 584.2 L615.1 584.2 L615.1 584.2 L615.6 584.2 L615.6 584.2 L616.1 584.2 L616.1 584.2 L616.6 584.2 L616.6 584.2 L617.1 584.2 L617.1 584.2 L617.6 584.2 L617.6 584.2 L618.1 584.2 L618.1 584.2 L618.6 584.2 L618.6 584.2 L619.1 584.2 L619.1 584.2 L619.6 584.2 L619.6 584.2 L620.1 584.2 L620.1 584.2 L620.6 584.2 L620.6 584.2 L621.1 584.2 L621.1 584.2 L621.6 584.2 L621.6 584.2 L622.1 584.2 L622.1 584.2 L622.6 584.2 L622.6 584.2 L623.1 584.2 L623.1 584.2 L623.6 584.2 L623.6 584.2 L624.1 584.2 L624.1 584.2 L624.6 584.2 L624.6 584.2 L625.1 584.2 L625.1 584.2 L625.6 584.2 L625.6 584.2 L626.1 584.2 L626.1 583.41 L626.6 583.41 L626.6 584.2 L627.1 584.2 L627.1 584.2 L627.6 584.2 L627.6 584.2 L628.1 584.2 L628.1 584.2 L628.6 584.2 L628.6 583.71 L629.1 583.71 L629.1 584.2 L629.6 584.2 L629.6 584.2 L630.1 584.2 L630.1 584.2 L630.6 584.2 L630.6 584.2 L631.1 584.2 L631.1 584.2 L631.6 584.2 L631.6 584.2 L632.1 584.2 L632.1 584.2 L632.6 584.2 L632.6 584.2 L633.1 584.2 L633.1 584.2 L633.6 584.2 L633.6 584.2 L634.1 584.2 L634.1 584.2 L634.6 584.2 L634.6 584.2 L635.1 584.2 L635.1 584.2 L635.6 584.2 L635.6 584.2 L636.1 584.2 L636.1 584.2 L636.6 584.2 L636.6 584.2 L637.1 584.2 L637.1 584.2 L637.6 584.2 L637.6 584.2 L638.1 584.2 L638.1 584.2 L638.6 584.2 L638.6 584.2 L639.1 584.2 L639.1 584.2 L639.6 584.2 L639.6 584.2 L640.1 584.2 L640.1 584.2 L640.6 584.2 L640.6 584.2 L641.1 584.2 L641.1 584.2 L641.6 584.2 L641.6 584.2 L642.1 584.2 L642.1 582.11 L642.6 582.11 L642.6 582.97 L643.1 582.97 L643.1 582.99 L643.6 582.99 L643.6 582.67 L644.1 582.67 L644.1 582.01 L644.6 582.01 L644.6 582.74 L645.1 582.74 L645.1 584.2 L645.6 584.2 L645.6 584.2 L646.1 584.2 L646.1 584.2 L646.6 584.2 L646.6 584.2 L647.1 584.2 L647.1 584.2 L647.6 584.2 L647.6 584.2 L648.1 584.2 L648.1 584.2 L648.6 584.2 L648.6 584.2 L649.1 584.2 L649.1 584.2 L649.6 584.2 L649.6 584.2 L650.1 584.2 L650.1 584.2 L650.6 584.2 L650.6 584.2 L651.1 584.2 L651.1 584.2 L651.6 584.2 L651.6 584.05 L652.1 584.05 L652.1 584.2 L652.6 584.2 L652.6 584.2 L653.1 584.2 L653.1 584.2 L653.6 584.2 L653.6 584.18 L654.1 584.18 L654.1 584.2 L654.6 584.2 L654.6 584 L655.1 584 L655.1 584.2 L655.6 584.2 L655.6 584.2 L656.1 584.2 L656.1 584.2 L656.6 584.2 L656.6 584.2 L657.1 584.2 L657.1 583.51 L657.6 583.51 L657.6 584.2 L658.1 584.2 L658.1 583.48 L658.6 583.48 L658.6 584.2 L659.1 584.2 L659.1 584.2 L659.6 584.2 L659.6 584.2 L660.1 584.2 L660.1 584.2 L660.6 584.2 L660.6 584.2 L661.1 584.2 L661.1 584.2 L661.6 584.2 L661.6 584.03 L662.1 584.03 L662.1 584.2 L662.6 584.2 L662.6 584.2 L663.1 584.2 L663.1 584.2 L663.3 584.2 L663.3 584.2 Z" fill="#d05f60" stroke="none" stroke-width="1" />
<path d="M411.6 599.8 H412.8 V636.8 H411.6" fill="none" stroke="#231f20" stroke-width="1.4" />
<text x="408.6" y="605.4" font-size="7.6" font-weight="normal" font-style="normal" text-anchor="end" fill="#231f20" >1</text>
<text x="408.6" y="637.4" font-size="7.6" font-weight="normal" font-style="normal" text-anchor="end" fill="#231f20" >-0.2</text>
<text x="663.3" y="597.2" font-size="10.4" font-weight="bold" font-style="italic" text-anchor="end" fill="#231f20" >tsk-4</text>
<text x="663.3" y="608.7" font-size="8.6" font-weight="normal" font-style="normal" text-anchor="end" fill="#231f20" >Wang et al., (2023)</text>
<path d="M415.1 631.2 L415.1 632.39 L415.6 632.39 L415.6 632.02 L416.1 632.02 L416.1 632.83 L416.6 632.83 L416.6 632.16 L417.1 632.16 L417.1 632.15 L417.6 632.15 L417.6 634.13 L418.1 634.13 L418.1 632.41 L418.6 632.41 L418.6 633.48 L419.1 633.48 L419.1 633.57 L419.6 633.57 L419.6 633.83 L420.1 633.83 L420.1 632.51 L420.6 632.51 L420.6 632.76 L421.1 632.76 L421.1 632.35 L421.6 632.35 L421.6 633.2 L422.1 633.2 L422.1 632.25 L422.6 632.25 L422.6 632.13 L423.1 632.13 L423.1 632.27 L423.6 632.27 L423.6 632.65 L424.1 632.65 L424.1 632.6 L424.6 632.6 L424.6 633.85 L425.1 633.85 L425.1 631.2 L425.6 631.2 L425.6 633.9 L426.1 633.9 L426.1 632.63 L426.6 632.63 L426.6 634.07 L427.1 634.07 L427.1 632.16 L427.6 632.16 L427.6 632.19 L428.1 632.19 L428.1 633.17 L428.6 633.17 L428.6 633.23 L429.1 633.23 L429.1 634.08 L429.6 634.08 L429.6 633.16 L430.1 633.16 L430.1 634 L430.6 634 L430.6 633.77 L431.1 633.77 L431.1 633.51 L431.6 633.51 L431.6 633.62 L432.1 633.62 L432.1 632.28 L432.6 632.28 L432.6 633.1 L433.1 633.1 L433.1 634.02 L433.6 634.02 L433.6 632.71 L434.1 632.71 L434.1 633.8 L434.6 633.8 L434.6 632.17 L435.1 632.17 L435.1 631.2 L435.6 631.2 L435.6 633.82 L436.1 633.82 L436.1 632.58 L436.6 632.58 L436.6 632.38 L437.1 632.38 L437.1 633.74 L437.6 633.74 L437.6 632.83 L438.1 632.83 L438.1 632.43 L438.6 632.43 L438.6 632.38 L439.1 632.38 L439.1 632.6 L439.6 632.6 L439.6 633.77 L440.1 633.77 L440.1 633.46 L440.6 633.46 L440.6 632.75 L441.1 632.75 L441.1 633.44 L441.6 633.44 L441.6 634.07 L442.1 634.07 L442.1 631.2 L442.6 631.2 L442.6 633.96 L443.1 633.96 L443.1 631.2 L443.6 631.2 L443.6 633.83 L444.1 633.83 L444.1 632.5 L444.6 632.5 L444.6 632.02 L445.1 632.02 L445.1 633.75 L445.6 633.75 L445.6 632.95 L446.1 632.95 L446.1 631.2 L446.6 631.2 L446.6 631.2 L447.1 631.2 L447.1 633.16 L447.6 633.16 L447.6 632.61 L448.1 632.61 L448.1 632.19 L448.6 632.19 L448.6 632.43 L449.1 632.43 L449.1 632.54 L449.6 632.54 L449.6 632.72 L450.1 632.72 L450.1 633.29 L450.6 633.29 L450.6 633.45 L451.1 633.45 L451.1 632.63 L451.6 632.63 L451.6 633.35 L452.1 633.35 L452.1 634.1 L452.6 634.1 L452.6 632.05 L453.1 632.05 L453.1 632.53 L453.6 632.53 L453.6 633.07 L454.1 633.07 L454.1 634 L454.6 634 L454.6 632.88 L455.1 632.88 L455.1 631.42 L455.6 631.42 L455.6 631.23 L456.1 631.23 L456.1 631.74 L456.6 631.74 L456.6 631.21 L457.1 631.21 L457.1 631.58 L457.6 631.58 L457.6 631.75 L458.1 631.75 L458.1 631.77 L458.6 631.77 L458.6 631.3 L459.1 631.3 L459.1 631.59 L459.6 631.59 L459.6 631.67 L460.1 631.67 L460.1 631.2 L460.6 631.2 L460.6 631.58 L461.1 631.58 L461.1 631.31 L461.6 631.31 L461.6 631.48 L462.1 631.48 L462.1 632.05 L462.6 632.05 L462.6 632.14 L463.1 632.14 L463.1 633.01 L463.6 633.01 L463.6 633.13 L464.1 633.13 L464.1 632.83 L464.6 632.83 L464.6 633.37 L465.1 633.37 L465.1 633.4 L465.6 633.4 L465.6 631.2 L466.1 631.2 L466.1 632.13 L466.6 632.13 L466.6 632.41 L467.1 632.41 L467.1 631.2 L467.6 631.2 L467.6 632.38 L468.1 632.38 L468.1 632.59 L468.6 632.59 L468.6 631.2 L469.1 631.2 L469.1 631.2 L469.6 631.2 L469.6 632.64 L470.1 632.64 L470.1 633.09 L470.6 633.09 L470.6 633.2 L471.1 633.2 L471.1 632.43 L471.6 632.43 L471.6 633.05 L472.1 633.05 L472.1 631.2 L472.6 631.2 L472.6 633.3 L473.1 633.3 L473.1 633.3 L473.6 633.3 L473.6 632.33 L474.1 632.33 L474.1 632.07 L474.6 632.07 L474.6 633.11 L475.1 633.11 L475.1 631.59 L475.6 631.59 L475.6 631.34 L476.1 631.34 L476.1 631.61 L476.6 631.61 L476.6 631.24 L477.1 631.24 L477.1 631.7 L477.6 631.7 L477.6 631.76 L478.1 631.76 L478.1 631.69 L478.6 631.69 L478.6 631.26 L479.1 631.26 L479.1 631.45 L479.6 631.45 L479.6 631.26 L480.1 631.26 L480.1 631.35 L480.6 631.35 L480.6 631.63 L481.1 631.63 L481.1 631.37 L481.6 631.37 L481.6 631.65 L482.1 631.65 L482.1 631.34 L482.6 631.34 L482.6 631.57 L483.1 631.57 L483.1 632.66 L483.6 632.66 L483.6 632.23 L484.1 632.23 L484.1 632.48 L484.6 632.48 L484.6 632.92 L485.1 632.92 L485.1 632.58 L485.6 632.58 L485.6 633.54 L486.1 633.54 L486.1 633.41 L486.6 633.41 L486.6 633.09 L487.1 633.09 L487.1 633.4 L487.6 633.4 L487.6 632.2 L488.1 632.2 L488.1 633.55 L488.6 633.55 L488.6 631.2 L489.1 631.2 L489.1 631.2 L489.6 631.2 L489.6 631.2 L490.1 631.2 L490.1 632.1 L490.6 632.1 L490.6 631.2 L491.1 631.2 L491.1 632.15 L491.6 632.15 L491.6 631.2 L492.1 631.2 L492.1 631.2 L492.6 631.2 L492.6 632.18 L493.1 632.18 L493.1 631.2 L493.6 631.2 L493.6 631.2 L494.1 631.2 L494.1 631.2 L494.6 631.2 L494.6 632.04 L495.1 632.04 L495.1 633.19 L495.6 633.19 L495.6 633.39 L496.1 633.39 L496.1 633.6 L496.6 633.6 L496.6 631.2 L497.1 631.2 L497.1 631.2 L497.6 631.2 L497.6 632.12 L498.1 632.12 L498.1 632.38 L498.6 632.38 L498.6 633.07 L499.1 633.07 L499.1 632 L499.6 632 L499.6 632.76 L500.1 632.76 L500.1 631.2 L500.6 631.2 L500.6 631.2 L501.1 631.2 L501.1 633.44 L501.6 633.44 L501.6 633.38 L502.1 633.38 L502.1 632.86 L502.6 632.86 L502.6 632.83 L503.1 632.83 L503.1 632.13 L503.6 632.13 L503.6 633.41 L504.1 633.41 L504.1 632.79 L504.6 632.79 L504.6 632.95 L505.1 632.95 L505.1 632.64 L505.6 632.64 L505.6 632.16 L506.1 632.16 L506.1 633.27 L506.6 633.27 L506.6 632.02 L507.1 632.02 L507.1 632.9 L507.6 632.9 L507.6 632.15 L508.1 632.15 L508.1 632.01 L508.6 632.01 L508.6 633.6 L509.1 633.6 L509.1 632.9 L509.6 632.9 L509.6 632.01 L510.1 632.01 L510.1 631.2 L510.6 631.2 L510.6 631.2 L511.1 631.2 L511.1 633.27 L511.6 633.27 L511.6 631.2 L512.1 631.2 L512.1 632.44 L512.6 632.44 L512.6 632.1 L513.1 632.1 L513.1 632.74 L513.6 632.74 L513.6 633.49 L514.1 633.49 L514.1 633.42 L514.6 633.42 L514.6 632.69 L515.1 632.69 L515.1 632.6 L515.6 632.6 L515.6 631.2 L516.1 631.2 L516.1 631.2 L516.6 631.2 L516.6 633.17 L517.1 633.17 L517.1 632.64 L517.6 632.64 L517.6 631.2 L518.1 631.2 L518.1 631.2 L518.6 631.2 L518.6 632.93 L519.1 632.93 L519.1 632.75 L519.6 632.75 L519.6 631.2 L520.1 631.2 L520.1 632.47 L520.6 632.47 L520.6 631.2 L521.1 631.2 L521.1 631.2 L521.6 631.2 L521.6 632.83 L522.1 632.83 L522.1 632.58 L522.6 632.58 L522.6 632.26 L523.1 632.26 L523.1 633.37 L523.6 633.37 L523.6 631.2 L524.1 631.2 L524.1 632.57 L524.6 632.57 L524.6 631.2 L525.1 631.2 L525.1 631.2 L525.6 631.2 L525.6 632.32 L526.1 632.32 L526.1 632.22 L526.6 632.22 L526.6 632.48 L527.1 632.48 L527.1 632.48 L527.6 632.48 L527.6 631.2 L528.1 631.2 L528.1 633.47 L528.6 633.47 L528.6 632.24 L529.1 632.24 L529.1 632.93 L529.6 632.93 L529.6 633.15 L530.1 633.15 L530.1 632.66 L530.6 632.66 L530.6 631.2 L531.1 631.2 L531.1 632.71 L531.6 632.71 L531.6 632.04 L532.1 632.04 L532.1 632.93 L532.6 632.93 L532.6 631.2 L533.1 631.2 L533.1 631.2 L533.6 631.2 L533.6 631.2 L534.1 631.2 L534.1 632.44 L534.6 632.44 L534.6 633.27 L535.1 633.27 L535.1 631.2 L535.6 631.2 L535.6 631.2 L536.1 631.2 L536.1 632.12 L536.6 632.12 L536.6 632.87 L537.1 632.87 L537.1 631.2 L537.6 631.2 L537.6 632.58 L538.1 632.58 L538.1 632.23 L538.6 632.23 L538.6 632.59 L539.1 632.59 L539.1 632.71 L539.6 632.71 L539.6 631.2 L540.1 631.2 L540.1 632.56 L540.6 632.56 L540.6 633.03 L541.1 633.03 L541.1 633.56 L541.6 633.56 L541.6 631.2 L542.1 631.2 L542.1 632.54 L542.6 632.54 L542.6 632.43 L543.1 632.43 L543.1 632.26 L543.6 632.26 L543.6 632.25 L544.1 632.25 L544.1 632.42 L544.6 632.42 L544.6 632.95 L545.1 632.95 L545.1 632.48 L545.6 632.48 L545.6 633.07 L546.1 633.07 L546.1 632.84 L546.6 632.84 L546.6 632.86 L547.1 632.86 L547.1 633.24 L547.6 633.24 L547.6 633.5 L548.1 633.5 L548.1 633.86 L548.6 633.86 L548.6 633.72 L549.1 633.72 L549.1 633.9 L549.6 633.9 L549.6 632.45 L550.1 632.45 L550.1 633.32 L550.6 633.32 L550.6 632.3 L551.1 632.3 L551.1 633.42 L551.6 633.42 L551.6 632.71 L552.1 632.71 L552.1 632.49 L552.6 632.49 L552.6 633.16 L553.1 633.16 L553.1 633.88 L553.6 633.88 L553.6 632.77 L554.1 632.77 L554.1 632.42 L554.6 632.42 L554.6 632.84 L555.1 632.84 L555.1 631.2 L555.6 631.2 L555.6 633.06 L556.1 633.06 L556.1 632.02 L556.6 632.02 L556.6 631.2 L557.1 631.2 L557.1 632.52 L557.6 632.52 L557.6 632.84 L558.1 632.84 L558.1 632.17 L558.6 632.17 L558.6 631.2 L559.1 631.2 L559.1 632.67 L559.6 632.67 L559.6 633.87 L560.1 633.87 L560.1 633.92 L560.6 633.92 L560.6 633.73 L561.1 633.73 L561.1 633.15 L561.6 633.15 L561.6 634.08 L562.1 634.08 L562.1 632.64 L562.6 632.64 L562.6 632.04 L563.1 632.04 L563.1 633.62 L563.6 633.62 L563.6 633.4 L564.1 633.4 L564.1 632.55 L564.6 632.55 L564.6 633.35 L565.1 633.35 L565.1 633.5 L565.6 633.5 L565.6 631.2 L566.1 631.2 L566.1 634.14 L566.6 634.14 L566.6 633.47 L567.1 633.47 L567.1 632.03 L567.6 632.03 L567.6 633.79 L568.1 633.79 L568.1 632.78 L568.6 632.78 L568.6 633.68 L569.1 633.68 L569.1 632.42 L569.6 632.42 L569.6 632.26 L570.1 632.26 L570.1 633.23 L570.6 633.23 L570.6 632.13 L571.1 632.13 L571.1 633.88 L571.6 633.88 L571.6 631.2 L572.1 631.2 L572.1 632.1 L572.6 632.1 L572.6 633.72 L573.1 633.72 L573.1 632.16 L573.6 632.16 L573.6 631.2 L574.1 631.2 L574.1 632.3 L574.6 632.3 L574.6 633.82 L575.1 633.82 L575.1 632.01 L575.6 632.01 L575.6 632.39 L576.1 632.39 L576.1 632.38 L576.6 632.38 L576.6 632.36 L577.1 632.36 L577.1 632.05 L577.6 632.05 L577.6 632.11 L578.1 632.11 L578.1 632.18 L578.6 632.18 L578.6 633.6 L579.1 633.6 L579.1 631.2 L579.6 631.2 L579.6 632.78 L580.1 632.78 L580.1 631.2 L580.6 631.2 L580.6 631.2 L581.1 631.2 L581.1 631.2 L581.6 631.2 L581.6 631.2 L582.1 631.2 L582.1 631.2 L582.6 631.2 L582.6 631.2 L583.1 631.2 L583.1 631.2 L583.6 631.2 L583.6 631.2 L584.1 631.2 L584.1 631.2 L584.6 631.2 L584.6 631.2 L585.1 631.2 L585.1 631.2 L585.6 631.2 L585.6 631.2 L586.1 631.2 L586.1 631.2 L586.6 631.2 L586.6 631.2 L587.1 631.2 L587.1 631.2 L587.6 631.2 L587.6 631.2 L588.1 631.2 L588.1 631.2 L588.6 631.2 L588.6 633.13 L589.1 633.13 L589.1 632.19 L589.6 632.19 L589.6 633.09 L590.1 633.09 L590.1 632.38 L590.6 632.38 L590.6 632.74 L591.1 632.74 L591.1 631.2 L591.6 631.2 L591.6 631.2 L592.1 631.2 L592.1 632.7 L592.6 632.7 L592.6 633.42 L593.1 633.42 L593.1 631.2 L593.6 631.2 L593.6 632.01 L594.1 632.01 L594.1 631.2 L594.6 631.2 L594.6 632.3 L595.1 632.3 L595.1 632.81 L595.6 632.81 L595.6 631.2 L596.1 631.2 L596.1 631.2 L596.6 631.2 L596.6 631.2 L597.1 631.2 L597.1 631.2 L597.6 631.2 L597.6 631.2 L598.1 631.2 L598.1 631.2 L598.6 631.2 L598.6 631.2 L599.1 631.2 L599.1 631.2 L599.6 631.2 L599.6 631.2 L600.1 631.2 L600.1 631.2 L600.6 631.2 L600.6 631.2 L601.1 631.2 L601.1 631.2 L601.6 631.2 L601.6 631.2 L602.1 631.2 L602.1 631.2 L602.6 631.2 L602.6 632.36 L603.1 632.36 L603.1 633.55 L603.6 633.55 L603.6 633.42 L604.1 633.42 L604.1 632.79 L604.6 632.79 L604.6 632.35 L605.1 632.35 L605.1 632.74 L605.6 632.74 L605.6 632.11 L606.1 632.11 L606.1 632.68 L606.6 632.68 L606.6 632.5 L607.1 632.5 L607.1 633.34 L607.6 633.34 L607.6 633.45 L608.1 633.45 L608.1 632.9 L608.6 632.9 L608.6 632.92 L609.1 632.92 L609.1 632.77 L609.6 632.77 L609.6 632.4 L610.1 632.4 L610.1 633.48 L610.6 633.48 L610.6 633.08 L611.1 633.08 L611.1 632.56 L611.6 632.56 L611.6 632.44 L612.1 632.44 L612.1 631.2 L612.6 631.2 L612.6 632.36 L613.1 632.36 L613.1 632.9 L613.6 632.9 L613.6 632.73 L614.1 632.73 L614.1 632.05 L614.6 632.05 L614.6 631.2 L615.1 631.2 L615.1 632.21 L615.6 632.21 L615.6 631.2 L616.1 631.2 L616.1 632.55 L616.6 632.55 L616.6 632.18 L617.1 632.18 L617.1 633.57 L617.6 633.57 L617.6 632.34 L618.1 632.34 L618.1 633.2 L618.6 633.2 L618.6 633.15 L619.1 633.15 L619.1 632.91 L619.6 632.91 L619.6 632.12 L620.1 632.12 L620.1 632.76 L620.6 632.76 L620.6 632.37 L621.1 632.37 L621.1 633.01 L621.6 633.01 L621.6 632.51 L622.1 632.51 L622.1 633.6 L622.6 633.6 L622.6 632.67 L623.1 632.67 L623.1 632.2 L623.6 632.2 L623.6 632.21 L624.1 632.21 L624.1 632.48 L624.6 632.48 L624.6 632.08 L625.1 632.08 L625.1 632.1 L625.6 632.1 L625.6 633.19 L626.1 633.19 L626.1 631.2 L626.6 631.2 L626.6 632.66 L627.1 632.66 L627.1 632.18 L627.6 632.18 L627.6 633.23 L628.1 633.23 L628.1 631.2 L628.6 631.2 L628.6 631.2 L629.1 631.2 L629.1 631.2 L629.6 631.2 L629.6 631.2 L630.1 631.2 L630.1 631.2 L630.6 631.2 L630.6 632.77 L631.1 632.77 L631.1 632.16 L631.6 632.16 L631.6 632.23 L632.1 632.23 L632.1 631.2 L632.6 631.2 L632.6 632.09 L633.1 632.09 L633.1 632.67 L633.6 632.67 L633.6 633.01 L634.1 633.01 L634.1 631.2 L634.6 631.2 L634.6 632.08 L635.1 632.08 L635.1 632.73 L635.6 632.73 L635.6 631.2 L636.1 631.2 L636.1 631.2 L636.6 631.2 L636.6 631.2 L637.1 631.2 L637.1 631.2 L637.6 631.2 L637.6 633.35 L638.1 633.35 L638.1 633.35 L638.6 633.35 L638.6 632.69 L639.1 632.69 L639.1 631.2 L639.6 631.2 L639.6 633.44 L640.1 633.44 L640.1 633.07 L640.6 633.07 L640.6 632.81 L641.1 632.81 L641.1 632.61 L641.6 632.61 L641.6 632.52 L642.1 632.52 L642.1 631.2 L642.6 631.2 L642.6 633.5 L643.1 633.5 L643.1 632.98 L643.6 632.98 L643.6 632.55 L644.1 632.55 L644.1 632.8 L644.6 632.8 L644.6 633.16 L645.1 633.16 L645.1 632.62 L645.6 632.62 L645.6 631.2 L646.1 631.2 L646.1 631.2 L646.6 631.2 L646.6 633.24 L647.1 633.24 L647.1 633.34 L647.6 633.34 L647.6 631.2 L648.1 631.2 L648.1 632.45 L648.6 632.45 L648.6 631.2 L649.1 631.2 L649.1 633.44 L649.6 633.44 L649.6 632.63 L650.1 632.63 L650.1 633.57 L650.6 633.57 L650.6 633.24 L651.1 633.24 L651.1 632.34 L651.6 632.34 L651.6 633.05 L652.1 633.05 L652.1 633.56 L652.6 633.56 L652.6 631.2 L653.1 631.2 L653.1 633.25 L653.6 633.25 L653.6 631.2 L654.1 631.2 L654.1 632.39 L654.6 632.39 L654.6 632.7 L655.1 632.7 L655.1 633.53 L655.6 633.53 L655.6 633.07 L656.1 633.07 L656.1 632.61 L656.6 632.61 L656.6 631.2 L657.1 631.2 L657.1 632.28 L657.6 632.28 L657.6 631.2 L658.1 631.2 L658.1 631.2 L658.6 631.2 L658.6 632.3 L659.1 632.3 L659.1 632.19 L659.6 632.19 L659.6 632.06 L660.1 632.06 L660.1 633.01 L660.6 633.01 L660.6 633.33 L661.1 633.33 L661.1 632.7 L661.6 632.7 L661.6 633.56 L662.1 633.56 L662.1 633.31 L662.6 633.31 L662.6 631.2 L663.1 631.2 L663.1 631.2 L663.3 631.2 L663.3 631.2 Z" fill="#1c65a0" stroke="none" stroke-width="1" />
<path d="M415.1 631.2 L415.1 631.2 L415.6 631.2 L415.6 631.2 L416.1 631.2 L416.1 630.18 L416.6 630.18 L416.6 631.2 L417.1 631.2 L417.1 631.2 L417.6 631.2 L417.6 629.47 L418.1 629.47 L418.1 630.38 L418.6 630.38 L418.6 631.2 L419.1 631.2 L419.1 631.2 L419.6 631.2 L419.6 631.2 L420.1 631.2 L420.1 631.2 L420.6 631.2 L420.6 631.2 L421.1 631.2 L421.1 631.2 L421.6 631.2 L421.6 627.57 L422.1 627.57 L422.1 631.2 L422.6 631.2 L422.6 631.2 L423.1 631.2 L423.1 631.2 L423.6 631.2 L423.6 629.97 L424.1 629.97 L424.1 631.2 L424.6 631.2 L424.6 631.2 L425.1 631.2 L425.1 631.2 L425.6 631.2 L425.6 631.2 L426.1 631.2 L426.1 631.2 L426.6 631.2 L426.6 631.2 L427.1 631.2 L427.1 630.6 L427.6 630.6 L427.6 631.2 L428.1 631.2 L428.1 631.2 L428.6 631.2 L428.6 631.2 L429.1 631.2 L429.1 630.57 L429.6 630.57 L429.6 631.2 L430.1 631.2 L430.1 631.2 L430.6 631.2 L430.6 629.54 L431.1 629.54 L431.1 631.2 L431.6 631.2 L431.6 631.2 L432.1 631.2 L432.1 630.5 L432.6 630.5 L432.6 630.97 L433.1 630.97 L433.1 631.2 L433.6 631.2 L433.6 631.2 L434.1 631.2 L434.1 631.2 L434.6 631.2 L434.6 629.73 L435.1 629.73 L435.1 631.2 L435.6 631.2 L435.6 630.31 L436.1 630.31 L436.1 631.2 L436.6 631.2 L436.6 631.2 L437.1 631.2 L437.1 630.28 L437.6 630.28 L437.6 631.2 L438.1 631.2 L438.1 631.2 L438.6 631.2 L438.6 631.2 L439.1 631.2 L439.1 630.64 L439.6 630.64 L439.6 631.2 L440.1 631.2 L440.1 631.2 L440.6 631.2 L440.6 631.2 L441.1 631.2 L441.1 627.81 L441.6 627.81 L441.6 631.2 L442.1 631.2 L442.1 629.72 L442.6 629.72 L442.6 630.39 L443.1 630.39 L443.1 631.2 L443.6 631.2 L443.6 630.97 L444.1 630.97 L444.1 631.2 L444.6 631.2 L444.6 631.2 L445.1 631.2 L445.1 629.83 L445.6 629.83 L445.6 631.2 L446.1 631.2 L446.1 631.2 L446.6 631.2 L446.6 631.2 L447.1 631.2 L447.1 631.2 L447.6 631.2 L447.6 631.2 L448.1 631.2 L448.1 631.2 L448.6 631.2 L448.6 631.2 L449.1 631.2 L449.1 629.89 L449.6 629.89 L449.6 630.09 L450.1 630.09 L450.1 630.48 L450.6 630.48 L450.6 630.93 L451.1 630.93 L451.1 631.2 L451.6 631.2 L451.6 631.2 L452.1 631.2 L452.1 631.2 L452.6 631.2 L452.6 631.2 L453.1 631.2 L453.1 629.43 L453.6 629.43 L453.6 631.2 L454.1 631.2 L454.1 631.2 L454.6 631.2 L454.6 631.2 L455.1 631.2 L455.1 628.94 L455.6 628.94 L455.6 630.18 L456.1 630.18 L456.1 630.16 L456.6 630.16 L456.6 629.42 L457.1 629.42 L457.1 629.28 L457.6 629.28 L457.6 628.62 L458.1 628.62 L458.1 629.42 L458.6 629.42 L458.6 630.37 L459.1 630.37 L459.1 629.03 L459.6 629.03 L459.6 629.23 L460.1 629.23 L460.1 628.87 L460.6 628.87 L460.6 629.31 L461.1 629.31 L461.1 629.68 L461.6 629.68 L461.6 628.6 L462.1 628.6 L462.1 631.2 L462.6 631.2 L462.6 630.31 L463.1 630.31 L463.1 630.34 L463.6 630.34 L463.6 629.76 L464.1 629.76 L464.1 629.67 L464.6 629.67 L464.6 630.38 L465.1 630.38 L465.1 629.9 L465.6 629.9 L465.6 630.27 L466.1 630.27 L466.1 630.18 L466.6 630.18 L466.6 631.2 L467.1 631.2 L467.1 630.45 L467.6 630.45 L467.6 631.2 L468.1 631.2 L468.1 631.2 L468.6 631.2 L468.6 631.2 L469.1 631.2 L469.1 630.4 L469.6 630.4 L469.6 631.2 L470.1 631.2 L470.1 631.2 L470.6 631.2 L470.6 631.2 L471.1 631.2 L471.1 630.06 L471.6 630.06 L471.6 630.85 L472.1 630.85 L472.1 631.2 L472.6 631.2 L472.6 631.2 L473.1 631.2 L473.1 631.2 L473.6 631.2 L473.6 631.2 L474.1 631.2 L474.1 629.75 L474.6 629.75 L474.6 631.2 L475.1 631.2 L475.1 629.44 L475.6 629.44 L475.6 629.64 L476.1 629.64 L476.1 629.99 L476.6 629.99 L476.6 628.66 L477.1 628.66 L477.1 630.08 L477.6 630.08 L477.6 629.67 L478.1 629.67 L478.1 627.66 L478.6 627.66 L478.6 630.01 L479.1 630.01 L479.1 628.08 L479.6 628.08 L479.6 630.31 L480.1 630.31 L480.1 629.6 L480.6 629.6 L480.6 630.3 L481.1 630.3 L481.1 630.24 L481.6 630.24 L481.6 628.44 L482.1 628.44 L482.1 628.19 L482.6 628.19 L482.6 629.92 L483.1 629.92 L483.1 631.2 L483.6 631.2 L483.6 631.2 L484.1 631.2 L484.1 631.2 L484.6 631.2 L484.6 629.45 L485.1 629.45 L485.1 631.2 L485.6 631.2 L485.6 631.2 L486.1 631.2 L486.1 629.6 L486.6 629.6 L486.6 631.2 L487.1 631.2 L487.1 631.2 L487.6 631.2 L487.6 631.2 L488.1 631.2 L488.1 630.18 L488.6 630.18 L488.6 631.2 L489.1 631.2 L489.1 631.2 L489.6 631.2 L489.6 631.2 L490.1 631.2 L490.1 631.2 L490.6 631.2 L490.6 631.2 L491.1 631.2 L491.1 629.69 L491.6 629.69 L491.6 631.2 L492.1 631.2 L492.1 631.2 L492.6 631.2 L492.6 629.68 L493.1 629.68 L493.1 630.37 L493.6 630.37 L493.6 630.26 L494.1 630.26 L494.1 631.2 L494.6 631.2 L494.6 630.05 L495.1 630.05 L495.1 631.2 L495.6 631.2 L495.6 631.2 L496.1 631.2 L496.1 630.04 L496.6 630.04 L496.6 629.9 L497.1 629.9 L497.1 630.6 L497.6 630.6 L497.6 631.2 L498.1 631.2 L498.1 629.47 L498.6 629.47 L498.6 630.72 L499.1 630.72 L499.1 631.2 L499.6 631.2 L499.6 631.2 L500.1 631.2 L500.1 629.41 L500.6 629.41 L500.6 631.2 L501.1 631.2 L501.1 630.45 L501.6 630.45 L501.6 629.85 L502.1 629.85 L502.1 631.2 L502.6 631.2 L502.6 629.75 L503.1 629.75 L503.1 630.68 L503.6 630.68 L503.6 630.53 L504.1 630.53 L504.1 630.72 L504.6 630.72 L504.6 631.2 L505.1 631.2 L505.1 629.9 L505.6 629.9 L505.6 631.2 L506.1 631.2 L506.1 628.6 L506.6 628.6 L506.6 629.87 L507.1 629.87 L507.1 631.2 L507.6 631.2 L507.6 631.2 L508.1 631.2 L508.1 630.48 L508.6 630.48 L508.6 631.2 L509.1 631.2 L509.1 631.2 L509.6 631.2 L509.6 630.03 L510.1 630.03 L510.1 631.2 L510.6 631.2 L510.6 631.2 L511.1 631.2 L511.1 629.62 L511.6 629.62 L511.6 629.56 L512.1 629.56 L512.1 631.2 L512.6 631.2 L512.6 629.84 L513.1 629.84 L513.1 630.67 L513.6 630.67 L513.6 631.2 L514.1 631.2 L514.1 631.2 L514.6 631.2 L514.6 630.18 L515.1 630.18 L515.1 631.2 L515.6 631.2 L515.6 631.2 L516.1 631.2 L516.1 629.92 L516.6 629.92 L516.6 630.88 L517.1 630.88 L517.1 631.2 L517.6 631.2 L517.6 631.2 L518.1 631.2 L518.1 630.02 L518.6 630.02 L518.6 631.2 L519.1 631.2 L519.1 629.99 L519.6 629.99 L519.6 631.2 L520.1 631.2 L520.1 631.2 L520.6 631.2 L520.6 631.2 L521.1 631.2 L521.1 631.2 L521.6 631.2 L521.6 631.2 L522.1 631.2 L522.1 629.5 L522.6 629.5 L522.6 631.2 L523.1 631.2 L523.1 631.2 L523.6 631.2 L523.6 631.2 L524.1 631.2 L524.1 630.7 L524.6 630.7 L524.6 630.52 L525.1 630.52 L525.1 629.89 L525.6 629.89 L525.6 630.95 L526.1 630.95 L526.1 631.2 L526.6 631.2 L526.6 631.2 L527.1 631.2 L527.1 630.87 L527.6 630.87 L527.6 630.12 L528.1 630.12 L528.1 629.48 L528.6 629.48 L528.6 631.2 L529.1 631.2 L529.1 630.47 L529.6 630.47 L529.6 630.48 L530.1 630.48 L530.1 631.2 L530.6 631.2 L530.6 631.2 L531.1 631.2 L531.1 629.63 L531.6 629.63 L531.6 631.2 L532.1 631.2 L532.1 631.2 L532.6 631.2 L532.6 629.76 L533.1 629.76 L533.1 617.7 L533.6 617.7 L533.6 617.7 L534.1 617.7 L534.1 629.47 L534.6 629.47 L534.6 631.2 L535.1 631.2 L535.1 631.2 L535.6 631.2 L535.6 629.99 L536.1 629.99 L536.1 631.2 L536.6 631.2 L536.6 631.2 L537.1 631.2 L537.1 631.2 L537.6 631.2 L537.6 631.2 L538.1 631.2 L538.1 631.2 L538.6 631.2 L538.6 630.99 L539.1 630.99 L539.1 631.2 L539.6 631.2 L539.6 631.2 L540.1 631.2 L540.1 630.37 L540.6 630.37 L540.6 629.53 L541.1 629.53 L541.1 630.58 L541.6 630.58 L541.6 630.9 L542.1 630.9 L542.1 630.36 L542.6 630.36 L542.6 631.2 L543.1 631.2 L543.1 631.2 L543.6 631.2 L543.6 631.2 L544.1 631.2 L544.1 631.2 L544.6 631.2 L544.6 631.2 L545.1 631.2 L545.1 631.2 L545.6 631.2 L545.6 629.41 L546.1 629.41 L546.1 630.7 L546.6 630.7 L546.6 631.2 L547.1 631.2 L547.1 629.78 L547.6 629.78 L547.6 631.2 L548.1 631.2 L548.1 631.2 L548.6 631.2 L548.6 631.2 L549.1 631.2 L549.1 631.2 L549.6 631.2 L549.6 630.43 L550.1 630.43 L550.1 631.2 L550.6 631.2 L550.6 631.2 L551.1 631.2 L551.1 630.06 L551.6 630.06 L551.6 631.2 L552.1 631.2 L552.1 631.2 L552.6 631.2 L552.6 631.2 L553.1 631.2 L553.1 631.2 L553.6 631.2 L553.6 631.2 L554.1 631.2 L554.1 631.2 L554.6 631.2 L554.6 631.2 L555.1 631.2 L555.1 631.2 L555.6 631.2 L555.6 631.2 L556.1 631.2 L556.1 631.2 L556.6 631.2 L556.6 629.52 L557.1 629.52 L557.1 631.2 L557.6 631.2 L557.6 631.2 L558.1 631.2 L558.1 631.2 L558.6 631.2 L558.6 631.2 L559.1 631.2 L559.1 630.62 L559.6 630.62 L559.6 630.06 L560.1 630.06 L560.1 631.2 L560.6 631.2 L560.6 630.04 L561.1 630.04 L561.1 631.2 L561.6 631.2 L561.6 631.2 L562.1 631.2 L562.1 631.2 L562.6 631.2 L562.6 631.2 L563.1 631.2 L563.1 631.2 L563.6 631.2 L563.6 631.2 L564.1 631.2 L564.1 629.89 L564.6 629.89 L564.6 631.2 L565.1 631.2 L565.1 629.98 L565.6 629.98 L565.6 631.2 L566.1 631.2 L566.1 631.2 L566.6 631.2 L566.6 631.2 L567.1 631.2 L567.1 630.15 L567.6 630.15 L567.6 630.09 L568.1 630.09 L568.1 631.2 L568.6 631.2 L568.6 631.2 L569.1 631.2 L569.1 631.2 L569.6 631.2 L569.6 631.2 L570.1 631.2 L570.1 631.2 L570.6 631.2 L570.6 631.2 L571.1 631.2 L571.1 631.2 L571.6 631.2 L571.6 631.2 L572.1 631.2 L572.1 631.2 L572.6 631.2 L572.6 631.2 L573.1 631.2 L573.1 631.2 L573.6 631.2 L573.6 631.2 L574.1 631.2 L574.1 631.2 L574.6 631.2 L574.6 627.49 L575.1 627.49 L575.1 631.2 L575.6 631.2 L575.6 631.2 L576.1 631.2 L576.1 631.2 L576.6 631.2 L576.6 631.2 L577.1 631.2 L577.1 631.2 L577.6 631.2 L577.6 631.2 L578.1 631.2 L578.1 631.2 L578.6 631.2 L578.6 631.2 L579.1 631.2 L579.1 631.2 L579.6 631.2 L579.6 629.77 L580.1 629.77 L580.1 619.42 L580.6 619.42 L580.6 617.24 L581.1 617.24 L581.1 617.46 L581.6 617.46 L581.6 617.92 L582.1 617.92 L582.1 618.38 L582.6 618.38 L582.6 619.39 L583.1 619.39 L583.1 619.35 L583.6 619.35 L583.6 619.61 L584.1 619.61 L584.1 617.4 L584.6 617.4 L584.6 617.15 L585.1 617.15 L585.1 617.71 L585.6 617.71 L585.6 619.04 L586.1 619.04 L586.1 617.44 L586.6 617.44 L586.6 617.02 L587.1 617.02 L587.1 619.56 L587.6 619.56 L587.6 618.09 L588.1 618.09 L588.1 619.2 L588.6 619.2 L588.6 631.2 L589.1 631.2 L589.1 631.2 L589.6 631.2 L589.6 631.2 L590.1 631.2 L590.1 631.2 L590.6 631.2 L590.6 629.63 L591.1 629.63 L591.1 631.2 L591.6 631.2 L591.6 631.2 L592.1 631.2 L592.1 631.2 L592.6 631.2 L592.6 631.2 L593.1 631.2 L593.1 630.35 L593.6 630.35 L593.6 631.2 L594.1 631.2 L594.1 629.77 L594.6 629.77 L594.6 631.2 L595.1 631.2 L595.1 631.2 L595.6 631.2 L595.6 630.75 L596.1 630.75 L596.1 610.4 L596.6 610.4 L596.6 610.4 L597.1 610.4 L597.1 628.72 L597.6 628.72 L597.6 628.56 L598.1 628.56 L598.1 629.52 L598.6 629.52 L598.6 628.17 L599.1 628.17 L599.1 628.74 L599.6 628.74 L599.6 628.99 L600.1 628.99 L600.1 629.43 L600.6 629.43 L600.6 629.66 L601.1 629.66 L601.1 631.2 L601.6 631.2 L601.6 631.2 L602.1 631.2 L602.1 629.57 L602.6 629.57 L602.6 631.2 L603.1 631.2 L603.1 629.64 L603.6 629.64 L603.6 630.94 L604.1 630.94 L604.1 631.2 L604.6 631.2 L604.6 631.2 L605.1 631.2 L605.1 630.1 L605.6 630.1 L605.6 631.2 L606.1 631.2 L606.1 630.44 L606.6 630.44 L606.6 630.92 L607.1 630.92 L607.1 631.2 L607.6 631.2 L607.6 629.73 L608.1 629.73 L608.1 631.2 L608.6 631.2 L608.6 630.56 L609.1 630.56 L609.1 629.59 L609.6 629.59 L609.6 631.2 L610.1 631.2 L610.1 631.2 L610.6 631.2 L610.6 629.77 L611.1 629.77 L611.1 631.2 L611.6 631.2 L611.6 631.2 L612.1 631.2 L612.1 631.2 L612.6 631.2 L612.6 629.67 L613.1 629.67 L613.1 631.2 L613.6 631.2 L613.6 631.2 L614.1 631.2 L614.1 631.2 L614.6 631.2 L614.6 630.21 L615.1 630.21 L615.1 631.2 L615.6 631.2 L615.6 631.2 L616.1 631.2 L616.1 631.2 L616.6 631.2 L616.6 631.2 L617.1 631.2 L617.1 631.2 L617.6 631.2 L617.6 631.2 L618.1 631.2 L618.1 631.2 L618.6 631.2 L618.6 630.87 L619.1 630.87 L619.1 631.2 L619.6 631.2 L619.6 631.2 L620.1 631.2 L620.1 630.04 L620.6 630.04 L620.6 629.81 L621.1 629.81 L621.1 629.5 L621.6 629.5 L621.6 629.57 L622.1 629.57 L622.1 631.2 L622.6 631.2 L622.6 627.25 L623.1 627.25 L623.1 631.2 L623.6 631.2 L623.6 630.13 L624.1 630.13 L624.1 631.2 L624.6 631.2 L624.6 630.32 L625.1 630.32 L625.1 630.85 L625.6 630.85 L625.6 631.2 L626.1 631.2 L626.1 630.69 L626.6 630.69 L626.6 631.2 L627.1 631.2 L627.1 631.2 L627.6 631.2 L627.6 629.65 L628.1 629.65 L628.1 631.2 L628.6 631.2 L628.6 631.2 L629.1 631.2 L629.1 630.45 L629.6 630.45 L629.6 629.89 L630.1 629.89 L630.1 630.41 L630.6 630.41 L630.6 631.2 L631.1 631.2 L631.1 631.2 L631.6 631.2 L631.6 631.2 L632.1 631.2 L632.1 629.93 L632.6 629.93 L632.6 631.2 L633.1 631.2 L633.1 630.35 L633.6 630.35 L633.6 631.2 L634.1 631.2 L634.1 631.2 L634.6 631.2 L634.6 631.2 L635.1 631.2 L635.1 631.2 L635.6 631.2 L635.6 626.87 L636.1 626.87 L636.1 626.31 L636.6 626.31 L636.6 626.79 L637.1 626.79 L637.1 626.59 L637.6 626.59 L637.6 631.2 L638.1 631.2 L638.1 631.2 L638.6 631.2 L638.6 629.44 L639.1 629.44 L639.1 629.53 L639.6 629.53 L639.6 629.45 L640.1 629.45 L640.1 631.2 L640.6 631.2 L640.6 631.2 L641.1 631.2 L641.1 629.97 L641.6 629.97 L641.6 629.51 L642.1 629.51 L642.1 631.2 L642.6 631.2 L642.6 630.65 L643.1 630.65 L643.1 631.2 L643.6 631.2 L643.6 630.37 L644.1 630.37 L644.1 627.89 L644.6 627.89 L644.6 631.2 L645.1 631.2 L645.1 631.2 L645.6 631.2 L645.6 631.2 L646.1 631.2 L646.1 631.2 L646.6 631.2 L646.6 631.2 L647.1 631.2 L647.1 631.2 L647.6 631.2 L647.6 631.2 L648.1 631.2 L648.1 630.55 L648.6 630.55 L648.6 629.49 L649.1 629.49 L649.1 631.2 L649.6 631.2 L649.6 631.2 L650.1 631.2 L650.1 630.65 L650.6 630.65 L650.6 630.7 L651.1 630.7 L651.1 631.2 L651.6 631.2 L651.6 631.2 L652.1 631.2 L652.1 631.2 L652.6 631.2 L652.6 631.2 L653.1 631.2 L653.1 631.2 L653.6 631.2 L653.6 631.2 L654.1 631.2 L654.1 631.2 L654.6 631.2 L654.6 631.2 L655.1 631.2 L655.1 630.82 L655.6 630.82 L655.6 631.2 L656.1 631.2 L656.1 629.7 L656.6 629.7 L656.6 631.2 L657.1 631.2 L657.1 630.08 L657.6 630.08 L657.6 630.75 L658.1 630.75 L658.1 631.2 L658.6 631.2 L658.6 629.97 L659.1 629.97 L659.1 631.2 L659.6 631.2 L659.6 630.61 L660.1 630.61 L660.1 631.2 L660.6 631.2 L660.6 631.2 L661.1 631.2 L661.1 630.26 L661.6 630.26 L661.6 630.17 L662.1 630.17 L662.1 629.78 L662.6 629.78 L662.6 630 L663.1 630 L663.1 629.65 L663.3 629.65 L663.3 631.2 Z" fill="#d05f60" stroke="none" stroke-width="1" />
<rect x="415" y="647.2" width="248.3" height="3.2" fill="#e2e2e2" />
<rect x="530.8" y="647.2" width="2.4" height="3.2" fill="#474747" />
<rect x="534.8" y="647.2" width="49.8" height="3.2" fill="#474747" />
<line x1="415" y1="658.2" x2="663.3" y2="658.2" stroke="#231f20" stroke-width="1.4" />
<line x1="415.7" y1="658.2" x2="415.7" y2="655.8" stroke="#231f20" stroke-width="1" />
<line x1="468.3" y1="658.2" x2="468.3" y2="655.8" stroke="#231f20" stroke-width="1" />
<line x1="520.9" y1="658.2" x2="520.9" y2="655.8" stroke="#231f20" stroke-width="1" />
<line x1="574" y1="658.2" x2="574" y2="655.8" stroke="#231f20" stroke-width="1" />
<line x1="626.6" y1="658.2" x2="626.6" y2="655.8" stroke="#231f20" stroke-width="1" />
<text x="415.2" y="668.6" font-size="8.1" font-weight="normal" font-style="normal" text-anchor="middle" fill="#231f20" >0</text>
<text x="468.3" y="668.6" font-size="8.1" font-weight="normal" font-style="normal" text-anchor="middle" fill="#231f20" >5</text>
<text x="520.9" y="668.6" font-size="8.1" font-weight="normal" font-style="normal" text-anchor="middle" fill="#231f20" >10</text>
<text x="574" y="668.6" font-size="8.1" font-weight="normal" font-style="normal" text-anchor="middle" fill="#231f20" >15</text>
<text x="621.5" y="668.6" font-size="8.1" font-weight="normal" font-style="normal" text-anchor="start" fill="#231f20" >20 Mb</text>
</svg>
</body></html>
